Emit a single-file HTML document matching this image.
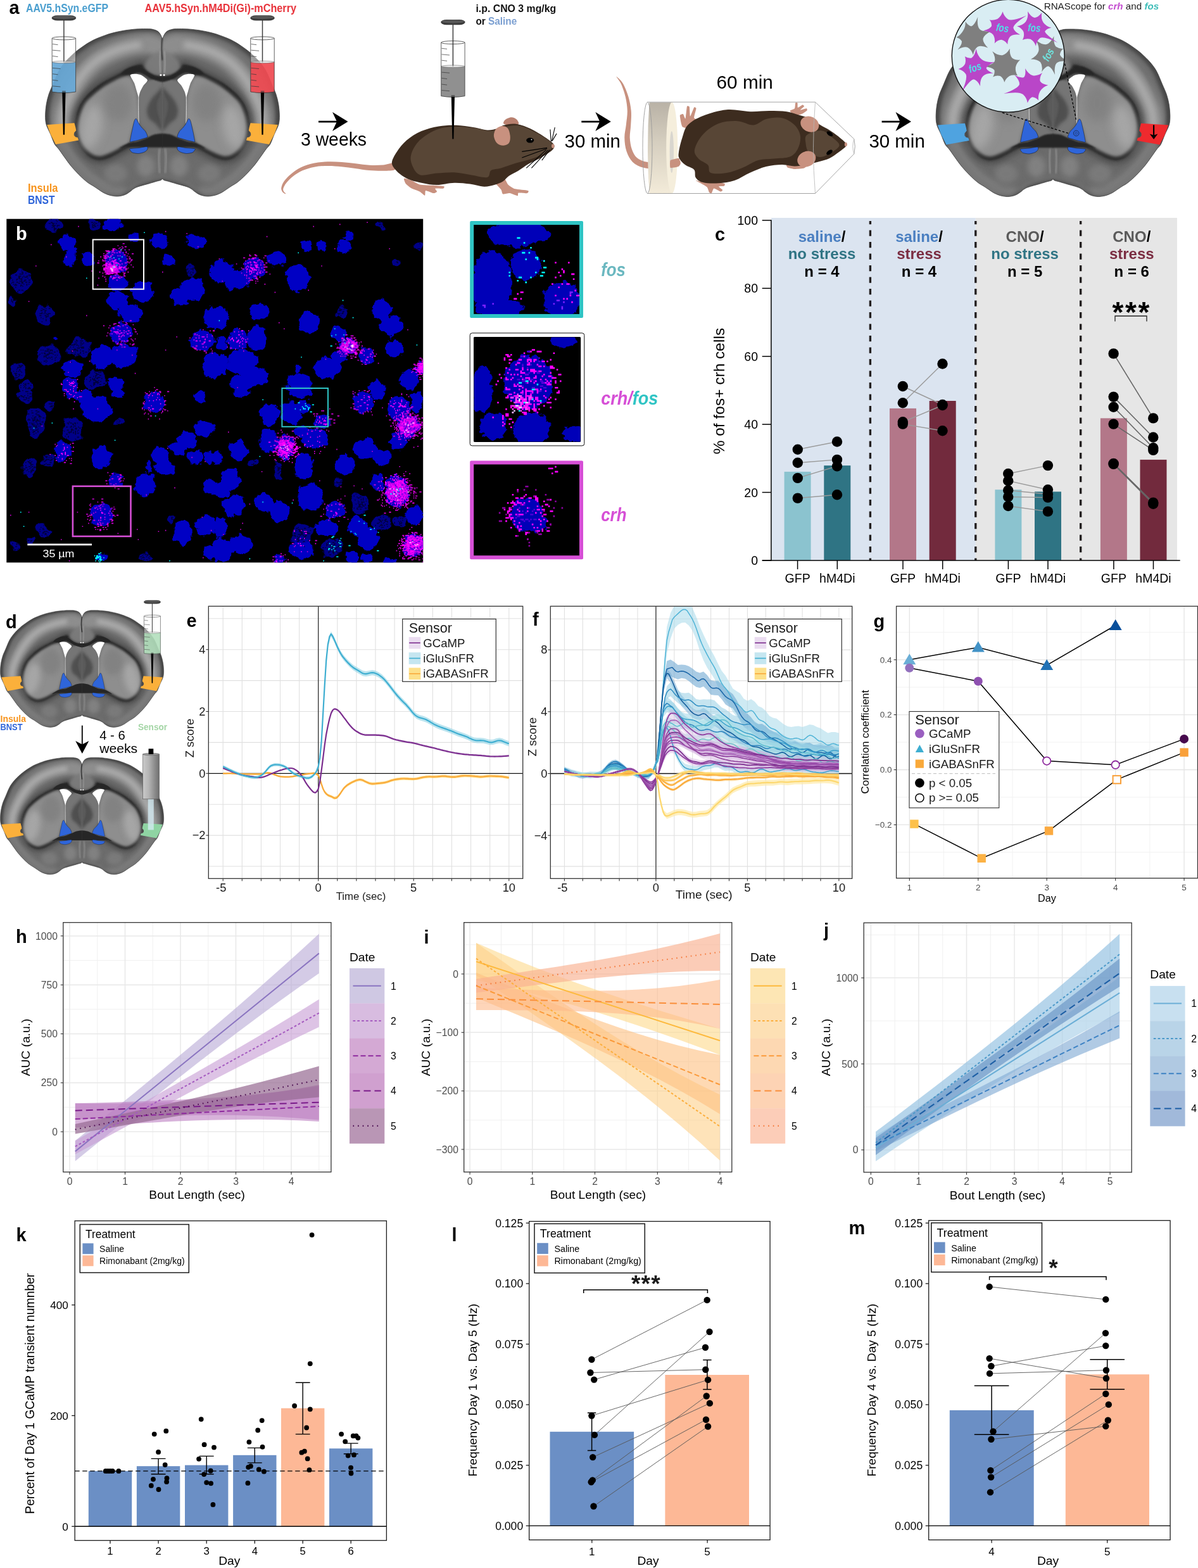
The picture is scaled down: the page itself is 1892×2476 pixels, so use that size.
<!DOCTYPE html>
<html lang="en"><head><meta charset="utf-8"><title>Figure</title>
<style>
html,body{margin:0;padding:0;background:#fff;}
body{width:1892px;height:2476px;overflow:hidden;}
svg{display:block;font-family:'Liberation Sans', Arial, Helvetica, sans-serif;}
</style></head><body>
<svg width="1892" height="2476" viewBox="0 0 1892 2476">
<rect width="1892" height="2476" fill="#fff"/>
<g id="panel_a">
<defs>
<filter id="bl1" x="-50%" y="-50%" width="200%" height="200%"><feGaussianBlur stdDeviation="0.9"/></filter>
<filter id="bl2" x="-50%" y="-50%" width="200%" height="200%"><feGaussianBlur stdDeviation="1.8"/></filter>
<filter id="bl3" x="-50%" y="-50%" width="200%" height="200%"><feGaussianBlur stdDeviation="2.7"/></filter>
<filter id="bl5" x="-50%" y="-50%" width="200%" height="200%"><feGaussianBlur stdDeviation="4.5"/></filter>
<filter id="bl8" x="-50%" y="-50%" width="200%" height="200%"><feGaussianBlur stdDeviation="7.2"/></filter>
<clipPath id="bclip"><path d="M256.4 61.1C256 60.3 255 57.5 254.2 55.9C253.3 54.2 252.5 52.6 251.4 51.4C250.3 50.1 248.9 49.1 247.3 48.3C245.7 47.5 244.2 47 242 46.5C239.9 46 238.2 45.7 234.3 45.6C230.3 45.4 223.1 45.5 218.3 45.7C213.4 45.9 209.5 46.4 205.1 46.9C200.7 47.4 196.3 48 191.9 48.9C187.5 49.7 183.1 50.6 178.7 51.8C174.3 52.9 169.9 54.3 165.5 55.9C161.1 57.4 156.3 59.3 152.3 61C148.4 62.7 145.1 64.4 141.8 66.3C138.5 68.1 135.6 70.1 132.5 72.2C129.5 74.3 126.2 76.6 123.3 78.8C120.5 81 118.7 82.3 115.4 85.4C112.1 88.5 107.3 92.9 103.5 97.3C99.8 101.7 96.3 105.8 93 111.8C89.7 117.7 86.4 126.7 83.7 132.9C81.1 139 78.9 143.4 77.1 148.7C75.4 154 74.1 159.1 73.2 164.5C72.3 170 71.7 176.4 71.6 181.7C71.6 187 71.6 191.1 72.9 196.2C74.3 201.3 77.6 206.8 79.8 212C82 217.2 84.1 223.6 86.2 227.5C88.4 231.3 89.9 231.6 92.4 235C95 238.3 97.9 242.9 101.3 247.5C104.6 252.1 108.5 257.8 112.5 262.6C116.5 267.3 120.9 272.1 125 276.3C129.2 280.4 133.8 284.6 137.6 287.5C141.3 290.4 144.6 291.9 147.5 293.8C150.4 295.7 152.5 297.2 155 298.8C157.5 300.5 159.6 302.3 162.5 303.8C165.4 305.4 168.8 307 172.5 308.1C176.3 309.1 180.9 310.1 185 310C189.2 310 193.9 308.9 197.4 307.5C201 306.2 204.2 303.3 206.3 301.9C208.4 300.4 208.1 300 210 298.8C211.8 297.7 213.3 296.5 217.5 295C221.7 293.5 230.1 291.4 235 290C240 288.5 244.3 287.2 247.4 286.3C250.6 285.4 252.4 285.3 253.9 284.6C255.4 283.9 256 282.6 256.4 282.2C257 282.6 257.6 283.9 259.1 284.6C260.6 285.3 262.4 285.4 265.6 286.3C268.7 287.2 273 288.5 278 290C282.9 291.4 291.3 293.5 295.5 295C299.7 296.5 301.2 297.7 303 298.8C304.9 300 304.6 300.4 306.7 301.9C308.8 303.3 312 306.2 315.6 307.5C319.1 308.9 323.8 310 328 310C332.1 310.1 336.7 309.1 340.5 308.1C344.2 307 347.6 305.4 350.5 303.8C353.4 302.3 355.5 300.5 358 298.8C360.5 297.2 362.6 295.7 365.5 293.8C368.4 291.9 371.7 290.4 375.4 287.5C379.2 284.6 383.8 280.4 388 276.3C392.1 272.1 396.5 267.3 400.5 262.6C404.5 257.8 408.4 252.1 411.7 247.5C415.1 242.9 418 238.3 420.6 235C423.1 231.6 424.6 231.3 426.8 227.5C428.9 223.6 431 217.2 433.2 212C435.4 206.8 438.7 201.3 440.1 196.2C441.4 191.1 441.4 187 441.4 181.7C441.3 176.4 440.7 170 439.8 164.5C438.9 159.1 437.6 154 435.9 148.7C434.1 143.4 431.9 139 429.3 132.9C426.6 126.7 423.3 117.7 420 111.8C416.7 105.8 413.2 101.7 409.5 97.3C405.7 92.9 400.9 88.5 397.6 85.4C394.3 82.3 392.5 81 389.7 78.8C386.8 76.6 383.5 74.3 380.5 72.2C377.4 70.1 374.5 68.1 371.2 66.3C367.9 64.4 364.6 62.7 360.7 61C356.7 59.3 351.9 57.4 347.5 55.9C343.1 54.3 338.7 52.9 334.3 51.8C329.9 50.6 325.5 49.7 321.1 48.9C316.7 48 312.3 47.4 307.9 46.9C303.5 46.4 299.6 45.9 294.7 45.7C289.9 45.5 282.7 45.4 278.7 45.6C274.8 45.7 273.1 46 271 46.5C268.8 47 267.3 47.5 265.7 48.3C264.1 49.1 262.7 50.1 261.6 51.4C260.5 52.6 259.7 54.2 258.8 55.9C258 57.5 257 60.3 256.6 61.1Z"/></clipPath>
<clipPath id="bhalf"><rect x="0" y="0" width="256.8" height="400"/></clipPath>
<g id="bhalfg" clip-path="url(#bhalf)"><path d="M247.3 73.5C245.6 72.9 241.6 70 236.8 69.6C231.9 69.1 224.7 70 218.3 70.9C211.9 71.8 205.1 73.1 198.5 74.8C191.9 76.6 185.1 78.8 178.7 81.4C172.3 84.1 166 87.2 160.3 90.7C154.5 94.2 149.5 97.9 144.4 102.5C139.4 107.2 134.5 112.4 129.9 118.4C125.3 124.3 120.7 131.3 116.7 138.2C112.8 145 109 152.7 106.2 159.3C103.3 165.9 101 171.6 99.6 177.7C98.1 183.9 97.9 193.1 97.6 196.2" fill="none" stroke="#909090" stroke-width="30" stroke-linecap="round" filter="url(#bl5)" opacity="0.95"/>
<path d="M218.3 70.9C215 71.6 205.1 73.1 198.5 74.8C191.9 76.6 185.1 78.8 178.7 81.4C172.3 84.1 166 87.2 160.3 90.7C154.5 94.2 149.5 97.9 144.4 102.5C139.4 107.2 134.5 112.4 129.9 118.4C125.3 124.3 120.7 131.3 116.7 138.2C112.8 145 109 152.7 106.2 159.3C103.3 165.9 101 171.6 99.6 177.7C98.1 183.9 97.9 193.1 97.6 196.2" fill="none" stroke="#b4b4b4" stroke-width="11" stroke-linecap="round" filter="url(#bl5)" opacity="0.8"/>
<path d="M99.6 233.1C101.8 236.7 107.9 247.6 112.8 254.2C117.6 260.8 123.1 267.2 128.6 272.7C134.1 278.2 139.6 283.3 145.7 287.2C151.9 291.2 158.9 294.7 165.5 296.5C172.1 298.2 182 297.6 185.3 297.8" fill="none" stroke="#7c7c7c" stroke-width="26" stroke-linecap="round" filter="url(#bl5)" opacity="0.9"/>
<path d="M160.3 254.2C162.9 250.3 171.2 252.9 178.7 251.6C186.2 250.3 196.3 247.6 205.1 246.3C213.9 245 223.3 244.1 231.5 243.7C239.6 243.3 250.2 238 253.9 243.7C257.6 249.4 257.6 271.8 253.9 278C250.2 284.1 238.5 279.3 231.5 280.6C224.4 281.9 218.3 283.7 211.7 285.9C205.1 288.1 197.8 292.9 191.9 293.8C186 294.7 180.9 294.3 176.1 291.2C171.2 288.1 165.5 281.5 162.9 275.4C160.3 269.2 157.6 258.2 160.3 254.2Z" fill="#6c6c6c" filter="url(#bl5)"/>
<ellipse cx="230.2" cy="262.2" rx="14" ry="17" fill="#868686" filter="url(#bl5)" opacity="0.8"/>
<ellipse cx="182.7" cy="274.0" rx="18" ry="15" fill="#7e7e7e" filter="url(#bl5)" opacity="0.8"/>
<path d="M256.5 125.6C254.6 125.1 248.4 124 244.7 122.3C240.9 120.7 237.2 117.9 234.1 115.7C231 113.5 228.4 110.9 226.2 109.1C224.1 107.4 223.9 105.3 221.2 105.5C218.5 105.6 213.9 108.1 210 109.9C206 111.7 201.6 114.2 197.4 116.3C193.3 118.4 189.2 120.4 185 122.5C180.9 124.6 176.7 126.5 172.5 128.8C168.3 131.1 164.2 133.3 160 136.2C155.8 139.1 151.2 142.9 147.5 146.2C143.7 149.6 140.5 152.7 137.6 156.2C134.7 159.8 132.1 163.5 130 167.4C128 171.4 126.3 175.8 125 180C123.8 184.1 123.2 188.4 122.7 192.2C122.2 196.1 121.9 199.1 122 202.8C122.1 206.5 122.4 210.9 123.3 214.7C124.2 218.4 125.5 221.7 127.3 225.2C129 228.7 131 232.5 133.9 235.8C136.7 239.1 140.7 242.8 144.4 245C148.2 247.2 152.1 248.7 156.3 249C160.5 249.2 165.1 247.9 169.5 246.3C173.9 244.8 178.5 241.9 182.7 239.7C186.9 237.5 190.8 235.1 194.5 233.1C198.3 231.2 203.3 228.7 205.1 227.9" fill="none" stroke="#3c3c3c" stroke-width="20" filter="url(#bl5)" opacity="0.6"/>
<path d="M256.5 125.6C254.6 125.1 248.4 124 244.7 122.3C240.9 120.7 237.2 117.9 234.1 115.7C231 113.5 228.4 110.9 226.2 109.1C224.1 107.4 223.9 105.3 221.2 105.5C218.5 105.6 213.9 108.1 210 109.9C206 111.7 201.6 114.2 197.4 116.3C193.3 118.4 189.2 120.4 185 122.5C180.9 124.6 176.7 126.5 172.5 128.8C168.3 131.1 164.2 133.3 160 136.2C155.8 139.1 151.2 142.9 147.5 146.2C143.7 149.6 140.5 152.7 137.6 156.2C134.7 159.8 132.1 163.5 130 167.4C128 171.4 126.3 175.8 125 180C123.8 184.1 123.2 188.4 122.7 192.2C122.2 196.1 121.9 199.1 122 202.8C122.1 206.5 122.4 210.9 123.3 214.7C124.2 218.4 125.5 221.7 127.3 225.2C129 228.7 131 232.5 133.9 235.8C136.7 239.1 140.7 242.8 144.4 245C148.2 247.2 152.1 248.7 156.3 249C160.5 249.2 165.1 247.9 169.5 246.3C173.9 244.8 178.5 241.9 182.7 239.7C186.9 237.5 190.8 235.1 194.5 233.1C198.3 231.2 203.3 228.7 205.1 227.9" fill="none" stroke="#2c2c2c" stroke-width="8" filter="url(#bl2)" opacity="0.9"/>
<path d="M221.2 105.5C219.3 106.2 213.9 108.1 210 109.9C206 111.7 201.6 114.2 197.4 116.3C193.3 118.4 189.2 120.4 185 122.5C180.9 124.6 176.7 126.5 172.5 128.8C168.3 131.1 164.2 133.3 160 136.2C155.8 139.1 151.2 142.9 147.5 146.2C143.7 149.6 140.5 152.7 137.6 156.2C134.7 159.8 132.1 163.5 130 167.4C128 171.4 125.9 177.9 125 180" fill="none" stroke="#2a2a2a" stroke-width="4.5" stroke-linecap="round" filter="url(#bl1)" opacity="0.95"/>
<path d="M205.1 121C208.4 122.8 209.8 128.3 211.7 132.9C213.6 137.5 215.2 142.8 216.3 148.7C217.4 154.7 217.9 161.9 218.3 168.5C218.7 175.1 220.3 182.8 219 188.3C217.6 193.8 212.5 197.1 210.4 201.5C208.3 205.9 207.6 210.5 206.4 214.7C205.2 218.8 205.5 223.7 203.1 226.5C200.7 229.4 196 229.7 191.9 231.8C187.8 233.9 183.1 237 178.7 239.1C174.3 241.2 169.5 243.1 165.5 244.4C161.6 245.6 158.5 246.7 155 246.3C151.5 246 147.7 244.5 144.4 242.4C141.1 240.3 137.7 236.9 135.2 233.8C132.7 230.7 130.9 227.3 129.3 223.9C127.6 220.5 126.2 217.1 125.3 213.4C124.4 209.6 123.9 205.7 124 201.5C124 197.3 124.7 192.7 125.6 188.3C126.4 183.9 127.6 179.4 129.3 175.1C130.9 170.8 132.9 166.1 135.2 162.6C137.5 159.1 140 157 143.1 154C146.2 151 149.9 147.7 153.7 144.8C157.4 141.8 161.3 138.8 165.5 136.2C169.7 133.5 174.3 131.2 178.7 128.9C183.1 126.6 187.5 123.7 191.9 122.3C196.3 121 201.8 119.3 205.1 121Z" fill="#8e8e8e" filter="url(#bl3)"/>
<ellipse cx="144.4" cy="200.2" rx="17" ry="36" fill="#a9a9a9" filter="url(#bl8)" opacity="0.9" transform="rotate(12 144.4 200.2)"/>
<ellipse cx="186.6" cy="161.9" rx="22" ry="30" fill="#7a7a7a" filter="url(#bl8)" opacity="0.6"/>
<path d="M221.3 145C222.8 138.3 226.2 135.7 229 132.6C231.9 129.5 233.8 126.9 238.3 126.4C242.9 125.9 253.4 115.3 256.4 129.5C259.5 143.7 258.4 197.7 256.4 211.5C254.5 225.3 248.1 211.5 244.5 212.3C241 213.1 237.3 216.1 235.2 216.2C233.2 216.3 233.2 215.2 232.1 213.1C231.1 211 230.7 206.9 229 203.8C227.4 200.7 223.6 199.7 222.1 194.5C220.6 189.4 220.2 181.1 220.1 172.9C219.9 164.6 219.8 151.7 221.3 145Z" fill="#757575" filter="url(#bl2)"/>
<path d="M256.4 135.7C255.2 137.3 252.2 141.4 249.2 145C246.1 148.6 241.2 152.7 238.3 157.4C235.5 162 232.7 168 232.1 172.9C231.6 177.8 233.2 183.2 235.2 186.8C237.3 190.4 241.7 191.7 244.5 194.5C247.4 197.4 250.3 201.5 252.3 203.8C254.2 206.1 255.7 207.7 256.4 208.5Z" fill="#4e4e4e" filter="url(#bl3)" opacity="0.95"/>
<path d="M256.4 145C255.7 146.3 253.7 149.6 252.3 152.7C250.8 155.8 248.1 159.2 247.6 163.6C247.1 168 248.1 174.4 249.2 179C250.2 183.7 252.6 188.1 253.8 191.4C255 194.8 256 197.9 256.4 199.2Z" fill="#5c5c5c" filter="url(#bl2)" opacity="0.9"/>
<path d="M256.4 80C253.9 81 245.7 83.1 241.4 86.2C237.1 89.3 232.7 95 230.6 98.6C228.5 102.2 227.8 104.9 229 107.9C230.3 110.8 233.8 114.3 238.3 116.4C242.9 118.5 253.4 119.9 256.4 120.5Z" fill="#7d7d7d" filter="url(#bl3)" opacity="0.9"/>
<path d="M253.8 80C253.6 83.1 252.3 92.6 252.3 98.6C252.3 104.5 253.6 112.8 253.8 115.6" fill="none" stroke="#a0a0a0" stroke-width="3" filter="url(#bl2)" opacity="0.8"/>
<path d="M268.4 119.5C266.8 118.7 259.6 120.5 256.4 120.5C253.3 120.5 247.4 120.2 244.5 119.5C241.7 118.7 237.7 116.3 235.2 114.8C232.8 113.4 228.4 110 226 108.6C223.5 107.2 219.1 104.9 216.7 104.5C214.2 104 210.1 104.7 207.4 105.5C204.7 106.4 198.6 109.4 196.5 111C194.5 112.5 190.7 116.2 191.9 117.1C193.1 118.1 203.2 118.2 205.8 118.1C208.5 117.9 210.2 116.3 212 115.9C213.9 115.5 217.5 114.7 219.8 115C222 115.3 227 117.2 229 118.1C231.1 119 233.2 120.7 235.2 121.8C237.3 122.9 241.7 125.4 244.5 126.4C247.4 127.4 253.3 129.2 256.4 129.2C259.6 129.2 266.8 127.7 268.4 126.4C269.9 125.1 269.9 120.2 268.4 119.5Z" fill="#262626" filter="url(#bl1)"/>
<path d="M205.8 118.7C206 117 211.6 116.9 213.6 116.8C215.6 116.8 220.6 117.3 222.9 118.4C225.1 119.5 232.5 124.4 232.9 126.4C233.3 128.4 227.6 133.3 226.3 135.4C224.9 137.5 222.5 142.2 221.6 144.2C220.8 146.2 219.5 151.7 219.1 152.7C218.8 153.7 218.9 153.7 218.5 152.7C218.2 151.7 216.8 146.8 216 144.2C215.3 141.7 213.2 134.1 212 131.1C210.8 128.1 205.7 120.4 205.8 118.7Z" fill="#fff"/>
<path d="M218.8 151.2C218.8 153.8 218.7 161.5 218.7 166.7C218.7 171.8 218.8 177.4 218.8 182.1C218.9 186.9 219.1 193.1 219.1 195.3" fill="none" stroke="#fff" stroke-width="0.9" opacity="0.85"/>
<path d="M268.4 212.3C266.8 209.4 259.6 210.8 256.4 210.8C253.3 210.8 247.4 211.6 244.5 212.3C241.7 213 237.7 215.2 235.2 216.2C232.8 217.2 228.4 219.1 226 220.1C223.5 221 219.3 222.5 216.7 223.2C214 223.8 208.5 224.2 205.8 225C203.2 225.8 198.8 228 196.5 229.3C194.3 230.6 188.6 234.4 188.8 234.8C189 235.2 195.6 232.7 198.1 232.4C200.6 232.2 204.1 232.7 207.4 232.8C210.7 232.8 218.7 232.8 222.9 232.8C227 232.8 233.9 232.8 238.3 232.8C242.8 232.8 252.4 232.8 256.4 232.8C260.4 232.8 266.8 235.5 268.4 232.8C269.9 230 269.9 215.3 268.4 212.3Z" fill="#262626" filter="url(#bl1)"/>
<path d="M252.3 234.8C252 237.3 250.7 243.8 250.7 250.2C250.7 256.7 252 269.6 252.3 273.5" fill="none" stroke="#8c8c8c" stroke-width="4" filter="url(#bl2)" opacity="0.8"/></g>
<g id="brain">
<path d="M256.4 61.1C256 60.3 255 57.5 254.2 55.9C253.3 54.2 252.5 52.6 251.4 51.4C250.3 50.1 248.9 49.1 247.3 48.3C245.7 47.5 244.2 47 242 46.5C239.9 46 238.2 45.7 234.3 45.6C230.3 45.4 223.1 45.5 218.3 45.7C213.4 45.9 209.5 46.4 205.1 46.9C200.7 47.4 196.3 48 191.9 48.9C187.5 49.7 183.1 50.6 178.7 51.8C174.3 52.9 169.9 54.3 165.5 55.9C161.1 57.4 156.3 59.3 152.3 61C148.4 62.7 145.1 64.4 141.8 66.3C138.5 68.1 135.6 70.1 132.5 72.2C129.5 74.3 126.2 76.6 123.3 78.8C120.5 81 118.7 82.3 115.4 85.4C112.1 88.5 107.3 92.9 103.5 97.3C99.8 101.7 96.3 105.8 93 111.8C89.7 117.7 86.4 126.7 83.7 132.9C81.1 139 78.9 143.4 77.1 148.7C75.4 154 74.1 159.1 73.2 164.5C72.3 170 71.7 176.4 71.6 181.7C71.6 187 71.6 191.1 72.9 196.2C74.3 201.3 77.6 206.8 79.8 212C82 217.2 84.1 223.6 86.2 227.5C88.4 231.3 89.9 231.6 92.4 235C95 238.3 97.9 242.9 101.3 247.5C104.6 252.1 108.5 257.8 112.5 262.6C116.5 267.3 120.9 272.1 125 276.3C129.2 280.4 133.8 284.6 137.6 287.5C141.3 290.4 144.6 291.9 147.5 293.8C150.4 295.7 152.5 297.2 155 298.8C157.5 300.5 159.6 302.3 162.5 303.8C165.4 305.4 168.8 307 172.5 308.1C176.3 309.1 180.9 310.1 185 310C189.2 310 193.9 308.9 197.4 307.5C201 306.2 204.2 303.3 206.3 301.9C208.4 300.4 208.1 300 210 298.8C211.8 297.7 213.3 296.5 217.5 295C221.7 293.5 230.1 291.4 235 290C240 288.5 244.3 287.2 247.4 286.3C250.6 285.4 252.4 285.3 253.9 284.6C255.4 283.9 256 282.6 256.4 282.2C257 282.6 257.6 283.9 259.1 284.6C260.6 285.3 262.4 285.4 265.6 286.3C268.7 287.2 273 288.5 278 290C282.9 291.4 291.3 293.5 295.5 295C299.7 296.5 301.2 297.7 303 298.8C304.9 300 304.6 300.4 306.7 301.9C308.8 303.3 312 306.2 315.6 307.5C319.1 308.9 323.8 310 328 310C332.1 310.1 336.7 309.1 340.5 308.1C344.2 307 347.6 305.4 350.5 303.8C353.4 302.3 355.5 300.5 358 298.8C360.5 297.2 362.6 295.7 365.5 293.8C368.4 291.9 371.7 290.4 375.4 287.5C379.2 284.6 383.8 280.4 388 276.3C392.1 272.1 396.5 267.3 400.5 262.6C404.5 257.8 408.4 252.1 411.7 247.5C415.1 242.9 418 238.3 420.6 235C423.1 231.6 424.6 231.3 426.8 227.5C428.9 223.6 431 217.2 433.2 212C435.4 206.8 438.7 201.3 440.1 196.2C441.4 191.1 441.4 187 441.4 181.7C441.3 176.4 440.7 170 439.8 164.5C438.9 159.1 437.6 154 435.9 148.7C434.1 143.4 431.9 139 429.3 132.9C426.6 126.7 423.3 117.7 420 111.8C416.7 105.8 413.2 101.7 409.5 97.3C405.7 92.9 400.9 88.5 397.6 85.4C394.3 82.3 392.5 81 389.7 78.8C386.8 76.6 383.5 74.3 380.5 72.2C377.4 70.1 374.5 68.1 371.2 66.3C367.9 64.4 364.6 62.7 360.7 61C356.7 59.3 351.9 57.4 347.5 55.9C343.1 54.3 338.7 52.9 334.3 51.8C329.9 50.6 325.5 49.7 321.1 48.9C316.7 48 312.3 47.4 307.9 46.9C303.5 46.4 299.6 45.9 294.7 45.7C289.9 45.5 282.7 45.4 278.7 45.6C274.8 45.7 273.1 46 271 46.5C268.8 47 267.3 47.5 265.7 48.3C264.1 49.1 262.7 50.1 261.6 51.4C260.5 52.6 259.7 54.2 258.8 55.9C258 57.5 257 60.3 256.6 61.1Z" fill="#474747"/>
<g clip-path="url(#bclip)">
<path d="M256.4 61.1C256 60.3 255 57.5 254.2 55.9C253.3 54.2 252.5 52.6 251.4 51.4C250.3 50.1 248.9 49.1 247.3 48.3C245.7 47.5 244.2 47 242 46.5C239.9 46 238.2 45.7 234.3 45.6C230.3 45.4 223.1 45.5 218.3 45.7C213.4 45.9 209.5 46.4 205.1 46.9C200.7 47.4 196.3 48 191.9 48.9C187.5 49.7 183.1 50.6 178.7 51.8C174.3 52.9 169.9 54.3 165.5 55.9C161.1 57.4 156.3 59.3 152.3 61C148.4 62.7 145.1 64.4 141.8 66.3C138.5 68.1 135.6 70.1 132.5 72.2C129.5 74.3 126.2 76.6 123.3 78.8C120.5 81 118.7 82.3 115.4 85.4C112.1 88.5 107.3 92.9 103.5 97.3C99.8 101.7 96.3 105.8 93 111.8C89.7 117.7 86.4 126.7 83.7 132.9C81.1 139 78.9 143.4 77.1 148.7C75.4 154 74.1 159.1 73.2 164.5C72.3 170 71.7 176.4 71.6 181.7C71.6 187 71.6 191.1 72.9 196.2C74.3 201.3 77.6 206.8 79.8 212C82 217.2 84.1 223.6 86.2 227.5C88.4 231.3 89.9 231.6 92.4 235C95 238.3 97.9 242.9 101.3 247.5C104.6 252.1 108.5 257.8 112.5 262.6C116.5 267.3 120.9 272.1 125 276.3C129.2 280.4 133.8 284.6 137.6 287.5C141.3 290.4 144.6 291.9 147.5 293.8C150.4 295.7 152.5 297.2 155 298.8C157.5 300.5 159.6 302.3 162.5 303.8C165.4 305.4 168.8 307 172.5 308.1C176.3 309.1 180.9 310.1 185 310C189.2 310 193.9 308.9 197.4 307.5C201 306.2 204.2 303.3 206.3 301.9C208.4 300.4 208.1 300 210 298.8C211.8 297.7 213.3 296.5 217.5 295C221.7 293.5 230.1 291.4 235 290C240 288.5 244.3 287.2 247.4 286.3C250.6 285.4 252.4 285.3 253.9 284.6C255.4 283.9 256 282.6 256.4 282.2C257 282.6 257.6 283.9 259.1 284.6C260.6 285.3 262.4 285.4 265.6 286.3C268.7 287.2 273 288.5 278 290C282.9 291.4 291.3 293.5 295.5 295C299.7 296.5 301.2 297.7 303 298.8C304.9 300 304.6 300.4 306.7 301.9C308.8 303.3 312 306.2 315.6 307.5C319.1 308.9 323.8 310 328 310C332.1 310.1 336.7 309.1 340.5 308.1C344.2 307 347.6 305.4 350.5 303.8C353.4 302.3 355.5 300.5 358 298.8C360.5 297.2 362.6 295.7 365.5 293.8C368.4 291.9 371.7 290.4 375.4 287.5C379.2 284.6 383.8 280.4 388 276.3C392.1 272.1 396.5 267.3 400.5 262.6C404.5 257.8 408.4 252.1 411.7 247.5C415.1 242.9 418 238.3 420.6 235C423.1 231.6 424.6 231.3 426.8 227.5C428.9 223.6 431 217.2 433.2 212C435.4 206.8 438.7 201.3 440.1 196.2C441.4 191.1 441.4 187 441.4 181.7C441.3 176.4 440.7 170 439.8 164.5C438.9 159.1 437.6 154 435.9 148.7C434.1 143.4 431.9 139 429.3 132.9C426.6 126.7 423.3 117.7 420 111.8C416.7 105.8 413.2 101.7 409.5 97.3C405.7 92.9 400.9 88.5 397.6 85.4C394.3 82.3 392.5 81 389.7 78.8C386.8 76.6 383.5 74.3 380.5 72.2C377.4 70.1 374.5 68.1 371.2 66.3C367.9 64.4 364.6 62.7 360.7 61C356.7 59.3 351.9 57.4 347.5 55.9C343.1 54.3 338.7 52.9 334.3 51.8C329.9 50.6 325.5 49.7 321.1 48.9C316.7 48 312.3 47.4 307.9 46.9C303.5 46.4 299.6 45.9 294.7 45.7C289.9 45.5 282.7 45.4 278.7 45.6C274.8 45.7 273.1 46 271 46.5C268.8 47 267.3 47.5 265.7 48.3C264.1 49.1 262.7 50.1 261.6 51.4C260.5 52.6 259.7 54.2 258.8 55.9C258 57.5 257 60.3 256.6 61.1Z" fill="none" stroke="#6e6e6e" stroke-width="14" filter="url(#bl3)" transform="translate(256.5 178) scale(0.93 0.92) translate(-256.5 -178)"/>
<path d="M256.4 61.1C256 60.3 255 57.5 254.2 55.9C253.3 54.2 252.5 52.6 251.4 51.4C250.3 50.1 248.9 49.1 247.3 48.3C245.7 47.5 244.2 47 242 46.5C239.9 46 238.2 45.7 234.3 45.6C230.3 45.4 223.1 45.5 218.3 45.7C213.4 45.9 209.5 46.4 205.1 46.9C200.7 47.4 196.3 48 191.9 48.9C187.5 49.7 183.1 50.6 178.7 51.8C174.3 52.9 169.9 54.3 165.5 55.9C161.1 57.4 156.3 59.3 152.3 61C148.4 62.7 145.1 64.4 141.8 66.3C138.5 68.1 135.6 70.1 132.5 72.2C129.5 74.3 126.2 76.6 123.3 78.8C120.5 81 118.7 82.3 115.4 85.4C112.1 88.5 107.3 92.9 103.5 97.3C99.8 101.7 96.3 105.8 93 111.8C89.7 117.7 86.4 126.7 83.7 132.9C81.1 139 78.9 143.4 77.1 148.7C75.4 154 74.1 159.1 73.2 164.5C72.3 170 71.7 176.4 71.6 181.7C71.6 187 71.6 191.1 72.9 196.2C74.3 201.3 77.6 206.8 79.8 212C82 217.2 84.1 223.6 86.2 227.5C88.4 231.3 89.9 231.6 92.4 235C95 238.3 97.9 242.9 101.3 247.5C104.6 252.1 108.5 257.8 112.5 262.6C116.5 267.3 120.9 272.1 125 276.3C129.2 280.4 133.8 284.6 137.6 287.5C141.3 290.4 144.6 291.9 147.5 293.8C150.4 295.7 152.5 297.2 155 298.8C157.5 300.5 159.6 302.3 162.5 303.8C165.4 305.4 168.8 307 172.5 308.1C176.3 309.1 180.9 310.1 185 310C189.2 310 193.9 308.9 197.4 307.5C201 306.2 204.2 303.3 206.3 301.9C208.4 300.4 208.1 300 210 298.8C211.8 297.7 213.3 296.5 217.5 295C221.7 293.5 230.1 291.4 235 290C240 288.5 244.3 287.2 247.4 286.3C250.6 285.4 252.4 285.3 253.9 284.6C255.4 283.9 256 282.6 256.4 282.2C257 282.6 257.6 283.9 259.1 284.6C260.6 285.3 262.4 285.4 265.6 286.3C268.7 287.2 273 288.5 278 290C282.9 291.4 291.3 293.5 295.5 295C299.7 296.5 301.2 297.7 303 298.8C304.9 300 304.6 300.4 306.7 301.9C308.8 303.3 312 306.2 315.6 307.5C319.1 308.9 323.8 310 328 310C332.1 310.1 336.7 309.1 340.5 308.1C344.2 307 347.6 305.4 350.5 303.8C353.4 302.3 355.5 300.5 358 298.8C360.5 297.2 362.6 295.7 365.5 293.8C368.4 291.9 371.7 290.4 375.4 287.5C379.2 284.6 383.8 280.4 388 276.3C392.1 272.1 396.5 267.3 400.5 262.6C404.5 257.8 408.4 252.1 411.7 247.5C415.1 242.9 418 238.3 420.6 235C423.1 231.6 424.6 231.3 426.8 227.5C428.9 223.6 431 217.2 433.2 212C435.4 206.8 438.7 201.3 440.1 196.2C441.4 191.1 441.4 187 441.4 181.7C441.3 176.4 440.7 170 439.8 164.5C438.9 159.1 437.6 154 435.9 148.7C434.1 143.4 431.9 139 429.3 132.9C426.6 126.7 423.3 117.7 420 111.8C416.7 105.8 413.2 101.7 409.5 97.3C405.7 92.9 400.9 88.5 397.6 85.4C394.3 82.3 392.5 81 389.7 78.8C386.8 76.6 383.5 74.3 380.5 72.2C377.4 70.1 374.5 68.1 371.2 66.3C367.9 64.4 364.6 62.7 360.7 61C356.7 59.3 351.9 57.4 347.5 55.9C343.1 54.3 338.7 52.9 334.3 51.8C329.9 50.6 325.5 49.7 321.1 48.9C316.7 48 312.3 47.4 307.9 46.9C303.5 46.4 299.6 45.9 294.7 45.7C289.9 45.5 282.7 45.4 278.7 45.6C274.8 45.7 273.1 46 271 46.5C268.8 47 267.3 47.5 265.7 48.3C264.1 49.1 262.7 50.1 261.6 51.4C260.5 52.6 259.7 54.2 258.8 55.9C258 57.5 257 60.3 256.6 61.1Z" fill="#6a6a6a" filter="url(#bl3)" transform="translate(256.5 178) scale(0.9 0.9) translate(-256.5 -178)"/>
<use href="#bhalfg"/>
<use href="#bhalfg" transform="translate(513.0 0) scale(-1 1)"/>
<path d="M256.5 62 V284" stroke="#2e2e2e" stroke-width="1.6" fill="none" filter="url(#bl1)" opacity="0.8"/>
<path d="M256.5 60 Q253.5 75 256.5 95" stroke="#3a3a3a" stroke-width="2.5" fill="none" filter="url(#bl1)"/>
<circle cx="253.9" cy="118.6" r="1.5" fill="#fff"/><circle cx="259.1" cy="118.6" r="1.5" fill="#fff"/>
</g>
<path d="M256.4 61.1C256 60.3 255 57.5 254.2 55.9C253.3 54.2 252.5 52.6 251.4 51.4C250.3 50.1 248.9 49.1 247.3 48.3C245.7 47.5 244.2 47 242 46.5C239.9 46 238.2 45.7 234.3 45.6C230.3 45.4 223.1 45.5 218.3 45.7C213.4 45.9 209.5 46.4 205.1 46.9C200.7 47.4 196.3 48 191.9 48.9C187.5 49.7 183.1 50.6 178.7 51.8C174.3 52.9 169.9 54.3 165.5 55.9C161.1 57.4 156.3 59.3 152.3 61C148.4 62.7 145.1 64.4 141.8 66.3C138.5 68.1 135.6 70.1 132.5 72.2C129.5 74.3 126.2 76.6 123.3 78.8C120.5 81 118.7 82.3 115.4 85.4C112.1 88.5 107.3 92.9 103.5 97.3C99.8 101.7 96.3 105.8 93 111.8C89.7 117.7 86.4 126.7 83.7 132.9C81.1 139 78.9 143.4 77.1 148.7C75.4 154 74.1 159.1 73.2 164.5C72.3 170 71.7 176.4 71.6 181.7C71.6 187 71.6 191.1 72.9 196.2C74.3 201.3 77.6 206.8 79.8 212C82 217.2 84.1 223.6 86.2 227.5C88.4 231.3 89.9 231.6 92.4 235C95 238.3 97.9 242.9 101.3 247.5C104.6 252.1 108.5 257.8 112.5 262.6C116.5 267.3 120.9 272.1 125 276.3C129.2 280.4 133.8 284.6 137.6 287.5C141.3 290.4 144.6 291.9 147.5 293.8C150.4 295.7 152.5 297.2 155 298.8C157.5 300.5 159.6 302.3 162.5 303.8C165.4 305.4 168.8 307 172.5 308.1C176.3 309.1 180.9 310.1 185 310C189.2 310 193.9 308.9 197.4 307.5C201 306.2 204.2 303.3 206.3 301.9C208.4 300.4 208.1 300 210 298.8C211.8 297.7 213.3 296.5 217.5 295C221.7 293.5 230.1 291.4 235 290C240 288.5 244.3 287.2 247.4 286.3C250.6 285.4 252.4 285.3 253.9 284.6C255.4 283.9 256 282.6 256.4 282.2C257 282.6 257.6 283.9 259.1 284.6C260.6 285.3 262.4 285.4 265.6 286.3C268.7 287.2 273 288.5 278 290C282.9 291.4 291.3 293.5 295.5 295C299.7 296.5 301.2 297.7 303 298.8C304.9 300 304.6 300.4 306.7 301.9C308.8 303.3 312 306.2 315.6 307.5C319.1 308.9 323.8 310 328 310C332.1 310.1 336.7 309.1 340.5 308.1C344.2 307 347.6 305.4 350.5 303.8C353.4 302.3 355.5 300.5 358 298.8C360.5 297.2 362.6 295.7 365.5 293.8C368.4 291.9 371.7 290.4 375.4 287.5C379.2 284.6 383.8 280.4 388 276.3C392.1 272.1 396.5 267.3 400.5 262.6C404.5 257.8 408.4 252.1 411.7 247.5C415.1 242.9 418 238.3 420.6 235C423.1 231.6 424.6 231.3 426.8 227.5C428.9 223.6 431 217.2 433.2 212C435.4 206.8 438.7 201.3 440.1 196.2C441.4 191.1 441.4 187 441.4 181.7C441.3 176.4 440.7 170 439.8 164.5C438.9 159.1 437.6 154 435.9 148.7C434.1 143.4 431.9 139 429.3 132.9C426.6 126.7 423.3 117.7 420 111.8C416.7 105.8 413.2 101.7 409.5 97.3C405.7 92.9 400.9 88.5 397.6 85.4C394.3 82.3 392.5 81 389.7 78.8C386.8 76.6 383.5 74.3 380.5 72.2C377.4 70.1 374.5 68.1 371.2 66.3C367.9 64.4 364.6 62.7 360.7 61C356.7 59.3 351.9 57.4 347.5 55.9C343.1 54.3 338.7 52.9 334.3 51.8C329.9 50.6 325.5 49.7 321.1 48.9C316.7 48 312.3 47.4 307.9 46.9C303.5 46.4 299.6 45.9 294.7 45.7C289.9 45.5 282.7 45.4 278.7 45.6C274.8 45.7 273.1 46 271 46.5C268.8 47 267.3 47.5 265.7 48.3C264.1 49.1 262.7 50.1 261.6 51.4C260.5 52.6 259.7 54.2 258.8 55.9C258 57.5 257 60.3 256.6 61.1Z" fill="none" stroke="#3c3c3c" stroke-width="1" opacity="0.7"/>
</g>
<g id="bnstL"><path d="M213.6 188C214.1 187.4 214.9 187.2 215.4 187.7C216 188.2 216.9 190.5 217.6 191.7C218.3 193 219.6 195.6 220.5 197C221.5 198.4 223.6 201 224.7 202.3C225.8 203.5 228.1 205.4 229 206.6C230 207.8 231.3 210.4 231.8 211.5C232.3 212.7 232.9 214.2 232.9 215C233 215.7 233.1 216.6 232.1 217.1C231.2 217.7 227.4 218.6 225.6 219.1C223.9 219.7 220.8 220.6 219 221.1C217.2 221.6 213.8 222.5 212 222.8C210.3 223.2 206.7 224.1 205.8 224.1C204.9 224 205.3 223.4 205.4 222.4C205.5 221.3 206.1 218 206.5 216.2C206.8 214.3 207.5 210.6 208 208.5C208.5 206.3 209.4 202.1 209.9 199.9C210.4 197.8 211.2 193.8 211.7 192.2C212.2 190.6 213.1 188.6 213.6 188Z"/><path d="M205.5 234.8C207.3 234.2 215.4 233.9 219 233.5C222.5 233.1 230.3 231.3 232.1 231.7C234 232 233.2 235.2 232.6 236.3C232 237.4 229.7 239.4 227.8 240.2C225.9 241 221 242.4 218.5 242.5C216 242.6 211 241.6 209.2 241C207.5 240.3 206.2 238.4 205.7 237.5C205.2 236.7 203.7 235.3 205.5 234.8Z"/></g>
<path id="insL" d="M74.2 196.9 L117.4 194.2 L119.4 201.5 L120.2 206.1 L117.0 209.7 L116.7 213.6 L119.0 216.3 L122.8 217.3 L124.1 221.5 L88.0 228.1 L79.8 212.0Z"/>
</defs>
<g transform="translate(0.00 0.00) scale(1.0000)">
<use href="#brain"/>
<use href="#bnstL" fill="#2f65d9" stroke="#111" stroke-width="0.5"/>
<use href="#bnstL" fill="#2f65d9" stroke="#111" stroke-width="0.5" transform="translate(513.0 0) scale(-1 1)"/>
<use href="#insL" fill="#fbb03b"/>
<use href="#insL" fill="#fbb03b" transform="translate(513.0 0) scale(-1 1)"/>
</g>
<g transform="translate(0.00 0.00) scale(1.0000)">
<rect x="82.2" y="60.4" width="37.4" height="84.6" fill="#fff" fill-opacity="0.45"/>
<line x1="100.9" y1="30.0" x2="100.9" y2="98.5" stroke="#2a2a2a" stroke-width="1.5" stroke-opacity="0.9"/>
<path d="M82.2 98 Q100.9 101 119.6 98 V145 Q100.9 148.4 82.2 145Z" fill="#5fa3d4" fill-opacity="0.88"/>
<ellipse cx="100.9" cy="98" rx="18.7" ry="1.7" fill="#ddd" fill-opacity="0.55" stroke="#555" stroke-width="0.5"/>
<path d="M82.2 60.4 V145 Q100.9 148.4 119.6 145 V60.4" fill="none" stroke="#3a3a3a" stroke-width="0.8"/>
<ellipse cx="100.9" cy="60.4" rx="18.7" ry="2.5" fill="none" stroke="#3a3a3a" stroke-width="0.8"/>
<path d="M83 69.6 L91.5 70.7" stroke="#333" stroke-width="0.7" fill="none"/>
<path d="M83 79.2 L95.5 80.3" stroke="#333" stroke-width="0.7" fill="none"/>
<path d="M83 88.5 L91.5 89.6" stroke="#333" stroke-width="0.7" fill="none"/>
<path d="M83 107.4 L95.5 108.5" stroke="#333" stroke-width="0.7" fill="none"/>
<path d="M83 116.7 L91.5 117.8" stroke="#333" stroke-width="0.7" fill="none"/>
<path d="M83 126.3 L91.5 127.4" stroke="#333" stroke-width="0.7" fill="none"/>
<path d="M83 135.9 L95.5 137.0" stroke="#333" stroke-width="0.7" fill="none"/>
<rect x="81.7" y="24.3" width="38.4" height="8.2" rx="9" ry="4.1" fill="#3a3a3a"/>
<ellipse cx="100.9" cy="27.4" rx="18" ry="2.6" fill="#575757"/>
<rect x="98.1" y="143.5" width="5.6" height="3.2" fill="#333" fill-opacity="0.6"/>
<polygon points="98.3,146.3 103.5,146.3 102.0,212.7 99.8,212.7" fill="#000"/>
</g>
<g transform="translate(313.60 0.00) scale(1.0000)">
<rect x="82.2" y="60.4" width="37.4" height="84.6" fill="#fff" fill-opacity="0.45"/>
<line x1="100.9" y1="30.0" x2="100.9" y2="98.5" stroke="#2a2a2a" stroke-width="1.5" stroke-opacity="0.9"/>
<path d="M82.2 98 Q100.9 101 119.6 98 V145 Q100.9 148.4 82.2 145Z" fill="#ee4048" fill-opacity="0.88"/>
<ellipse cx="100.9" cy="98" rx="18.7" ry="1.7" fill="#ddd" fill-opacity="0.55" stroke="#555" stroke-width="0.5"/>
<path d="M82.2 60.4 V145 Q100.9 148.4 119.6 145 V60.4" fill="none" stroke="#3a3a3a" stroke-width="0.8"/>
<ellipse cx="100.9" cy="60.4" rx="18.7" ry="2.5" fill="none" stroke="#3a3a3a" stroke-width="0.8"/>
<path d="M83 69.6 L91.5 70.7" stroke="#333" stroke-width="0.7" fill="none"/>
<path d="M83 79.2 L95.5 80.3" stroke="#333" stroke-width="0.7" fill="none"/>
<path d="M83 88.5 L91.5 89.6" stroke="#333" stroke-width="0.7" fill="none"/>
<path d="M83 107.4 L95.5 108.5" stroke="#333" stroke-width="0.7" fill="none"/>
<path d="M83 116.7 L91.5 117.8" stroke="#333" stroke-width="0.7" fill="none"/>
<path d="M83 126.3 L91.5 127.4" stroke="#333" stroke-width="0.7" fill="none"/>
<path d="M83 135.9 L95.5 137.0" stroke="#333" stroke-width="0.7" fill="none"/>
<rect x="81.7" y="24.3" width="38.4" height="8.2" rx="9" ry="4.1" fill="#3a3a3a"/>
<ellipse cx="100.9" cy="27.4" rx="18" ry="2.6" fill="#575757"/>
<rect x="98.1" y="143.5" width="5.6" height="3.2" fill="#333" fill-opacity="0.6"/>
<polygon points="98.3,146.3 103.5,146.3 102.0,212.7 99.8,212.7" fill="#000"/>
</g>
<g transform="translate(1406.50 0.50) scale(1.0000)">
<use href="#brain"/>
<use href="#bnstL" fill="#2f65d9" stroke="#111" stroke-width="0.5"/>
<use href="#bnstL" fill="#2f65d9" stroke="#111" stroke-width="0.5" transform="translate(513.0 0) scale(-1 1)"/>
<use href="#insL" fill="#4fa3e0"/>
<use href="#insL" fill="#ee2a2e" transform="translate(513.0 0) scale(-1 1)"/>
</g>
<line x1="1822.1" y1="197.4" x2="1822.1" y2="215.8" stroke="#000" stroke-width="2.2" />
<polygon points="1822.1,220.0 1815.8,211.4 1822.1,213.4 1828.4,211.4" fill="#000"/>
<clipPath id="insc"><circle cx="1592.2" cy="88.2" r="88.9"/></clipPath>
<circle cx="1592.2" cy="88.2" r="88.9" fill="#d9edf3"/>
<g clip-path="url(#insc)">
<path d="M1536.9 86.7Q1534.2 78.0 1528.4 74.9Q1522.2 72.9 1512.4 78.5Q1519.7 70.1 1518.9 65.0Q1516.1 60.6 1510.4 59.1Q1516.2 56.3 1520.6 49.3Q1525.3 42.5 1524.6 34.1Q1529.1 40.7 1534.1 41.5Q1538.9 40.1 1544.3 26.8Q1542.5 41.2 1547.3 46.3Q1552.6 50.9 1565.6 49.1Q1553.9 55.0 1552.4 61.3Q1552.2 67.7 1560.3 75.6Q1549.8 71.2 1543.8 73.9Q1538.4 77.7 1536.9 86.7Z" fill="#7f7f7f"/>
<path d="M1586.2 130.0Q1584.5 123.2 1579.6 120.1Q1573.9 118.5 1568.0 121.5Q1571.5 115.9 1570.5 110.7Q1567.6 106.2 1553.3 104.7Q1567.6 102.5 1570.8 97.0Q1572.9 91.0 1567.2 81.1Q1576.2 88.2 1583.1 87.2Q1589.9 85.4 1594.8 76.8Q1594.1 86.6 1598.4 91.4Q1603.6 95.3 1611.2 94.6Q1605.2 99.5 1603.9 106.6Q1603.3 113.8 1607.0 119.5Q1600.6 117.4 1594.3 119.9Q1588.5 123.3 1586.2 130.0Z" fill="#7f7f7f"/>
<path d="M1635.9 63.2Q1645.8 71.2 1652.6 70.1Q1659.2 68.1 1664.5 57.0Q1663.4 69.2 1667.8 73.8Q1673.1 77.4 1679.3 76.8Q1674.6 80.7 1673.9 86.1Q1675.2 91.3 1687.9 97.1Q1674.0 94.9 1668.8 99.4Q1664.3 104.6 1666.1 118.1Q1660.6 105.8 1655.6 104.4Q1650.5 105.2 1645.2 113.4Q1647.1 103.7 1643.2 98.2Q1638.5 93.3 1627.9 93.4Q1637.5 88.8 1640.0 81.6Q1642.3 74.3 1635.9 63.2Z" fill="#7f7f7f"/>
<path d="M1552.7 48.5Q1563.9 45.7 1566.1 41.0Q1566.4 35.8 1562.7 31.2Q1568.7 32.7 1575.1 29.9Q1581.1 26.3 1583.5 18.3Q1585.8 26.4 1592.0 30.5Q1598.5 34.2 1621.2 24.6Q1600.6 37.9 1600.3 43.9Q1601.7 49.6 1611.0 54.8Q1600.4 53.4 1595.3 57.7Q1591.1 62.7 1591.3 69.9Q1587.4 64.0 1581.6 62.7Q1575.7 63.1 1570.7 68.4Q1572.1 61.1 1568.6 55.1Q1564.3 49.6 1552.7 48.5Z" fill="#b946c8"/>
<path d="M1623.1 18.0Q1628.3 26.9 1634.0 28.0Q1639.8 27.4 1645.3 20.0Q1643.6 29.3 1647.7 35.6Q1652.1 41.8 1660.4 43.8Q1652.4 45.6 1650.2 49.5Q1650.4 53.9 1670.7 67.6Q1648.5 56.9 1642.6 60.1Q1637.3 64.1 1635.9 72.7Q1633.1 64.5 1627.3 61.7Q1621.0 60.1 1614.9 63.1Q1618.1 57.1 1616.7 50.7Q1614.1 44.6 1606.2 41.3Q1614.9 40.1 1619.8 34.4Q1624.3 28.4 1623.1 18.0Z" fill="#b946c8"/>
<path d="M1570.9 97.9Q1558.7 103.3 1557.5 107.5Q1558.8 111.7 1568.8 115.9Q1557.7 115.3 1552.4 120.2Q1547.5 125.5 1548.1 136.0Q1543.6 126.7 1538.0 125.2Q1532.3 125.4 1518.7 145.8Q1528.7 123.3 1525.3 117.0Q1521.2 111.1 1513.5 109.1Q1521.0 106.7 1524.1 101.1Q1526.0 94.9 1523.8 89.1Q1528.9 92.4 1534.4 91.5Q1539.3 88.8 1541.6 77.1Q1543.8 89.1 1550.7 94.1Q1557.2 99.4 1570.9 97.9Z" fill="#b946c8"/>
<path d="M1655.2 134.4Q1646.2 137.4 1642.5 144.3Q1638.9 151.2 1640.2 158.4Q1635.4 153.4 1630.3 153.2Q1625.6 155.2 1622.8 162.4Q1621.5 154.4 1615.6 149.1Q1609.6 143.8 1585.3 148.1Q1608.3 139.4 1610.0 133.2Q1610.4 126.8 1602.3 118.6Q1612.4 123.9 1617.1 121.9Q1620.4 118.2 1619.1 107.9Q1624.1 117.2 1631.1 119.2Q1638.1 120.4 1646.0 115.1Q1641.2 123.1 1642.8 128.5Q1646.1 133.1 1655.2 134.4Z" fill="#b946c8"/>
<text x="1656.6" y="91.6" font-size="17" font-weight="bold" font-style="italic" fill="#6fe6e0" text-anchor="middle" textLength="20" lengthAdjust="spacingAndGlyphs" transform="rotate(-62 1656.6 87.1)">fos</text>
<text x="1583.0" y="49.9" font-size="17" font-weight="bold" font-style="italic" fill="#4de3e8" text-anchor="middle" textLength="20" lengthAdjust="spacingAndGlyphs" transform="rotate(8 1583.0 45.4)">fos</text>
<text x="1633.3" y="49.9" font-size="17" font-weight="bold" font-style="italic" fill="#4de3e8" text-anchor="middle" textLength="20" lengthAdjust="spacingAndGlyphs" transform="rotate(3 1633.3 45.4)">fos</text>
<text x="1540.1" y="112.4" font-size="17" font-weight="bold" font-style="italic" fill="#4de3e8" text-anchor="middle" textLength="20" lengthAdjust="spacingAndGlyphs" transform="rotate(-18 1540.1 107.9)">fos</text>
</g>
<circle cx="1592.2" cy="88.2" r="88.9" fill="none" stroke="#111" stroke-width="1.4"/>
<line x1="1583.0" y1="178.0" x2="1688.5" y2="210.9" stroke="#000" stroke-width="1.3" stroke-dasharray="3.6 2.6"/>
<line x1="1681.6" y1="100.5" x2="1699.5" y2="188.8" stroke="#000" stroke-width="1.3" stroke-dasharray="3.6 2.6"/>
<circle cx="1699.7" cy="210.4" r="4.3" fill="none" stroke="#111" stroke-width="0.6"/>
<circle cx="1699.7" cy="210.4" r="1.8" fill="none" stroke="#111" stroke-width="0.4"/>
<path d="M622.3 257.5C619.2 256.3 611.4 260 605 260.5C598.5 261 590.8 261.1 583.6 260.8C576.4 260.4 569.2 259.1 561.9 258.3C554.6 257.6 547.2 256.6 539.8 256.1C532.4 255.6 525 255 517.5 255.3C510.1 255.6 502.1 256.3 495.1 257.8C488.1 259.3 481.3 261.5 475.4 264.3C469.6 267.1 464.4 270.8 460 274.4C455.5 278.1 451.4 282.3 448.8 286C446.2 289.7 444.7 293.7 444.3 296.5C443.8 299.4 445 301.3 446 302.9C447.1 304.5 449.7 305.6 450.5 306C451.4 306.4 451.5 306.1 451.1 305.4C450.6 304.7 448.5 303.2 447.9 301.9C447.3 300.5 446.8 299.5 447.5 297.3C448.2 295.1 449.7 291.8 452.3 288.7C454.9 285.5 458.8 281.5 463 278.3C467.3 275.1 472.1 271.7 477.7 269.3C483.2 266.9 489.6 265 496.3 263.7C503 262.5 510.5 261.9 517.7 261.9C524.9 261.8 532 262.5 539.2 263.2C546.5 263.9 553.7 265 561 265.9C568.3 266.9 575.6 268.3 583.1 269C590.5 269.6 598.7 270 605.5 269.8C612.3 269.6 621 269.9 623.8 267.8C626.6 265.8 625.5 258.8 622.3 257.5Z" fill="#c8917f"/>
<path d="M638.1 281.9C638.9 281.3 646.6 283.6 649.1 284.6C651.5 285.5 659.2 290.6 662.7 291.4C666.3 292.3 680.8 292.5 684.7 292.8C688.5 293.1 699.6 293.7 701.1 294.2C702.6 294.7 701.1 297.4 699.7 297.7C698.3 298.1 688.4 297.3 687.4 297.7C686.4 298.2 690.4 301.6 690.1 302.4C689.9 303.1 686.4 305.3 684.7 305.1C682.9 305 673.7 300.7 672.3 301C671 301.4 671.9 308.5 671 308.7C670 308.8 664.9 303.6 662.7 302.4C660.6 301.2 651.2 298.1 649.1 296.9C646.9 295.7 641.9 291.6 640.8 290.1C639.7 288.6 637.3 282.4 638.1 281.9Z" fill="#c8917f"/>
<path d="M781.9 287.3C782.3 285.4 793.5 280.1 795.6 280.5C797.6 280.9 800.6 289.7 802.4 291.4C804.2 293.2 810.2 297.3 813.4 298.3C816.5 299.2 832 300.3 833.9 301C835.8 301.7 834 304.8 832.5 305.1C831 305.5 820.3 304.2 818.8 304.6C817.3 305 818.8 309.2 817.5 309.2C816.1 309.3 807.5 305.4 805.1 305.1C802.8 304.9 795.6 307 794.2 306.5C792.8 305.9 792.7 301.6 791.4 299.6C790.2 297.7 781.5 289.2 781.9 287.3Z" fill="#c8917f"/>
<path d="M795.6 195.6C794 194 796.2 190.5 798.3 188.8C800.3 187 804.9 185.2 807.9 185.2C810.8 185.2 814.3 186.9 816.1 188.8C817.9 190.6 820.2 194.5 818.8 196.1C817.5 197.7 811.8 198.4 807.9 198.3C804 198.2 797.2 197.2 795.6 195.6Z" fill="#b8806f"/>
<path d="M618.9 256.4C619.4 251.8 622.7 245.8 626.6 240C630.5 234.2 635.7 227.1 642.2 221.6C648.7 216.1 657 210.8 665.5 207.1C673.9 203.4 683.7 201 692.9 199.4C702 197.9 711.1 197.5 720.3 197.8C729.4 198.1 739.4 199.8 747.6 201.1C755.8 202.4 763.4 205.1 769.5 205.5C775.7 205.8 780.3 204.5 784.6 203.3C788.9 202 790.8 199.1 795.6 197.8C800.3 196.5 807.2 195 813.4 195.6C819.5 196.1 826.1 198.5 832.5 201.1C838.9 203.6 845.8 207.5 851.7 210.9C857.6 214.4 864.2 218.9 868.1 221.9C872 224.9 874.3 226.7 875.2 229C876.1 231.3 875.2 233.4 873.6 235.6C871.9 237.8 869 239.7 865.4 242.1C861.7 244.6 856.7 247.6 851.7 250.4C846.7 253.1 840.7 255.4 835.3 258.6C829.8 261.8 824.1 266.3 818.8 269.5C813.6 272.7 807.9 274.9 803.8 277.7C799.7 280.6 798.1 284.1 794.2 286.5C790.3 288.9 785.5 290.6 780.5 292C775.5 293.4 770.5 294.9 764.1 294.7C757.7 294.5 749.9 291.6 742.2 290.6C734.4 289.6 726.2 288.5 717.5 288.7C708.8 288.9 698.3 291.9 690.1 292C681.9 292.1 675.1 290.5 668.2 289.2C661.4 288 654.6 286.6 649.1 284.6C643.5 282.6 639 280.1 634.8 277.2C630.6 274.3 626.5 270.8 623.9 267.3C621.2 263.9 618.5 260.9 618.9 256.4Z" fill="#3d2c1f"/>
<path d="M649.1 244.9C650.8 237.8 655.9 228.4 662.7 221.6C669.6 214.9 680.5 208 690.1 204.4C699.7 200.8 709.8 200.3 720.3 200C730.7 199.7 744 201.5 753.1 202.7C762.2 203.9 768.2 207.4 775 207.1C781.9 206.8 786.9 202.5 794.2 201.1C801.5 199.6 811.1 197.4 818.8 198.3C826.6 199.2 833.4 203.1 840.7 206.5C848 210 857.3 215.4 862.6 219.1C867.9 222.9 872 225.6 872.5 229C873 232.4 870.7 235.8 865.4 239.4C860.1 243 849.4 247.3 840.7 250.4C832.1 253.5 821.6 255.5 813.4 258C805.1 260.5 797.7 263.6 791.4 265.4C785.1 267.2 779.2 266.6 775.6 269C771.9 271.4 774.7 278.7 769.5 279.9C764.4 281.2 753.6 277.7 744.9 276.4C736.2 275.1 726.6 272.7 717.5 272.3C708.4 271.8 699 273 690.1 273.6C681.2 274.3 670.4 278 664.1 276.4C657.8 274.8 654.9 269.3 652.3 264.1C649.8 258.8 647.3 252 649.1 244.9Z" fill="#584636"/>
<path d="M779.9 214.8C779.7 211.1 781.1 206.5 783.2 203.8C785.4 201.2 789.7 199.1 792.8 198.9C795.9 198.7 799.7 199.8 801.9 202.4C804 205.1 805.4 210.9 805.7 214.8C806 218.6 805.7 223.2 803.8 225.7C801.9 228.2 797.4 229.8 794.2 229.8C791 229.8 787 228.2 784.6 225.7C782.2 223.2 780.2 218.4 779.9 214.8Z" fill="#c8917f"/>
<ellipse cx="837.2" cy="221.6" rx="6" ry="4" fill="#000"/>
<circle cx="839.5" cy="220.4" r="0.9" fill="#fff"/>
<ellipse cx="873.3" cy="230.6" rx="2.2" ry="3.4" fill="#c8917f"/>
<line x1="864.0" y1="233.4" x2="824.3" y2="239.4" stroke="#000" stroke-width="1.1" />
<line x1="864.0" y1="234.5" x2="824.3" y2="249.0" stroke="#000" stroke-width="1.1" />
<line x1="862.6" y1="236.7" x2="831.2" y2="265.4" stroke="#000" stroke-width="1.1" />
<line x1="865.4" y1="237.2" x2="839.4" y2="265.4" stroke="#000" stroke-width="1.1" />
<line x1="868.1" y1="236.7" x2="855.8" y2="253.1" stroke="#000" stroke-width="1.1" />
<line x1="870.3" y1="223.5" x2="868.9" y2="204.4" stroke="#000" stroke-width="1.1" />
<line x1="871.4" y1="223.0" x2="876.3" y2="201.1" stroke="#000" stroke-width="1.1" />
<line x1="872.2" y1="222.4" x2="879.1" y2="210.9" stroke="#000" stroke-width="1.1" />
<g transform="translate(614.50 6.70) scale(1.0000)">
<rect x="82.2" y="60.4" width="37.4" height="84.6" fill="#fff" fill-opacity="0.45"/>
<line x1="100.9" y1="30.0" x2="100.9" y2="98.5" stroke="#2a2a2a" stroke-width="1.5" stroke-opacity="0.9"/>
<path d="M82.2 98 Q100.9 101 119.6 98 V145 Q100.9 148.4 82.2 145Z" fill="#8a8a8a" fill-opacity="0.95"/>
<ellipse cx="100.9" cy="98" rx="18.7" ry="1.7" fill="#ddd" fill-opacity="0.55" stroke="#555" stroke-width="0.5"/>
<path d="M82.2 60.4 V145 Q100.9 148.4 119.6 145 V60.4" fill="none" stroke="#3a3a3a" stroke-width="0.8"/>
<ellipse cx="100.9" cy="60.4" rx="18.7" ry="2.5" fill="none" stroke="#3a3a3a" stroke-width="0.8"/>
<path d="M83 69.6 L91.5 70.7" stroke="#333" stroke-width="0.7" fill="none"/>
<path d="M83 79.2 L95.5 80.3" stroke="#333" stroke-width="0.7" fill="none"/>
<path d="M83 88.5 L91.5 89.6" stroke="#333" stroke-width="0.7" fill="none"/>
<path d="M83 107.4 L95.5 108.5" stroke="#333" stroke-width="0.7" fill="none"/>
<path d="M83 116.7 L91.5 117.8" stroke="#333" stroke-width="0.7" fill="none"/>
<path d="M83 126.3 L91.5 127.4" stroke="#333" stroke-width="0.7" fill="none"/>
<path d="M83 135.9 L95.5 137.0" stroke="#333" stroke-width="0.7" fill="none"/>
<rect x="81.7" y="24.3" width="38.4" height="8.2" rx="9" ry="4.1" fill="#3a3a3a"/>
<ellipse cx="100.9" cy="27.4" rx="18" ry="2.6" fill="#575757"/>
<rect x="98.1" y="143.5" width="5.6" height="3.2" fill="#333" fill-opacity="0.6"/>
<polygon points="98.3,146.3 103.5,146.3 102.0,212.7 99.8,212.7" fill="#000"/>
</g>
<path d="M1071.6 251.6C1068.5 250.5 1060.5 253.8 1054.3 254.5C1048.2 255.3 1040.9 256.1 1034.9 256.3C1029 256.4 1023.7 256.4 1018.8 255.2C1013.9 254 1009.2 252.2 1005.8 249.1C1002.3 245.9 999.8 241.3 998 236C996.2 230.8 995 223.7 994.7 217.4C994.5 211 995.9 204.9 996.2 197.8C996.6 190.7 997.4 182.5 996.7 174.8C996.1 167.2 994.3 159.1 992.2 151.9C990 144.8 986.7 136.8 983.8 131.8C980.9 126.8 976.4 123.4 974.8 121.8C973.2 120.2 973.1 120.3 974.2 122.2C975.3 124.1 978.9 128 981.2 133.2C983.4 138.3 986.2 146.1 987.8 153.1C989.4 160.1 990.6 167.8 990.8 175.2C990.9 182.5 989.5 190.1 988.8 197.2C988 204.3 986.1 210.7 986.3 217.6C986.4 224.6 987.3 232.6 989.5 239C991.7 245.3 994.8 251.6 999.2 255.9C1003.7 260.3 1010.2 263.1 1016.2 264.8C1022.2 266.5 1028.5 266.3 1035.1 266.2C1041.6 266.2 1049.3 265.3 1055.7 264.5C1062 263.6 1070.7 263.1 1073.4 260.9C1076 258.8 1074.8 252.6 1071.6 251.6Z" fill="#c8917f"/>
<defs><linearGradient id="plugg" x1="0" y1="0" x2="0" y2="1"><stop offset="0" stop-color="#b9b2a6"/><stop offset="0.45" stop-color="#d6cfc0"/><stop offset="1" stop-color="#f3ebd9"/></linearGradient></defs>
<path d="M1025.5 161.8 H1061.2 V305.5 H1025.5 Q1020.5 233.6 1025.5 161.8Z" fill="url(#plugg)"/>
<ellipse cx="1061.2" cy="233.5" rx="9" ry="72" fill="#f5eedc"/>
<ellipse cx="1060.8" cy="240.0" rx="3.2" ry="33" fill="#d9d6cf"/>
<path d="M1058.8 253C1059.7 252 1071.6 249.4 1072.5 250C1073.4 250.6 1073.4 261.5 1072.5 262.5C1071.6 263.5 1059.7 265.6 1058.8 265C1057.8 264.4 1057.8 254 1058.8 253Z" fill="#c8917f"/>
<path d="M1073.8 182.5C1073.9 180.8 1078 179.6 1078.8 180C1079.5 180.4 1082 188.5 1082.5 187.5C1083 186.5 1084.5 169.6 1085 168C1085.5 166.4 1088.3 167.4 1088.8 168.8C1089.2 170.1 1089.4 183.7 1090 183.8C1090.6 183.8 1095.5 170.5 1096.2 169.5C1097 168.5 1099.5 169.9 1099.5 171.2C1099.5 172.6 1095.6 184.5 1096.2 186.2C1096.9 188 1108 191.1 1107.5 192.5C1107 193.9 1092.5 201.9 1090 202.5C1087.5 203.1 1078.9 201.7 1077.5 200C1076.1 198.3 1073.6 184.2 1073.8 182.5Z" fill="#c8917f"/>
<path d="M1247.5 175C1247.5 174.1 1254.3 172.3 1255 171.2C1255.7 170.2 1255.9 163.2 1256.2 162.5C1256.6 161.8 1259.2 161.9 1259.5 162.5C1259.8 163.1 1259.3 169.8 1260 170C1260.7 170.2 1266.7 165.7 1267.5 165.5C1268.3 165.3 1270.3 167.3 1270 168C1269.7 168.7 1263.4 173.5 1263.8 173.8C1264.1 174 1272.9 171.2 1273.8 171.2C1274.6 171.3 1275.1 173.8 1274.5 174.5C1273.9 175.2 1267.9 179.3 1266.2 180C1264.6 180.7 1256.6 182.9 1255 182.5C1253.4 182.1 1247.5 175.9 1247.5 175Z" fill="#c8917f"/>
<path d="M1098.8 285C1098.2 284.4 1108 287.2 1110 287.5C1112 287.8 1120.4 288.7 1122.5 288.8C1124.6 288.8 1133.2 287.9 1135 288C1136.8 288.1 1143.8 289.5 1144.5 290C1145.2 290.5 1144.5 293.4 1143.8 293.8C1143 294.1 1135.2 294 1135 294.5C1134.8 295 1141 299.3 1141.2 300C1141.5 300.7 1139.1 302.7 1138 302.5C1136.9 302.3 1128.7 297.3 1127.5 297.5C1126.3 297.7 1124.4 304.5 1123.8 305C1123.1 305.5 1120.6 304.6 1120 303.8C1119.4 302.9 1118 296.6 1116.2 295C1114.5 293.4 1099.3 285.6 1098.8 285Z" fill="#c8917f"/>
<path d="M1242.5 260C1243.9 259.4 1257.3 257.5 1260 257.5C1262.7 257.5 1274.2 259.3 1275 260C1275.8 260.7 1271.7 264.9 1270 265.5C1268.3 266.1 1257.2 267.1 1255 267C1252.8 266.9 1244.8 265.1 1243.8 264.5C1242.7 263.9 1241.1 260.6 1242.5 260Z" fill="#c8917f"/>
<path d="M1072 240C1072.8 234.5 1075.1 224.6 1077.5 217.5C1079.9 210.4 1080.8 203.2 1086.2 197.5C1091.7 191.8 1099.8 187 1110 183C1120.2 179 1135 174.4 1147.5 173.2C1160 172.1 1173.8 176 1185 176.2C1196.2 176.5 1205.4 175 1215 175C1224.6 175 1234.2 175 1242.5 176.2C1250.8 177.5 1258.3 180.5 1265 182.5C1271.7 184.5 1277.5 185.6 1282.5 188C1287.5 190.4 1290.4 194.1 1295 197C1299.6 199.9 1305.4 202.6 1310 205.5C1314.6 208.4 1318.3 211 1322.5 214.2C1326.7 217.5 1332.6 222.4 1335 225C1337.4 227.6 1338.4 227.5 1336.8 230C1335.1 232.5 1329.5 236.7 1325 240C1320.5 243.3 1315.4 247.4 1310 250C1304.6 252.6 1298.8 253.8 1292.5 255.5C1286.2 257.2 1278.8 258.8 1272.5 260C1266.2 261.2 1261.2 262.5 1255 262.5C1248.8 262.5 1242.5 259.9 1235 260C1227.5 260.1 1218.3 260.9 1210 263C1201.7 265.1 1193.3 268.8 1185 272.5C1176.7 276.2 1168.3 282.2 1160 285C1151.7 287.8 1143.3 288.8 1135 289.2C1126.7 289.8 1116 289.5 1110 288C1104 286.5 1101 283.8 1098.8 280.5C1096.5 277.2 1099 271.3 1096.2 268C1093.5 264.7 1086.4 263.4 1082.5 260.5C1078.6 257.6 1074.8 253.9 1073 250.5C1071.2 247.1 1071.2 245.5 1072 240Z" fill="#3d2c1f"/>
<path d="M1097 236.2C1098.2 229.9 1103.7 219.4 1110 212.5C1116.3 205.6 1125.8 198.5 1135 195C1144.2 191.5 1155.8 190.8 1165 191.2C1174.2 191.7 1182.5 198 1190 197.5C1197.5 197 1202.5 189.9 1210 188C1217.5 186.1 1227.5 184.7 1235 186.2C1242.5 187.8 1250.2 192.7 1255 197.5C1259.8 202.3 1263.2 208.8 1264 215C1264.8 221.2 1262.8 229.6 1260 235C1257.2 240.4 1253.8 244.9 1247.5 247.5C1241.2 250.1 1230.8 249.6 1222.5 250.5C1214.2 251.4 1205.8 250.6 1197.5 253C1189.2 255.4 1180.8 261.7 1172.5 265C1164.2 268.3 1155.8 271.7 1147.5 273C1139.2 274.3 1127.4 275.1 1122.5 273C1117.6 270.9 1121.2 264.2 1118 260.5C1114.8 256.8 1106.5 254.5 1103 250.5C1099.5 246.5 1095.8 242.6 1097 236.2Z" fill="#584636"/>
<path d="M1274.5 213C1278.7 209.7 1290.8 205.5 1297.5 206.2C1304.2 207 1310.3 213.5 1315 217.5C1319.7 221.5 1326.3 225.8 1325.5 230C1324.7 234.2 1315.1 239.5 1310 242.5C1304.9 245.5 1300.4 248.3 1295 248C1289.6 247.7 1281.2 244.1 1277.5 240.5C1273.8 236.9 1273 230.8 1272.5 226.2C1272 221.7 1270.3 216.3 1274.5 213Z" fill="#584636"/>
<ellipse cx="1278.8" cy="196.2" rx="15" ry="12" fill="#c8917f" transform="rotate(25 1278.8 196.2)"/>
<ellipse cx="1273.8" cy="251.2" rx="15" ry="12" fill="#c8917f" transform="rotate(-25 1273.8 251.2)"/>
<ellipse cx="1310.5" cy="211.2" rx="5.5" ry="3" fill="#000" transform="rotate(35 1310.5 211.2)"/>
<ellipse cx="1310.0" cy="240.5" rx="5.5" ry="3" fill="#000" transform="rotate(-35 1310.0 240.5)"/>
<ellipse cx="1335.8" cy="228.0" rx="2" ry="3.2" fill="#c8917f"/>
<path d="M1022.5 161.2 H1287.5 L1348.8 219.5 Q1351.8 231.2 1348.8 243.0 L1287.5 305.5 H1022.5" fill="none" stroke="#9a9a9a" stroke-width="0.9"/>
<ellipse cx="1022.5" cy="233.4" rx="7.5" ry="72.1" fill="none" stroke="#9a9a9a" stroke-width="0.9"/>
<path d="M1287.5 161.2 Q1281.5 233.4 1287.5 305.5" fill="none" stroke="#b5b5b5" stroke-width="0.8"/>
<path d="M1348.8 219.5 Q1344.8 231.2 1348.8 243.0" fill="none" stroke="#b5b5b5" stroke-width="0.8"/>
<line x1="503.0" y1="192.1" x2="537.5" y2="192.1" stroke="#000" stroke-width="2.8" />
<polygon points="549.5,192.1 525.0,177.1 532.0,192.1 525.0,207.1" fill="#000"/>
<line x1="918.3" y1="192.1" x2="952.8" y2="192.1" stroke="#000" stroke-width="2.8" />
<polygon points="964.8,192.1 940.3,177.1 947.3,192.1 940.3,207.1" fill="#000"/>
<line x1="1392.6" y1="192.1" x2="1427.0" y2="192.1" stroke="#000" stroke-width="2.8" />
<polygon points="1439.0,192.1 1414.5,177.1 1421.5,192.1 1414.5,207.1" fill="#000"/>
<text x="475.0" y="230.3" font-size="29.5" textLength="104.0" lengthAdjust="spacingAndGlyphs">3 weeks</text>
<text x="891.6" y="233.3" font-size="29.5" textLength="88.4" lengthAdjust="spacingAndGlyphs">30 min</text>
<text x="1131.6" y="140.3" font-size="29.5" textLength="89.2" lengthAdjust="spacingAndGlyphs">60 min</text>
<text x="1372.4" y="233.3" font-size="29.5" textLength="88.4" lengthAdjust="spacingAndGlyphs">30 min</text>
<text x="14.5" y="22.3" font-size="29" font-weight="bold">a</text>
<text x="41.0" y="19.2" font-size="17.6" font-weight="bold" fill="#4b9fcf" textLength="130.0" lengthAdjust="spacingAndGlyphs">AAV5.hSyn.eGFP</text>
<text x="228.6" y="19.2" font-size="17.6" font-weight="bold" fill="#e8343c" textLength="239.4" lengthAdjust="spacingAndGlyphs">AAV5.hSyn.hM4Di(Gi)-mCherry</text>
<text x="751.4" y="19.2" font-size="16.5" font-weight="bold" fill="#111" textLength="126.9" lengthAdjust="spacingAndGlyphs">i.p. CNO 3 mg/kg</text>
<text x="751.4" y="39.2" font-size="16.5" font-weight="bold" textLength="64.8" lengthAdjust="spacingAndGlyphs"><tspan fill="#111">or </tspan><tspan fill="#7b9fd1">Saline</tspan></text>
<text x="1648.7" y="15.3" font-size="14.3" fill="#222" textLength="181.5" lengthAdjust="spacingAndGlyphs">RNAScope for <tspan font-weight="bold" font-style="italic" fill="#c44fd0">crh</tspan> and <tspan font-weight="bold" font-style="italic" fill="#3fbdb8">fos</tspan></text>
<text x="44.0" y="303.3" font-size="18" font-weight="bold" fill="#f7941d" textLength="47.5" lengthAdjust="spacingAndGlyphs">Insula</text>
<text x="44.0" y="322.3" font-size="18" font-weight="bold" fill="#2f65d9" textLength="42.5" lengthAdjust="spacingAndGlyphs">BNST</text>
</g>
<g id="panel_b">
<defs>
<filter id="rough" x="-5%" y="-5%" width="110%" height="110%" color-interpolation-filters="sRGB"><feTurbulence type="fractalNoise" baseFrequency="0.09" numOctaves="3" seed="4" result="t"/><feDisplacementMap in="SourceGraphic" in2="t" scale="13" xChannelSelector="R" yChannelSelector="G"/></filter>
<filter id="rough2" x="-5%" y="-5%" width="110%" height="110%" color-interpolation-filters="sRGB"><feTurbulence type="fractalNoise" baseFrequency="0.06" numOctaves="2" seed="9" result="t"/><feDisplacementMap in="SourceGraphic" in2="t" scale="16" xChannelSelector="R" yChannelSelector="G"/></filter>
<clipPath id="mclip"><rect x="10.3" y="345.7" width="657.9000000000001" height="542.5999999999999"/></clipPath>
</defs>
<rect x="10.3" y="345.7" width="657.9" height="542.6" fill="#000"/>
<g clip-path="url(#mclip)">
<g fill="#0000c4" filter="url(#rough)">
<ellipse cx="106.8" cy="383.5" rx="13.8" ry="12.9"/>
<ellipse cx="110.8" cy="407.2" rx="10.1" ry="14.7"/>
<ellipse cx="178.0" cy="354.9" rx="14.7" ry="10.1"/>
<ellipse cx="138.4" cy="409.2" rx="11.0" ry="11.0"/>
<ellipse cx="211.6" cy="375.6" rx="7.0" ry="6.4"/>
<ellipse cx="251.1" cy="381.5" rx="13.8" ry="11.0"/>
<ellipse cx="310.4" cy="381.5" rx="15.6" ry="11.0"/>
<ellipse cx="266.9" cy="411.2" rx="9.6" ry="9.2"/>
<ellipse cx="183.9" cy="411.2" rx="18.4" ry="19.3"/>
<ellipse cx="185.9" cy="446.8" rx="14.7" ry="12.9"/>
<ellipse cx="225.4" cy="460.6" rx="17.5" ry="16.5"/>
<ellipse cx="185.9" cy="474.4" rx="16.5" ry="14.7"/>
<ellipse cx="205.6" cy="494.2" rx="18.4" ry="14.7"/>
<ellipse cx="304.4" cy="456.6" rx="18.4" ry="18.4"/>
<ellipse cx="284.7" cy="468.5" rx="14.7" ry="12.9"/>
<ellipse cx="191.8" cy="525.8" rx="17.5" ry="16.5"/>
<ellipse cx="320.3" cy="537.7" rx="19.3" ry="14.7"/>
<ellipse cx="162.2" cy="563.4" rx="18.4" ry="18.4"/>
<ellipse cx="195.7" cy="561.4" rx="22.1" ry="18.4"/>
<ellipse cx="114.7" cy="581.2" rx="16.5" ry="13.8"/>
<ellipse cx="334.1" cy="502.1" rx="12.9" ry="16.5"/>
<ellipse cx="334.1" cy="577.2" rx="14.7" ry="20.2"/>
<ellipse cx="181.9" cy="606.8" rx="12.9" ry="11.0"/>
<ellipse cx="110.8" cy="606.8" rx="12.9" ry="11.0"/>
<ellipse cx="87.1" cy="534.7" rx="2.8" ry="2.8"/>
<ellipse cx="551.4" cy="373.6" rx="7.7" ry="8.3"/>
<ellipse cx="543.5" cy="390.4" rx="10.7" ry="9.6"/>
<ellipse cx="484.2" cy="388.5" rx="9.2" ry="8.8"/>
<ellipse cx="508.9" cy="388.5" rx="8.5" ry="8.8"/>
<ellipse cx="401.2" cy="423.1" rx="16.5" ry="16.5"/>
<ellipse cx="349.9" cy="429.0" rx="18.4" ry="18.4"/>
<ellipse cx="373.6" cy="440.8" rx="21.1" ry="16.5"/>
<ellipse cx="436.8" cy="409.2" rx="15.6" ry="11.9"/>
<ellipse cx="470.4" cy="438.9" rx="17.5" ry="22.1"/>
<ellipse cx="409.1" cy="492.2" rx="16.5" ry="14.3"/>
<ellipse cx="347.9" cy="502.1" rx="11.9" ry="18.4"/>
<ellipse cx="488.2" cy="510.0" rx="16.5" ry="17.5"/>
<ellipse cx="535.6" cy="527.8" rx="11.9" ry="11.9"/>
<ellipse cx="602.8" cy="490.2" rx="14.7" ry="15.6"/>
<ellipse cx="618.6" cy="514.0" rx="18.4" ry="16.5"/>
<ellipse cx="375.5" cy="535.7" rx="16.5" ry="15.6"/>
<ellipse cx="405.2" cy="533.7" rx="14.7" ry="18.4"/>
<ellipse cx="551.4" cy="547.6" rx="13.8" ry="12.9"/>
<ellipse cx="579.1" cy="561.4" rx="11.9" ry="13.8"/>
<ellipse cx="622.6" cy="549.5" rx="14.7" ry="14.7"/>
<ellipse cx="349.9" cy="541.6" rx="9.2" ry="11.0"/>
<ellipse cx="345.9" cy="577.2" rx="14.7" ry="18.4"/>
<ellipse cx="383.5" cy="571.3" rx="23.9" ry="20.2"/>
<ellipse cx="403.2" cy="595.0" rx="20.2" ry="14.7"/>
<ellipse cx="381.5" cy="604.9" rx="18.4" ry="12.9"/>
<ellipse cx="470.4" cy="583.1" rx="5.5" ry="6.4"/>
<ellipse cx="472.4" cy="604.9" rx="20.2" ry="14.7"/>
<ellipse cx="515.9" cy="581.2" rx="22.1" ry="16.5"/>
<ellipse cx="535.6" cy="563.4" rx="11.0" ry="11.0"/>
<ellipse cx="664.1" cy="581.2" rx="7.4" ry="11.0"/>
<ellipse cx="646.3" cy="598.9" rx="14.7" ry="16.5"/>
<ellipse cx="594.9" cy="610.8" rx="13.8" ry="9.2"/>
<ellipse cx="116.7" cy="621.9" rx="12.9" ry="9.2"/>
<ellipse cx="152.3" cy="645.6" rx="23.9" ry="20.2"/>
<ellipse cx="134.5" cy="627.9" rx="12.9" ry="11.0"/>
<ellipse cx="185.9" cy="621.9" rx="11.0" ry="6.4"/>
<ellipse cx="243.2" cy="635.8" rx="16.5" ry="17.5"/>
<ellipse cx="316.3" cy="625.9" rx="9.2" ry="10.1"/>
<ellipse cx="98.9" cy="712.8" rx="12.9" ry="16.5"/>
<ellipse cx="160.2" cy="722.7" rx="14.7" ry="17.5"/>
<ellipse cx="322.2" cy="677.3" rx="15.6" ry="13.8"/>
<ellipse cx="294.6" cy="695.1" rx="15.6" ry="12.9"/>
<ellipse cx="280.7" cy="708.9" rx="12.9" ry="11.0"/>
<ellipse cx="253.1" cy="718.8" rx="12.9" ry="14.7"/>
<ellipse cx="261.0" cy="738.5" rx="15.6" ry="13.8"/>
<ellipse cx="308.4" cy="722.7" rx="12.9" ry="11.0"/>
<ellipse cx="332.1" cy="722.7" rx="9.2" ry="11.0"/>
<ellipse cx="235.3" cy="736.6" rx="5.1" ry="7.4"/>
<ellipse cx="181.9" cy="758.3" rx="11.0" ry="11.9"/>
<ellipse cx="229.3" cy="766.2" rx="16.2" ry="19.3"/>
<ellipse cx="332.1" cy="768.2" rx="11.0" ry="11.0"/>
<ellipse cx="160.2" cy="811.7" rx="17.5" ry="18.4"/>
<ellipse cx="288.6" cy="841.3" rx="14.3" ry="19.3"/>
<ellipse cx="324.2" cy="829.4" rx="14.7" ry="16.5"/>
<ellipse cx="160.2" cy="878.8" rx="7.4" ry="7.4"/>
<ellipse cx="332.1" cy="872.9" rx="11.0" ry="12.9"/>
<ellipse cx="381.5" cy="620.0" rx="13.8" ry="8.3"/>
<ellipse cx="425.0" cy="655.5" rx="15.1" ry="18.4"/>
<ellipse cx="460.5" cy="651.6" rx="16.5" ry="18.4"/>
<ellipse cx="480.3" cy="641.7" rx="11.0" ry="11.0"/>
<ellipse cx="476.3" cy="620.0" rx="17.5" ry="8.3"/>
<ellipse cx="508.0" cy="665.4" rx="14.7" ry="11.0"/>
<ellipse cx="573.2" cy="635.8" rx="16.5" ry="17.5"/>
<ellipse cx="596.9" cy="621.9" rx="11.0" ry="7.4"/>
<ellipse cx="630.5" cy="645.6" rx="18.4" ry="18.4"/>
<ellipse cx="658.2" cy="635.8" rx="9.2" ry="16.5"/>
<ellipse cx="644.3" cy="673.3" rx="16.5" ry="17.5"/>
<ellipse cx="628.5" cy="697.0" rx="14.7" ry="12.9"/>
<ellipse cx="425.0" cy="695.1" rx="14.7" ry="18.4"/>
<ellipse cx="450.6" cy="706.9" rx="14.7" ry="19.3"/>
<ellipse cx="496.1" cy="693.1" rx="20.2" ry="16.5"/>
<ellipse cx="476.3" cy="681.2" rx="12.9" ry="9.2"/>
<ellipse cx="376.5" cy="710.9" rx="13.8" ry="15.6"/>
<ellipse cx="342.0" cy="722.7" rx="9.2" ry="11.0"/>
<ellipse cx="480.3" cy="736.6" rx="14.7" ry="20.2"/>
<ellipse cx="577.1" cy="708.9" rx="18.4" ry="16.5"/>
<ellipse cx="602.8" cy="722.7" rx="14.7" ry="12.9"/>
<ellipse cx="543.5" cy="734.6" rx="14.7" ry="17.5"/>
<ellipse cx="363.7" cy="758.3" rx="14.7" ry="18.4"/>
<ellipse cx="347.9" cy="772.1" rx="12.9" ry="12.9"/>
<ellipse cx="626.5" cy="776.1" rx="19.3" ry="24.8"/>
<ellipse cx="596.9" cy="762.2" rx="11.0" ry="12.9"/>
<ellipse cx="490.2" cy="786.0" rx="20.2" ry="22.1"/>
<ellipse cx="369.6" cy="797.8" rx="17.5" ry="17.5"/>
<ellipse cx="417.1" cy="793.9" rx="15.6" ry="13.8"/>
<ellipse cx="440.8" cy="807.7" rx="17.5" ry="15.6"/>
<ellipse cx="529.7" cy="805.7" rx="16.9" ry="12.9"/>
<ellipse cx="654.2" cy="813.6" rx="12.9" ry="14.7"/>
<ellipse cx="565.3" cy="831.4" rx="14.7" ry="14.7"/>
<ellipse cx="581.1" cy="851.2" rx="16.5" ry="17.5"/>
<ellipse cx="515.9" cy="833.4" rx="18.4" ry="12.9"/>
<ellipse cx="347.9" cy="833.4" rx="11.0" ry="16.5"/>
<ellipse cx="349.9" cy="869.0" rx="16.5" ry="18.4"/>
<ellipse cx="379.5" cy="859.1" rx="18.4" ry="14.7"/>
<ellipse cx="476.3" cy="867.0" rx="20.2" ry="15.6"/>
<ellipse cx="652.2" cy="861.1" rx="17.5" ry="18.4"/>
<ellipse cx="555.4" cy="880.8" rx="11.0" ry="8.3"/>
<ellipse cx="579.1" cy="880.8" rx="9.2" ry="7.4"/>
<ellipse cx="614.7" cy="886.8" rx="7.4" ry="5.5"/>
<ellipse cx="440.8" cy="882.8" rx="9.2" ry="7.4"/>
</g>
<g fill="#0000a0" filter="url(#rough2)" opacity="0.85">
<ellipse cx="85.1" cy="355.9" rx="12.9" ry="11.9"/>
<ellipse cx="148.3" cy="354.9" rx="9.2" ry="8.3"/>
<ellipse cx="300.5" cy="427.0" rx="10.1" ry="11.0"/>
<ellipse cx="33.7" cy="442.8" rx="17.5" ry="20.2"/>
<ellipse cx="71.2" cy="496.2" rx="11.9" ry="14.7"/>
<ellipse cx="77.2" cy="559.4" rx="17.5" ry="16.5"/>
<ellipse cx="124.6" cy="549.5" rx="18.4" ry="16.5"/>
<ellipse cx="150.3" cy="598.9" rx="16.5" ry="14.7"/>
<ellipse cx="27.8" cy="587.1" rx="11.0" ry="12.9"/>
<ellipse cx="39.6" cy="610.8" rx="11.0" ry="9.2"/>
<ellipse cx="17.9" cy="474.4" rx="5.5" ry="7.4"/>
<ellipse cx="601.8" cy="355.9" rx="6.4" ry="5.9"/>
<ellipse cx="662.1" cy="388.5" rx="5.9" ry="7.4"/>
<ellipse cx="627.5" cy="413.2" rx="5.5" ry="6.4"/>
<ellipse cx="539.6" cy="492.2" rx="10.1" ry="10.1"/>
<ellipse cx="41.6" cy="625.9" rx="11.0" ry="11.0"/>
<ellipse cx="81.1" cy="641.7" rx="7.4" ry="7.4"/>
<ellipse cx="55.4" cy="665.4" rx="16.5" ry="23.9"/>
<ellipse cx="114.7" cy="677.3" rx="16.5" ry="17.5"/>
<ellipse cx="187.8" cy="665.4" rx="7.4" ry="6.4"/>
<ellipse cx="75.2" cy="726.7" rx="11.9" ry="11.9"/>
<ellipse cx="45.5" cy="738.5" rx="11.0" ry="16.5"/>
<ellipse cx="270.8" cy="817.6" rx="5.5" ry="5.5"/>
<ellipse cx="67.3" cy="839.3" rx="11.0" ry="9.2"/>
<ellipse cx="23.8" cy="863.0" rx="7.4" ry="8.3"/>
<ellipse cx="229.3" cy="878.8" rx="11.9" ry="9.2"/>
<ellipse cx="47.5" cy="853.2" rx="5.5" ry="3.7"/>
<ellipse cx="399.3" cy="730.6" rx="6.4" ry="5.5"/>
<ellipse cx="438.8" cy="742.5" rx="6.4" ry="12.9"/>
<ellipse cx="533.7" cy="762.2" rx="9.2" ry="9.2"/>
<ellipse cx="567.2" cy="793.9" rx="14.7" ry="15.6"/>
<ellipse cx="604.8" cy="825.5" rx="14.7" ry="12.9"/>
<ellipse cx="630.5" cy="823.5" rx="9.2" ry="9.2"/>
<ellipse cx="476.3" cy="843.3" rx="18.4" ry="14.7"/>
<ellipse cx="525.7" cy="865.0" rx="16.5" ry="16.5"/>
</g>
<path d="M84.8 355.2h1.6v1.6h-1.6zM86.4 364.8h1.6v1.6h-1.6zM86.4 355.2h1.6v1.6h-1.6zM89.6 356.8h1.6v1.6h-1.6zM89.6 356.8h1.6v1.6h-1.6zM81.6 355.2h1.6v1.6h-1.6zM84.8 355.2h1.6v1.6h-1.6zM83.2 352h3.2v1.6h-3.2zM89.6 355.2h3.2v1.6h-3.2zM94.4 361.6h1.6v1.6h-1.6zM88 347.2h1.6v1.6h-1.6zM91.2 355.2h1.6v1.6h-1.6zM89.6 348.8h1.6v1.6h-1.6zM76.8 352h3.2v1.6h-3.2zM86.4 360h3.2v1.6h-3.2zM84.8 358.4h1.6v1.6h-1.6zM81.6 352h1.6v1.6h-1.6zM86.4 360h1.6v1.6h-1.6zM80 350.4h3.2v1.6h-3.2zM84.8 352h1.6v1.6h-1.6zM92.8 355.2h1.6v1.6h-1.6zM80 345.6h1.6v1.6h-1.6zM84.8 356.8h1.6v1.6h-1.6zM84.8 360h1.6v1.6h-1.6zM88 352h1.6v1.6h-1.6zM75.2 363.2h1.6v1.6h-1.6zM84.8 360h1.6v1.6h-1.6zM84.8 363.2h1.6v1.6h-1.6zM81.6 358.4h1.6v1.6h-1.6zM83.2 355.2h3.2v1.6h-3.2zM91.2 360h1.6v1.6h-1.6zM83.2 356.8h1.6v1.6h-1.6zM92.8 355.2h1.6v1.6h-1.6zM86.4 355.2h1.6v1.6h-1.6zM81.6 350.4h1.6v1.6h-1.6zM83.2 353.6h1.6v1.6h-1.6zM72 360h1.6v1.6h-1.6zM84.8 361.6h3.2v1.6h-3.2zM155.2 350.4h1.6v1.6h-1.6zM144 350.4h3.2v1.6h-3.2zM148.8 350.4h1.6v1.6h-1.6zM148.8 355.2h1.6v1.6h-1.6zM158.4 355.2h1.6v1.6h-1.6zM150.4 352h3.2v1.6h-3.2zM155.2 348.8h3.2v1.6h-3.2zM147.2 355.2h1.6v1.6h-1.6zM148.8 353.6h1.6v1.6h-1.6zM145.6 353.6h1.6v1.6h-1.6zM145.6 356.8h1.6v1.6h-1.6zM147.2 352h1.6v1.6h-1.6zM153.6 355.2h1.6v1.6h-1.6zM145.6 355.2h3.2v1.6h-3.2zM145.6 358.4h3.2v1.6h-3.2zM148.8 356.8h1.6v1.6h-1.6zM148.8 363.2h1.6v1.6h-1.6zM150.4 356.8h1.6v1.6h-1.6zM148.8 356.8h1.6v1.6h-1.6zM296 424h1.6v1.6h-1.6zM300.8 424h3.2v1.6h-3.2zM296 428.8h1.6v1.6h-1.6zM299.2 419.2h1.6v1.6h-1.6zM304 430.4h1.6v1.6h-1.6zM302.4 424h3.2v1.6h-3.2zM296 428.8h1.6v1.6h-1.6zM300.8 438.4h1.6v1.6h-1.6zM304 422.4h3.2v1.6h-3.2zM308.8 427.2h1.6v1.6h-1.6zM308.8 422.4h3.2v1.6h-3.2zM297.6 427.2h1.6v1.6h-1.6zM304 428.8h1.6v1.6h-1.6zM299.2 435.2h1.6v1.6h-1.6zM289.6 433.6h1.6v1.6h-1.6zM294.4 424h3.2v1.6h-3.2zM297.6 440h1.6v1.6h-1.6zM292.8 425.6h3.2v1.6h-3.2zM296 424h1.6v1.6h-1.6zM307.2 436.8h3.2v1.6h-3.2zM302.4 433.6h1.6v1.6h-1.6zM300.8 428.8h1.6v1.6h-1.6zM300.8 433.6h1.6v1.6h-1.6zM296 430.4h1.6v1.6h-1.6zM304 425.6h1.6v1.6h-1.6zM300.8 432h1.6v1.6h-1.6zM299.2 430.4h1.6v1.6h-1.6zM41.6 448h1.6v1.6h-1.6zM36.8 443.2h3.2v1.6h-3.2zM32 464h1.6v1.6h-1.6zM38.4 436.8h3.2v1.6h-3.2zM40 430.4h1.6v1.6h-1.6zM44.8 441.6h3.2v1.6h-3.2zM36.8 435.2h1.6v1.6h-1.6zM38.4 441.6h3.2v1.6h-3.2zM41.6 449.6h1.6v1.6h-1.6zM24 433.6h3.2v1.6h-3.2zM30.4 436.8h1.6v1.6h-1.6zM46.4 433.6h3.2v1.6h-3.2zM28.8 446.4h3.2v1.6h-3.2zM35.2 430.4h1.6v1.6h-1.6zM33.6 432h1.6v1.6h-1.6zM36.8 443.2h1.6v1.6h-1.6zM41.6 436.8h1.6v1.6h-1.6zM30.4 440h3.2v1.6h-3.2zM27.2 460.8h1.6v1.6h-1.6zM44.8 427.2h3.2v1.6h-3.2zM33.6 446.4h1.6v1.6h-1.6zM40 436.8h1.6v1.6h-1.6zM43.2 460.8h1.6v1.6h-1.6zM48 440h1.6v1.6h-1.6zM46.4 444.8h1.6v1.6h-1.6zM46.4 435.2h1.6v1.6h-1.6zM35.2 436.8h1.6v1.6h-1.6zM46.4 454.4h1.6v1.6h-1.6zM36.8 459.2h1.6v1.6h-1.6zM28.8 457.6h3.2v1.6h-3.2zM38.4 443.2h1.6v1.6h-1.6zM46.4 425.6h1.6v1.6h-1.6zM28.8 435.2h1.6v1.6h-1.6zM16 438.4h3.2v1.6h-3.2zM38.4 441.6h1.6v1.6h-1.6zM33.6 446.4h1.6v1.6h-1.6zM32 435.2h1.6v1.6h-1.6zM25.6 441.6h1.6v1.6h-1.6zM33.6 457.6h3.2v1.6h-3.2zM43.2 438.4h1.6v1.6h-1.6zM33.6 428.8h1.6v1.6h-1.6zM44.8 448h1.6v1.6h-1.6zM27.2 459.2h1.6v1.6h-1.6zM32 449.6h1.6v1.6h-1.6zM28.8 446.4h3.2v1.6h-3.2zM17.6 452.8h1.6v1.6h-1.6zM43.2 435.2h1.6v1.6h-1.6zM33.6 443.2h1.6v1.6h-1.6zM24 448h1.6v1.6h-1.6zM25.6 444.8h3.2v1.6h-3.2zM17.6 446.4h1.6v1.6h-1.6zM35.2 446.4h1.6v1.6h-1.6zM28.8 436.8h1.6v1.6h-1.6zM33.6 428.8h3.2v1.6h-3.2zM33.6 444.8h3.2v1.6h-3.2zM19.2 444.8h3.2v1.6h-3.2zM24 449.6h3.2v1.6h-3.2zM30.4 432h3.2v1.6h-3.2zM33.6 441.6h1.6v1.6h-1.6zM33.6 438.4h1.6v1.6h-1.6zM43.2 464h1.6v1.6h-1.6zM40 444.8h1.6v1.6h-1.6zM20.8 448h1.6v1.6h-1.6zM44.8 441.6h1.6v1.6h-1.6zM41.6 435.2h1.6v1.6h-1.6zM19.2 441.6h1.6v1.6h-1.6zM44.8 433.6h1.6v1.6h-1.6zM33.6 449.6h1.6v1.6h-1.6zM35.2 432h1.6v1.6h-1.6zM33.6 446.4h1.6v1.6h-1.6zM32 451.2h1.6v1.6h-1.6zM36.8 448h1.6v1.6h-1.6zM33.6 440h1.6v1.6h-1.6zM25.6 440h3.2v1.6h-3.2zM19.2 452.8h1.6v1.6h-1.6zM28.8 425.6h1.6v1.6h-1.6zM33.6 443.2h1.6v1.6h-1.6zM33.6 425.6h1.6v1.6h-1.6zM22.4 449.6h1.6v1.6h-1.6zM28.8 438.4h3.2v1.6h-3.2zM32 443.2h1.6v1.6h-1.6zM30.4 435.2h3.2v1.6h-3.2zM30.4 443.2h1.6v1.6h-1.6zM41.6 444.8h1.6v1.6h-1.6zM44.8 444.8h3.2v1.6h-3.2zM32 443.2h1.6v1.6h-1.6zM35.2 451.2h1.6v1.6h-1.6zM24 452.8h1.6v1.6h-1.6zM72 499.2h3.2v1.6h-3.2zM48 489.6h1.6v1.6h-1.6zM65.6 486.4h1.6v1.6h-1.6zM72 480h3.2v1.6h-3.2zM73.6 496h3.2v1.6h-3.2zM67.2 488h3.2v1.6h-3.2zM68.8 484.8h3.2v1.6h-3.2zM64 489.6h3.2v1.6h-3.2zM76.8 480h3.2v1.6h-3.2zM75.2 497.6h1.6v1.6h-1.6zM76.8 494.4h1.6v1.6h-1.6zM78.4 500.8h1.6v1.6h-1.6zM78.4 502.4h1.6v1.6h-1.6zM68.8 494.4h1.6v1.6h-1.6zM72 489.6h1.6v1.6h-1.6zM67.2 502.4h1.6v1.6h-1.6zM76.8 486.4h3.2v1.6h-3.2zM78.4 494.4h1.6v1.6h-1.6zM70.4 489.6h1.6v1.6h-1.6zM75.2 494.4h1.6v1.6h-1.6zM65.6 494.4h1.6v1.6h-1.6zM70.4 491.2h1.6v1.6h-1.6zM72 494.4h1.6v1.6h-1.6zM72 504h1.6v1.6h-1.6zM70.4 497.6h1.6v1.6h-1.6zM72 500.8h1.6v1.6h-1.6zM65.6 507.2h1.6v1.6h-1.6zM70.4 497.6h1.6v1.6h-1.6zM78.4 500.8h1.6v1.6h-1.6zM72 486.4h1.6v1.6h-1.6zM62.4 497.6h3.2v1.6h-3.2zM72 505.6h1.6v1.6h-1.6zM65.6 492.8h1.6v1.6h-1.6zM64 500.8h1.6v1.6h-1.6zM70.4 491.2h1.6v1.6h-1.6zM73.6 499.2h3.2v1.6h-3.2zM62.4 494.4h3.2v1.6h-3.2zM72 504h1.6v1.6h-1.6zM78.4 494.4h1.6v1.6h-1.6zM73.6 499.2h3.2v1.6h-3.2zM72 497.6h1.6v1.6h-1.6zM68.8 513.6h1.6v1.6h-1.6zM70.4 492.8h1.6v1.6h-1.6zM60.8 560h1.6v1.6h-1.6zM68.8 561.6h3.2v1.6h-3.2zM94.4 564.8h1.6v1.6h-1.6zM80 552h3.2v1.6h-3.2zM75.2 558.4h3.2v1.6h-3.2zM70.4 556.8h1.6v1.6h-1.6zM86.4 568h1.6v1.6h-1.6zM78.4 553.6h1.6v1.6h-1.6zM68.8 561.6h1.6v1.6h-1.6zM83.2 558.4h1.6v1.6h-1.6zM67.2 552h1.6v1.6h-1.6zM78.4 564.8h1.6v1.6h-1.6zM80 563.2h3.2v1.6h-3.2zM86.4 560h1.6v1.6h-1.6zM75.2 564.8h1.6v1.6h-1.6zM75.2 552h1.6v1.6h-1.6zM89.6 553.6h1.6v1.6h-1.6zM67.2 544h1.6v1.6h-1.6zM65.6 556.8h1.6v1.6h-1.6zM78.4 556.8h3.2v1.6h-3.2zM72 571.2h1.6v1.6h-1.6zM76.8 563.2h1.6v1.6h-1.6zM72 542.4h1.6v1.6h-1.6zM73.6 560h3.2v1.6h-3.2zM70.4 561.6h1.6v1.6h-1.6zM94.4 569.6h1.6v1.6h-1.6zM59.2 550.4h1.6v1.6h-1.6zM73.6 553.6h3.2v1.6h-3.2zM76.8 550.4h1.6v1.6h-1.6zM81.6 556.8h1.6v1.6h-1.6zM70.4 553.6h3.2v1.6h-3.2zM73.6 564.8h1.6v1.6h-1.6zM81.6 553.6h1.6v1.6h-1.6zM72 577.6h1.6v1.6h-1.6zM68.8 556.8h1.6v1.6h-1.6zM67.2 577.6h1.6v1.6h-1.6zM54.4 556.8h1.6v1.6h-1.6zM68.8 556.8h3.2v1.6h-3.2zM68.8 569.6h1.6v1.6h-1.6zM76.8 555.2h1.6v1.6h-1.6zM84.8 555.2h1.6v1.6h-1.6zM92.8 572.8h1.6v1.6h-1.6zM76.8 563.2h1.6v1.6h-1.6zM73.6 558.4h1.6v1.6h-1.6zM84.8 555.2h3.2v1.6h-3.2zM81.6 552h1.6v1.6h-1.6zM70.4 558.4h1.6v1.6h-1.6zM83.2 558.4h1.6v1.6h-1.6zM64 571.2h1.6v1.6h-1.6zM88 548.8h1.6v1.6h-1.6zM78.4 552h1.6v1.6h-1.6zM62.4 558.4h1.6v1.6h-1.6zM73.6 569.6h1.6v1.6h-1.6zM72 560h1.6v1.6h-1.6zM72 568h1.6v1.6h-1.6zM70.4 561.6h3.2v1.6h-3.2zM73.6 550.4h3.2v1.6h-3.2zM76.8 556.8h1.6v1.6h-1.6zM73.6 545.6h1.6v1.6h-1.6zM70.4 547.2h1.6v1.6h-1.6zM75.2 560h1.6v1.6h-1.6zM64 552h1.6v1.6h-1.6zM68.8 563.2h1.6v1.6h-1.6zM75.2 552h1.6v1.6h-1.6zM81.6 566.4h1.6v1.6h-1.6zM70.4 569.6h1.6v1.6h-1.6zM86.4 547.2h1.6v1.6h-1.6zM72 563.2h1.6v1.6h-1.6zM78.4 544h3.2v1.6h-3.2zM88 563.2h1.6v1.6h-1.6zM89.6 560h1.6v1.6h-1.6zM86.4 564.8h1.6v1.6h-1.6zM112 553.6h1.6v1.6h-1.6zM139.2 553.6h1.6v1.6h-1.6zM121.6 552h1.6v1.6h-1.6zM110.4 544h3.2v1.6h-3.2zM139.2 556.8h1.6v1.6h-1.6zM126.4 566.4h3.2v1.6h-3.2zM118.4 550.4h1.6v1.6h-1.6zM139.2 550.4h1.6v1.6h-1.6zM123.2 545.6h1.6v1.6h-1.6zM118.4 558.4h1.6v1.6h-1.6zM118.4 552h1.6v1.6h-1.6zM126.4 556.8h1.6v1.6h-1.6zM124.8 558.4h1.6v1.6h-1.6zM131.2 548.8h1.6v1.6h-1.6zM121.6 544h1.6v1.6h-1.6zM120 537.6h3.2v1.6h-3.2zM116.8 544h1.6v1.6h-1.6zM121.6 563.2h1.6v1.6h-1.6zM116.8 558.4h1.6v1.6h-1.6zM118.4 539.2h1.6v1.6h-1.6zM131.2 540.8h1.6v1.6h-1.6zM120 544h1.6v1.6h-1.6zM113.6 544h3.2v1.6h-3.2zM120 561.6h3.2v1.6h-3.2zM131.2 556.8h1.6v1.6h-1.6zM107.2 545.6h1.6v1.6h-1.6zM123.2 563.2h1.6v1.6h-1.6zM129.6 537.6h1.6v1.6h-1.6zM140.8 561.6h3.2v1.6h-3.2zM140.8 547.2h1.6v1.6h-1.6zM145.6 547.2h1.6v1.6h-1.6zM115.2 560h3.2v1.6h-3.2zM115.2 547.2h1.6v1.6h-1.6zM120 540.8h1.6v1.6h-1.6zM128 548.8h3.2v1.6h-3.2zM140.8 552h1.6v1.6h-1.6zM129.6 547.2h3.2v1.6h-3.2zM132.8 534.4h1.6v1.6h-1.6zM120 552h1.6v1.6h-1.6zM121.6 558.4h3.2v1.6h-3.2zM128 547.2h1.6v1.6h-1.6zM118.4 539.2h1.6v1.6h-1.6zM112 555.2h3.2v1.6h-3.2zM121.6 552h1.6v1.6h-1.6zM107.2 560h3.2v1.6h-3.2zM118.4 555.2h1.6v1.6h-1.6zM126.4 547.2h1.6v1.6h-1.6zM102.4 544h1.6v1.6h-1.6zM120 552h3.2v1.6h-3.2zM129.6 542.4h1.6v1.6h-1.6zM116.8 542.4h3.2v1.6h-3.2zM126.4 544h3.2v1.6h-3.2zM121.6 548.8h1.6v1.6h-1.6zM126.4 555.2h1.6v1.6h-1.6zM121.6 553.6h1.6v1.6h-1.6zM140.8 550.4h3.2v1.6h-3.2zM129.6 553.6h3.2v1.6h-3.2zM123.2 548.8h3.2v1.6h-3.2zM126.4 544h1.6v1.6h-1.6zM126.4 552h1.6v1.6h-1.6zM110.4 547.2h1.6v1.6h-1.6zM126.4 540.8h3.2v1.6h-3.2zM104 548.8h3.2v1.6h-3.2zM128 534.4h1.6v1.6h-1.6zM104 555.2h3.2v1.6h-3.2zM116.8 550.4h1.6v1.6h-1.6zM107.2 550.4h3.2v1.6h-3.2zM134.4 555.2h3.2v1.6h-3.2zM123.2 560h1.6v1.6h-1.6zM112 571.2h1.6v1.6h-1.6zM113.6 552h3.2v1.6h-3.2zM120 536h1.6v1.6h-1.6zM126.4 537.6h3.2v1.6h-3.2zM118.4 550.4h1.6v1.6h-1.6zM116.8 552h3.2v1.6h-3.2zM113.6 555.2h1.6v1.6h-1.6zM160 611.2h3.2v1.6h-3.2zM152 596.8h3.2v1.6h-3.2zM148.8 587.2h1.6v1.6h-1.6zM142.4 595.2h1.6v1.6h-1.6zM155.2 603.2h1.6v1.6h-1.6zM150.4 585.6h1.6v1.6h-1.6zM160 596.8h1.6v1.6h-1.6zM145.6 596.8h1.6v1.6h-1.6zM150.4 601.6h1.6v1.6h-1.6zM142.4 608h1.6v1.6h-1.6zM155.2 587.2h1.6v1.6h-1.6zM155.2 590.4h1.6v1.6h-1.6zM166.4 601.6h1.6v1.6h-1.6zM150.4 603.2h1.6v1.6h-1.6zM147.2 604.8h3.2v1.6h-3.2zM156.8 592h1.6v1.6h-1.6zM156.8 606.4h3.2v1.6h-3.2zM150.4 593.6h1.6v1.6h-1.6zM147.2 604.8h1.6v1.6h-1.6zM152 590.4h3.2v1.6h-3.2zM155.2 600h1.6v1.6h-1.6zM147.2 593.6h1.6v1.6h-1.6zM142.4 600h1.6v1.6h-1.6zM150.4 595.2h1.6v1.6h-1.6zM147.2 608h1.6v1.6h-1.6zM148.8 596.8h1.6v1.6h-1.6zM148.8 598.4h1.6v1.6h-1.6zM152 603.2h1.6v1.6h-1.6zM150.4 600h1.6v1.6h-1.6zM153.6 604.8h1.6v1.6h-1.6zM136 598.4h1.6v1.6h-1.6zM163.2 604.8h3.2v1.6h-3.2zM166.4 600h1.6v1.6h-1.6zM142.4 595.2h1.6v1.6h-1.6zM147.2 600h3.2v1.6h-3.2zM144 609.6h1.6v1.6h-1.6zM158.4 585.6h3.2v1.6h-3.2zM153.6 595.2h1.6v1.6h-1.6zM142.4 598.4h1.6v1.6h-1.6zM147.2 603.2h3.2v1.6h-3.2zM147.2 598.4h1.6v1.6h-1.6zM156.8 595.2h1.6v1.6h-1.6zM156.8 587.2h3.2v1.6h-3.2zM153.6 603.2h1.6v1.6h-1.6zM150.4 588.8h3.2v1.6h-3.2zM152 592h1.6v1.6h-1.6zM150.4 592h1.6v1.6h-1.6zM140.8 595.2h1.6v1.6h-1.6zM156.8 592h3.2v1.6h-3.2zM158.4 601.6h1.6v1.6h-1.6zM150.4 601.6h1.6v1.6h-1.6zM147.2 606.4h3.2v1.6h-3.2zM152 596.8h1.6v1.6h-1.6zM156.8 592h1.6v1.6h-1.6zM140.8 601.6h1.6v1.6h-1.6zM156.8 595.2h1.6v1.6h-1.6zM147.2 593.6h1.6v1.6h-1.6zM152 601.6h3.2v1.6h-3.2zM155.2 595.2h1.6v1.6h-1.6zM145.6 598.4h3.2v1.6h-3.2zM22.4 588.8h1.6v1.6h-1.6zM30.4 592h1.6v1.6h-1.6zM24 590.4h1.6v1.6h-1.6zM28.8 579.2h3.2v1.6h-3.2zM33.6 592h1.6v1.6h-1.6zM27.2 579.2h1.6v1.6h-1.6zM30.4 584h1.6v1.6h-1.6zM30.4 592h1.6v1.6h-1.6zM25.6 582.4h1.6v1.6h-1.6zM32 585.6h1.6v1.6h-1.6zM30.4 577.6h1.6v1.6h-1.6zM32 579.2h1.6v1.6h-1.6zM20.8 585.6h1.6v1.6h-1.6zM24 592h3.2v1.6h-3.2zM30.4 600h1.6v1.6h-1.6zM28.8 590.4h3.2v1.6h-3.2zM28.8 585.6h1.6v1.6h-1.6zM33.6 576h3.2v1.6h-3.2zM24 595.2h3.2v1.6h-3.2zM25.6 588.8h1.6v1.6h-1.6zM28.8 576h3.2v1.6h-3.2zM22.4 588.8h1.6v1.6h-1.6zM28.8 593.6h1.6v1.6h-1.6zM27.2 580.8h1.6v1.6h-1.6zM24 596.8h1.6v1.6h-1.6zM30.4 582.4h1.6v1.6h-1.6zM33.6 587.2h1.6v1.6h-1.6zM24 592h1.6v1.6h-1.6zM32 577.6h3.2v1.6h-3.2zM27.2 595.2h1.6v1.6h-1.6zM25.6 585.6h1.6v1.6h-1.6zM30.4 584h1.6v1.6h-1.6zM25.6 600h3.2v1.6h-3.2zM16 592h3.2v1.6h-3.2zM24 588.8h3.2v1.6h-3.2zM44.8 612.8h3.2v1.6h-3.2zM44.8 611.2h3.2v1.6h-3.2zM48 608h1.6v1.6h-1.6zM40 608h1.6v1.6h-1.6zM43.2 604.8h3.2v1.6h-3.2zM38.4 606.4h3.2v1.6h-3.2zM43.2 612.8h1.6v1.6h-1.6zM32 608h1.6v1.6h-1.6zM43.2 612.8h1.6v1.6h-1.6zM44.8 612.8h1.6v1.6h-1.6zM36.8 611.2h1.6v1.6h-1.6zM38.4 609.6h1.6v1.6h-1.6zM40 612.8h1.6v1.6h-1.6zM36.8 608h1.6v1.6h-1.6zM38.4 609.6h1.6v1.6h-1.6zM44.8 612.8h1.6v1.6h-1.6zM46.4 611.2h1.6v1.6h-1.6zM32 611.2h1.6v1.6h-1.6zM40 611.2h1.6v1.6h-1.6zM35.2 616h1.6v1.6h-1.6zM40 604.8h1.6v1.6h-1.6zM46.4 612.8h1.6v1.6h-1.6zM43.2 617.6h1.6v1.6h-1.6zM36.8 604.8h1.6v1.6h-1.6zM48 612.8h1.6v1.6h-1.6zM17.6 475.2h3.2v1.6h-3.2zM24 476.8h1.6v1.6h-1.6zM20.8 473.6h1.6v1.6h-1.6zM17.6 472h1.6v1.6h-1.6zM19.2 467.2h1.6v1.6h-1.6zM19.2 476.8h1.6v1.6h-1.6zM17.6 467.2h1.6v1.6h-1.6zM20.8 473.6h1.6v1.6h-1.6zM20.8 472h1.6v1.6h-1.6zM17.6 473.6h1.6v1.6h-1.6zM603.2 353.6h1.6v1.6h-1.6zM604.8 358.4h1.6v1.6h-1.6zM600 353.6h1.6v1.6h-1.6zM601.6 356.8h1.6v1.6h-1.6zM595.2 363.2h1.6v1.6h-1.6zM609.6 355.2h3.2v1.6h-3.2zM600 353.6h1.6v1.6h-1.6zM598.4 350.4h3.2v1.6h-3.2zM598.4 353.6h3.2v1.6h-3.2zM665.6 390.4h1.6v1.6h-1.6zM659.2 392h1.6v1.6h-1.6zM659.2 380.8h1.6v1.6h-1.6zM662.4 384h1.6v1.6h-1.6zM659.2 392h3.2v1.6h-3.2zM665.6 392h1.6v1.6h-1.6zM659.2 392h1.6v1.6h-1.6zM662.4 392h1.6v1.6h-1.6zM660.8 395.2h1.6v1.6h-1.6zM665.6 393.6h1.6v1.6h-1.6zM630.4 411.2h3.2v1.6h-3.2zM625.6 408h1.6v1.6h-1.6zM627.2 414.4h1.6v1.6h-1.6zM632 409.6h1.6v1.6h-1.6zM630.4 411.2h1.6v1.6h-1.6zM625.6 412.8h3.2v1.6h-3.2zM630.4 417.6h3.2v1.6h-3.2zM625.6 412.8h1.6v1.6h-1.6zM534.4 489.6h3.2v1.6h-3.2zM532.8 508.8h1.6v1.6h-1.6zM531.2 491.2h1.6v1.6h-1.6zM550.4 497.6h1.6v1.6h-1.6zM532.8 494.4h1.6v1.6h-1.6zM545.6 486.4h1.6v1.6h-1.6zM544 502.4h1.6v1.6h-1.6zM540.8 491.2h3.2v1.6h-3.2zM540.8 494.4h1.6v1.6h-1.6zM539.2 488h1.6v1.6h-1.6zM547.2 486.4h1.6v1.6h-1.6zM536 488h3.2v1.6h-3.2zM537.6 497.6h1.6v1.6h-1.6zM545.6 502.4h3.2v1.6h-3.2zM536 486.4h1.6v1.6h-1.6zM542.4 488h1.6v1.6h-1.6zM540.8 492.8h1.6v1.6h-1.6zM534.4 489.6h1.6v1.6h-1.6zM534.4 496h1.6v1.6h-1.6zM537.6 489.6h1.6v1.6h-1.6zM531.2 492.8h1.6v1.6h-1.6zM539.2 494.4h3.2v1.6h-3.2zM534.4 494.4h3.2v1.6h-3.2zM536 489.6h1.6v1.6h-1.6zM539.2 483.2h1.6v1.6h-1.6zM44.8 628.8h1.6v1.6h-1.6zM40 630.4h1.6v1.6h-1.6zM41.6 628.8h1.6v1.6h-1.6zM36.8 630.4h3.2v1.6h-3.2zM43.2 624h1.6v1.6h-1.6zM38.4 624h1.6v1.6h-1.6zM35.2 625.6h1.6v1.6h-1.6zM41.6 627.2h1.6v1.6h-1.6zM28.8 625.6h3.2v1.6h-3.2zM40 627.2h1.6v1.6h-1.6zM46.4 620.8h1.6v1.6h-1.6zM32 624h1.6v1.6h-1.6zM48 620.8h1.6v1.6h-1.6zM38.4 630.4h1.6v1.6h-1.6zM43.2 632h3.2v1.6h-3.2zM33.6 625.6h1.6v1.6h-1.6zM49.6 625.6h3.2v1.6h-3.2zM46.4 625.6h1.6v1.6h-1.6zM35.2 635.2h1.6v1.6h-1.6zM43.2 632h1.6v1.6h-1.6zM44.8 627.2h1.6v1.6h-1.6zM36.8 627.2h1.6v1.6h-1.6zM36.8 625.6h1.6v1.6h-1.6zM49.6 638.4h1.6v1.6h-1.6zM40 630.4h1.6v1.6h-1.6zM33.6 624h1.6v1.6h-1.6zM43.2 620.8h1.6v1.6h-1.6zM48 625.6h1.6v1.6h-1.6zM40 617.6h3.2v1.6h-3.2zM28.8 627.2h1.6v1.6h-1.6zM81.6 636.8h1.6v1.6h-1.6zM80 640h1.6v1.6h-1.6zM76.8 636.8h3.2v1.6h-3.2zM80 641.6h1.6v1.6h-1.6zM81.6 641.6h1.6v1.6h-1.6zM84.8 646.4h1.6v1.6h-1.6zM81.6 633.6h1.6v1.6h-1.6zM81.6 640h3.2v1.6h-3.2zM81.6 644.8h1.6v1.6h-1.6zM78.4 641.6h3.2v1.6h-3.2zM83.2 640h1.6v1.6h-1.6zM81.6 636.8h1.6v1.6h-1.6zM80 636.8h3.2v1.6h-3.2zM56 678.4h3.2v1.6h-3.2zM60.8 664h1.6v1.6h-1.6zM59.2 681.6h1.6v1.6h-1.6zM44.8 686.4h1.6v1.6h-1.6zM54.4 670.4h1.6v1.6h-1.6zM40 686.4h1.6v1.6h-1.6zM68.8 659.2h1.6v1.6h-1.6zM52.8 681.6h1.6v1.6h-1.6zM49.6 668.8h1.6v1.6h-1.6zM57.6 678.4h1.6v1.6h-1.6zM54.4 659.2h1.6v1.6h-1.6zM51.2 660.8h1.6v1.6h-1.6zM44.8 662.4h3.2v1.6h-3.2zM44.8 673.6h3.2v1.6h-3.2zM56 664h1.6v1.6h-1.6zM62.4 660.8h1.6v1.6h-1.6zM60.8 657.6h3.2v1.6h-3.2zM62.4 664h1.6v1.6h-1.6zM57.6 662.4h1.6v1.6h-1.6zM43.2 662.4h1.6v1.6h-1.6zM59.2 662.4h1.6v1.6h-1.6zM62.4 686.4h1.6v1.6h-1.6zM48 673.6h1.6v1.6h-1.6zM72 659.2h1.6v1.6h-1.6zM65.6 665.6h3.2v1.6h-3.2zM60.8 664h1.6v1.6h-1.6zM46.4 662.4h1.6v1.6h-1.6zM60.8 656h3.2v1.6h-3.2zM59.2 668.8h1.6v1.6h-1.6zM56 672h1.6v1.6h-1.6zM57.6 651.2h1.6v1.6h-1.6zM62.4 684.8h1.6v1.6h-1.6zM59.2 654.4h3.2v1.6h-3.2zM52.8 659.2h3.2v1.6h-3.2zM52.8 672h1.6v1.6h-1.6zM56 683.2h1.6v1.6h-1.6zM51.2 681.6h3.2v1.6h-3.2zM49.6 651.2h3.2v1.6h-3.2zM60.8 672h1.6v1.6h-1.6zM40 665.6h1.6v1.6h-1.6zM54.4 670.4h1.6v1.6h-1.6zM52.8 680h3.2v1.6h-3.2zM57.6 670.4h1.6v1.6h-1.6zM49.6 659.2h1.6v1.6h-1.6zM46.4 667.2h1.6v1.6h-1.6zM56 673.6h1.6v1.6h-1.6zM57.6 662.4h1.6v1.6h-1.6zM54.4 660.8h1.6v1.6h-1.6zM64 670.4h1.6v1.6h-1.6zM51.2 662.4h1.6v1.6h-1.6zM51.2 664h3.2v1.6h-3.2zM52.8 662.4h1.6v1.6h-1.6zM57.6 654.4h1.6v1.6h-1.6zM52.8 667.2h1.6v1.6h-1.6zM59.2 649.6h1.6v1.6h-1.6zM60.8 649.6h1.6v1.6h-1.6zM62.4 668.8h3.2v1.6h-3.2zM73.6 664h3.2v1.6h-3.2zM57.6 664h1.6v1.6h-1.6zM57.6 648h1.6v1.6h-1.6zM51.2 656h1.6v1.6h-1.6zM44.8 680h1.6v1.6h-1.6zM48 676.8h1.6v1.6h-1.6zM44.8 660.8h1.6v1.6h-1.6zM59.2 676.8h1.6v1.6h-1.6zM54.4 657.6h3.2v1.6h-3.2zM62.4 667.2h1.6v1.6h-1.6zM46.4 662.4h1.6v1.6h-1.6zM56 675.2h1.6v1.6h-1.6zM67.2 659.2h3.2v1.6h-3.2zM57.6 654.4h1.6v1.6h-1.6zM56 664h3.2v1.6h-3.2zM57.6 667.2h1.6v1.6h-1.6zM54.4 662.4h1.6v1.6h-1.6zM51.2 670.4h3.2v1.6h-3.2zM57.6 662.4h1.6v1.6h-1.6zM52.8 684.8h1.6v1.6h-1.6zM51.2 678.4h1.6v1.6h-1.6zM52.8 673.6h3.2v1.6h-3.2zM52.8 659.2h1.6v1.6h-1.6zM72 675.2h1.6v1.6h-1.6zM64 657.6h1.6v1.6h-1.6zM35.2 665.6h1.6v1.6h-1.6zM49.6 648h1.6v1.6h-1.6zM51.2 668.8h1.6v1.6h-1.6zM56 652.8h1.6v1.6h-1.6zM51.2 681.6h1.6v1.6h-1.6zM64 657.6h1.6v1.6h-1.6zM51.2 664h3.2v1.6h-3.2zM59.2 680h1.6v1.6h-1.6zM57.6 660.8h1.6v1.6h-1.6zM57.6 673.6h1.6v1.6h-1.6zM43.2 652.8h3.2v1.6h-3.2zM56 648h1.6v1.6h-1.6zM40 668.8h1.6v1.6h-1.6zM56 665.6h1.6v1.6h-1.6zM59.2 664h1.6v1.6h-1.6zM49.6 667.2h1.6v1.6h-1.6zM120 694.4h1.6v1.6h-1.6zM115.2 670.4h1.6v1.6h-1.6zM110.4 681.6h1.6v1.6h-1.6zM112 676.8h1.6v1.6h-1.6zM100.8 680h1.6v1.6h-1.6zM108.8 683.2h1.6v1.6h-1.6zM115.2 681.6h1.6v1.6h-1.6zM123.2 673.6h1.6v1.6h-1.6zM118.4 683.2h1.6v1.6h-1.6zM118.4 668.8h1.6v1.6h-1.6zM112 672h1.6v1.6h-1.6zM124.8 675.2h1.6v1.6h-1.6zM121.6 689.6h3.2v1.6h-3.2zM113.6 668.8h1.6v1.6h-1.6zM104 673.6h3.2v1.6h-3.2zM129.6 680h1.6v1.6h-1.6zM108.8 665.6h1.6v1.6h-1.6zM118.4 672h1.6v1.6h-1.6zM123.2 678.4h1.6v1.6h-1.6zM107.2 668.8h1.6v1.6h-1.6zM105.6 678.4h3.2v1.6h-3.2zM113.6 676.8h1.6v1.6h-1.6zM112 699.2h3.2v1.6h-3.2zM118.4 667.2h1.6v1.6h-1.6zM118.4 675.2h3.2v1.6h-3.2zM118.4 681.6h1.6v1.6h-1.6zM116.8 672h1.6v1.6h-1.6zM108.8 683.2h1.6v1.6h-1.6zM120 676.8h1.6v1.6h-1.6zM121.6 667.2h1.6v1.6h-1.6zM115.2 673.6h1.6v1.6h-1.6zM112 676.8h3.2v1.6h-3.2zM118.4 684.8h1.6v1.6h-1.6zM116.8 667.2h1.6v1.6h-1.6zM121.6 683.2h3.2v1.6h-3.2zM118.4 692.8h1.6v1.6h-1.6zM112 678.4h3.2v1.6h-3.2zM129.6 670.4h1.6v1.6h-1.6zM131.2 681.6h1.6v1.6h-1.6zM124.8 675.2h1.6v1.6h-1.6zM113.6 668.8h3.2v1.6h-3.2zM118.4 681.6h1.6v1.6h-1.6zM102.4 688h1.6v1.6h-1.6zM115.2 673.6h1.6v1.6h-1.6zM113.6 668.8h1.6v1.6h-1.6zM121.6 680h1.6v1.6h-1.6zM107.2 688h1.6v1.6h-1.6zM104 684.8h3.2v1.6h-3.2zM112 702.4h1.6v1.6h-1.6zM104 691.2h1.6v1.6h-1.6zM110.4 667.2h3.2v1.6h-3.2zM105.6 667.2h1.6v1.6h-1.6zM118.4 680h1.6v1.6h-1.6zM107.2 667.2h1.6v1.6h-1.6zM115.2 678.4h1.6v1.6h-1.6zM110.4 681.6h3.2v1.6h-3.2zM118.4 684.8h1.6v1.6h-1.6zM113.6 678.4h1.6v1.6h-1.6zM123.2 683.2h1.6v1.6h-1.6zM110.4 681.6h1.6v1.6h-1.6zM128 686.4h1.6v1.6h-1.6zM124.8 675.2h3.2v1.6h-3.2zM112 680h1.6v1.6h-1.6zM112 676.8h1.6v1.6h-1.6zM107.2 681.6h3.2v1.6h-3.2zM115.2 683.2h1.6v1.6h-1.6zM110.4 673.6h3.2v1.6h-3.2zM108.8 696h1.6v1.6h-1.6zM105.6 667.2h1.6v1.6h-1.6zM107.2 689.6h1.6v1.6h-1.6zM118.4 676.8h1.6v1.6h-1.6zM120 675.2h1.6v1.6h-1.6zM196.8 664h1.6v1.6h-1.6zM187.2 662.4h1.6v1.6h-1.6zM187.2 668.8h1.6v1.6h-1.6zM187.2 665.6h1.6v1.6h-1.6zM184 664h1.6v1.6h-1.6zM180.8 662.4h1.6v1.6h-1.6zM187.2 662.4h1.6v1.6h-1.6zM185.6 660.8h1.6v1.6h-1.6zM184 667.2h1.6v1.6h-1.6zM188.8 670.4h1.6v1.6h-1.6zM188.8 664h1.6v1.6h-1.6zM70.4 728h1.6v1.6h-1.6zM83.2 723.2h1.6v1.6h-1.6zM76.8 721.6h1.6v1.6h-1.6zM67.2 724.8h3.2v1.6h-3.2zM76.8 718.4h1.6v1.6h-1.6zM73.6 724.8h1.6v1.6h-1.6zM73.6 721.6h1.6v1.6h-1.6zM80 724.8h3.2v1.6h-3.2zM75.2 732.8h1.6v1.6h-1.6zM68.8 723.2h1.6v1.6h-1.6zM68.8 732.8h1.6v1.6h-1.6zM70.4 726.4h3.2v1.6h-3.2zM80 729.6h1.6v1.6h-1.6zM84.8 734.4h3.2v1.6h-3.2zM73.6 732.8h3.2v1.6h-3.2zM68.8 728h1.6v1.6h-1.6zM73.6 721.6h1.6v1.6h-1.6zM76.8 724.8h1.6v1.6h-1.6zM70.4 720h3.2v1.6h-3.2zM78.4 726.4h3.2v1.6h-3.2zM78.4 732.8h1.6v1.6h-1.6zM75.2 732.8h3.2v1.6h-3.2zM72 721.6h3.2v1.6h-3.2zM72 724.8h1.6v1.6h-1.6zM68.8 732.8h3.2v1.6h-3.2zM75.2 716.8h3.2v1.6h-3.2zM83.2 732.8h3.2v1.6h-3.2zM72 731.2h1.6v1.6h-1.6zM80 721.6h1.6v1.6h-1.6zM68.8 723.2h1.6v1.6h-1.6zM68.8 734.4h1.6v1.6h-1.6zM78.4 718.4h1.6v1.6h-1.6zM73.6 724.8h3.2v1.6h-3.2zM78.4 729.6h3.2v1.6h-3.2zM73.6 720h1.6v1.6h-1.6zM48 744h3.2v1.6h-3.2zM40 729.6h1.6v1.6h-1.6zM51.2 739.2h1.6v1.6h-1.6zM48 744h1.6v1.6h-1.6zM49.6 740.8h3.2v1.6h-3.2zM51.2 748.8h1.6v1.6h-1.6zM40 737.6h1.6v1.6h-1.6zM36.8 745.6h1.6v1.6h-1.6zM46.4 739.2h1.6v1.6h-1.6zM44.8 744h1.6v1.6h-1.6zM48 745.6h1.6v1.6h-1.6zM46.4 729.6h3.2v1.6h-3.2zM52.8 747.2h1.6v1.6h-1.6zM40 748.8h3.2v1.6h-3.2zM44.8 729.6h1.6v1.6h-1.6zM52.8 747.2h1.6v1.6h-1.6zM40 766.4h1.6v1.6h-1.6zM40 750.4h1.6v1.6h-1.6zM54.4 737.6h3.2v1.6h-3.2zM48 729.6h1.6v1.6h-1.6zM43.2 728h3.2v1.6h-3.2zM48 742.4h3.2v1.6h-3.2zM49.6 740.8h1.6v1.6h-1.6zM41.6 737.6h1.6v1.6h-1.6zM44.8 744h1.6v1.6h-1.6zM52.8 737.6h3.2v1.6h-3.2zM54.4 736h1.6v1.6h-1.6zM56 737.6h3.2v1.6h-3.2zM48 734.4h1.6v1.6h-1.6zM49.6 728h1.6v1.6h-1.6zM38.4 739.2h1.6v1.6h-1.6zM41.6 742.4h1.6v1.6h-1.6zM46.4 736h1.6v1.6h-1.6zM43.2 755.2h1.6v1.6h-1.6zM49.6 736h3.2v1.6h-3.2zM46.4 726.4h1.6v1.6h-1.6zM38.4 740.8h1.6v1.6h-1.6zM51.2 742.4h3.2v1.6h-3.2zM43.2 740.8h1.6v1.6h-1.6zM48 732.8h1.6v1.6h-1.6zM40 734.4h1.6v1.6h-1.6zM44.8 736h3.2v1.6h-3.2zM46.4 731.2h3.2v1.6h-3.2zM49.6 732.8h3.2v1.6h-3.2zM48 737.6h1.6v1.6h-1.6zM273.6 820.8h3.2v1.6h-3.2zM272 816h1.6v1.6h-1.6zM270.4 819.2h1.6v1.6h-1.6zM272 819.2h1.6v1.6h-1.6zM270.4 816h1.6v1.6h-1.6zM270.4 817.6h1.6v1.6h-1.6zM272 819.2h1.6v1.6h-1.6zM75.2 840h1.6v1.6h-1.6zM72 838.4h3.2v1.6h-3.2zM72 841.6h1.6v1.6h-1.6zM70.4 841.6h1.6v1.6h-1.6zM73.6 844.8h1.6v1.6h-1.6zM78.4 849.6h3.2v1.6h-3.2zM67.2 840h1.6v1.6h-1.6zM59.2 841.6h1.6v1.6h-1.6zM70.4 843.2h1.6v1.6h-1.6zM68.8 838.4h3.2v1.6h-3.2zM67.2 833.6h1.6v1.6h-1.6zM72 838.4h3.2v1.6h-3.2zM67.2 841.6h1.6v1.6h-1.6zM62.4 835.2h1.6v1.6h-1.6zM64 832h1.6v1.6h-1.6zM65.6 844.8h1.6v1.6h-1.6zM67.2 835.2h3.2v1.6h-3.2zM76.8 833.6h1.6v1.6h-1.6zM72 843.2h1.6v1.6h-1.6zM54.4 836.8h1.6v1.6h-1.6zM70.4 838.4h1.6v1.6h-1.6zM62.4 838.4h1.6v1.6h-1.6zM68.8 828.8h1.6v1.6h-1.6zM68.8 840h1.6v1.6h-1.6zM68.8 840h1.6v1.6h-1.6zM19.2 862.4h1.6v1.6h-1.6zM19.2 865.6h3.2v1.6h-3.2zM19.2 862.4h1.6v1.6h-1.6zM22.4 867.2h3.2v1.6h-3.2zM25.6 859.2h1.6v1.6h-1.6zM19.2 857.6h1.6v1.6h-1.6zM28.8 865.6h1.6v1.6h-1.6zM24 862.4h3.2v1.6h-3.2zM20.8 864h1.6v1.6h-1.6zM22.4 868.8h1.6v1.6h-1.6zM27.2 867.2h1.6v1.6h-1.6zM28.8 870.4h1.6v1.6h-1.6zM25.6 857.6h3.2v1.6h-3.2zM27.2 867.2h1.6v1.6h-1.6zM28.8 859.2h3.2v1.6h-3.2zM230.4 875.2h3.2v1.6h-3.2zM227.2 873.6h3.2v1.6h-3.2zM224 880h1.6v1.6h-1.6zM224 876.8h1.6v1.6h-1.6zM235.2 881.6h1.6v1.6h-1.6zM230.4 883.2h3.2v1.6h-3.2zM232 876.8h1.6v1.6h-1.6zM227.2 880h1.6v1.6h-1.6zM233.6 875.2h1.6v1.6h-1.6zM228.8 875.2h1.6v1.6h-1.6zM222.4 881.6h1.6v1.6h-1.6zM233.6 880h1.6v1.6h-1.6zM232 876.8h1.6v1.6h-1.6zM243.2 878.4h3.2v1.6h-3.2zM225.6 880h1.6v1.6h-1.6zM225.6 883.2h3.2v1.6h-3.2zM232 883.2h1.6v1.6h-1.6zM225.6 875.2h1.6v1.6h-1.6zM220.8 878.4h3.2v1.6h-3.2zM236.8 875.2h3.2v1.6h-3.2zM235.2 878.4h3.2v1.6h-3.2zM224 884.8h1.6v1.6h-1.6zM230.4 878.4h1.6v1.6h-1.6zM233.6 873.6h3.2v1.6h-3.2zM225.6 878.4h1.6v1.6h-1.6zM246.4 884.8h1.6v1.6h-1.6zM240 883.2h1.6v1.6h-1.6zM43.2 852.8h1.6v1.6h-1.6zM48 852.8h3.2v1.6h-3.2zM51.2 856h3.2v1.6h-3.2zM44.8 852.8h1.6v1.6h-1.6zM48 854.4h1.6v1.6h-1.6zM400 726.4h1.6v1.6h-1.6zM398.4 732.8h3.2v1.6h-3.2zM400 734.4h1.6v1.6h-1.6zM400 731.2h1.6v1.6h-1.6zM396.8 732.8h1.6v1.6h-1.6zM400 732.8h1.6v1.6h-1.6zM400 731.2h1.6v1.6h-1.6zM401.6 728h3.2v1.6h-3.2zM440 737.6h3.2v1.6h-3.2zM438.4 747.2h1.6v1.6h-1.6zM438.4 739.2h1.6v1.6h-1.6zM441.6 744h1.6v1.6h-1.6zM438.4 737.6h1.6v1.6h-1.6zM440 739.2h3.2v1.6h-3.2zM443.2 728h3.2v1.6h-3.2zM440 737.6h1.6v1.6h-1.6zM436.8 736h1.6v1.6h-1.6zM438.4 740.8h3.2v1.6h-3.2zM441.6 739.2h3.2v1.6h-3.2zM443.2 736h1.6v1.6h-1.6zM441.6 744h3.2v1.6h-3.2zM433.6 737.6h1.6v1.6h-1.6zM443.2 744h3.2v1.6h-3.2zM440 745.6h1.6v1.6h-1.6zM440 740.8h1.6v1.6h-1.6zM438.4 747.2h1.6v1.6h-1.6zM438.4 742.4h1.6v1.6h-1.6zM440 745.6h1.6v1.6h-1.6zM528 761.6h1.6v1.6h-1.6zM537.6 750.4h1.6v1.6h-1.6zM529.6 766.4h1.6v1.6h-1.6zM537.6 760h1.6v1.6h-1.6zM534.4 764.8h3.2v1.6h-3.2zM539.2 758.4h3.2v1.6h-3.2zM539.2 761.6h1.6v1.6h-1.6zM545.6 761.6h3.2v1.6h-3.2zM531.2 760h1.6v1.6h-1.6zM534.4 761.6h1.6v1.6h-1.6zM534.4 769.6h1.6v1.6h-1.6zM529.6 768h1.6v1.6h-1.6zM536 766.4h1.6v1.6h-1.6zM531.2 753.6h3.2v1.6h-3.2zM531.2 752h1.6v1.6h-1.6zM531.2 761.6h1.6v1.6h-1.6zM537.6 758.4h1.6v1.6h-1.6zM531.2 761.6h3.2v1.6h-3.2zM534.4 768h3.2v1.6h-3.2zM536 761.6h3.2v1.6h-3.2zM531.2 753.6h1.6v1.6h-1.6zM566.4 795.2h1.6v1.6h-1.6zM577.6 787.2h1.6v1.6h-1.6zM577.6 780.8h1.6v1.6h-1.6zM572.8 792h3.2v1.6h-3.2zM566.4 796.8h3.2v1.6h-3.2zM577.6 790.4h1.6v1.6h-1.6zM564.8 790.4h1.6v1.6h-1.6zM561.6 779.2h1.6v1.6h-1.6zM568 803.2h3.2v1.6h-3.2zM563.2 803.2h3.2v1.6h-3.2zM564.8 777.6h1.6v1.6h-1.6zM550.4 808h1.6v1.6h-1.6zM576 795.2h1.6v1.6h-1.6zM571.2 793.6h1.6v1.6h-1.6zM571.2 792h1.6v1.6h-1.6zM568 814.4h3.2v1.6h-3.2zM569.6 792h1.6v1.6h-1.6zM558.4 782.4h1.6v1.6h-1.6zM566.4 798.4h3.2v1.6h-3.2zM566.4 796.8h3.2v1.6h-3.2zM558.4 801.6h1.6v1.6h-1.6zM572.8 788.8h1.6v1.6h-1.6zM564.8 793.6h1.6v1.6h-1.6zM572.8 785.6h1.6v1.6h-1.6zM568 796.8h1.6v1.6h-1.6zM566.4 800h1.6v1.6h-1.6zM571.2 795.2h1.6v1.6h-1.6zM566.4 785.6h1.6v1.6h-1.6zM574.4 798.4h1.6v1.6h-1.6zM564.8 793.6h1.6v1.6h-1.6zM574.4 806.4h3.2v1.6h-3.2zM571.2 796.8h3.2v1.6h-3.2zM563.2 784h1.6v1.6h-1.6zM566.4 800h3.2v1.6h-3.2zM576 796.8h1.6v1.6h-1.6zM571.2 800h1.6v1.6h-1.6zM564.8 803.2h1.6v1.6h-1.6zM568 795.2h3.2v1.6h-3.2zM566.4 796.8h1.6v1.6h-1.6zM564.8 800h1.6v1.6h-1.6zM566.4 792h1.6v1.6h-1.6zM572.8 808h1.6v1.6h-1.6zM561.6 795.2h1.6v1.6h-1.6zM568 800h3.2v1.6h-3.2zM568 784h3.2v1.6h-3.2zM563.2 801.6h1.6v1.6h-1.6zM560 788.8h1.6v1.6h-1.6zM569.6 787.2h1.6v1.6h-1.6zM572.8 787.2h1.6v1.6h-1.6zM564.8 793.6h1.6v1.6h-1.6zM564.8 785.6h1.6v1.6h-1.6zM569.6 784h1.6v1.6h-1.6zM576 801.6h3.2v1.6h-3.2zM585.6 792h1.6v1.6h-1.6zM572.8 798.4h1.6v1.6h-1.6zM545.6 803.2h1.6v1.6h-1.6zM569.6 788.8h1.6v1.6h-1.6zM606.4 824h1.6v1.6h-1.6zM600 828.8h1.6v1.6h-1.6zM592 828.8h1.6v1.6h-1.6zM598.4 820.8h1.6v1.6h-1.6zM601.6 827.2h1.6v1.6h-1.6zM606.4 811.2h1.6v1.6h-1.6zM601.6 824h1.6v1.6h-1.6zM598.4 824h1.6v1.6h-1.6zM598.4 830.4h1.6v1.6h-1.6zM609.6 827.2h3.2v1.6h-3.2zM596.8 819.2h3.2v1.6h-3.2zM609.6 822.4h3.2v1.6h-3.2zM604.8 812.8h1.6v1.6h-1.6zM617.6 827.2h1.6v1.6h-1.6zM603.2 832h1.6v1.6h-1.6zM616 832h3.2v1.6h-3.2zM611.2 824h1.6v1.6h-1.6zM603.2 832h1.6v1.6h-1.6zM606.4 828.8h1.6v1.6h-1.6zM604.8 816h1.6v1.6h-1.6zM608 819.2h3.2v1.6h-3.2zM601.6 832h3.2v1.6h-3.2zM612.8 816h3.2v1.6h-3.2zM609.6 835.2h1.6v1.6h-1.6zM604.8 832h1.6v1.6h-1.6zM603.2 820.8h1.6v1.6h-1.6zM595.2 825.6h3.2v1.6h-3.2zM611.2 827.2h1.6v1.6h-1.6zM611.2 836.8h1.6v1.6h-1.6zM603.2 828.8h1.6v1.6h-1.6zM604.8 816h1.6v1.6h-1.6zM601.6 827.2h1.6v1.6h-1.6zM617.6 822.4h1.6v1.6h-1.6zM603.2 820.8h1.6v1.6h-1.6zM616 827.2h1.6v1.6h-1.6zM619.2 825.6h1.6v1.6h-1.6zM604.8 825.6h1.6v1.6h-1.6zM606.4 820.8h1.6v1.6h-1.6zM600 820.8h1.6v1.6h-1.6zM601.6 828.8h1.6v1.6h-1.6zM600 816h1.6v1.6h-1.6zM611.2 830.4h1.6v1.6h-1.6zM608 820.8h1.6v1.6h-1.6zM600 822.4h3.2v1.6h-3.2zM622.4 832h1.6v1.6h-1.6zM608 822.4h1.6v1.6h-1.6zM609.6 822.4h3.2v1.6h-3.2zM632 814.4h1.6v1.6h-1.6zM632 817.6h1.6v1.6h-1.6zM627.2 817.6h1.6v1.6h-1.6zM633.6 824h1.6v1.6h-1.6zM630.4 824h1.6v1.6h-1.6zM628.8 822.4h1.6v1.6h-1.6zM632 828.8h1.6v1.6h-1.6zM635.2 820.8h1.6v1.6h-1.6zM635.2 817.6h1.6v1.6h-1.6zM632 825.6h3.2v1.6h-3.2zM630.4 830.4h1.6v1.6h-1.6zM633.6 828.8h1.6v1.6h-1.6zM633.6 825.6h1.6v1.6h-1.6zM627.2 830.4h1.6v1.6h-1.6zM630.4 827.2h1.6v1.6h-1.6zM622.4 825.6h1.6v1.6h-1.6zM632 822.4h1.6v1.6h-1.6zM622.4 824h1.6v1.6h-1.6zM630.4 825.6h1.6v1.6h-1.6zM632 825.6h1.6v1.6h-1.6zM622.4 819.2h1.6v1.6h-1.6zM470.4 852.8h1.6v1.6h-1.6zM464 844.8h3.2v1.6h-3.2zM475.2 843.2h1.6v1.6h-1.6zM476.8 840h1.6v1.6h-1.6zM462.4 844.8h3.2v1.6h-3.2zM467.2 836.8h1.6v1.6h-1.6zM484.8 841.6h3.2v1.6h-3.2zM478.4 849.6h3.2v1.6h-3.2zM468.8 854.4h3.2v1.6h-3.2zM470.4 835.2h3.2v1.6h-3.2zM473.6 836.8h3.2v1.6h-3.2zM468.8 849.6h3.2v1.6h-3.2zM480 838.4h1.6v1.6h-1.6zM475.2 835.2h1.6v1.6h-1.6zM497.6 828.8h1.6v1.6h-1.6zM483.2 840h3.2v1.6h-3.2zM494.4 838.4h1.6v1.6h-1.6zM478.4 854.4h3.2v1.6h-3.2zM475.2 835.2h3.2v1.6h-3.2zM468.8 851.2h3.2v1.6h-3.2zM481.6 840h1.6v1.6h-1.6zM502.4 849.6h1.6v1.6h-1.6zM475.2 841.6h1.6v1.6h-1.6zM468.8 846.4h1.6v1.6h-1.6zM472 843.2h1.6v1.6h-1.6zM472 838.4h1.6v1.6h-1.6zM473.6 838.4h1.6v1.6h-1.6zM486.4 852.8h3.2v1.6h-3.2zM475.2 840h3.2v1.6h-3.2zM480 846.4h3.2v1.6h-3.2zM475.2 851.2h3.2v1.6h-3.2zM473.6 838.4h3.2v1.6h-3.2zM470.4 843.2h1.6v1.6h-1.6zM476.8 843.2h1.6v1.6h-1.6zM489.6 836.8h1.6v1.6h-1.6zM478.4 844.8h1.6v1.6h-1.6zM475.2 840h1.6v1.6h-1.6zM480 862.4h1.6v1.6h-1.6zM472 843.2h3.2v1.6h-3.2zM483.2 844.8h1.6v1.6h-1.6zM470.4 852.8h3.2v1.6h-3.2zM476.8 841.6h1.6v1.6h-1.6zM473.6 840h1.6v1.6h-1.6zM465.6 846.4h1.6v1.6h-1.6zM489.6 849.6h3.2v1.6h-3.2zM459.2 852.8h1.6v1.6h-1.6zM464 851.2h1.6v1.6h-1.6zM467.2 833.6h3.2v1.6h-3.2zM475.2 841.6h1.6v1.6h-1.6zM481.6 849.6h1.6v1.6h-1.6zM480 833.6h3.2v1.6h-3.2zM470.4 848h3.2v1.6h-3.2zM470.4 832h1.6v1.6h-1.6zM489.6 854.4h3.2v1.6h-3.2zM473.6 844.8h1.6v1.6h-1.6zM472 852.8h1.6v1.6h-1.6zM476.8 835.2h1.6v1.6h-1.6zM488 841.6h1.6v1.6h-1.6zM464 841.6h3.2v1.6h-3.2zM473.6 838.4h1.6v1.6h-1.6zM472 836.8h1.6v1.6h-1.6zM452.8 836.8h3.2v1.6h-3.2zM473.6 840h1.6v1.6h-1.6zM486.4 832h3.2v1.6h-3.2zM470.4 843.2h1.6v1.6h-1.6zM481.6 844.8h1.6v1.6h-1.6zM472 846.4h1.6v1.6h-1.6zM528 857.6h1.6v1.6h-1.6zM521.6 865.6h1.6v1.6h-1.6zM523.2 862.4h1.6v1.6h-1.6zM526.4 865.6h3.2v1.6h-3.2zM516.8 859.2h1.6v1.6h-1.6zM520 864h1.6v1.6h-1.6zM532.8 862.4h3.2v1.6h-3.2zM526.4 873.6h1.6v1.6h-1.6zM520 859.2h1.6v1.6h-1.6zM524.8 860.8h1.6v1.6h-1.6zM526.4 872h1.6v1.6h-1.6zM531.2 864h1.6v1.6h-1.6zM524.8 862.4h3.2v1.6h-3.2zM532.8 873.6h1.6v1.6h-1.6zM534.4 872h3.2v1.6h-3.2zM532.8 862.4h1.6v1.6h-1.6zM528 852.8h3.2v1.6h-3.2zM510.4 873.6h1.6v1.6h-1.6zM515.2 857.6h1.6v1.6h-1.6zM515.2 849.6h3.2v1.6h-3.2zM516.8 865.6h3.2v1.6h-3.2zM539.2 859.2h1.6v1.6h-1.6zM508.8 864h3.2v1.6h-3.2zM515.2 859.2h3.2v1.6h-3.2zM518.4 872h1.6v1.6h-1.6zM518.4 865.6h1.6v1.6h-1.6zM536 859.2h1.6v1.6h-1.6zM545.6 860.8h1.6v1.6h-1.6zM531.2 870.4h1.6v1.6h-1.6zM526.4 859.2h1.6v1.6h-1.6zM532.8 856h1.6v1.6h-1.6zM521.6 860.8h1.6v1.6h-1.6zM524.8 872h1.6v1.6h-1.6zM536 864h1.6v1.6h-1.6zM513.6 864h1.6v1.6h-1.6zM531.2 870.4h1.6v1.6h-1.6zM515.2 860.8h1.6v1.6h-1.6zM524.8 851.2h1.6v1.6h-1.6zM532.8 854.4h1.6v1.6h-1.6zM529.6 865.6h1.6v1.6h-1.6zM529.6 876.8h3.2v1.6h-3.2zM524.8 870.4h1.6v1.6h-1.6zM523.2 859.2h1.6v1.6h-1.6zM539.2 867.2h3.2v1.6h-3.2zM534.4 856h1.6v1.6h-1.6zM524.8 856h3.2v1.6h-3.2zM528 851.2h1.6v1.6h-1.6zM516.8 851.2h1.6v1.6h-1.6zM545.6 859.2h1.6v1.6h-1.6zM524.8 864h1.6v1.6h-1.6zM516.8 856h1.6v1.6h-1.6zM534.4 851.2h1.6v1.6h-1.6zM518.4 854.4h1.6v1.6h-1.6zM515.2 857.6h1.6v1.6h-1.6zM524.8 868.8h1.6v1.6h-1.6zM528 868.8h1.6v1.6h-1.6zM520 870.4h1.6v1.6h-1.6zM532.8 872h1.6v1.6h-1.6zM520 875.2h3.2v1.6h-3.2zM529.6 870.4h3.2v1.6h-3.2zM534.4 860.8h1.6v1.6h-1.6zM516.8 865.6h1.6v1.6h-1.6zM526.4 859.2h3.2v1.6h-3.2zM526.4 867.2h1.6v1.6h-1.6zM518.4 870.4h3.2v1.6h-3.2zM526.4 870.4h1.6v1.6h-1.6zM521.6 868.8h1.6v1.6h-1.6zM500.8 860.8h1.6v1.6h-1.6z" fill="#000" fill-opacity="0.55"/>
<g fill="#ff00ff" filter="url(#rough)" opacity="0.75">
<ellipse cx="551.4" cy="547.6" rx="10.8" ry="10.8"/>
<ellipse cx="644.3" cy="673.3" rx="14.2" ry="14.2"/>
<ellipse cx="450.6" cy="706.9" rx="13.3" ry="13.3"/>
<ellipse cx="626.5" cy="776.1" rx="16.7" ry="16.7"/>
<ellipse cx="654.2" cy="861.1" rx="15.0" ry="15.0"/>
<ellipse cx="667.1" cy="581.2" rx="8.3" ry="8.3"/>
<ellipse cx="176.0" cy="424.0" rx="9.2" ry="9.2"/>
</g>
<path d="M177.6 420.8h1.6v1.6h-1.6zM156.8 428.8h1.6v1.6h-1.6zM158.4 404.8h1.6v1.6h-1.6zM166.4 440h1.6v1.6h-1.6zM166.4 428.8h1.6v1.6h-1.6zM190.4 411.2h1.6v1.6h-1.6zM179.2 411.2h3.2v1.6h-3.2zM180.8 417.6h1.6v1.6h-1.6zM180.8 419.2h1.6v1.6h-1.6zM174.4 420.8h3.2v1.6h-3.2zM168 406.4h1.6v1.6h-1.6zM171.2 424h1.6v1.6h-1.6zM168 396.8h1.6v1.6h-1.6zM163.2 403.2h1.6v1.6h-1.6zM182.4 430.4h1.6v1.6h-1.6zM179.2 422.4h1.6v1.6h-1.6zM164.8 417.6h3.2v1.6h-3.2zM176 430.4h1.6v1.6h-1.6zM174.4 422.4h1.6v1.6h-1.6zM163.2 417.6h1.6v1.6h-1.6zM176 408h1.6v1.6h-1.6zM195.2 430.4h3.2v1.6h-3.2zM177.6 412.8h3.2v1.6h-3.2zM177.6 411.2h1.6v1.6h-1.6zM169.6 412.8h1.6v1.6h-1.6zM182.4 428.8h1.6v1.6h-1.6zM153.6 414.4h3.2v1.6h-3.2zM166.4 403.2h1.6v1.6h-1.6zM174.4 412.8h1.6v1.6h-1.6zM164.8 417.6h3.2v1.6h-3.2zM188.8 420.8h1.6v1.6h-1.6zM184 419.2h1.6v1.6h-1.6zM182.4 416h1.6v1.6h-1.6zM169.6 412.8h3.2v1.6h-3.2zM179.2 438.4h3.2v1.6h-3.2zM182.4 436.8h1.6v1.6h-1.6zM188.8 403.2h1.6v1.6h-1.6zM164.8 424h1.6v1.6h-1.6zM179.2 422.4h1.6v1.6h-1.6zM168 422.4h3.2v1.6h-3.2zM172.8 417.6h1.6v1.6h-1.6zM182.4 416h1.6v1.6h-1.6zM169.6 416h1.6v1.6h-1.6zM168 417.6h1.6v1.6h-1.6zM174.4 420.8h3.2v1.6h-3.2zM179.2 436.8h1.6v1.6h-1.6zM179.2 417.6h1.6v1.6h-1.6zM184 414.4h1.6v1.6h-1.6zM171.2 432h3.2v1.6h-3.2zM161.6 409.6h1.6v1.6h-1.6zM184 430.4h1.6v1.6h-1.6zM179.2 419.2h3.2v1.6h-3.2zM187.2 422.4h3.2v1.6h-3.2zM168 416h1.6v1.6h-1.6zM185.6 414.4h1.6v1.6h-1.6zM187.2 420.8h1.6v1.6h-1.6zM171.2 425.6h1.6v1.6h-1.6zM174.4 412.8h1.6v1.6h-1.6zM166.4 420.8h1.6v1.6h-1.6zM166.4 406.4h1.6v1.6h-1.6zM171.2 417.6h1.6v1.6h-1.6zM169.6 422.4h1.6v1.6h-1.6zM163.2 400h1.6v1.6h-1.6zM166.4 422.4h3.2v1.6h-3.2zM172.8 420.8h1.6v1.6h-1.6zM182.4 422.4h1.6v1.6h-1.6zM169.6 428.8h1.6v1.6h-1.6zM201.6 428.8h1.6v1.6h-1.6zM172.8 409.6h1.6v1.6h-1.6zM179.2 414.4h1.6v1.6h-1.6zM182.4 433.6h1.6v1.6h-1.6zM166.4 406.4h1.6v1.6h-1.6zM161.6 435.2h1.6v1.6h-1.6zM164.8 436.8h1.6v1.6h-1.6zM163.2 422.4h1.6v1.6h-1.6zM179.2 425.6h3.2v1.6h-3.2zM171.2 416h3.2v1.6h-3.2zM166.4 432h3.2v1.6h-3.2zM177.6 438.4h1.6v1.6h-1.6zM164.8 422.4h3.2v1.6h-3.2zM185.6 436.8h3.2v1.6h-3.2zM187.2 424h3.2v1.6h-3.2zM174.4 419.2h1.6v1.6h-1.6zM182.4 424h3.2v1.6h-3.2zM188.8 417.6h1.6v1.6h-1.6zM190.4 422.4h1.6v1.6h-1.6zM174.4 425.6h1.6v1.6h-1.6zM195.2 420.8h3.2v1.6h-3.2zM182.4 409.6h1.6v1.6h-1.6zM179.2 416h1.6v1.6h-1.6zM174.4 436.8h1.6v1.6h-1.6zM163.2 425.6h3.2v1.6h-3.2zM172.8 424h3.2v1.6h-3.2zM182.4 412.8h1.6v1.6h-1.6zM177.6 424h1.6v1.6h-1.6zM174.4 419.2h1.6v1.6h-1.6zM171.2 420.8h1.6v1.6h-1.6zM184 430.4h1.6v1.6h-1.6zM188.8 411.2h1.6v1.6h-1.6zM166.4 419.2h3.2v1.6h-3.2zM169.6 419.2h1.6v1.6h-1.6zM177.6 412.8h1.6v1.6h-1.6zM174.4 404.8h1.6v1.6h-1.6zM180.8 424h1.6v1.6h-1.6zM177.6 440h1.6v1.6h-1.6zM182.4 414.4h3.2v1.6h-3.2zM171.2 404.8h1.6v1.6h-1.6zM176 422.4h1.6v1.6h-1.6zM172.8 414.4h1.6v1.6h-1.6zM184 432h1.6v1.6h-1.6zM182.4 412.8h1.6v1.6h-1.6zM174.4 435.2h1.6v1.6h-1.6zM161.6 430.4h1.6v1.6h-1.6zM168 430.4h1.6v1.6h-1.6zM172.8 428.8h1.6v1.6h-1.6zM174.4 403.2h1.6v1.6h-1.6zM176 411.2h1.6v1.6h-1.6zM179.2 427.2h1.6v1.6h-1.6zM169.6 432h1.6v1.6h-1.6zM174.4 416h1.6v1.6h-1.6zM179.2 420.8h3.2v1.6h-3.2zM185.6 416h3.2v1.6h-3.2zM176 425.6h3.2v1.6h-3.2zM155.2 438.4h1.6v1.6h-1.6zM161.6 419.2h1.6v1.6h-1.6zM192 416h1.6v1.6h-1.6zM169.6 424h1.6v1.6h-1.6zM179.2 414.4h3.2v1.6h-3.2zM166.4 414.4h3.2v1.6h-3.2zM177.6 424h3.2v1.6h-3.2zM180.8 420.8h1.6v1.6h-1.6zM177.6 412.8h1.6v1.6h-1.6zM166.4 416h1.6v1.6h-1.6zM179.2 422.4h1.6v1.6h-1.6zM185.6 403.2h1.6v1.6h-1.6zM184 419.2h1.6v1.6h-1.6zM184 441.6h1.6v1.6h-1.6zM176 430.4h3.2v1.6h-3.2zM182.4 424h1.6v1.6h-1.6zM184 398.4h1.6v1.6h-1.6zM180.8 409.6h1.6v1.6h-1.6zM187.2 419.2h1.6v1.6h-1.6zM177.6 396.8h1.6v1.6h-1.6zM163.2 424h3.2v1.6h-3.2zM179.2 424h1.6v1.6h-1.6zM190.4 420.8h3.2v1.6h-3.2zM166.4 443.2h1.6v1.6h-1.6zM193.6 422.4h3.2v1.6h-3.2zM187.2 428.8h1.6v1.6h-1.6zM195.2 430.4h1.6v1.6h-1.6zM398.4 422.4h3.2v1.6h-3.2zM400 428.8h1.6v1.6h-1.6zM412.8 422.4h1.6v1.6h-1.6zM401.6 424h1.6v1.6h-1.6zM401.6 417.6h1.6v1.6h-1.6zM395.2 414.4h1.6v1.6h-1.6zM392 420.8h1.6v1.6h-1.6zM395.2 417.6h1.6v1.6h-1.6zM409.6 430.4h3.2v1.6h-3.2zM403.2 419.2h1.6v1.6h-1.6zM404.8 432h3.2v1.6h-3.2zM387.2 416h1.6v1.6h-1.6zM388.8 420.8h1.6v1.6h-1.6zM393.6 432h3.2v1.6h-3.2zM406.4 420.8h1.6v1.6h-1.6zM403.2 420.8h1.6v1.6h-1.6zM411.2 427.2h1.6v1.6h-1.6zM393.6 427.2h1.6v1.6h-1.6zM404.8 417.6h3.2v1.6h-3.2zM408 425.6h1.6v1.6h-1.6zM404.8 422.4h1.6v1.6h-1.6zM395.2 422.4h1.6v1.6h-1.6zM401.6 435.2h3.2v1.6h-3.2zM401.6 414.4h3.2v1.6h-3.2zM396.8 417.6h1.6v1.6h-1.6zM392 408h3.2v1.6h-3.2zM404.8 430.4h1.6v1.6h-1.6zM417.6 448h1.6v1.6h-1.6zM396.8 428.8h1.6v1.6h-1.6zM396.8 430.4h1.6v1.6h-1.6zM388.8 428.8h1.6v1.6h-1.6zM395.2 420.8h1.6v1.6h-1.6zM406.4 420.8h1.6v1.6h-1.6zM393.6 425.6h1.6v1.6h-1.6zM412.8 422.4h1.6v1.6h-1.6zM408 422.4h1.6v1.6h-1.6zM404.8 440h3.2v1.6h-3.2zM406.4 411.2h1.6v1.6h-1.6zM390.4 419.2h1.6v1.6h-1.6zM403.2 425.6h1.6v1.6h-1.6zM406.4 428.8h1.6v1.6h-1.6zM403.2 438.4h3.2v1.6h-3.2zM385.6 433.6h1.6v1.6h-1.6zM398.4 408h3.2v1.6h-3.2zM406.4 411.2h1.6v1.6h-1.6zM411.2 417.6h1.6v1.6h-1.6zM400 412.8h3.2v1.6h-3.2zM414.4 428.8h1.6v1.6h-1.6zM404.8 414.4h1.6v1.6h-1.6zM404.8 419.2h1.6v1.6h-1.6zM400 422.4h1.6v1.6h-1.6zM395.2 427.2h3.2v1.6h-3.2zM396.8 422.4h1.6v1.6h-1.6zM401.6 425.6h1.6v1.6h-1.6zM393.6 428.8h1.6v1.6h-1.6zM395.2 422.4h1.6v1.6h-1.6zM398.4 425.6h3.2v1.6h-3.2zM398.4 422.4h1.6v1.6h-1.6zM409.6 428.8h1.6v1.6h-1.6zM404.8 425.6h1.6v1.6h-1.6zM388.8 424h3.2v1.6h-3.2zM390.4 414.4h3.2v1.6h-3.2zM414.4 428.8h1.6v1.6h-1.6zM404.8 420.8h1.6v1.6h-1.6zM393.6 427.2h1.6v1.6h-1.6zM400 422.4h1.6v1.6h-1.6zM412.8 422.4h1.6v1.6h-1.6zM396.8 424h3.2v1.6h-3.2zM403.2 417.6h1.6v1.6h-1.6zM401.6 406.4h3.2v1.6h-3.2zM552 555.2h3.2v1.6h-3.2zM550.4 540.8h1.6v1.6h-1.6zM542.4 540.8h1.6v1.6h-1.6zM537.6 545.6h1.6v1.6h-1.6zM544 547.2h1.6v1.6h-1.6zM574.4 553.6h1.6v1.6h-1.6zM542.4 555.2h1.6v1.6h-1.6zM540.8 547.2h3.2v1.6h-3.2zM550.4 555.2h1.6v1.6h-1.6zM555.2 540.8h1.6v1.6h-1.6zM550.4 545.6h1.6v1.6h-1.6zM560 558.4h1.6v1.6h-1.6zM550.4 544h1.6v1.6h-1.6zM561.6 544h3.2v1.6h-3.2zM545.6 552h3.2v1.6h-3.2zM542.4 540.8h3.2v1.6h-3.2zM545.6 548.8h1.6v1.6h-1.6zM561.6 540.8h1.6v1.6h-1.6zM553.6 550.4h1.6v1.6h-1.6zM545.6 553.6h1.6v1.6h-1.6zM553.6 539.2h1.6v1.6h-1.6zM547.2 552h1.6v1.6h-1.6zM558.4 542.4h1.6v1.6h-1.6zM560 558.4h3.2v1.6h-3.2zM550.4 540.8h1.6v1.6h-1.6zM552 539.2h1.6v1.6h-1.6zM553.6 550.4h3.2v1.6h-3.2zM547.2 544h1.6v1.6h-1.6zM556.8 540.8h3.2v1.6h-3.2zM555.2 544h1.6v1.6h-1.6zM544 548.8h3.2v1.6h-3.2zM547.2 544h1.6v1.6h-1.6zM545.6 540.8h1.6v1.6h-1.6zM555.2 548.8h1.6v1.6h-1.6zM564.8 550.4h1.6v1.6h-1.6zM555.2 542.4h1.6v1.6h-1.6zM558.4 550.4h3.2v1.6h-3.2zM547.2 539.2h1.6v1.6h-1.6zM540.8 540.8h3.2v1.6h-3.2zM542.4 550.4h1.6v1.6h-1.6zM556.8 550.4h1.6v1.6h-1.6zM548.8 548.8h1.6v1.6h-1.6zM545.6 545.6h3.2v1.6h-3.2zM548.8 542.4h1.6v1.6h-1.6zM540.8 545.6h1.6v1.6h-1.6zM560 555.2h1.6v1.6h-1.6zM560 547.2h1.6v1.6h-1.6zM569.6 539.2h1.6v1.6h-1.6zM547.2 544h1.6v1.6h-1.6zM558.4 547.2h3.2v1.6h-3.2zM544 544h1.6v1.6h-1.6zM547.2 547.2h1.6v1.6h-1.6zM545.6 528h3.2v1.6h-3.2zM561.6 548.8h3.2v1.6h-3.2zM558.4 537.6h1.6v1.6h-1.6zM545.6 550.4h1.6v1.6h-1.6zM550.4 547.2h3.2v1.6h-3.2zM548.8 560h1.6v1.6h-1.6zM545.6 547.2h3.2v1.6h-3.2zM548.8 542.4h1.6v1.6h-1.6zM550.4 547.2h3.2v1.6h-3.2zM548.8 553.6h1.6v1.6h-1.6zM561.6 540.8h1.6v1.6h-1.6zM542.4 548.8h1.6v1.6h-1.6zM545.6 545.6h1.6v1.6h-1.6zM540.8 553.6h1.6v1.6h-1.6zM547.2 558.4h1.6v1.6h-1.6zM547.2 547.2h1.6v1.6h-1.6zM555.2 532.8h1.6v1.6h-1.6zM556.8 547.2h3.2v1.6h-3.2zM561.6 547.2h1.6v1.6h-1.6zM545.6 544h1.6v1.6h-1.6zM558.4 539.2h1.6v1.6h-1.6zM550.4 548.8h1.6v1.6h-1.6zM545.6 547.2h1.6v1.6h-1.6zM556.8 545.6h1.6v1.6h-1.6zM561.6 555.2h1.6v1.6h-1.6zM558.4 544h3.2v1.6h-3.2zM542.4 548.8h3.2v1.6h-3.2zM561.6 542.4h1.6v1.6h-1.6zM552 544h1.6v1.6h-1.6zM558.4 532.8h1.6v1.6h-1.6zM558.4 555.2h1.6v1.6h-1.6zM548.8 539.2h3.2v1.6h-3.2zM561.6 542.4h1.6v1.6h-1.6zM558.4 552h3.2v1.6h-3.2zM540.8 545.6h1.6v1.6h-1.6zM545.6 544h1.6v1.6h-1.6zM548.8 552h1.6v1.6h-1.6zM548.8 555.2h3.2v1.6h-3.2zM555.2 552h3.2v1.6h-3.2zM545.6 542.4h3.2v1.6h-3.2zM547.2 552h3.2v1.6h-3.2zM550.4 542.4h3.2v1.6h-3.2zM560 552h1.6v1.6h-1.6zM547.2 548.8h1.6v1.6h-1.6zM550.4 544h3.2v1.6h-3.2zM547.2 548.8h1.6v1.6h-1.6zM540.8 540.8h1.6v1.6h-1.6zM547.2 544h1.6v1.6h-1.6zM548.8 537.6h1.6v1.6h-1.6zM563.2 545.6h1.6v1.6h-1.6zM560 556.8h1.6v1.6h-1.6zM544 548.8h1.6v1.6h-1.6zM548.8 539.2h3.2v1.6h-3.2zM553.6 561.6h1.6v1.6h-1.6zM556.8 544h1.6v1.6h-1.6zM545.6 537.6h1.6v1.6h-1.6zM550.4 548.8h1.6v1.6h-1.6zM547.2 553.6h3.2v1.6h-3.2zM552 537.6h3.2v1.6h-3.2zM561.6 555.2h1.6v1.6h-1.6zM547.2 556.8h1.6v1.6h-1.6zM544 545.6h1.6v1.6h-1.6zM545.6 540.8h1.6v1.6h-1.6zM547.2 552h1.6v1.6h-1.6zM540.8 540.8h1.6v1.6h-1.6zM553.6 539.2h3.2v1.6h-3.2zM550.4 545.6h1.6v1.6h-1.6zM544 544h1.6v1.6h-1.6zM542.4 550.4h1.6v1.6h-1.6zM560 563.2h3.2v1.6h-3.2zM561.6 555.2h1.6v1.6h-1.6zM545.6 553.6h1.6v1.6h-1.6zM561.6 555.2h1.6v1.6h-1.6zM560 542.4h3.2v1.6h-3.2zM553.6 550.4h1.6v1.6h-1.6zM544 553.6h3.2v1.6h-3.2zM548.8 542.4h1.6v1.6h-1.6zM556.8 544h1.6v1.6h-1.6zM532.8 555.2h1.6v1.6h-1.6zM552 548.8h1.6v1.6h-1.6zM548.8 550.4h1.6v1.6h-1.6zM545.6 553.6h3.2v1.6h-3.2zM547.2 534.4h1.6v1.6h-1.6zM560 536h3.2v1.6h-3.2zM548.8 540.8h1.6v1.6h-1.6zM545.6 552h1.6v1.6h-1.6zM547.2 540.8h3.2v1.6h-3.2zM539.2 558.4h1.6v1.6h-1.6zM564.8 568h1.6v1.6h-1.6zM553.6 548.8h3.2v1.6h-3.2zM550.4 539.2h1.6v1.6h-1.6zM553.6 547.2h1.6v1.6h-1.6zM544 552h1.6v1.6h-1.6zM545.6 542.4h3.2v1.6h-3.2zM542.4 547.2h1.6v1.6h-1.6zM548.8 550.4h1.6v1.6h-1.6zM539.2 540.8h3.2v1.6h-3.2zM544 547.2h1.6v1.6h-1.6zM537.6 561.6h1.6v1.6h-1.6zM550.4 544h1.6v1.6h-1.6zM550.4 544h1.6v1.6h-1.6zM571.2 545.6h1.6v1.6h-1.6zM548.8 548.8h1.6v1.6h-1.6zM558.4 552h1.6v1.6h-1.6zM553.6 547.2h1.6v1.6h-1.6zM553.6 542.4h3.2v1.6h-3.2zM544 558.4h1.6v1.6h-1.6zM544 547.2h1.6v1.6h-1.6zM536 556.8h1.6v1.6h-1.6zM550.4 548.8h1.6v1.6h-1.6zM552 536h1.6v1.6h-1.6zM558.4 550.4h3.2v1.6h-3.2zM571.2 553.6h1.6v1.6h-1.6zM547.2 544h3.2v1.6h-3.2zM537.6 547.2h1.6v1.6h-1.6zM555.2 552h1.6v1.6h-1.6zM555.2 547.2h3.2v1.6h-3.2zM548.8 545.6h1.6v1.6h-1.6zM553.6 542.4h1.6v1.6h-1.6zM539.2 548.8h1.6v1.6h-1.6zM550.4 550.4h3.2v1.6h-3.2zM555.2 545.6h1.6v1.6h-1.6zM563.2 547.2h3.2v1.6h-3.2zM542.4 552h3.2v1.6h-3.2zM550.4 540.8h1.6v1.6h-1.6zM552 544h3.2v1.6h-3.2zM547.2 550.4h1.6v1.6h-1.6zM552 539.2h1.6v1.6h-1.6zM548.8 539.2h3.2v1.6h-3.2zM552 547.2h1.6v1.6h-1.6zM540.8 550.4h1.6v1.6h-1.6zM550.4 545.6h1.6v1.6h-1.6zM539.2 534.4h1.6v1.6h-1.6zM563.2 540.8h1.6v1.6h-1.6zM550.4 550.4h1.6v1.6h-1.6zM542.4 555.2h1.6v1.6h-1.6zM550.4 537.6h3.2v1.6h-3.2zM545.6 556.8h3.2v1.6h-3.2zM540.8 544h1.6v1.6h-1.6zM555.2 547.2h3.2v1.6h-3.2zM547.2 548.8h1.6v1.6h-1.6zM552 548.8h3.2v1.6h-3.2zM561.6 544h1.6v1.6h-1.6zM561.6 544h1.6v1.6h-1.6zM561.6 556.8h3.2v1.6h-3.2zM542.4 534.4h1.6v1.6h-1.6zM566.4 544h1.6v1.6h-1.6zM552 555.2h1.6v1.6h-1.6zM662.4 580.8h1.6v1.6h-1.6zM664 577.6h3.2v1.6h-3.2zM668.8 572.8h1.6v1.6h-1.6zM662.4 582.4h1.6v1.6h-1.6zM673.6 584h1.6v1.6h-1.6zM660.8 582.4h1.6v1.6h-1.6zM665.6 579.2h1.6v1.6h-1.6zM668.8 579.2h1.6v1.6h-1.6zM664 580.8h1.6v1.6h-1.6zM664 574.4h1.6v1.6h-1.6zM668.8 588.8h1.6v1.6h-1.6zM667.2 576h3.2v1.6h-3.2zM665.6 569.6h1.6v1.6h-1.6zM667.2 587.2h1.6v1.6h-1.6zM668.8 579.2h1.6v1.6h-1.6zM660.8 582.4h3.2v1.6h-3.2zM664 572.8h1.6v1.6h-1.6zM667.2 584h1.6v1.6h-1.6zM668.8 582.4h1.6v1.6h-1.6zM662.4 582.4h1.6v1.6h-1.6zM672 576h1.6v1.6h-1.6zM660.8 576h3.2v1.6h-3.2zM676.8 579.2h3.2v1.6h-3.2zM670.4 576h1.6v1.6h-1.6zM657.6 576h1.6v1.6h-1.6zM665.6 572.8h3.2v1.6h-3.2zM662.4 587.2h1.6v1.6h-1.6zM664 579.2h1.6v1.6h-1.6zM681.6 582.4h3.2v1.6h-3.2zM656 582.4h3.2v1.6h-3.2zM659.2 579.2h1.6v1.6h-1.6zM668.8 576h3.2v1.6h-3.2zM665.6 580.8h1.6v1.6h-1.6zM668.8 580.8h1.6v1.6h-1.6zM664 579.2h1.6v1.6h-1.6zM662.4 588.8h1.6v1.6h-1.6zM665.6 579.2h1.6v1.6h-1.6zM667.2 569.6h1.6v1.6h-1.6zM667.2 576h1.6v1.6h-1.6zM659.2 572.8h3.2v1.6h-3.2zM670.4 577.6h3.2v1.6h-3.2zM662.4 582.4h1.6v1.6h-1.6zM656 579.2h1.6v1.6h-1.6zM676.8 587.2h1.6v1.6h-1.6zM678.4 585.6h1.6v1.6h-1.6zM668.8 579.2h1.6v1.6h-1.6zM662.4 577.6h3.2v1.6h-3.2zM664 580.8h1.6v1.6h-1.6zM670.4 596.8h3.2v1.6h-3.2zM670.4 585.6h1.6v1.6h-1.6zM652.8 574.4h3.2v1.6h-3.2zM665.6 577.6h1.6v1.6h-1.6zM665.6 590.4h1.6v1.6h-1.6zM670.4 582.4h1.6v1.6h-1.6zM664 580.8h1.6v1.6h-1.6zM662.4 574.4h1.6v1.6h-1.6zM659.2 574.4h1.6v1.6h-1.6zM670.4 568h3.2v1.6h-3.2zM670.4 577.6h3.2v1.6h-3.2zM670.4 577.6h1.6v1.6h-1.6zM668.8 584h1.6v1.6h-1.6zM654.4 580.8h1.6v1.6h-1.6zM662.4 577.6h1.6v1.6h-1.6zM662.4 580.8h1.6v1.6h-1.6zM659.2 584h1.6v1.6h-1.6zM676.8 585.6h3.2v1.6h-3.2zM673.6 579.2h1.6v1.6h-1.6zM660.8 587.2h1.6v1.6h-1.6zM659.2 576h1.6v1.6h-1.6zM660.8 582.4h3.2v1.6h-3.2zM667.2 577.6h1.6v1.6h-1.6zM651.2 582.4h1.6v1.6h-1.6zM670.4 582.4h1.6v1.6h-1.6zM672 592h1.6v1.6h-1.6zM662.4 595.2h1.6v1.6h-1.6zM662.4 572.8h3.2v1.6h-3.2zM665.6 582.4h1.6v1.6h-1.6zM668.8 584h3.2v1.6h-3.2zM664 580.8h1.6v1.6h-1.6zM662.4 585.6h1.6v1.6h-1.6zM668.8 585.6h1.6v1.6h-1.6zM660.8 585.6h3.2v1.6h-3.2zM660.8 582.4h3.2v1.6h-3.2zM665.6 566.4h1.6v1.6h-1.6zM664 574.4h1.6v1.6h-1.6zM681.6 576h1.6v1.6h-1.6zM670.4 587.2h1.6v1.6h-1.6zM657.6 584h1.6v1.6h-1.6zM668.8 579.2h1.6v1.6h-1.6zM664 587.2h1.6v1.6h-1.6zM664 582.4h3.2v1.6h-3.2zM660.8 576h3.2v1.6h-3.2zM670.4 579.2h3.2v1.6h-3.2zM660.8 579.2h1.6v1.6h-1.6zM672 584h3.2v1.6h-3.2zM662.4 588.8h1.6v1.6h-1.6zM670.4 577.6h3.2v1.6h-3.2zM668.8 577.6h1.6v1.6h-1.6zM665.6 585.6h1.6v1.6h-1.6zM667.2 579.2h1.6v1.6h-1.6zM649.6 587.2h1.6v1.6h-1.6zM664 590.4h1.6v1.6h-1.6zM656 587.2h3.2v1.6h-3.2zM664 579.2h3.2v1.6h-3.2zM654.4 582.4h1.6v1.6h-1.6zM678.4 587.2h1.6v1.6h-1.6zM670.4 584h1.6v1.6h-1.6zM659.2 585.6h1.6v1.6h-1.6zM665.6 577.6h3.2v1.6h-3.2zM660.8 585.6h3.2v1.6h-3.2zM670.4 571.2h1.6v1.6h-1.6zM660.8 579.2h3.2v1.6h-3.2zM670.4 580.8h1.6v1.6h-1.6zM668.8 576h1.6v1.6h-1.6zM670.4 577.6h1.6v1.6h-1.6zM664 577.6h3.2v1.6h-3.2zM662.4 598.4h3.2v1.6h-3.2zM665.6 574.4h1.6v1.6h-1.6zM672 576h1.6v1.6h-1.6zM665.6 579.2h1.6v1.6h-1.6zM641.6 676.8h1.6v1.6h-1.6zM665.6 665.6h1.6v1.6h-1.6zM649.6 683.2h1.6v1.6h-1.6zM644.8 684.8h3.2v1.6h-3.2zM643.2 672h3.2v1.6h-3.2zM646.4 680h1.6v1.6h-1.6zM619.2 667.2h3.2v1.6h-3.2zM646.4 684.8h1.6v1.6h-1.6zM635.2 683.2h1.6v1.6h-1.6zM649.6 672h1.6v1.6h-1.6zM640 678.4h3.2v1.6h-3.2zM665.6 691.2h3.2v1.6h-3.2zM648 676.8h1.6v1.6h-1.6zM641.6 662.4h3.2v1.6h-3.2zM641.6 676.8h1.6v1.6h-1.6zM638.4 668.8h1.6v1.6h-1.6zM633.6 676.8h1.6v1.6h-1.6zM648 668.8h3.2v1.6h-3.2zM649.6 664h1.6v1.6h-1.6zM659.2 704h1.6v1.6h-1.6zM652.8 680h1.6v1.6h-1.6zM649.6 675.2h1.6v1.6h-1.6zM640 670.4h1.6v1.6h-1.6zM648 673.6h1.6v1.6h-1.6zM638.4 684.8h1.6v1.6h-1.6zM657.6 686.4h1.6v1.6h-1.6zM641.6 688h1.6v1.6h-1.6zM641.6 689.6h1.6v1.6h-1.6zM635.2 680h1.6v1.6h-1.6zM635.2 680h1.6v1.6h-1.6zM644.8 668.8h1.6v1.6h-1.6zM630.4 673.6h3.2v1.6h-3.2zM646.4 675.2h3.2v1.6h-3.2zM633.6 651.2h1.6v1.6h-1.6zM641.6 668.8h1.6v1.6h-1.6zM648 675.2h1.6v1.6h-1.6zM646.4 656h3.2v1.6h-3.2zM638.4 664h1.6v1.6h-1.6zM633.6 688h1.6v1.6h-1.6zM646.4 672h1.6v1.6h-1.6zM652.8 668.8h1.6v1.6h-1.6zM636.8 680h3.2v1.6h-3.2zM627.2 667.2h1.6v1.6h-1.6zM641.6 662.4h3.2v1.6h-3.2zM641.6 662.4h3.2v1.6h-3.2zM638.4 660.8h1.6v1.6h-1.6zM635.2 668.8h1.6v1.6h-1.6zM635.2 673.6h1.6v1.6h-1.6zM657.6 670.4h1.6v1.6h-1.6zM652.8 672h3.2v1.6h-3.2zM660.8 678.4h1.6v1.6h-1.6zM644.8 670.4h1.6v1.6h-1.6zM641.6 676.8h1.6v1.6h-1.6zM638.4 680h1.6v1.6h-1.6zM644.8 686.4h1.6v1.6h-1.6zM648 672h1.6v1.6h-1.6zM643.2 675.2h1.6v1.6h-1.6zM625.6 678.4h1.6v1.6h-1.6zM649.6 668.8h1.6v1.6h-1.6zM620.8 659.2h1.6v1.6h-1.6zM635.2 681.6h1.6v1.6h-1.6zM656 681.6h1.6v1.6h-1.6zM628.8 673.6h1.6v1.6h-1.6zM638.4 667.2h1.6v1.6h-1.6zM625.6 673.6h1.6v1.6h-1.6zM651.2 664h1.6v1.6h-1.6zM673.6 683.2h1.6v1.6h-1.6zM646.4 688h3.2v1.6h-3.2zM646.4 670.4h1.6v1.6h-1.6zM659.2 680h1.6v1.6h-1.6zM648 689.6h1.6v1.6h-1.6zM638.4 689.6h1.6v1.6h-1.6zM638.4 672h1.6v1.6h-1.6zM636.8 665.6h1.6v1.6h-1.6zM644.8 675.2h1.6v1.6h-1.6zM652.8 664h3.2v1.6h-3.2zM659.2 670.4h1.6v1.6h-1.6zM654.4 668.8h1.6v1.6h-1.6zM644.8 664h1.6v1.6h-1.6zM636.8 665.6h1.6v1.6h-1.6zM648 678.4h1.6v1.6h-1.6zM641.6 683.2h1.6v1.6h-1.6zM646.4 670.4h3.2v1.6h-3.2zM628.8 683.2h1.6v1.6h-1.6zM643.2 686.4h1.6v1.6h-1.6zM649.6 676.8h3.2v1.6h-3.2zM649.6 664h1.6v1.6h-1.6zM632 678.4h3.2v1.6h-3.2zM646.4 676.8h1.6v1.6h-1.6zM649.6 660.8h3.2v1.6h-3.2zM659.2 654.4h1.6v1.6h-1.6zM662.4 675.2h3.2v1.6h-3.2zM628.8 662.4h1.6v1.6h-1.6zM636.8 678.4h1.6v1.6h-1.6zM664 684.8h1.6v1.6h-1.6zM648 676.8h1.6v1.6h-1.6zM654.4 668.8h1.6v1.6h-1.6zM665.6 667.2h1.6v1.6h-1.6zM649.6 668.8h3.2v1.6h-3.2zM648 665.6h1.6v1.6h-1.6zM632 683.2h3.2v1.6h-3.2zM640 675.2h3.2v1.6h-3.2zM654.4 672h1.6v1.6h-1.6zM635.2 667.2h1.6v1.6h-1.6zM652.8 670.4h1.6v1.6h-1.6zM635.2 651.2h1.6v1.6h-1.6zM652.8 670.4h1.6v1.6h-1.6zM644.8 672h1.6v1.6h-1.6zM630.4 662.4h1.6v1.6h-1.6zM657.6 668.8h1.6v1.6h-1.6zM644.8 684.8h1.6v1.6h-1.6zM652.8 670.4h1.6v1.6h-1.6zM657.6 686.4h1.6v1.6h-1.6zM628.8 686.4h1.6v1.6h-1.6zM651.2 672h3.2v1.6h-3.2zM648 667.2h3.2v1.6h-3.2zM660.8 660.8h1.6v1.6h-1.6zM656 662.4h1.6v1.6h-1.6zM662.4 676.8h1.6v1.6h-1.6zM654.4 668.8h1.6v1.6h-1.6zM652.8 660.8h1.6v1.6h-1.6zM651.2 657.6h1.6v1.6h-1.6zM635.2 673.6h1.6v1.6h-1.6zM649.6 659.2h1.6v1.6h-1.6zM648 673.6h1.6v1.6h-1.6zM633.6 660.8h3.2v1.6h-3.2zM633.6 681.6h1.6v1.6h-1.6zM649.6 676.8h1.6v1.6h-1.6zM662.4 670.4h1.6v1.6h-1.6zM652.8 660.8h1.6v1.6h-1.6zM640 683.2h1.6v1.6h-1.6zM643.2 688h1.6v1.6h-1.6zM646.4 667.2h1.6v1.6h-1.6zM652.8 691.2h1.6v1.6h-1.6zM649.6 668.8h1.6v1.6h-1.6zM656 667.2h1.6v1.6h-1.6zM665.6 659.2h3.2v1.6h-3.2zM643.2 667.2h1.6v1.6h-1.6zM638.4 676.8h3.2v1.6h-3.2zM628.8 689.6h3.2v1.6h-3.2zM641.6 664h1.6v1.6h-1.6zM630.4 676.8h3.2v1.6h-3.2zM643.2 667.2h1.6v1.6h-1.6zM646.4 665.6h1.6v1.6h-1.6zM657.6 686.4h1.6v1.6h-1.6zM651.2 673.6h1.6v1.6h-1.6zM635.2 678.4h3.2v1.6h-3.2zM643.2 680h1.6v1.6h-1.6zM651.2 668.8h1.6v1.6h-1.6zM643.2 673.6h3.2v1.6h-3.2zM638.4 686.4h1.6v1.6h-1.6zM641.6 659.2h1.6v1.6h-1.6zM644.8 676.8h3.2v1.6h-3.2zM641.6 680h1.6v1.6h-1.6zM667.2 673.6h1.6v1.6h-1.6zM632 664h3.2v1.6h-3.2zM644.8 686.4h1.6v1.6h-1.6zM636.8 678.4h1.6v1.6h-1.6zM633.6 668.8h1.6v1.6h-1.6zM622.4 673.6h1.6v1.6h-1.6zM649.6 680h1.6v1.6h-1.6zM648 676.8h3.2v1.6h-3.2zM657.6 686.4h1.6v1.6h-1.6zM644.8 651.2h1.6v1.6h-1.6zM652.8 664h1.6v1.6h-1.6zM643.2 681.6h1.6v1.6h-1.6zM632 700.8h1.6v1.6h-1.6zM654.4 688h1.6v1.6h-1.6zM644.8 670.4h3.2v1.6h-3.2zM644.8 675.2h1.6v1.6h-1.6zM641.6 664h1.6v1.6h-1.6zM646.4 672h1.6v1.6h-1.6zM641.6 662.4h1.6v1.6h-1.6zM654.4 657.6h3.2v1.6h-3.2zM660.8 683.2h3.2v1.6h-3.2zM649.6 683.2h1.6v1.6h-1.6zM654.4 665.6h1.6v1.6h-1.6zM656 672h1.6v1.6h-1.6zM641.6 675.2h1.6v1.6h-1.6zM635.2 656h3.2v1.6h-3.2zM638.4 660.8h1.6v1.6h-1.6zM625.6 660.8h1.6v1.6h-1.6zM646.4 676.8h1.6v1.6h-1.6zM638.4 664h1.6v1.6h-1.6zM643.2 672h1.6v1.6h-1.6zM632 654.4h1.6v1.6h-1.6zM643.2 657.6h1.6v1.6h-1.6zM638.4 670.4h3.2v1.6h-3.2zM638.4 667.2h3.2v1.6h-3.2zM665.6 683.2h1.6v1.6h-1.6zM640 676.8h1.6v1.6h-1.6zM646.4 670.4h1.6v1.6h-1.6zM652.8 688h1.6v1.6h-1.6zM644.8 659.2h3.2v1.6h-3.2zM633.6 673.6h1.6v1.6h-1.6zM638.4 686.4h3.2v1.6h-3.2zM635.2 657.6h1.6v1.6h-1.6zM625.6 675.2h1.6v1.6h-1.6zM635.2 668.8h1.6v1.6h-1.6zM649.6 660.8h1.6v1.6h-1.6zM641.6 675.2h1.6v1.6h-1.6zM638.4 675.2h1.6v1.6h-1.6zM651.2 681.6h1.6v1.6h-1.6zM636.8 672h1.6v1.6h-1.6zM652.8 667.2h3.2v1.6h-3.2zM659.2 688h1.6v1.6h-1.6zM636.8 672h3.2v1.6h-3.2zM646.4 675.2h3.2v1.6h-3.2zM640 675.2h1.6v1.6h-1.6zM638.4 670.4h1.6v1.6h-1.6zM654.4 678.4h3.2v1.6h-3.2zM641.6 668.8h3.2v1.6h-3.2zM641.6 675.2h1.6v1.6h-1.6zM640 684.8h1.6v1.6h-1.6zM638.4 662.4h1.6v1.6h-1.6zM662.4 668.8h3.2v1.6h-3.2zM651.2 688h1.6v1.6h-1.6zM648 670.4h1.6v1.6h-1.6zM649.6 673.6h3.2v1.6h-3.2zM630.4 675.2h1.6v1.6h-1.6zM656 670.4h1.6v1.6h-1.6zM625.6 656h1.6v1.6h-1.6zM638.4 660.8h1.6v1.6h-1.6zM643.2 678.4h3.2v1.6h-3.2zM646.4 673.6h1.6v1.6h-1.6zM648 668.8h1.6v1.6h-1.6zM638.4 665.6h1.6v1.6h-1.6zM646.4 667.2h1.6v1.6h-1.6zM633.6 675.2h3.2v1.6h-3.2zM646.4 678.4h1.6v1.6h-1.6zM654.4 670.4h1.6v1.6h-1.6zM638.4 670.4h1.6v1.6h-1.6zM646.4 670.4h3.2v1.6h-3.2zM633.6 662.4h1.6v1.6h-1.6zM652.8 660.8h1.6v1.6h-1.6zM636.8 670.4h1.6v1.6h-1.6zM632 675.2h1.6v1.6h-1.6zM636.8 657.6h1.6v1.6h-1.6zM641.6 662.4h1.6v1.6h-1.6zM643.2 676.8h1.6v1.6h-1.6zM635.2 678.4h1.6v1.6h-1.6zM652.8 670.4h1.6v1.6h-1.6zM651.2 673.6h3.2v1.6h-3.2zM640 678.4h3.2v1.6h-3.2zM651.2 668.8h1.6v1.6h-1.6zM651.2 662.4h3.2v1.6h-3.2zM640 688h1.6v1.6h-1.6zM651.2 660.8h1.6v1.6h-1.6zM649.6 657.6h1.6v1.6h-1.6zM638.4 668.8h1.6v1.6h-1.6zM641.6 668.8h3.2v1.6h-3.2zM641.6 670.4h1.6v1.6h-1.6zM652.8 673.6h3.2v1.6h-3.2zM646.4 673.6h1.6v1.6h-1.6zM641.6 678.4h1.6v1.6h-1.6zM646.4 672h3.2v1.6h-3.2zM632 678.4h3.2v1.6h-3.2zM644.8 680h1.6v1.6h-1.6zM643.2 675.2h1.6v1.6h-1.6zM643.2 678.4h1.6v1.6h-1.6zM465.6 720h3.2v1.6h-3.2zM465.6 708.8h3.2v1.6h-3.2zM446.4 689.6h1.6v1.6h-1.6zM454.4 696h1.6v1.6h-1.6zM467.2 712h3.2v1.6h-3.2zM443.2 710.4h1.6v1.6h-1.6zM448 713.6h3.2v1.6h-3.2zM454.4 710.4h3.2v1.6h-3.2zM451.2 710.4h1.6v1.6h-1.6zM446.4 710.4h1.6v1.6h-1.6zM449.6 708.8h3.2v1.6h-3.2zM444.8 712h1.6v1.6h-1.6zM446.4 713.6h1.6v1.6h-1.6zM454.4 710.4h1.6v1.6h-1.6zM441.6 702.4h1.6v1.6h-1.6zM448 710.4h3.2v1.6h-3.2zM441.6 708.8h1.6v1.6h-1.6zM444.8 710.4h1.6v1.6h-1.6zM448 728h1.6v1.6h-1.6zM451.2 718.4h1.6v1.6h-1.6zM448 715.2h3.2v1.6h-3.2zM446.4 702.4h1.6v1.6h-1.6zM433.6 724.8h1.6v1.6h-1.6zM441.6 705.6h1.6v1.6h-1.6zM449.6 707.2h1.6v1.6h-1.6zM454.4 700.8h1.6v1.6h-1.6zM470.4 707.2h1.6v1.6h-1.6zM436.8 697.6h1.6v1.6h-1.6zM443.2 716.8h1.6v1.6h-1.6zM448 707.2h1.6v1.6h-1.6zM444.8 704h1.6v1.6h-1.6zM454.4 710.4h1.6v1.6h-1.6zM449.6 715.2h1.6v1.6h-1.6zM457.6 705.6h1.6v1.6h-1.6zM446.4 712h1.6v1.6h-1.6zM444.8 708.8h1.6v1.6h-1.6zM444.8 715.2h1.6v1.6h-1.6zM464 708.8h1.6v1.6h-1.6zM460.8 707.2h1.6v1.6h-1.6zM446.4 699.2h1.6v1.6h-1.6zM446.4 692.8h1.6v1.6h-1.6zM452.8 694.4h3.2v1.6h-3.2zM465.6 710.4h1.6v1.6h-1.6zM446.4 699.2h1.6v1.6h-1.6zM454.4 699.2h3.2v1.6h-3.2zM452.8 694.4h3.2v1.6h-3.2zM432 712h1.6v1.6h-1.6zM451.2 708.8h1.6v1.6h-1.6zM457.6 702.4h3.2v1.6h-3.2zM444.8 702.4h1.6v1.6h-1.6zM451.2 716.8h1.6v1.6h-1.6zM446.4 724.8h1.6v1.6h-1.6zM452.8 712h1.6v1.6h-1.6zM436.8 716.8h1.6v1.6h-1.6zM440 707.2h1.6v1.6h-1.6zM438.4 702.4h1.6v1.6h-1.6zM454.4 708.8h3.2v1.6h-3.2zM449.6 718.4h3.2v1.6h-3.2zM436.8 704h3.2v1.6h-3.2zM438.4 683.2h1.6v1.6h-1.6zM444.8 705.6h1.6v1.6h-1.6zM432 712h1.6v1.6h-1.6zM452.8 705.6h1.6v1.6h-1.6zM425.6 718.4h1.6v1.6h-1.6zM446.4 697.6h1.6v1.6h-1.6zM451.2 689.6h3.2v1.6h-3.2zM449.6 715.2h1.6v1.6h-1.6zM456 707.2h3.2v1.6h-3.2zM449.6 705.6h1.6v1.6h-1.6zM459.2 705.6h3.2v1.6h-3.2zM451.2 712h1.6v1.6h-1.6zM448 704h1.6v1.6h-1.6zM454.4 696h1.6v1.6h-1.6zM448 712h3.2v1.6h-3.2zM451.2 715.2h3.2v1.6h-3.2zM443.2 720h1.6v1.6h-1.6zM452.8 696h1.6v1.6h-1.6zM443.2 699.2h3.2v1.6h-3.2zM452.8 707.2h1.6v1.6h-1.6zM452.8 704h3.2v1.6h-3.2zM459.2 702.4h1.6v1.6h-1.6zM448 704h1.6v1.6h-1.6zM444.8 704h1.6v1.6h-1.6zM462.4 715.2h3.2v1.6h-3.2zM440 699.2h3.2v1.6h-3.2zM440 716.8h1.6v1.6h-1.6zM444.8 702.4h1.6v1.6h-1.6zM452.8 697.6h1.6v1.6h-1.6zM452.8 710.4h1.6v1.6h-1.6zM464 713.6h3.2v1.6h-3.2zM440 700.8h1.6v1.6h-1.6zM438.4 713.6h1.6v1.6h-1.6zM451.2 721.6h3.2v1.6h-3.2zM448 715.2h1.6v1.6h-1.6zM451.2 699.2h1.6v1.6h-1.6zM451.2 702.4h1.6v1.6h-1.6zM446.4 713.6h3.2v1.6h-3.2zM440 700.8h3.2v1.6h-3.2zM435.2 705.6h1.6v1.6h-1.6zM446.4 708.8h3.2v1.6h-3.2zM462.4 699.2h1.6v1.6h-1.6zM444.8 696h1.6v1.6h-1.6zM444.8 702.4h1.6v1.6h-1.6zM462.4 704h1.6v1.6h-1.6zM456 715.2h1.6v1.6h-1.6zM456 708.8h3.2v1.6h-3.2zM451.2 713.6h1.6v1.6h-1.6zM451.2 720h1.6v1.6h-1.6zM443.2 718.4h3.2v1.6h-3.2zM460.8 729.6h1.6v1.6h-1.6zM452.8 707.2h3.2v1.6h-3.2zM449.6 712h1.6v1.6h-1.6zM451.2 704h3.2v1.6h-3.2zM452.8 712h1.6v1.6h-1.6zM449.6 699.2h1.6v1.6h-1.6zM451.2 708.8h1.6v1.6h-1.6zM452.8 705.6h1.6v1.6h-1.6zM440 716.8h3.2v1.6h-3.2zM457.6 704h3.2v1.6h-3.2zM454.4 696h1.6v1.6h-1.6zM480 702.4h1.6v1.6h-1.6zM452.8 704h3.2v1.6h-3.2zM464 700.8h3.2v1.6h-3.2zM444.8 712h1.6v1.6h-1.6zM457.6 705.6h3.2v1.6h-3.2zM446.4 704h1.6v1.6h-1.6zM452.8 699.2h3.2v1.6h-3.2zM456 691.2h1.6v1.6h-1.6zM467.2 704h3.2v1.6h-3.2zM459.2 712h1.6v1.6h-1.6zM459.2 710.4h1.6v1.6h-1.6zM444.8 699.2h1.6v1.6h-1.6zM443.2 708.8h1.6v1.6h-1.6zM446.4 694.4h1.6v1.6h-1.6zM449.6 715.2h1.6v1.6h-1.6zM448 705.6h3.2v1.6h-3.2zM456 723.2h1.6v1.6h-1.6zM444.8 723.2h1.6v1.6h-1.6zM457.6 704h1.6v1.6h-1.6zM452.8 708.8h1.6v1.6h-1.6zM443.2 715.2h1.6v1.6h-1.6zM444.8 700.8h1.6v1.6h-1.6zM438.4 715.2h1.6v1.6h-1.6zM446.4 710.4h3.2v1.6h-3.2zM446.4 700.8h3.2v1.6h-3.2zM456 699.2h1.6v1.6h-1.6zM454.4 688h3.2v1.6h-3.2zM452.8 707.2h3.2v1.6h-3.2zM452.8 713.6h1.6v1.6h-1.6zM456 694.4h1.6v1.6h-1.6zM443.2 678.4h1.6v1.6h-1.6zM451.2 692.8h1.6v1.6h-1.6zM457.6 707.2h1.6v1.6h-1.6zM452.8 699.2h1.6v1.6h-1.6zM440 700.8h1.6v1.6h-1.6zM436.8 705.6h3.2v1.6h-3.2zM446.4 710.4h1.6v1.6h-1.6zM440 708.8h1.6v1.6h-1.6zM451.2 692.8h1.6v1.6h-1.6zM452.8 699.2h3.2v1.6h-3.2zM452.8 694.4h3.2v1.6h-3.2zM440 710.4h1.6v1.6h-1.6zM446.4 705.6h1.6v1.6h-1.6zM465.6 707.2h1.6v1.6h-1.6zM446.4 713.6h1.6v1.6h-1.6zM438.4 715.2h1.6v1.6h-1.6zM449.6 708.8h1.6v1.6h-1.6zM454.4 704h1.6v1.6h-1.6zM444.8 716.8h1.6v1.6h-1.6zM436.8 696h1.6v1.6h-1.6zM452.8 715.2h1.6v1.6h-1.6zM452.8 710.4h1.6v1.6h-1.6zM433.6 712h3.2v1.6h-3.2zM459.2 713.6h3.2v1.6h-3.2zM446.4 697.6h3.2v1.6h-3.2zM470.4 716.8h1.6v1.6h-1.6zM451.2 720h3.2v1.6h-3.2zM460.8 710.4h3.2v1.6h-3.2zM456 700.8h3.2v1.6h-3.2zM459.2 713.6h1.6v1.6h-1.6zM470.4 715.2h1.6v1.6h-1.6zM454.4 710.4h1.6v1.6h-1.6zM448 697.6h1.6v1.6h-1.6zM460.8 702.4h1.6v1.6h-1.6zM448 700.8h3.2v1.6h-3.2zM452.8 708.8h1.6v1.6h-1.6zM454.4 697.6h1.6v1.6h-1.6zM457.6 700.8h1.6v1.6h-1.6zM449.6 699.2h1.6v1.6h-1.6zM438.4 710.4h1.6v1.6h-1.6zM448 718.4h1.6v1.6h-1.6zM452.8 712h1.6v1.6h-1.6zM449.6 697.6h1.6v1.6h-1.6zM454.4 716.8h1.6v1.6h-1.6zM456 705.6h1.6v1.6h-1.6zM449.6 718.4h1.6v1.6h-1.6zM462.4 700.8h1.6v1.6h-1.6zM452.8 716.8h1.6v1.6h-1.6zM424 697.6h3.2v1.6h-3.2zM462.4 715.2h1.6v1.6h-1.6zM444.8 708.8h1.6v1.6h-1.6zM448 707.2h1.6v1.6h-1.6zM451.2 699.2h1.6v1.6h-1.6zM456 700.8h3.2v1.6h-3.2zM465.6 720h1.6v1.6h-1.6zM451.2 697.6h3.2v1.6h-3.2zM444.8 705.6h1.6v1.6h-1.6zM460.8 718.4h1.6v1.6h-1.6zM451.2 708.8h3.2v1.6h-3.2zM448 716.8h1.6v1.6h-1.6zM464 713.6h1.6v1.6h-1.6zM454.4 713.6h3.2v1.6h-3.2zM462.4 710.4h3.2v1.6h-3.2zM444.8 691.2h1.6v1.6h-1.6zM441.6 696h1.6v1.6h-1.6zM444.8 712h3.2v1.6h-3.2zM465.6 707.2h1.6v1.6h-1.6zM457.6 704h3.2v1.6h-3.2zM457.6 712h1.6v1.6h-1.6zM448 712h1.6v1.6h-1.6zM454.4 724.8h1.6v1.6h-1.6zM452.8 702.4h3.2v1.6h-3.2zM446.4 708.8h1.6v1.6h-1.6zM444.8 705.6h3.2v1.6h-3.2zM432 702.4h3.2v1.6h-3.2zM452.8 715.2h3.2v1.6h-3.2zM444.8 710.4h1.6v1.6h-1.6zM448 707.2h1.6v1.6h-1.6zM446.4 700.8h3.2v1.6h-3.2zM452.8 713.6h1.6v1.6h-1.6zM454.4 707.2h1.6v1.6h-1.6zM467.2 705.6h3.2v1.6h-3.2zM462.4 704h1.6v1.6h-1.6zM446.4 694.4h1.6v1.6h-1.6zM448 699.2h1.6v1.6h-1.6zM456 702.4h1.6v1.6h-1.6zM443.2 707.2h1.6v1.6h-1.6zM443.2 702.4h1.6v1.6h-1.6zM451.2 718.4h1.6v1.6h-1.6zM451.2 718.4h1.6v1.6h-1.6zM446.4 720h1.6v1.6h-1.6zM448 705.6h1.6v1.6h-1.6zM449.6 712h3.2v1.6h-3.2zM468.8 712h1.6v1.6h-1.6zM464 702.4h1.6v1.6h-1.6zM448 718.4h1.6v1.6h-1.6zM427.2 704h1.6v1.6h-1.6zM449.6 708.8h1.6v1.6h-1.6zM448 712h1.6v1.6h-1.6zM460.8 699.2h3.2v1.6h-3.2zM444.8 694.4h1.6v1.6h-1.6zM444.8 712h1.6v1.6h-1.6zM467.2 707.2h3.2v1.6h-3.2zM454.4 718.4h3.2v1.6h-3.2zM451.2 710.4h1.6v1.6h-1.6zM460.8 689.6h3.2v1.6h-3.2zM462.4 713.6h1.6v1.6h-1.6zM449.6 700.8h3.2v1.6h-3.2zM451.2 713.6h1.6v1.6h-1.6zM446.4 702.4h1.6v1.6h-1.6zM622.4 758.4h1.6v1.6h-1.6zM617.6 764.8h1.6v1.6h-1.6zM628.8 768h3.2v1.6h-3.2zM630.4 779.2h1.6v1.6h-1.6zM643.2 769.6h3.2v1.6h-3.2zM611.2 792h1.6v1.6h-1.6zM625.6 776h3.2v1.6h-3.2zM604.8 771.2h1.6v1.6h-1.6zM622.4 785.6h1.6v1.6h-1.6zM630.4 763.2h1.6v1.6h-1.6zM628.8 787.2h1.6v1.6h-1.6zM620.8 777.6h1.6v1.6h-1.6zM633.6 764.8h1.6v1.6h-1.6zM620.8 772.8h1.6v1.6h-1.6zM632 760h1.6v1.6h-1.6zM614.4 808h3.2v1.6h-3.2zM644.8 776h1.6v1.6h-1.6zM632 764.8h1.6v1.6h-1.6zM603.2 798.4h1.6v1.6h-1.6zM630.4 769.6h1.6v1.6h-1.6zM633.6 760h3.2v1.6h-3.2zM632 771.2h1.6v1.6h-1.6zM601.6 796.8h1.6v1.6h-1.6zM646.4 747.2h1.6v1.6h-1.6zM617.6 790.4h1.6v1.6h-1.6zM627.2 764.8h1.6v1.6h-1.6zM622.4 793.6h3.2v1.6h-3.2zM633.6 768h3.2v1.6h-3.2zM627.2 761.6h1.6v1.6h-1.6zM636.8 761.6h1.6v1.6h-1.6zM630.4 780.8h1.6v1.6h-1.6zM625.6 782.4h3.2v1.6h-3.2zM625.6 758.4h3.2v1.6h-3.2zM624 761.6h1.6v1.6h-1.6zM633.6 776h1.6v1.6h-1.6zM606.4 785.6h1.6v1.6h-1.6zM651.2 793.6h3.2v1.6h-3.2zM656 785.6h1.6v1.6h-1.6zM601.6 760h1.6v1.6h-1.6zM624 777.6h3.2v1.6h-3.2zM609.6 777.6h1.6v1.6h-1.6zM620.8 766.4h1.6v1.6h-1.6zM630.4 760h1.6v1.6h-1.6zM636.8 763.2h1.6v1.6h-1.6zM620.8 768h3.2v1.6h-3.2zM638.4 782.4h1.6v1.6h-1.6zM624 776h1.6v1.6h-1.6zM619.2 772.8h1.6v1.6h-1.6zM628.8 769.6h1.6v1.6h-1.6zM619.2 766.4h1.6v1.6h-1.6zM630.4 779.2h1.6v1.6h-1.6zM628.8 769.6h1.6v1.6h-1.6zM640 777.6h1.6v1.6h-1.6zM632 764.8h1.6v1.6h-1.6zM611.2 766.4h1.6v1.6h-1.6zM640 788.8h1.6v1.6h-1.6zM632 771.2h1.6v1.6h-1.6zM632 788.8h1.6v1.6h-1.6zM630.4 780.8h3.2v1.6h-3.2zM633.6 788.8h1.6v1.6h-1.6zM657.6 782.4h1.6v1.6h-1.6zM617.6 787.2h1.6v1.6h-1.6zM627.2 776h1.6v1.6h-1.6zM640 771.2h1.6v1.6h-1.6zM619.2 766.4h1.6v1.6h-1.6zM622.4 763.2h1.6v1.6h-1.6zM617.6 787.2h3.2v1.6h-3.2zM643.2 788.8h3.2v1.6h-3.2zM630.4 785.6h1.6v1.6h-1.6zM641.6 772.8h3.2v1.6h-3.2zM622.4 780.8h1.6v1.6h-1.6zM633.6 779.2h1.6v1.6h-1.6zM635.2 769.6h3.2v1.6h-3.2zM625.6 787.2h1.6v1.6h-1.6zM622.4 774.4h1.6v1.6h-1.6zM643.2 776h3.2v1.6h-3.2zM614.4 787.2h1.6v1.6h-1.6zM617.6 769.6h3.2v1.6h-3.2zM638.4 776h3.2v1.6h-3.2zM622.4 772.8h3.2v1.6h-3.2zM636.8 785.6h3.2v1.6h-3.2zM619.2 768h1.6v1.6h-1.6zM624 798.4h3.2v1.6h-3.2zM636.8 776h1.6v1.6h-1.6zM622.4 779.2h1.6v1.6h-1.6zM635.2 792h1.6v1.6h-1.6zM632 764.8h1.6v1.6h-1.6zM619.2 755.2h1.6v1.6h-1.6zM608 761.6h3.2v1.6h-3.2zM636.8 772.8h1.6v1.6h-1.6zM625.6 747.2h1.6v1.6h-1.6zM608 763.2h1.6v1.6h-1.6zM627.2 777.6h1.6v1.6h-1.6zM630.4 780.8h1.6v1.6h-1.6zM625.6 772.8h1.6v1.6h-1.6zM643.2 772.8h3.2v1.6h-3.2zM612.8 764.8h3.2v1.6h-3.2zM646.4 774.4h1.6v1.6h-1.6zM624 787.2h1.6v1.6h-1.6zM641.6 761.6h1.6v1.6h-1.6zM643.2 755.2h1.6v1.6h-1.6zM624 780.8h3.2v1.6h-3.2zM622.4 748.8h3.2v1.6h-3.2zM643.2 782.4h1.6v1.6h-1.6zM603.2 777.6h1.6v1.6h-1.6zM614.4 782.4h1.6v1.6h-1.6zM612.8 777.6h1.6v1.6h-1.6zM640 764.8h1.6v1.6h-1.6zM608 760h1.6v1.6h-1.6zM622.4 758.4h1.6v1.6h-1.6zM627.2 795.2h1.6v1.6h-1.6zM636.8 755.2h1.6v1.6h-1.6zM614.4 766.4h1.6v1.6h-1.6zM616 755.2h1.6v1.6h-1.6zM627.2 780.8h1.6v1.6h-1.6zM598.4 774.4h1.6v1.6h-1.6zM619.2 784h3.2v1.6h-3.2zM633.6 771.2h1.6v1.6h-1.6zM627.2 771.2h1.6v1.6h-1.6zM624 784h1.6v1.6h-1.6zM619.2 772.8h1.6v1.6h-1.6zM641.6 769.6h1.6v1.6h-1.6zM638.4 779.2h1.6v1.6h-1.6zM616 777.6h1.6v1.6h-1.6zM620.8 785.6h3.2v1.6h-3.2zM632 771.2h1.6v1.6h-1.6zM636.8 784h3.2v1.6h-3.2zM620.8 776h3.2v1.6h-3.2zM620.8 776h1.6v1.6h-1.6zM628.8 787.2h1.6v1.6h-1.6zM620.8 779.2h1.6v1.6h-1.6zM635.2 784h1.6v1.6h-1.6zM632 785.6h1.6v1.6h-1.6zM612.8 793.6h3.2v1.6h-3.2zM627.2 779.2h1.6v1.6h-1.6zM625.6 752h3.2v1.6h-3.2zM630.4 788.8h1.6v1.6h-1.6zM625.6 787.2h1.6v1.6h-1.6zM632 758.4h1.6v1.6h-1.6zM628.8 753.6h1.6v1.6h-1.6zM646.4 766.4h1.6v1.6h-1.6zM630.4 779.2h3.2v1.6h-3.2zM633.6 787.2h1.6v1.6h-1.6zM627.2 793.6h1.6v1.6h-1.6zM644.8 772.8h1.6v1.6h-1.6zM624 788.8h1.6v1.6h-1.6zM627.2 782.4h1.6v1.6h-1.6zM627.2 795.2h1.6v1.6h-1.6zM635.2 776h1.6v1.6h-1.6zM632 792h1.6v1.6h-1.6zM622.4 763.2h3.2v1.6h-3.2zM641.6 776h1.6v1.6h-1.6zM627.2 782.4h3.2v1.6h-3.2zM652.8 774.4h1.6v1.6h-1.6zM622.4 772.8h3.2v1.6h-3.2zM619.2 780.8h1.6v1.6h-1.6zM627.2 785.6h1.6v1.6h-1.6zM609.6 774.4h1.6v1.6h-1.6zM625.6 785.6h1.6v1.6h-1.6zM617.6 780.8h3.2v1.6h-3.2zM630.4 777.6h1.6v1.6h-1.6zM628.8 788.8h1.6v1.6h-1.6zM632 780.8h1.6v1.6h-1.6zM620.8 784h3.2v1.6h-3.2zM640 777.6h1.6v1.6h-1.6zM617.6 792h1.6v1.6h-1.6zM628.8 763.2h1.6v1.6h-1.6zM622.4 769.6h1.6v1.6h-1.6zM630.4 772.8h1.6v1.6h-1.6zM636.8 785.6h1.6v1.6h-1.6zM622.4 769.6h1.6v1.6h-1.6zM630.4 774.4h1.6v1.6h-1.6zM616 790.4h1.6v1.6h-1.6zM632 793.6h3.2v1.6h-3.2zM632 788.8h1.6v1.6h-1.6zM641.6 760h1.6v1.6h-1.6zM649.6 772.8h1.6v1.6h-1.6zM620.8 752h3.2v1.6h-3.2zM603.2 788.8h1.6v1.6h-1.6zM641.6 777.6h1.6v1.6h-1.6zM628.8 779.2h1.6v1.6h-1.6zM632 760h1.6v1.6h-1.6zM612.8 785.6h1.6v1.6h-1.6zM633.6 774.4h1.6v1.6h-1.6zM611.2 788.8h1.6v1.6h-1.6zM625.6 782.4h3.2v1.6h-3.2zM630.4 793.6h1.6v1.6h-1.6zM630.4 764.8h1.6v1.6h-1.6zM617.6 774.4h3.2v1.6h-3.2zM622.4 761.6h3.2v1.6h-3.2zM635.2 779.2h3.2v1.6h-3.2zM640 795.2h1.6v1.6h-1.6zM624 795.2h1.6v1.6h-1.6zM627.2 796.8h1.6v1.6h-1.6zM636.8 776h1.6v1.6h-1.6zM624 779.2h1.6v1.6h-1.6zM609.6 771.2h1.6v1.6h-1.6zM619.2 769.6h3.2v1.6h-3.2zM635.2 756.8h3.2v1.6h-3.2zM633.6 774.4h1.6v1.6h-1.6zM596.8 769.6h1.6v1.6h-1.6zM627.2 771.2h1.6v1.6h-1.6zM614.4 787.2h1.6v1.6h-1.6zM617.6 764.8h1.6v1.6h-1.6zM628.8 785.6h1.6v1.6h-1.6zM633.6 758.4h3.2v1.6h-3.2zM628.8 793.6h1.6v1.6h-1.6zM630.4 772.8h3.2v1.6h-3.2zM635.2 796.8h3.2v1.6h-3.2zM608 777.6h1.6v1.6h-1.6zM633.6 777.6h3.2v1.6h-3.2zM614.4 785.6h3.2v1.6h-3.2zM633.6 779.2h1.6v1.6h-1.6zM632 774.4h1.6v1.6h-1.6zM624 755.2h1.6v1.6h-1.6zM625.6 777.6h1.6v1.6h-1.6zM627.2 760h3.2v1.6h-3.2zM627.2 780.8h3.2v1.6h-3.2zM625.6 774.4h1.6v1.6h-1.6zM632 774.4h1.6v1.6h-1.6zM617.6 790.4h3.2v1.6h-3.2zM612.8 777.6h1.6v1.6h-1.6zM632 784h3.2v1.6h-3.2zM643.2 782.4h1.6v1.6h-1.6zM641.6 790.4h3.2v1.6h-3.2zM622.4 788.8h1.6v1.6h-1.6zM641.6 795.2h3.2v1.6h-3.2zM620.8 779.2h1.6v1.6h-1.6zM630.4 798.4h1.6v1.6h-1.6zM641.6 761.6h3.2v1.6h-3.2zM628.8 780.8h3.2v1.6h-3.2zM636.8 772.8h1.6v1.6h-1.6zM644.8 793.6h1.6v1.6h-1.6zM638.4 766.4h3.2v1.6h-3.2zM611.2 772.8h1.6v1.6h-1.6zM636.8 790.4h1.6v1.6h-1.6zM630.4 766.4h3.2v1.6h-3.2zM641.6 768h1.6v1.6h-1.6zM633.6 760h3.2v1.6h-3.2zM652.8 776h3.2v1.6h-3.2zM620.8 768h1.6v1.6h-1.6zM622.4 756.8h1.6v1.6h-1.6zM640 782.4h1.6v1.6h-1.6zM625.6 780.8h1.6v1.6h-1.6zM630.4 785.6h1.6v1.6h-1.6zM611.2 784h1.6v1.6h-1.6zM628.8 766.4h1.6v1.6h-1.6zM622.4 769.6h1.6v1.6h-1.6zM612.8 776h1.6v1.6h-1.6zM632 766.4h1.6v1.6h-1.6zM612.8 782.4h1.6v1.6h-1.6zM625.6 758.4h3.2v1.6h-3.2zM662.4 776h3.2v1.6h-3.2zM600 766.4h1.6v1.6h-1.6zM636.8 779.2h1.6v1.6h-1.6zM640 760h1.6v1.6h-1.6zM640 793.6h1.6v1.6h-1.6zM633.6 771.2h1.6v1.6h-1.6zM632 777.6h1.6v1.6h-1.6zM624 764.8h3.2v1.6h-3.2zM636.8 774.4h1.6v1.6h-1.6zM624 772.8h1.6v1.6h-1.6zM628.8 774.4h1.6v1.6h-1.6zM630.4 777.6h1.6v1.6h-1.6zM628.8 769.6h3.2v1.6h-3.2zM625.6 756.8h1.6v1.6h-1.6zM622.4 787.2h1.6v1.6h-1.6zM630.4 758.4h1.6v1.6h-1.6zM640 795.2h3.2v1.6h-3.2zM627.2 763.2h3.2v1.6h-3.2zM635.2 761.6h1.6v1.6h-1.6zM606.4 769.6h1.6v1.6h-1.6zM609.6 776h1.6v1.6h-1.6zM643.2 801.6h1.6v1.6h-1.6zM632 776h3.2v1.6h-3.2zM620.8 771.2h3.2v1.6h-3.2zM625.6 761.6h1.6v1.6h-1.6zM632 764.8h1.6v1.6h-1.6zM612.8 760h3.2v1.6h-3.2zM632 760h3.2v1.6h-3.2zM630.4 779.2h1.6v1.6h-1.6zM628.8 774.4h1.6v1.6h-1.6zM622.4 774.4h1.6v1.6h-1.6zM627.2 766.4h1.6v1.6h-1.6zM624 774.4h1.6v1.6h-1.6zM641.6 774.4h1.6v1.6h-1.6zM627.2 772.8h1.6v1.6h-1.6zM627.2 776h1.6v1.6h-1.6zM624 787.2h3.2v1.6h-3.2zM627.2 758.4h1.6v1.6h-1.6zM625.6 771.2h1.6v1.6h-1.6zM625.6 771.2h1.6v1.6h-1.6zM635.2 788.8h1.6v1.6h-1.6zM608 764.8h1.6v1.6h-1.6zM633.6 785.6h1.6v1.6h-1.6zM641.6 785.6h1.6v1.6h-1.6zM632 760h1.6v1.6h-1.6zM641.6 800h1.6v1.6h-1.6zM624 760h1.6v1.6h-1.6zM616 792h1.6v1.6h-1.6zM656 857.6h3.2v1.6h-3.2zM649.6 867.2h1.6v1.6h-1.6zM659.2 857.6h1.6v1.6h-1.6zM660.8 859.2h1.6v1.6h-1.6zM648 875.2h1.6v1.6h-1.6zM643.2 860.8h3.2v1.6h-3.2zM659.2 873.6h1.6v1.6h-1.6zM651.2 870.4h1.6v1.6h-1.6zM652.8 852.8h1.6v1.6h-1.6zM662.4 857.6h1.6v1.6h-1.6zM638.4 868.8h1.6v1.6h-1.6zM643.2 852.8h1.6v1.6h-1.6zM643.2 857.6h1.6v1.6h-1.6zM657.6 864h3.2v1.6h-3.2zM640 860.8h1.6v1.6h-1.6zM659.2 849.6h1.6v1.6h-1.6zM651.2 862.4h3.2v1.6h-3.2zM644.8 875.2h1.6v1.6h-1.6zM664 867.2h1.6v1.6h-1.6zM652.8 856h1.6v1.6h-1.6zM660.8 862.4h1.6v1.6h-1.6zM657.6 841.6h1.6v1.6h-1.6zM643.2 868.8h1.6v1.6h-1.6zM657.6 865.6h1.6v1.6h-1.6zM665.6 848h3.2v1.6h-3.2zM659.2 854.4h1.6v1.6h-1.6zM649.6 868.8h3.2v1.6h-3.2zM656 851.2h1.6v1.6h-1.6zM648 864h3.2v1.6h-3.2zM648 868.8h1.6v1.6h-1.6zM649.6 873.6h1.6v1.6h-1.6zM673.6 859.2h1.6v1.6h-1.6zM657.6 852.8h1.6v1.6h-1.6zM654.4 859.2h1.6v1.6h-1.6zM656 862.4h1.6v1.6h-1.6zM651.2 854.4h1.6v1.6h-1.6zM643.2 868.8h1.6v1.6h-1.6zM644.8 854.4h1.6v1.6h-1.6zM635.2 865.6h1.6v1.6h-1.6zM659.2 867.2h1.6v1.6h-1.6zM654.4 860.8h3.2v1.6h-3.2zM659.2 865.6h1.6v1.6h-1.6zM646.4 864h3.2v1.6h-3.2zM659.2 856h1.6v1.6h-1.6zM673.6 859.2h1.6v1.6h-1.6zM651.2 876.8h3.2v1.6h-3.2zM656 859.2h1.6v1.6h-1.6zM638.4 849.6h1.6v1.6h-1.6zM654.4 865.6h1.6v1.6h-1.6zM665.6 873.6h1.6v1.6h-1.6zM670.4 844.8h1.6v1.6h-1.6zM648 862.4h1.6v1.6h-1.6zM640 854.4h1.6v1.6h-1.6zM644.8 875.2h3.2v1.6h-3.2zM651.2 868.8h3.2v1.6h-3.2zM635.2 854.4h1.6v1.6h-1.6zM651.2 854.4h3.2v1.6h-3.2zM656 860.8h3.2v1.6h-3.2zM656 878.4h3.2v1.6h-3.2zM657.6 865.6h1.6v1.6h-1.6zM633.6 857.6h1.6v1.6h-1.6zM648 870.4h3.2v1.6h-3.2zM632 860.8h3.2v1.6h-3.2zM635.2 880h1.6v1.6h-1.6zM635.2 859.2h3.2v1.6h-3.2zM651.2 867.2h1.6v1.6h-1.6zM660.8 851.2h3.2v1.6h-3.2zM664 849.6h3.2v1.6h-3.2zM657.6 857.6h3.2v1.6h-3.2zM646.4 852.8h1.6v1.6h-1.6zM656 859.2h1.6v1.6h-1.6zM659.2 870.4h1.6v1.6h-1.6zM659.2 864h3.2v1.6h-3.2zM643.2 849.6h1.6v1.6h-1.6zM649.6 870.4h1.6v1.6h-1.6zM641.6 859.2h1.6v1.6h-1.6zM646.4 848h1.6v1.6h-1.6zM652.8 864h3.2v1.6h-3.2zM651.2 864h3.2v1.6h-3.2zM654.4 873.6h1.6v1.6h-1.6zM649.6 864h1.6v1.6h-1.6zM657.6 856h3.2v1.6h-3.2zM654.4 852.8h1.6v1.6h-1.6zM640 852.8h3.2v1.6h-3.2zM638.4 860.8h1.6v1.6h-1.6zM644.8 880h3.2v1.6h-3.2zM651.2 864h3.2v1.6h-3.2zM656 857.6h3.2v1.6h-3.2zM643.2 862.4h3.2v1.6h-3.2zM651.2 865.6h1.6v1.6h-1.6zM659.2 851.2h1.6v1.6h-1.6zM643.2 856h3.2v1.6h-3.2zM665.6 872h1.6v1.6h-1.6zM670.4 859.2h1.6v1.6h-1.6zM654.4 865.6h3.2v1.6h-3.2zM646.4 875.2h1.6v1.6h-1.6zM649.6 832h1.6v1.6h-1.6zM643.2 862.4h3.2v1.6h-3.2zM643.2 873.6h1.6v1.6h-1.6zM654.4 843.2h1.6v1.6h-1.6zM648 859.2h1.6v1.6h-1.6zM651.2 859.2h1.6v1.6h-1.6zM660.8 849.6h3.2v1.6h-3.2zM644.8 860.8h1.6v1.6h-1.6zM660.8 859.2h1.6v1.6h-1.6zM660.8 883.2h1.6v1.6h-1.6zM670.4 857.6h1.6v1.6h-1.6zM660.8 854.4h1.6v1.6h-1.6zM644.8 859.2h1.6v1.6h-1.6zM659.2 854.4h1.6v1.6h-1.6zM660.8 860.8h3.2v1.6h-3.2zM643.2 859.2h1.6v1.6h-1.6zM643.2 865.6h1.6v1.6h-1.6zM654.4 852.8h1.6v1.6h-1.6zM638.4 860.8h1.6v1.6h-1.6zM667.2 881.6h1.6v1.6h-1.6zM648 854.4h1.6v1.6h-1.6zM652.8 859.2h3.2v1.6h-3.2zM649.6 873.6h3.2v1.6h-3.2zM649.6 870.4h1.6v1.6h-1.6zM659.2 860.8h1.6v1.6h-1.6zM648 880h1.6v1.6h-1.6zM652.8 856h3.2v1.6h-3.2zM648 891.2h3.2v1.6h-3.2zM649.6 859.2h3.2v1.6h-3.2zM643.2 862.4h1.6v1.6h-1.6zM646.4 852.8h1.6v1.6h-1.6zM657.6 865.6h1.6v1.6h-1.6zM648 872h1.6v1.6h-1.6zM646.4 872h1.6v1.6h-1.6zM654.4 865.6h1.6v1.6h-1.6zM651.2 865.6h1.6v1.6h-1.6zM644.8 852.8h1.6v1.6h-1.6zM659.2 854.4h3.2v1.6h-3.2zM644.8 864h1.6v1.6h-1.6zM649.6 851.2h1.6v1.6h-1.6zM643.2 865.6h3.2v1.6h-3.2zM630.4 852.8h1.6v1.6h-1.6zM652.8 848h1.6v1.6h-1.6zM652.8 872h3.2v1.6h-3.2zM640 857.6h1.6v1.6h-1.6zM652.8 851.2h1.6v1.6h-1.6zM668.8 862.4h1.6v1.6h-1.6zM649.6 862.4h3.2v1.6h-3.2zM659.2 849.6h1.6v1.6h-1.6zM659.2 865.6h1.6v1.6h-1.6zM651.2 864h1.6v1.6h-1.6zM644.8 848h3.2v1.6h-3.2zM654.4 865.6h1.6v1.6h-1.6zM644.8 860.8h1.6v1.6h-1.6zM657.6 854.4h1.6v1.6h-1.6zM652.8 860.8h1.6v1.6h-1.6zM651.2 856h3.2v1.6h-3.2zM648 857.6h3.2v1.6h-3.2zM656 872h1.6v1.6h-1.6zM649.6 862.4h3.2v1.6h-3.2zM630.4 876.8h1.6v1.6h-1.6zM659.2 851.2h1.6v1.6h-1.6zM644.8 844.8h1.6v1.6h-1.6zM640 867.2h3.2v1.6h-3.2zM657.6 848h3.2v1.6h-3.2zM651.2 849.6h1.6v1.6h-1.6zM648 875.2h1.6v1.6h-1.6zM638.4 862.4h1.6v1.6h-1.6zM651.2 857.6h1.6v1.6h-1.6zM649.6 862.4h1.6v1.6h-1.6zM651.2 860.8h1.6v1.6h-1.6zM640 844.8h1.6v1.6h-1.6zM672 867.2h1.6v1.6h-1.6zM636.8 864h1.6v1.6h-1.6zM660.8 860.8h1.6v1.6h-1.6zM643.2 860.8h1.6v1.6h-1.6zM649.6 864h1.6v1.6h-1.6zM643.2 873.6h1.6v1.6h-1.6zM648 844.8h1.6v1.6h-1.6zM652.8 852.8h1.6v1.6h-1.6zM664 854.4h1.6v1.6h-1.6zM638.4 864h1.6v1.6h-1.6zM667.2 854.4h1.6v1.6h-1.6zM657.6 867.2h1.6v1.6h-1.6zM644.8 872h1.6v1.6h-1.6zM670.4 865.6h3.2v1.6h-3.2zM656 864h1.6v1.6h-1.6zM636.8 864h1.6v1.6h-1.6zM657.6 846.4h3.2v1.6h-3.2zM657.6 857.6h1.6v1.6h-1.6zM652.8 851.2h3.2v1.6h-3.2zM648 857.6h1.6v1.6h-1.6zM667.2 868.8h1.6v1.6h-1.6zM664 843.2h1.6v1.6h-1.6zM649.6 852.8h1.6v1.6h-1.6zM646.4 857.6h1.6v1.6h-1.6zM644.8 864h3.2v1.6h-3.2zM660.8 875.2h1.6v1.6h-1.6zM656 872h1.6v1.6h-1.6zM649.6 856h1.6v1.6h-1.6zM659.2 856h1.6v1.6h-1.6zM648 860.8h3.2v1.6h-3.2zM649.6 840h1.6v1.6h-1.6zM635.2 860.8h1.6v1.6h-1.6zM643.2 862.4h1.6v1.6h-1.6zM648 859.2h3.2v1.6h-3.2zM644.8 865.6h3.2v1.6h-3.2zM667.2 868.8h1.6v1.6h-1.6zM657.6 865.6h1.6v1.6h-1.6zM649.6 867.2h1.6v1.6h-1.6zM659.2 857.6h1.6v1.6h-1.6zM668.8 868.8h1.6v1.6h-1.6zM662.4 867.2h1.6v1.6h-1.6zM662.4 856h1.6v1.6h-1.6zM665.6 865.6h3.2v1.6h-3.2zM632 865.6h1.6v1.6h-1.6zM660.8 862.4h1.6v1.6h-1.6zM644.8 875.2h3.2v1.6h-3.2zM638.4 856h1.6v1.6h-1.6zM641.6 844.8h3.2v1.6h-3.2zM672 870.4h1.6v1.6h-1.6zM648 846.4h3.2v1.6h-3.2zM675.2 857.6h1.6v1.6h-1.6zM649.6 859.2h1.6v1.6h-1.6zM659.2 859.2h3.2v1.6h-3.2zM662.4 864h1.6v1.6h-1.6zM644.8 864h1.6v1.6h-1.6zM654.4 860.8h3.2v1.6h-3.2zM654.4 844.8h1.6v1.6h-1.6zM660.8 849.6h1.6v1.6h-1.6zM649.6 860.8h1.6v1.6h-1.6zM649.6 851.2h1.6v1.6h-1.6zM659.2 868.8h1.6v1.6h-1.6zM660.8 860.8h3.2v1.6h-3.2zM649.6 862.4h3.2v1.6h-3.2zM646.4 857.6h1.6v1.6h-1.6zM665.6 849.6h1.6v1.6h-1.6zM654.4 860.8h1.6v1.6h-1.6zM654.4 857.6h3.2v1.6h-3.2zM652.8 864h1.6v1.6h-1.6zM648 856h1.6v1.6h-1.6zM643.2 854.4h3.2v1.6h-3.2zM659.2 864h1.6v1.6h-1.6zM636.8 860.8h1.6v1.6h-1.6zM657.6 857.6h1.6v1.6h-1.6zM667.2 854.4h1.6v1.6h-1.6zM646.4 851.2h1.6v1.6h-1.6zM648 851.2h3.2v1.6h-3.2zM664 852.8h1.6v1.6h-1.6zM651.2 867.2h3.2v1.6h-3.2zM659.2 860.8h1.6v1.6h-1.6zM654.4 870.4h1.6v1.6h-1.6zM668.8 881.6h1.6v1.6h-1.6zM646.4 852.8h3.2v1.6h-3.2zM649.6 860.8h1.6v1.6h-1.6zM638.4 872h3.2v1.6h-3.2zM649.6 873.6h1.6v1.6h-1.6zM657.6 854.4h3.2v1.6h-3.2zM654.4 867.2h1.6v1.6h-1.6zM659.2 864h1.6v1.6h-1.6zM651.2 862.4h1.6v1.6h-1.6zM668.8 848h1.6v1.6h-1.6zM657.6 849.6h1.6v1.6h-1.6zM643.2 875.2h1.6v1.6h-1.6zM158.4 820.8h1.6v1.6h-1.6zM155.2 830.4h1.6v1.6h-1.6zM160 792h1.6v1.6h-1.6zM164.8 816h1.6v1.6h-1.6zM160 809.6h1.6v1.6h-1.6zM171.2 809.6h1.6v1.6h-1.6zM177.6 812.8h3.2v1.6h-3.2zM166.4 832h1.6v1.6h-1.6zM158.4 801.6h1.6v1.6h-1.6zM158.4 816h1.6v1.6h-1.6zM164.8 803.2h1.6v1.6h-1.6zM158.4 828.8h1.6v1.6h-1.6zM160 808h1.6v1.6h-1.6zM174.4 819.2h1.6v1.6h-1.6zM155.2 820.8h1.6v1.6h-1.6zM153.6 803.2h1.6v1.6h-1.6zM158.4 804.8h1.6v1.6h-1.6zM140.8 820.8h1.6v1.6h-1.6zM153.6 827.2h1.6v1.6h-1.6zM161.6 809.6h1.6v1.6h-1.6zM164.8 811.2h1.6v1.6h-1.6zM172.8 806.4h1.6v1.6h-1.6zM169.6 825.6h1.6v1.6h-1.6zM158.4 817.6h1.6v1.6h-1.6zM177.6 806.4h1.6v1.6h-1.6zM188.8 521.6h1.6v1.6h-1.6zM195.2 537.6h1.6v1.6h-1.6zM185.6 524.8h1.6v1.6h-1.6zM211.2 518.4h1.6v1.6h-1.6zM195.2 521.6h1.6v1.6h-1.6zM192 524.8h1.6v1.6h-1.6zM193.6 528h1.6v1.6h-1.6zM190.4 531.2h1.6v1.6h-1.6zM184 523.2h3.2v1.6h-3.2zM187.2 526.4h1.6v1.6h-1.6zM185.6 523.2h1.6v1.6h-1.6zM198.4 523.2h1.6v1.6h-1.6zM200 516.8h1.6v1.6h-1.6zM185.6 520h1.6v1.6h-1.6zM179.2 523.2h3.2v1.6h-3.2zM200 537.6h1.6v1.6h-1.6zM192 529.6h1.6v1.6h-1.6zM179.2 518.4h1.6v1.6h-1.6zM193.6 513.6h1.6v1.6h-1.6zM198.4 508.8h1.6v1.6h-1.6zM187.2 526.4h1.6v1.6h-1.6zM195.2 524.8h1.6v1.6h-1.6zM195.2 529.6h1.6v1.6h-1.6zM184 542.4h3.2v1.6h-3.2zM182.4 524.8h1.6v1.6h-1.6zM187.2 534.4h3.2v1.6h-3.2zM184 523.2h1.6v1.6h-1.6zM184 526.4h1.6v1.6h-1.6zM174.4 521.6h1.6v1.6h-1.6zM212.8 520h1.6v1.6h-1.6zM187.2 508.8h1.6v1.6h-1.6zM176 526.4h1.6v1.6h-1.6zM182.4 523.2h1.6v1.6h-1.6zM200 526.4h1.6v1.6h-1.6zM185.6 513.6h3.2v1.6h-3.2zM163.2 513.6h1.6v1.6h-1.6zM187.2 529.6h1.6v1.6h-1.6zM201.6 526.4h1.6v1.6h-1.6zM200 526.4h3.2v1.6h-3.2zM187.2 531.2h1.6v1.6h-1.6zM190.4 524.8h1.6v1.6h-1.6zM188.8 526.4h1.6v1.6h-1.6zM192 537.6h1.6v1.6h-1.6zM200 510.4h1.6v1.6h-1.6zM204.8 524.8h1.6v1.6h-1.6zM240 624h1.6v1.6h-1.6zM252.8 636.8h1.6v1.6h-1.6zM241.6 632h1.6v1.6h-1.6zM240 644.8h3.2v1.6h-3.2zM259.2 638.4h1.6v1.6h-1.6zM235.2 632h1.6v1.6h-1.6zM246.4 630.4h1.6v1.6h-1.6zM236.8 646.4h1.6v1.6h-1.6zM260.8 632h1.6v1.6h-1.6zM251.2 630.4h1.6v1.6h-1.6zM371.2 550.4h1.6v1.6h-1.6zM384 534.4h1.6v1.6h-1.6zM376 536h1.6v1.6h-1.6zM387.2 539.2h3.2v1.6h-3.2zM368 537.6h1.6v1.6h-1.6zM380.8 521.6h3.2v1.6h-3.2zM374.4 537.6h1.6v1.6h-1.6zM368 536h1.6v1.6h-1.6zM368 536h1.6v1.6h-1.6zM369.6 523.2h1.6v1.6h-1.6zM364.8 534.4h3.2v1.6h-3.2zM382.4 532.8h1.6v1.6h-1.6zM377.6 518.4h1.6v1.6h-1.6zM363.2 536h1.6v1.6h-1.6zM377.6 540.8h1.6v1.6h-1.6zM377.6 540.8h1.6v1.6h-1.6zM366.4 532.8h1.6v1.6h-1.6zM382.4 542.4h1.6v1.6h-1.6zM376 528h1.6v1.6h-1.6zM379.2 539.2h1.6v1.6h-1.6zM387.2 536h1.6v1.6h-1.6zM377.6 545.6h1.6v1.6h-1.6zM372.8 532.8h1.6v1.6h-1.6zM379.2 531.2h1.6v1.6h-1.6zM380.8 534.4h1.6v1.6h-1.6zM374.4 539.2h1.6v1.6h-1.6zM382.4 537.6h1.6v1.6h-1.6zM376 528h3.2v1.6h-3.2zM372.8 539.2h1.6v1.6h-1.6zM374.4 537.6h3.2v1.6h-3.2zM582.4 630.4h1.6v1.6h-1.6zM574.4 627.2h1.6v1.6h-1.6zM580.8 625.6h1.6v1.6h-1.6zM579.2 643.2h1.6v1.6h-1.6zM582.4 625.6h1.6v1.6h-1.6zM564.8 633.6h1.6v1.6h-1.6zM579.2 632h1.6v1.6h-1.6zM574.4 635.2h1.6v1.6h-1.6zM556.8 620.8h1.6v1.6h-1.6zM568 640h1.6v1.6h-1.6zM579.2 644.8h1.6v1.6h-1.6zM590.4 633.6h1.6v1.6h-1.6zM579.2 638.4h3.2v1.6h-3.2zM582.4 616h1.6v1.6h-1.6zM558.4 644.8h3.2v1.6h-3.2zM571.2 630.4h1.6v1.6h-1.6zM569.6 640h1.6v1.6h-1.6zM580.8 638.4h1.6v1.6h-1.6zM572.8 652.8h1.6v1.6h-1.6zM553.6 643.2h1.6v1.6h-1.6zM576 635.2h1.6v1.6h-1.6zM569.6 630.4h3.2v1.6h-3.2zM564.8 622.4h1.6v1.6h-1.6zM574.4 624h1.6v1.6h-1.6zM582.4 627.2h1.6v1.6h-1.6zM635.2 641.6h1.6v1.6h-1.6zM638.4 640h1.6v1.6h-1.6zM630.4 654.4h3.2v1.6h-3.2zM648 652.8h1.6v1.6h-1.6zM627.2 646.4h1.6v1.6h-1.6zM636.8 649.6h1.6v1.6h-1.6zM617.6 627.2h1.6v1.6h-1.6zM635.2 654.4h1.6v1.6h-1.6zM616 640h3.2v1.6h-3.2zM628.8 641.6h3.2v1.6h-3.2zM622.4 644.8h1.6v1.6h-1.6zM633.6 632h1.6v1.6h-1.6zM627.2 648h1.6v1.6h-1.6zM630.4 646.4h1.6v1.6h-1.6zM636.8 641.6h3.2v1.6h-3.2zM619.2 641.6h3.2v1.6h-3.2zM620.8 636.8h3.2v1.6h-3.2zM624 651.2h3.2v1.6h-3.2zM646.4 654.4h3.2v1.6h-3.2zM624 648h1.6v1.6h-1.6zM641.6 635.2h1.6v1.6h-1.6zM633.6 640h3.2v1.6h-3.2zM641.6 648h3.2v1.6h-3.2zM633.6 640h1.6v1.6h-1.6zM628.8 635.2h1.6v1.6h-1.6zM625.6 659.2h1.6v1.6h-1.6zM643.2 651.2h1.6v1.6h-1.6zM646.4 644.8h1.6v1.6h-1.6zM630.4 636.8h3.2v1.6h-3.2zM624 635.2h1.6v1.6h-1.6zM630.4 640h3.2v1.6h-3.2zM648 643.2h1.6v1.6h-1.6zM641.6 622.4h1.6v1.6h-1.6zM640 638.4h1.6v1.6h-1.6zM630.4 640h3.2v1.6h-3.2zM632 638.4h1.6v1.6h-1.6zM633.6 633.6h1.6v1.6h-1.6zM635.2 652.8h1.6v1.6h-1.6zM644.8 648h1.6v1.6h-1.6zM640 641.6h1.6v1.6h-1.6zM326.4 531.2h1.6v1.6h-1.6zM336 521.6h3.2v1.6h-3.2zM326.4 528h1.6v1.6h-1.6zM321.6 531.2h1.6v1.6h-1.6zM308.8 537.6h3.2v1.6h-3.2zM318.4 531.2h1.6v1.6h-1.6zM324.8 547.2h1.6v1.6h-1.6zM323.2 536h1.6v1.6h-1.6zM320 547.2h1.6v1.6h-1.6zM321.6 540.8h1.6v1.6h-1.6zM310.4 528h1.6v1.6h-1.6zM310.4 552h1.6v1.6h-1.6zM318.4 542.4h3.2v1.6h-3.2zM304 547.2h1.6v1.6h-1.6zM315.2 537.6h1.6v1.6h-1.6zM305.6 536h1.6v1.6h-1.6zM329.6 537.6h3.2v1.6h-3.2zM308.8 532.8h1.6v1.6h-1.6zM313.6 532.8h1.6v1.6h-1.6zM305.6 548.8h3.2v1.6h-3.2zM321.6 539.2h3.2v1.6h-3.2zM318.4 531.2h3.2v1.6h-3.2zM323.2 534.4h1.6v1.6h-1.6zM313.6 529.6h1.6v1.6h-1.6zM307.2 526.4h1.6v1.6h-1.6zM97.6 716.8h1.6v1.6h-1.6zM100.8 707.2h1.6v1.6h-1.6zM105.6 718.4h3.2v1.6h-3.2zM100.8 705.6h1.6v1.6h-1.6zM88 726.4h1.6v1.6h-1.6zM86.4 718.4h1.6v1.6h-1.6zM102.4 713.6h1.6v1.6h-1.6zM92.8 718.4h1.6v1.6h-1.6zM97.6 723.2h1.6v1.6h-1.6zM102.4 716.8h1.6v1.6h-1.6zM102.4 715.2h1.6v1.6h-1.6zM99.2 710.4h1.6v1.6h-1.6zM105.6 705.6h1.6v1.6h-1.6zM96 715.2h3.2v1.6h-3.2zM115.2 705.6h1.6v1.6h-1.6zM100.8 708.8h1.6v1.6h-1.6zM513.6 670.4h1.6v1.6h-1.6zM512 668.8h3.2v1.6h-3.2zM504 659.2h1.6v1.6h-1.6zM504 657.6h1.6v1.6h-1.6zM516.8 657.6h3.2v1.6h-3.2zM497.6 670.4h1.6v1.6h-1.6zM510.4 664h1.6v1.6h-1.6zM505.6 667.2h3.2v1.6h-3.2zM510.4 668.8h3.2v1.6h-3.2zM508.8 660.8h1.6v1.6h-1.6zM500.8 662.4h1.6v1.6h-1.6zM499.2 656h1.6v1.6h-1.6zM502.4 667.2h1.6v1.6h-1.6zM504 664h1.6v1.6h-1.6zM510.4 648h1.6v1.6h-1.6zM512 662.4h1.6v1.6h-1.6zM499.2 665.6h1.6v1.6h-1.6zM504 659.2h1.6v1.6h-1.6zM515.2 668.8h1.6v1.6h-1.6zM512 664h3.2v1.6h-3.2zM504 665.6h1.6v1.6h-1.6zM504 680h1.6v1.6h-1.6zM488 673.6h3.2v1.6h-3.2zM513.6 659.2h1.6v1.6h-1.6zM532.8 656h3.2v1.6h-3.2zM534.4 803.2h1.6v1.6h-1.6zM531.2 811.2h1.6v1.6h-1.6zM526.4 812.8h1.6v1.6h-1.6zM529.6 812.8h1.6v1.6h-1.6zM536 814.4h1.6v1.6h-1.6zM521.6 806.4h3.2v1.6h-3.2zM524.8 816h1.6v1.6h-1.6zM529.6 795.2h1.6v1.6h-1.6zM542.4 816h1.6v1.6h-1.6zM512 795.2h1.6v1.6h-1.6zM516.8 804.8h1.6v1.6h-1.6zM523.2 796.8h1.6v1.6h-1.6zM529.6 809.6h3.2v1.6h-3.2zM529.6 808h1.6v1.6h-1.6zM188.8 760h1.6v1.6h-1.6zM179.2 764.8h1.6v1.6h-1.6zM187.2 755.2h3.2v1.6h-3.2zM188.8 755.2h1.6v1.6h-1.6zM185.6 752h1.6v1.6h-1.6zM190.4 758.4h1.6v1.6h-1.6zM168 763.2h1.6v1.6h-1.6zM187.2 756.8h1.6v1.6h-1.6zM107.2 617.6h1.6v1.6h-1.6zM100.8 620.8h1.6v1.6h-1.6zM121.6 627.2h1.6v1.6h-1.6zM115.2 625.6h1.6v1.6h-1.6zM115.2 625.6h1.6v1.6h-1.6zM116.8 633.6h1.6v1.6h-1.6zM128 616h1.6v1.6h-1.6zM116.8 624h1.6v1.6h-1.6zM108.8 620.8h1.6v1.6h-1.6zM108.8 628.8h1.6v1.6h-1.6zM105.6 600h1.6v1.6h-1.6zM113.6 603.2h1.6v1.6h-1.6zM116.8 609.6h1.6v1.6h-1.6zM110.4 604.8h3.2v1.6h-3.2zM105.6 600h1.6v1.6h-1.6zM105.6 617.6h1.6v1.6h-1.6zM121.6 598.4h1.6v1.6h-1.6zM108.8 606.4h1.6v1.6h-1.6zM118.4 608h1.6v1.6h-1.6zM113.6 604.8h3.2v1.6h-3.2zM110.4 614.4h1.6v1.6h-1.6zM108.8 603.2h1.6v1.6h-1.6zM115.2 609.6h3.2v1.6h-3.2zM115.2 601.6h1.6v1.6h-1.6zM504 704h1.6v1.6h-1.6zM489.6 704h1.6v1.6h-1.6zM486.4 696h1.6v1.6h-1.6zM500.8 696h1.6v1.6h-1.6zM496 715.2h1.6v1.6h-1.6zM489.6 689.6h1.6v1.6h-1.6zM504 697.6h1.6v1.6h-1.6zM505.6 680h1.6v1.6h-1.6zM496 712h1.6v1.6h-1.6zM484.8 684.8h1.6v1.6h-1.6zM492.8 702.4h1.6v1.6h-1.6zM504 688h1.6v1.6h-1.6zM500.8 696h1.6v1.6h-1.6zM505.6 712h1.6v1.6h-1.6zM484.8 705.6h1.6v1.6h-1.6zM454.4 883.2h1.6v1.6h-1.6zM433.6 894.4h1.6v1.6h-1.6zM443.2 873.6h1.6v1.6h-1.6zM435.2 878.4h1.6v1.6h-1.6zM435.2 886.4h3.2v1.6h-3.2zM441.6 884.8h1.6v1.6h-1.6zM440 888h1.6v1.6h-1.6zM435.2 884.8h1.6v1.6h-1.6zM444.8 884.8h1.6v1.6h-1.6zM440 888h3.2v1.6h-3.2zM436.8 883.2h1.6v1.6h-1.6zM443.2 892.8h3.2v1.6h-3.2zM441.6 878.4h3.2v1.6h-3.2zM430.4 883.2h1.6v1.6h-1.6zM449.6 896h1.6v1.6h-1.6zM576 571.2h1.6v1.6h-1.6zM587.2 563.2h1.6v1.6h-1.6zM584 561.6h1.6v1.6h-1.6zM587.2 555.2h1.6v1.6h-1.6zM584 558.4h3.2v1.6h-3.2zM577.6 566.4h1.6v1.6h-1.6zM568 555.2h3.2v1.6h-3.2zM577.6 568h3.2v1.6h-3.2zM579.2 563.2h3.2v1.6h-3.2zM590.4 561.6h3.2v1.6h-3.2zM569.6 556.8h3.2v1.6h-3.2zM574.4 560h1.6v1.6h-1.6zM481.6 841.6h3.2v1.6h-3.2zM473.6 860.8h3.2v1.6h-3.2zM473.6 857.6h1.6v1.6h-1.6zM480 838.4h1.6v1.6h-1.6zM470.4 857.6h1.6v1.6h-1.6zM480 849.6h1.6v1.6h-1.6zM475.2 870.4h1.6v1.6h-1.6zM465.6 851.2h1.6v1.6h-1.6zM488 852.8h1.6v1.6h-1.6zM464 838.4h1.6v1.6h-1.6zM497.6 857.6h1.6v1.6h-1.6zM473.6 849.6h1.6v1.6h-1.6z" fill="#ff00ff"/>
<path d="M169.6 428.8h1.6v1.6h-1.6zM176 395.2h1.6v1.6h-1.6zM161.6 411.2h1.6v1.6h-1.6zM190.4 436.8h3.2v1.6h-3.2zM184 428.8h3.2v1.6h-3.2zM200 403.2h1.6v1.6h-1.6zM176 398.4h1.6v1.6h-1.6zM198.4 414.4h1.6v1.6h-1.6zM179.2 406.4h1.6v1.6h-1.6zM198.4 396.8h1.6v1.6h-1.6zM206.4 409.6h3.2v1.6h-3.2zM168 403.2h3.2v1.6h-3.2zM188.8 396.8h1.6v1.6h-1.6zM168 424h1.6v1.6h-1.6zM195.2 435.2h1.6v1.6h-1.6zM177.6 393.6h3.2v1.6h-3.2zM187.2 427.2h1.6v1.6h-1.6zM182.4 428.8h1.6v1.6h-1.6zM185.6 425.6h1.6v1.6h-1.6zM163.2 411.2h3.2v1.6h-3.2zM179.2 398.4h1.6v1.6h-1.6zM195.2 435.2h3.2v1.6h-3.2zM166.4 401.6h1.6v1.6h-1.6zM185.6 433.6h1.6v1.6h-1.6zM164.8 428.8h3.2v1.6h-3.2zM193.6 384h3.2v1.6h-3.2zM155.2 411.2h1.6v1.6h-1.6zM180.8 392h1.6v1.6h-1.6zM179.2 425.6h1.6v1.6h-1.6zM177.6 395.2h3.2v1.6h-3.2zM188.8 398.4h1.6v1.6h-1.6zM172.8 428.8h1.6v1.6h-1.6zM163.2 403.2h3.2v1.6h-3.2zM196.8 424h1.6v1.6h-1.6zM204.8 406.4h1.6v1.6h-1.6zM195.2 433.6h1.6v1.6h-1.6zM172.8 425.6h1.6v1.6h-1.6zM195.2 401.6h1.6v1.6h-1.6zM179.2 428.8h3.2v1.6h-3.2zM190.4 393.6h1.6v1.6h-1.6zM176 401.6h3.2v1.6h-3.2zM192 425.6h3.2v1.6h-3.2zM176 428.8h1.6v1.6h-1.6zM180.8 433.6h1.6v1.6h-1.6zM193.6 398.4h1.6v1.6h-1.6zM163.2 424h3.2v1.6h-3.2zM203.2 414.4h1.6v1.6h-1.6zM179.2 398.4h3.2v1.6h-3.2zM193.6 428.8h1.6v1.6h-1.6zM164.8 404.8h3.2v1.6h-3.2zM168 424h1.6v1.6h-1.6zM193.6 425.6h1.6v1.6h-1.6zM198.4 398.4h1.6v1.6h-1.6zM168 395.2h3.2v1.6h-3.2zM198.4 388.8h1.6v1.6h-1.6zM174.4 430.4h1.6v1.6h-1.6zM200 408h1.6v1.6h-1.6zM203.2 408h1.6v1.6h-1.6zM190.4 424h1.6v1.6h-1.6zM169.6 404.8h1.6v1.6h-1.6zM172.8 396.8h1.6v1.6h-1.6zM192 388.8h1.6v1.6h-1.6zM171.2 425.6h3.2v1.6h-3.2zM193.6 390.4h1.6v1.6h-1.6zM172.8 427.2h1.6v1.6h-1.6zM203.2 404.8h1.6v1.6h-1.6zM200 412.8h3.2v1.6h-3.2zM204.8 412.8h1.6v1.6h-1.6zM171.2 419.2h3.2v1.6h-3.2zM182.4 393.6h1.6v1.6h-1.6zM169.6 424h3.2v1.6h-3.2zM185.6 387.2h1.6v1.6h-1.6zM190.4 393.6h1.6v1.6h-1.6zM190.4 395.2h1.6v1.6h-1.6zM196.8 393.6h1.6v1.6h-1.6zM166.4 395.2h1.6v1.6h-1.6zM169.6 396.8h3.2v1.6h-3.2zM163.2 406.4h3.2v1.6h-3.2zM198.4 422.4h1.6v1.6h-1.6zM187.2 438.4h3.2v1.6h-3.2zM166.4 411.2h1.6v1.6h-1.6zM206.4 411.2h1.6v1.6h-1.6zM187.2 396.8h1.6v1.6h-1.6zM209.6 420.8h1.6v1.6h-1.6zM198.4 419.2h1.6v1.6h-1.6zM192 392h1.6v1.6h-1.6zM198.4 425.6h1.6v1.6h-1.6zM168 417.6h1.6v1.6h-1.6zM196.8 414.4h1.6v1.6h-1.6zM204.8 408h1.6v1.6h-1.6zM176 395.2h1.6v1.6h-1.6zM206.4 417.6h1.6v1.6h-1.6zM164.8 408h3.2v1.6h-3.2zM203.2 393.6h1.6v1.6h-1.6zM188.8 435.2h1.6v1.6h-1.6zM195.2 432h1.6v1.6h-1.6zM198.4 424h3.2v1.6h-3.2zM187.2 392h1.6v1.6h-1.6zM168 400h3.2v1.6h-3.2zM201.6 422.4h1.6v1.6h-1.6zM208 400h3.2v1.6h-3.2zM171.2 395.2h1.6v1.6h-1.6zM188.8 390.4h1.6v1.6h-1.6zM188.8 390.4h1.6v1.6h-1.6zM190.4 395.2h1.6v1.6h-1.6zM171.2 427.2h3.2v1.6h-3.2zM196.8 401.6h1.6v1.6h-1.6zM177.6 392h3.2v1.6h-3.2zM190.4 425.6h1.6v1.6h-1.6zM196.8 388.8h1.6v1.6h-1.6zM425.6 432h1.6v1.6h-1.6zM408 409.6h3.2v1.6h-3.2zM393.6 403.2h3.2v1.6h-3.2zM406.4 443.2h1.6v1.6h-1.6zM404.8 436.8h1.6v1.6h-1.6zM398.4 406.4h3.2v1.6h-3.2zM393.6 401.6h1.6v1.6h-1.6zM419.2 428.8h3.2v1.6h-3.2zM396.8 441.6h3.2v1.6h-3.2zM393.6 412.8h3.2v1.6h-3.2zM388.8 433.6h1.6v1.6h-1.6zM417.6 403.2h3.2v1.6h-3.2zM412.8 411.2h1.6v1.6h-1.6zM416 420.8h3.2v1.6h-3.2zM393.6 441.6h3.2v1.6h-3.2zM387.2 422.4h1.6v1.6h-1.6zM419.2 414.4h1.6v1.6h-1.6zM392 438.4h1.6v1.6h-1.6zM409.6 436.8h1.6v1.6h-1.6zM403.2 443.2h1.6v1.6h-1.6zM380.8 422.4h1.6v1.6h-1.6zM411.2 414.4h1.6v1.6h-1.6zM416 425.6h3.2v1.6h-3.2zM414.4 412.8h1.6v1.6h-1.6zM409.6 428.8h1.6v1.6h-1.6zM384 406.4h3.2v1.6h-3.2zM403.2 446.4h1.6v1.6h-1.6zM388.8 446.4h1.6v1.6h-1.6zM406.4 443.2h1.6v1.6h-1.6zM416 406.4h1.6v1.6h-1.6zM396.8 408h1.6v1.6h-1.6zM419.2 420.8h3.2v1.6h-3.2zM420.8 414.4h1.6v1.6h-1.6zM416 417.6h3.2v1.6h-3.2zM392 443.2h1.6v1.6h-1.6zM411.2 414.4h1.6v1.6h-1.6zM393.6 427.2h1.6v1.6h-1.6zM420.8 414.4h1.6v1.6h-1.6zM404.8 403.2h1.6v1.6h-1.6zM387.2 411.2h1.6v1.6h-1.6zM384 416h1.6v1.6h-1.6zM388.8 438.4h1.6v1.6h-1.6zM388.8 425.6h1.6v1.6h-1.6zM388.8 435.2h1.6v1.6h-1.6zM382.4 424h3.2v1.6h-3.2zM403.2 403.2h3.2v1.6h-3.2zM400 435.2h1.6v1.6h-1.6zM401.6 401.6h3.2v1.6h-3.2zM424 411.2h1.6v1.6h-1.6zM393.6 438.4h1.6v1.6h-1.6zM540.8 534.4h1.6v1.6h-1.6zM563.2 539.2h1.6v1.6h-1.6zM544 561.6h1.6v1.6h-1.6zM539.2 558.4h1.6v1.6h-1.6zM568 553.6h1.6v1.6h-1.6zM537.6 548.8h1.6v1.6h-1.6zM539.2 537.6h3.2v1.6h-3.2zM553.6 529.6h3.2v1.6h-3.2zM539.2 532.8h3.2v1.6h-3.2zM561.6 553.6h1.6v1.6h-1.6zM552 555.2h3.2v1.6h-3.2zM540.8 534.4h1.6v1.6h-1.6zM544 536h1.6v1.6h-1.6zM534.4 539.2h1.6v1.6h-1.6zM561.6 544h1.6v1.6h-1.6zM553.6 532.8h1.6v1.6h-1.6zM529.6 542.4h1.6v1.6h-1.6zM536 548.8h1.6v1.6h-1.6zM561.6 542.4h1.6v1.6h-1.6zM539.2 534.4h1.6v1.6h-1.6zM556.8 550.4h3.2v1.6h-3.2zM539.2 550.4h1.6v1.6h-1.6zM542.4 536h1.6v1.6h-1.6zM556.8 561.6h1.6v1.6h-1.6zM561.6 539.2h3.2v1.6h-3.2zM542.4 537.6h1.6v1.6h-1.6zM561.6 560h1.6v1.6h-1.6zM531.2 548.8h3.2v1.6h-3.2zM539.2 544h1.6v1.6h-1.6zM534.4 553.6h1.6v1.6h-1.6zM571.2 552h3.2v1.6h-3.2zM563.2 558.4h1.6v1.6h-1.6zM547.2 539.2h1.6v1.6h-1.6zM561.6 560h1.6v1.6h-1.6zM566.4 540.8h1.6v1.6h-1.6zM536 550.4h1.6v1.6h-1.6zM564.8 552h3.2v1.6h-3.2zM563.2 552h1.6v1.6h-1.6zM555.2 534.4h1.6v1.6h-1.6zM558.4 532.8h3.2v1.6h-3.2zM536 547.2h1.6v1.6h-1.6zM540.8 553.6h1.6v1.6h-1.6zM564.8 545.6h1.6v1.6h-1.6zM540.8 542.4h3.2v1.6h-3.2zM560 532.8h1.6v1.6h-1.6zM547.2 555.2h3.2v1.6h-3.2zM558.4 555.2h1.6v1.6h-1.6zM536 553.6h1.6v1.6h-1.6zM571.2 552h1.6v1.6h-1.6zM555.2 529.6h3.2v1.6h-3.2zM534.4 548.8h3.2v1.6h-3.2zM542.4 536h1.6v1.6h-1.6zM537.6 555.2h1.6v1.6h-1.6zM553.6 556.8h1.6v1.6h-1.6zM544 545.6h1.6v1.6h-1.6zM569.6 552h3.2v1.6h-3.2zM532.8 547.2h1.6v1.6h-1.6zM544 558.4h3.2v1.6h-3.2zM553.6 564.8h3.2v1.6h-3.2zM540.8 561.6h1.6v1.6h-1.6zM654.4 576h3.2v1.6h-3.2zM660.8 590.4h1.6v1.6h-1.6zM675.2 590.4h1.6v1.6h-1.6zM678.4 574.4h1.6v1.6h-1.6zM664 587.2h1.6v1.6h-1.6zM667.2 571.2h3.2v1.6h-3.2zM675.2 587.2h1.6v1.6h-1.6zM670.4 572.8h1.6v1.6h-1.6zM662.4 590.4h3.2v1.6h-3.2zM659.2 577.6h1.6v1.6h-1.6zM675.2 582.4h1.6v1.6h-1.6zM659.2 590.4h1.6v1.6h-1.6zM676.8 588.8h3.2v1.6h-3.2zM676.8 572.8h1.6v1.6h-1.6zM670.4 572.8h1.6v1.6h-1.6zM667.2 569.6h3.2v1.6h-3.2zM651.2 585.6h1.6v1.6h-1.6zM652.8 582.4h1.6v1.6h-1.6zM657.6 592h1.6v1.6h-1.6zM667.2 574.4h1.6v1.6h-1.6zM662.4 564.8h3.2v1.6h-3.2zM673.6 571.2h3.2v1.6h-3.2zM667.2 593.6h3.2v1.6h-3.2zM660.8 569.6h1.6v1.6h-1.6zM676.8 587.2h3.2v1.6h-3.2zM672 585.6h1.6v1.6h-1.6zM652.8 580.8h1.6v1.6h-1.6zM676.8 585.6h1.6v1.6h-1.6zM667.2 568h3.2v1.6h-3.2zM670.4 577.6h3.2v1.6h-3.2zM627.2 672h1.6v1.6h-1.6zM632 678.4h1.6v1.6h-1.6zM656 656h1.6v1.6h-1.6zM648 652.8h1.6v1.6h-1.6zM654.4 654.4h1.6v1.6h-1.6zM657.6 659.2h1.6v1.6h-1.6zM654.4 688h1.6v1.6h-1.6zM641.6 649.6h3.2v1.6h-3.2zM633.6 659.2h1.6v1.6h-1.6zM624 681.6h1.6v1.6h-1.6zM646.4 652.8h1.6v1.6h-1.6zM616 672h3.2v1.6h-3.2zM630.4 688h1.6v1.6h-1.6zM652.8 686.4h1.6v1.6h-1.6zM625.6 683.2h1.6v1.6h-1.6zM620.8 688h1.6v1.6h-1.6zM657.6 656h3.2v1.6h-3.2zM654.4 686.4h3.2v1.6h-3.2zM651.2 652.8h1.6v1.6h-1.6zM664 670.4h3.2v1.6h-3.2zM662.4 681.6h1.6v1.6h-1.6zM656 665.6h3.2v1.6h-3.2zM632 659.2h1.6v1.6h-1.6zM640 686.4h1.6v1.6h-1.6zM636.8 659.2h1.6v1.6h-1.6zM659.2 664h3.2v1.6h-3.2zM643.2 683.2h1.6v1.6h-1.6zM627.2 680h3.2v1.6h-3.2zM624 667.2h1.6v1.6h-1.6zM654.4 664h1.6v1.6h-1.6zM627.2 684.8h3.2v1.6h-3.2zM632 692.8h1.6v1.6h-1.6zM643.2 644.8h1.6v1.6h-1.6zM668.8 689.6h1.6v1.6h-1.6zM624 670.4h3.2v1.6h-3.2zM649.6 657.6h1.6v1.6h-1.6zM644.8 694.4h1.6v1.6h-1.6zM654.4 681.6h3.2v1.6h-3.2zM632 684.8h3.2v1.6h-3.2zM635.2 659.2h3.2v1.6h-3.2zM638.4 691.2h1.6v1.6h-1.6zM649.6 659.2h1.6v1.6h-1.6zM622.4 664h1.6v1.6h-1.6zM630.4 664h1.6v1.6h-1.6zM640 694.4h1.6v1.6h-1.6zM641.6 660.8h1.6v1.6h-1.6zM644.8 689.6h1.6v1.6h-1.6zM628.8 692.8h3.2v1.6h-3.2zM640 652.8h3.2v1.6h-3.2zM657.6 660.8h1.6v1.6h-1.6zM628.8 678.4h1.6v1.6h-1.6zM620.8 670.4h1.6v1.6h-1.6zM643.2 688h1.6v1.6h-1.6zM662.4 665.6h1.6v1.6h-1.6zM665.6 670.4h3.2v1.6h-3.2zM640 656h3.2v1.6h-3.2zM638.4 652.8h3.2v1.6h-3.2zM627.2 676.8h1.6v1.6h-1.6zM656 668.8h1.6v1.6h-1.6zM620.8 688h3.2v1.6h-3.2zM624 664h1.6v1.6h-1.6zM664 672h1.6v1.6h-1.6zM624 675.2h1.6v1.6h-1.6zM660.8 678.4h1.6v1.6h-1.6zM660.8 659.2h1.6v1.6h-1.6zM664 692.8h1.6v1.6h-1.6zM654.4 662.4h1.6v1.6h-1.6zM662.4 660.8h1.6v1.6h-1.6zM625.6 676.8h1.6v1.6h-1.6zM630.4 673.6h1.6v1.6h-1.6zM633.6 676.8h1.6v1.6h-1.6zM651.2 651.2h1.6v1.6h-1.6zM627.2 684.8h1.6v1.6h-1.6zM667.2 667.2h1.6v1.6h-1.6zM643.2 659.2h1.6v1.6h-1.6zM632 667.2h1.6v1.6h-1.6zM640 656h1.6v1.6h-1.6zM651.2 691.2h1.6v1.6h-1.6zM622.4 662.4h3.2v1.6h-3.2zM622.4 676.8h1.6v1.6h-1.6zM470.4 716.8h3.2v1.6h-3.2zM435.2 713.6h1.6v1.6h-1.6zM449.6 688h1.6v1.6h-1.6zM460.8 708.8h1.6v1.6h-1.6zM462.4 692.8h1.6v1.6h-1.6zM456 713.6h1.6v1.6h-1.6zM449.6 720h1.6v1.6h-1.6zM435.2 696h3.2v1.6h-3.2zM460.8 718.4h3.2v1.6h-3.2zM468.8 708.8h1.6v1.6h-1.6zM449.6 697.6h1.6v1.6h-1.6zM468.8 704h1.6v1.6h-1.6zM436.8 707.2h1.6v1.6h-1.6zM464 710.4h1.6v1.6h-1.6zM438.4 716.8h1.6v1.6h-1.6zM449.6 723.2h1.6v1.6h-1.6zM448 694.4h1.6v1.6h-1.6zM444.8 689.6h1.6v1.6h-1.6zM465.6 699.2h3.2v1.6h-3.2zM456 692.8h1.6v1.6h-1.6zM443.2 692.8h1.6v1.6h-1.6zM438.4 710.4h1.6v1.6h-1.6zM449.6 716.8h1.6v1.6h-1.6zM462.4 707.2h1.6v1.6h-1.6zM436.8 689.6h1.6v1.6h-1.6zM464 697.6h1.6v1.6h-1.6zM454.4 716.8h1.6v1.6h-1.6zM443.2 726.4h1.6v1.6h-1.6zM441.6 694.4h1.6v1.6h-1.6zM465.6 692.8h1.6v1.6h-1.6zM462.4 713.6h1.6v1.6h-1.6zM459.2 716.8h1.6v1.6h-1.6zM464 700.8h1.6v1.6h-1.6zM459.2 689.6h3.2v1.6h-3.2zM465.6 713.6h1.6v1.6h-1.6zM449.6 694.4h3.2v1.6h-3.2zM438.4 718.4h3.2v1.6h-3.2zM465.6 702.4h1.6v1.6h-1.6zM457.6 689.6h3.2v1.6h-3.2zM451.2 688h1.6v1.6h-1.6zM460.8 699.2h1.6v1.6h-1.6zM464 691.2h3.2v1.6h-3.2zM446.4 721.6h1.6v1.6h-1.6zM433.6 696h1.6v1.6h-1.6zM441.6 689.6h1.6v1.6h-1.6zM468.8 707.2h1.6v1.6h-1.6zM472 705.6h3.2v1.6h-3.2zM433.6 694.4h1.6v1.6h-1.6zM452.8 684.8h1.6v1.6h-1.6zM436.8 713.6h1.6v1.6h-1.6zM470.4 691.2h1.6v1.6h-1.6zM441.6 691.2h1.6v1.6h-1.6zM465.6 712h3.2v1.6h-3.2zM430.4 712h1.6v1.6h-1.6zM448 688h1.6v1.6h-1.6zM462.4 694.4h1.6v1.6h-1.6zM444.8 688h1.6v1.6h-1.6zM443.2 694.4h1.6v1.6h-1.6zM432 718.4h1.6v1.6h-1.6zM460.8 680h3.2v1.6h-3.2zM435.2 726.4h1.6v1.6h-1.6zM432 713.6h1.6v1.6h-1.6zM436.8 716.8h1.6v1.6h-1.6zM465.6 699.2h1.6v1.6h-1.6zM473.6 705.6h1.6v1.6h-1.6zM448 718.4h3.2v1.6h-3.2zM459.2 716.8h1.6v1.6h-1.6zM433.6 707.2h3.2v1.6h-3.2zM456 691.2h1.6v1.6h-1.6zM467.2 689.6h3.2v1.6h-3.2zM430.4 713.6h3.2v1.6h-3.2zM456 728h1.6v1.6h-1.6zM438.4 689.6h1.6v1.6h-1.6zM460.8 723.2h1.6v1.6h-1.6zM465.6 696h1.6v1.6h-1.6zM435.2 708.8h1.6v1.6h-1.6zM465.6 721.6h1.6v1.6h-1.6zM468.8 718.4h1.6v1.6h-1.6zM467.2 689.6h1.6v1.6h-1.6zM441.6 694.4h1.6v1.6h-1.6zM609.6 796.8h1.6v1.6h-1.6zM628.8 756.8h1.6v1.6h-1.6zM632 796.8h3.2v1.6h-3.2zM611.2 760h1.6v1.6h-1.6zM636.8 747.2h1.6v1.6h-1.6zM657.6 769.6h1.6v1.6h-1.6zM649.6 790.4h1.6v1.6h-1.6zM640 798.4h1.6v1.6h-1.6zM609.6 796.8h1.6v1.6h-1.6zM625.6 801.6h1.6v1.6h-1.6zM625.6 804.8h3.2v1.6h-3.2zM640 788.8h1.6v1.6h-1.6zM652.8 782.4h1.6v1.6h-1.6zM643.2 766.4h3.2v1.6h-3.2zM606.4 798.4h1.6v1.6h-1.6zM620.8 764.8h1.6v1.6h-1.6zM624 804.8h1.6v1.6h-1.6zM616 761.6h1.6v1.6h-1.6zM627.2 800h1.6v1.6h-1.6zM620.8 798.4h3.2v1.6h-3.2zM603.2 793.6h1.6v1.6h-1.6zM648 790.4h1.6v1.6h-1.6zM608 753.6h3.2v1.6h-3.2zM624 755.2h1.6v1.6h-1.6zM648 764.8h1.6v1.6h-1.6zM617.6 795.2h1.6v1.6h-1.6zM604.8 777.6h1.6v1.6h-1.6zM644.8 780.8h3.2v1.6h-3.2zM606.4 779.2h3.2v1.6h-3.2zM609.6 764.8h1.6v1.6h-1.6zM644.8 768h1.6v1.6h-1.6zM652.8 785.6h1.6v1.6h-1.6zM648 769.6h1.6v1.6h-1.6zM643.2 785.6h3.2v1.6h-3.2zM609.6 788.8h1.6v1.6h-1.6zM595.2 771.2h1.6v1.6h-1.6zM625.6 801.6h1.6v1.6h-1.6zM614.4 793.6h1.6v1.6h-1.6zM636.8 793.6h1.6v1.6h-1.6zM616 750.4h3.2v1.6h-3.2zM620.8 758.4h1.6v1.6h-1.6zM656 777.6h1.6v1.6h-1.6zM601.6 758.4h1.6v1.6h-1.6zM614.4 800h1.6v1.6h-1.6zM648 768h1.6v1.6h-1.6zM635.2 788.8h1.6v1.6h-1.6zM641.6 796.8h1.6v1.6h-1.6zM608 788.8h1.6v1.6h-1.6zM641.6 776h3.2v1.6h-3.2zM601.6 784h1.6v1.6h-1.6zM648 792h1.6v1.6h-1.6zM590.4 764.8h3.2v1.6h-3.2zM614.4 787.2h1.6v1.6h-1.6zM596.8 760h3.2v1.6h-3.2zM640 744h1.6v1.6h-1.6zM643.2 758.4h1.6v1.6h-1.6zM616 761.6h1.6v1.6h-1.6zM601.6 769.6h1.6v1.6h-1.6zM628.8 750.4h1.6v1.6h-1.6zM638.4 800h1.6v1.6h-1.6zM611.2 771.2h1.6v1.6h-1.6zM598.4 787.2h1.6v1.6h-1.6zM603.2 753.6h1.6v1.6h-1.6zM633.6 758.4h3.2v1.6h-3.2zM614.4 760h1.6v1.6h-1.6zM627.2 755.2h1.6v1.6h-1.6zM640 785.6h3.2v1.6h-3.2zM620.8 801.6h1.6v1.6h-1.6zM630.4 795.2h3.2v1.6h-3.2zM601.6 780.8h3.2v1.6h-3.2zM654.4 769.6h1.6v1.6h-1.6zM620.8 756.8h1.6v1.6h-1.6zM648 777.6h1.6v1.6h-1.6zM646.4 758.4h1.6v1.6h-1.6zM640 755.2h3.2v1.6h-3.2zM641.6 764.8h1.6v1.6h-1.6zM652.8 779.2h1.6v1.6h-1.6zM638.4 750.4h1.6v1.6h-1.6zM606.4 809.6h3.2v1.6h-3.2zM646.4 772.8h3.2v1.6h-3.2zM609.6 753.6h1.6v1.6h-1.6zM636.8 787.2h1.6v1.6h-1.6zM654.4 771.2h1.6v1.6h-1.6zM595.2 788.8h3.2v1.6h-3.2zM632 760h1.6v1.6h-1.6zM640 756.8h1.6v1.6h-1.6zM625.6 787.2h3.2v1.6h-3.2zM643.2 787.2h1.6v1.6h-1.6zM611.2 760h1.6v1.6h-1.6zM646.4 764.8h3.2v1.6h-3.2zM609.6 792h1.6v1.6h-1.6zM612.8 760h1.6v1.6h-1.6zM628.8 803.2h1.6v1.6h-1.6zM627.2 796.8h1.6v1.6h-1.6zM632 752h1.6v1.6h-1.6zM641.6 769.6h1.6v1.6h-1.6zM612.8 760h1.6v1.6h-1.6zM608 763.2h3.2v1.6h-3.2zM620.8 801.6h1.6v1.6h-1.6zM612.8 793.6h1.6v1.6h-1.6zM609.6 790.4h3.2v1.6h-3.2zM649.6 769.6h3.2v1.6h-3.2zM619.2 756.8h1.6v1.6h-1.6zM636.8 750.4h3.2v1.6h-3.2zM652.8 777.6h1.6v1.6h-1.6zM656 782.4h1.6v1.6h-1.6zM643.2 776h1.6v1.6h-1.6zM640 796.8h1.6v1.6h-1.6zM648 764.8h3.2v1.6h-3.2zM601.6 774.4h3.2v1.6h-3.2zM635.2 868.8h3.2v1.6h-3.2zM662.4 868.8h1.6v1.6h-1.6zM649.6 844.8h1.6v1.6h-1.6zM640 864h1.6v1.6h-1.6zM636.8 854.4h1.6v1.6h-1.6zM651.2 841.6h1.6v1.6h-1.6zM670.4 881.6h1.6v1.6h-1.6zM670.4 872h3.2v1.6h-3.2zM635.2 856h1.6v1.6h-1.6zM636.8 878.4h1.6v1.6h-1.6zM656 840h3.2v1.6h-3.2zM640 854.4h1.6v1.6h-1.6zM649.6 883.2h1.6v1.6h-1.6zM628.8 865.6h1.6v1.6h-1.6zM630.4 864h3.2v1.6h-3.2zM668.8 854.4h1.6v1.6h-1.6zM636.8 849.6h3.2v1.6h-3.2zM654.4 840h1.6v1.6h-1.6zM668.8 843.2h3.2v1.6h-3.2zM635.2 844.8h3.2v1.6h-3.2zM672 878.4h1.6v1.6h-1.6zM633.6 851.2h3.2v1.6h-3.2zM646.4 835.2h1.6v1.6h-1.6zM651.2 883.2h1.6v1.6h-1.6zM662.4 849.6h1.6v1.6h-1.6zM636.8 881.6h3.2v1.6h-3.2zM636.8 867.2h1.6v1.6h-1.6zM638.4 875.2h1.6v1.6h-1.6zM640 868.8h3.2v1.6h-3.2zM646.4 872h1.6v1.6h-1.6zM644.8 873.6h1.6v1.6h-1.6zM675.2 857.6h1.6v1.6h-1.6zM667.2 886.4h1.6v1.6h-1.6zM675.2 864h1.6v1.6h-1.6zM656 849.6h1.6v1.6h-1.6zM635.2 851.2h1.6v1.6h-1.6zM656 881.6h1.6v1.6h-1.6zM638.4 873.6h1.6v1.6h-1.6zM676.8 875.2h3.2v1.6h-3.2zM627.2 860.8h1.6v1.6h-1.6zM640 857.6h1.6v1.6h-1.6zM628.8 857.6h3.2v1.6h-3.2zM636.8 864h1.6v1.6h-1.6zM662.4 844.8h1.6v1.6h-1.6zM652.8 881.6h1.6v1.6h-1.6zM625.6 868.8h1.6v1.6h-1.6zM667.2 875.2h1.6v1.6h-1.6zM635.2 881.6h1.6v1.6h-1.6zM627.2 860.8h1.6v1.6h-1.6zM636.8 865.6h1.6v1.6h-1.6zM633.6 852.8h1.6v1.6h-1.6zM654.4 843.2h1.6v1.6h-1.6zM633.6 849.6h1.6v1.6h-1.6zM643.2 881.6h3.2v1.6h-3.2zM630.4 873.6h1.6v1.6h-1.6zM654.4 841.6h1.6v1.6h-1.6zM667.2 846.4h1.6v1.6h-1.6zM633.6 854.4h1.6v1.6h-1.6zM651.2 840h1.6v1.6h-1.6zM644.8 841.6h1.6v1.6h-1.6zM670.4 880h1.6v1.6h-1.6zM644.8 870.4h1.6v1.6h-1.6zM633.6 854.4h1.6v1.6h-1.6zM665.6 851.2h1.6v1.6h-1.6zM636.8 846.4h1.6v1.6h-1.6zM640 876.8h1.6v1.6h-1.6zM641.6 867.2h1.6v1.6h-1.6zM630.4 864h3.2v1.6h-3.2zM660.8 880h1.6v1.6h-1.6zM660.8 865.6h1.6v1.6h-1.6zM640 852.8h1.6v1.6h-1.6zM630.4 870.4h1.6v1.6h-1.6zM633.6 849.6h1.6v1.6h-1.6zM641.6 876.8h1.6v1.6h-1.6zM662.4 852.8h1.6v1.6h-1.6zM644.8 875.2h1.6v1.6h-1.6zM662.4 883.2h1.6v1.6h-1.6zM678.4 859.2h3.2v1.6h-3.2zM638.4 859.2h3.2v1.6h-3.2zM648 878.4h3.2v1.6h-3.2zM184 812.8h3.2v1.6h-3.2zM169.6 830.4h1.6v1.6h-1.6zM158.4 825.6h1.6v1.6h-1.6zM137.6 814.4h1.6v1.6h-1.6zM168 827.2h1.6v1.6h-1.6zM139.2 814.4h1.6v1.6h-1.6zM147.2 820.8h3.2v1.6h-3.2zM177.6 825.6h1.6v1.6h-1.6zM160 795.2h1.6v1.6h-1.6zM145.6 787.2h3.2v1.6h-3.2zM142.4 816h1.6v1.6h-1.6zM153.6 792h1.6v1.6h-1.6zM139.2 814.4h1.6v1.6h-1.6zM161.6 825.6h1.6v1.6h-1.6zM136 811.2h3.2v1.6h-3.2zM161.6 798.4h1.6v1.6h-1.6zM153.6 825.6h1.6v1.6h-1.6zM179.2 800h1.6v1.6h-1.6zM158.4 796.8h1.6v1.6h-1.6zM139.2 825.6h1.6v1.6h-1.6zM169.6 828.8h1.6v1.6h-1.6zM142.4 795.2h1.6v1.6h-1.6zM140.8 796.8h1.6v1.6h-1.6zM176 822.4h1.6v1.6h-1.6zM176 801.6h1.6v1.6h-1.6zM147.2 809.6h1.6v1.6h-1.6zM166.4 832h1.6v1.6h-1.6zM163.2 835.2h1.6v1.6h-1.6zM174.4 803.2h1.6v1.6h-1.6zM179.2 803.2h3.2v1.6h-3.2zM180.8 814.4h1.6v1.6h-1.6zM142.4 812.8h3.2v1.6h-3.2zM153.6 830.4h3.2v1.6h-3.2zM156.8 836.8h3.2v1.6h-3.2zM163.2 795.2h1.6v1.6h-1.6zM158.4 828.8h3.2v1.6h-3.2zM176 819.2h1.6v1.6h-1.6zM172.8 812.8h1.6v1.6h-1.6zM142.4 798.4h1.6v1.6h-1.6zM168 835.2h1.6v1.6h-1.6zM153.6 827.2h3.2v1.6h-3.2zM156.8 835.2h3.2v1.6h-3.2zM158.4 827.2h1.6v1.6h-1.6zM172.8 819.2h1.6v1.6h-1.6zM150.4 808h1.6v1.6h-1.6zM161.6 832h3.2v1.6h-3.2zM144 811.2h1.6v1.6h-1.6zM176 825.6h3.2v1.6h-3.2zM176 809.6h1.6v1.6h-1.6zM140.8 803.2h1.6v1.6h-1.6zM148.8 832h3.2v1.6h-3.2zM164.8 819.2h1.6v1.6h-1.6zM140.8 812.8h1.6v1.6h-1.6zM139.2 814.4h1.6v1.6h-1.6zM142.4 803.2h1.6v1.6h-1.6zM150.4 835.2h1.6v1.6h-1.6zM169.6 825.6h1.6v1.6h-1.6zM184 812.8h1.6v1.6h-1.6zM161.6 792h1.6v1.6h-1.6zM152 800h1.6v1.6h-1.6zM156.8 801.6h1.6v1.6h-1.6zM176 820.8h3.2v1.6h-3.2zM155.2 798.4h3.2v1.6h-3.2zM160 787.2h3.2v1.6h-3.2zM142.4 819.2h1.6v1.6h-1.6zM169.6 827.2h1.6v1.6h-1.6zM140.8 812.8h1.6v1.6h-1.6zM156.8 824h1.6v1.6h-1.6zM153.6 835.2h1.6v1.6h-1.6zM148.8 801.6h1.6v1.6h-1.6zM168 529.6h1.6v1.6h-1.6zM204.8 529.6h3.2v1.6h-3.2zM209.6 512h1.6v1.6h-1.6zM208 544h1.6v1.6h-1.6zM204.8 505.6h3.2v1.6h-3.2zM209.6 537.6h1.6v1.6h-1.6zM212.8 523.2h3.2v1.6h-3.2zM204.8 505.6h1.6v1.6h-1.6zM185.6 540.8h1.6v1.6h-1.6zM201.6 521.6h1.6v1.6h-1.6zM203.2 521.6h1.6v1.6h-1.6zM212.8 534.4h1.6v1.6h-1.6zM172.8 526.4h1.6v1.6h-1.6zM188.8 542.4h3.2v1.6h-3.2zM169.6 524.8h1.6v1.6h-1.6zM216 526.4h1.6v1.6h-1.6zM182.4 539.2h1.6v1.6h-1.6zM171.2 516.8h1.6v1.6h-1.6zM209.6 542.4h3.2v1.6h-3.2zM172.8 513.6h1.6v1.6h-1.6zM193.6 507.2h1.6v1.6h-1.6zM206.4 534.4h1.6v1.6h-1.6zM192 547.2h1.6v1.6h-1.6zM196.8 539.2h1.6v1.6h-1.6zM208 544h3.2v1.6h-3.2zM204.8 542.4h1.6v1.6h-1.6zM195.2 547.2h3.2v1.6h-3.2zM184 552h1.6v1.6h-1.6zM190.4 539.2h1.6v1.6h-1.6zM179.2 510.4h1.6v1.6h-1.6zM179.2 512h1.6v1.6h-1.6zM177.6 537.6h1.6v1.6h-1.6zM196.8 542.4h1.6v1.6h-1.6zM196.8 512h3.2v1.6h-3.2zM188.8 515.2h1.6v1.6h-1.6zM208 536h1.6v1.6h-1.6zM190.4 544h3.2v1.6h-3.2zM180.8 510.4h3.2v1.6h-3.2zM201.6 537.6h1.6v1.6h-1.6zM177.6 516.8h3.2v1.6h-3.2zM246.4 614.4h3.2v1.6h-3.2zM225.6 635.2h1.6v1.6h-1.6zM264 617.6h3.2v1.6h-3.2zM259.2 633.6h1.6v1.6h-1.6zM252.8 644.8h1.6v1.6h-1.6zM233.6 660.8h1.6v1.6h-1.6zM248 620.8h3.2v1.6h-3.2zM254.4 651.2h1.6v1.6h-1.6zM236.8 656h3.2v1.6h-3.2zM259.2 646.4h3.2v1.6h-3.2zM235.2 617.6h1.6v1.6h-1.6zM235.2 648h1.6v1.6h-1.6zM236.8 620.8h1.6v1.6h-1.6zM248 627.2h1.6v1.6h-1.6zM244.8 616h1.6v1.6h-1.6zM256 649.6h1.6v1.6h-1.6zM259.2 624h1.6v1.6h-1.6zM233.6 643.2h3.2v1.6h-3.2zM225.6 636.8h3.2v1.6h-3.2zM233.6 627.2h1.6v1.6h-1.6zM233.6 646.4h1.6v1.6h-1.6zM243.2 611.2h1.6v1.6h-1.6zM230.4 620.8h3.2v1.6h-3.2zM224 643.2h1.6v1.6h-1.6zM235.2 622.4h1.6v1.6h-1.6zM251.2 617.6h3.2v1.6h-3.2zM259.2 632h1.6v1.6h-1.6zM252.8 619.2h1.6v1.6h-1.6zM257.6 644.8h1.6v1.6h-1.6zM248 620.8h3.2v1.6h-3.2zM236.8 649.6h1.6v1.6h-1.6zM227.2 636.8h1.6v1.6h-1.6zM227.2 646.4h1.6v1.6h-1.6zM233.6 624h1.6v1.6h-1.6zM248 622.4h1.6v1.6h-1.6zM233.6 652.8h1.6v1.6h-1.6zM228.8 651.2h1.6v1.6h-1.6zM238.4 640h1.6v1.6h-1.6zM251.2 646.4h1.6v1.6h-1.6zM251.2 660.8h1.6v1.6h-1.6zM241.6 619.2h1.6v1.6h-1.6zM256 648h1.6v1.6h-1.6zM227.2 652.8h1.6v1.6h-1.6zM235.2 648h1.6v1.6h-1.6zM249.6 620.8h1.6v1.6h-1.6zM260.8 638.4h1.6v1.6h-1.6zM233.6 624h3.2v1.6h-3.2zM241.6 619.2h3.2v1.6h-3.2zM264 648h1.6v1.6h-1.6zM224 644.8h1.6v1.6h-1.6zM259.2 632h1.6v1.6h-1.6zM251.2 622.4h1.6v1.6h-1.6zM227.2 633.6h1.6v1.6h-1.6zM254.4 651.2h1.6v1.6h-1.6zM228.8 619.2h1.6v1.6h-1.6zM390.4 534.4h1.6v1.6h-1.6zM384 553.6h1.6v1.6h-1.6zM358.4 547.2h1.6v1.6h-1.6zM376 523.2h1.6v1.6h-1.6zM363.2 548.8h3.2v1.6h-3.2zM392 521.6h1.6v1.6h-1.6zM361.6 532.8h1.6v1.6h-1.6zM382.4 526.4h1.6v1.6h-1.6zM360 540.8h1.6v1.6h-1.6zM382.4 548.8h1.6v1.6h-1.6zM560 619.2h1.6v1.6h-1.6zM585.6 649.6h1.6v1.6h-1.6zM574.4 616h3.2v1.6h-3.2zM579.2 648h1.6v1.6h-1.6zM579.2 617.6h3.2v1.6h-3.2zM585.6 644.8h1.6v1.6h-1.6zM556.8 636.8h3.2v1.6h-3.2zM572.8 651.2h1.6v1.6h-1.6zM566.4 616h1.6v1.6h-1.6zM558.4 625.6h1.6v1.6h-1.6zM576 649.6h1.6v1.6h-1.6zM563.2 646.4h3.2v1.6h-3.2zM556.8 617.6h1.6v1.6h-1.6zM558.4 641.6h1.6v1.6h-1.6zM587.2 654.4h1.6v1.6h-1.6zM561.6 646.4h3.2v1.6h-3.2zM568 651.2h1.6v1.6h-1.6zM572.8 651.2h1.6v1.6h-1.6zM564.8 641.6h1.6v1.6h-1.6zM580.8 649.6h1.6v1.6h-1.6zM616 633.6h1.6v1.6h-1.6zM643.2 664h1.6v1.6h-1.6zM644.8 625.6h1.6v1.6h-1.6zM646.4 670.4h1.6v1.6h-1.6zM633.6 630.4h1.6v1.6h-1.6zM627.2 668.8h1.6v1.6h-1.6zM625.6 660.8h3.2v1.6h-3.2zM622.4 657.6h1.6v1.6h-1.6zM609.6 656h1.6v1.6h-1.6zM614.4 654.4h1.6v1.6h-1.6zM622.4 657.6h1.6v1.6h-1.6zM649.6 643.2h1.6v1.6h-1.6zM635.2 662.4h1.6v1.6h-1.6zM625.6 660.8h1.6v1.6h-1.6zM620.8 664h1.6v1.6h-1.6zM636.8 664h1.6v1.6h-1.6zM649.6 660.8h3.2v1.6h-3.2zM625.6 656h1.6v1.6h-1.6zM649.6 641.6h3.2v1.6h-3.2zM622.4 632h1.6v1.6h-1.6zM628.8 656h1.6v1.6h-1.6zM614.4 662.4h1.6v1.6h-1.6zM616 662.4h1.6v1.6h-1.6zM648 660.8h1.6v1.6h-1.6zM633.6 622.4h1.6v1.6h-1.6zM643.2 662.4h3.2v1.6h-3.2zM649.6 657.6h3.2v1.6h-3.2zM612.8 636.8h1.6v1.6h-1.6zM627.2 660.8h3.2v1.6h-3.2zM633.6 620.8h1.6v1.6h-1.6zM334.4 556.8h1.6v1.6h-1.6zM324.8 555.2h1.6v1.6h-1.6zM331.2 521.6h1.6v1.6h-1.6zM299.2 532.8h1.6v1.6h-1.6zM321.6 553.6h3.2v1.6h-3.2zM315.2 552h1.6v1.6h-1.6zM324.8 556.8h1.6v1.6h-1.6zM334.4 553.6h1.6v1.6h-1.6zM308.8 548.8h1.6v1.6h-1.6zM320 520h1.6v1.6h-1.6zM308.8 545.6h3.2v1.6h-3.2zM307.2 550.4h3.2v1.6h-3.2zM334.4 529.6h1.6v1.6h-1.6zM332.8 550.4h1.6v1.6h-1.6zM307.2 528h1.6v1.6h-1.6zM112 723.2h1.6v1.6h-1.6zM86.4 700.8h1.6v1.6h-1.6zM97.6 724.8h1.6v1.6h-1.6zM113.6 699.2h3.2v1.6h-3.2zM110.4 700.8h1.6v1.6h-1.6zM88 704h1.6v1.6h-1.6zM110.4 731.2h3.2v1.6h-3.2zM113.6 712h3.2v1.6h-3.2zM78.4 716.8h1.6v1.6h-1.6zM108.8 723.2h1.6v1.6h-1.6zM89.6 702.4h1.6v1.6h-1.6zM112 726.4h1.6v1.6h-1.6zM91.2 721.6h1.6v1.6h-1.6zM99.2 700.8h1.6v1.6h-1.6zM104 726.4h1.6v1.6h-1.6zM100.8 729.6h3.2v1.6h-3.2zM516.8 651.2h1.6v1.6h-1.6zM497.6 678.4h1.6v1.6h-1.6zM518.4 680h1.6v1.6h-1.6zM499.2 675.2h3.2v1.6h-3.2zM520 660.8h3.2v1.6h-3.2zM515.2 678.4h1.6v1.6h-1.6zM494.4 652.8h3.2v1.6h-3.2zM518.4 660.8h1.6v1.6h-1.6zM516.8 654.4h1.6v1.6h-1.6zM500.8 689.6h1.6v1.6h-1.6zM526.4 662.4h3.2v1.6h-3.2zM520 660.8h3.2v1.6h-3.2zM507.2 678.4h1.6v1.6h-1.6zM496 656h1.6v1.6h-1.6zM521.6 670.4h1.6v1.6h-1.6zM508.8 648h1.6v1.6h-1.6zM523.2 660.8h1.6v1.6h-1.6zM491.2 680h3.2v1.6h-3.2zM520 644.8h1.6v1.6h-1.6zM523.2 652.8h3.2v1.6h-3.2zM507.2 648h1.6v1.6h-1.6zM500.8 652.8h1.6v1.6h-1.6zM526.4 667.2h3.2v1.6h-3.2zM496 652.8h1.6v1.6h-1.6zM499.2 652.8h1.6v1.6h-1.6zM518.4 798.4h1.6v1.6h-1.6zM544 816h1.6v1.6h-1.6zM536 796.8h1.6v1.6h-1.6zM510.4 803.2h1.6v1.6h-1.6zM516.8 796.8h1.6v1.6h-1.6zM544 801.6h1.6v1.6h-1.6zM520 817.6h1.6v1.6h-1.6zM540.8 798.4h1.6v1.6h-1.6zM518.4 820.8h1.6v1.6h-1.6zM537.6 795.2h1.6v1.6h-1.6zM536 792h1.6v1.6h-1.6zM532.8 788.8h1.6v1.6h-1.6zM545.6 808h1.6v1.6h-1.6zM548.8 819.2h1.6v1.6h-1.6zM537.6 795.2h1.6v1.6h-1.6zM534.4 795.2h3.2v1.6h-3.2zM505.6 814.4h3.2v1.6h-3.2zM510.4 811.2h1.6v1.6h-1.6zM534.4 822.4h1.6v1.6h-1.6zM515.2 801.6h1.6v1.6h-1.6zM537.6 787.2h1.6v1.6h-1.6zM539.2 795.2h1.6v1.6h-1.6zM172.8 756.8h1.6v1.6h-1.6zM177.6 747.2h1.6v1.6h-1.6zM190.4 748.8h1.6v1.6h-1.6zM180.8 769.6h1.6v1.6h-1.6zM188.8 753.6h3.2v1.6h-3.2zM195.2 755.2h1.6v1.6h-1.6zM176 755.2h3.2v1.6h-3.2zM193.6 758.4h1.6v1.6h-1.6zM176 747.2h1.6v1.6h-1.6zM166.4 758.4h3.2v1.6h-3.2zM182.4 763.2h1.6v1.6h-1.6zM185.6 771.2h3.2v1.6h-3.2zM172.8 750.4h1.6v1.6h-1.6zM174.4 763.2h1.6v1.6h-1.6zM188.8 748.8h1.6v1.6h-1.6zM169.6 745.6h1.6v1.6h-1.6zM128 625.6h1.6v1.6h-1.6zM110.4 622.4h3.2v1.6h-3.2zM104 616h1.6v1.6h-1.6zM124.8 625.6h3.2v1.6h-3.2zM110.4 608h3.2v1.6h-3.2zM115.2 616h1.6v1.6h-1.6zM115.2 612.8h1.6v1.6h-1.6zM112 603.2h3.2v1.6h-3.2zM96 606.4h3.2v1.6h-3.2zM100.8 614.4h1.6v1.6h-1.6zM100.8 624h1.6v1.6h-1.6zM96 604.8h1.6v1.6h-1.6zM121.6 611.2h1.6v1.6h-1.6zM118.4 619.2h3.2v1.6h-3.2zM102.4 614.4h3.2v1.6h-3.2zM116.8 603.2h1.6v1.6h-1.6zM115.2 616h1.6v1.6h-1.6zM115.2 617.6h1.6v1.6h-1.6zM508.8 702.4h1.6v1.6h-1.6zM486.4 678.4h1.6v1.6h-1.6zM472 688h1.6v1.6h-1.6zM476.8 686.4h1.6v1.6h-1.6zM504 715.2h1.6v1.6h-1.6zM480 700.8h3.2v1.6h-3.2zM512 705.6h1.6v1.6h-1.6zM484.8 683.2h1.6v1.6h-1.6zM433.6 889.6h1.6v1.6h-1.6zM451.2 886.4h1.6v1.6h-1.6zM449.6 875.2h1.6v1.6h-1.6zM430.4 878.4h3.2v1.6h-3.2zM446.4 876.8h1.6v1.6h-1.6zM440 891.2h1.6v1.6h-1.6zM440 891.2h1.6v1.6h-1.6zM443.2 876.8h1.6v1.6h-1.6zM432 889.6h1.6v1.6h-1.6zM432 886.4h1.6v1.6h-1.6zM580.8 550.4h3.2v1.6h-3.2zM582.4 571.2h1.6v1.6h-1.6zM571.2 574.4h1.6v1.6h-1.6zM588.8 556.8h1.6v1.6h-1.6zM569.6 569.6h3.2v1.6h-3.2zM576 574.4h3.2v1.6h-3.2zM572.8 550.4h1.6v1.6h-1.6zM588.8 552h1.6v1.6h-1.6zM568 556.8h3.2v1.6h-3.2zM593.6 558.4h1.6v1.6h-1.6zM484.8 870.4h1.6v1.6h-1.6zM497.6 852.8h3.2v1.6h-3.2zM481.6 838.4h3.2v1.6h-3.2zM460.8 857.6h3.2v1.6h-3.2zM465.6 860.8h1.6v1.6h-1.6zM464 870.4h1.6v1.6h-1.6zM475.2 836.8h1.6v1.6h-1.6zM464 862.4h1.6v1.6h-1.6zM486.4 457.6h1.6v1.6h-1.6zM153.6 449.6h1.6v1.6h-1.6zM137.6 819.2h1.6v1.6h-1.6zM444.8 681.6h1.6v1.6h-1.6zM603.2 643.2h1.6v1.6h-1.6zM513.6 566.4h1.6v1.6h-1.6zM433.6 460.8h1.6v1.6h-1.6zM104 404.8h1.6v1.6h-1.6zM440 508.8h1.6v1.6h-1.6zM558.4 766.4h1.6v1.6h-1.6zM420.8 372.8h1.6v1.6h-1.6zM153.6 644.8h1.6v1.6h-1.6zM113.6 553.6h1.6v1.6h-1.6zM350.4 443.2h1.6v1.6h-1.6zM302.4 721.6h1.6v1.6h-1.6zM264 707.2h1.6v1.6h-1.6zM190.4 750.4h1.6v1.6h-1.6zM380.8 430.4h1.6v1.6h-1.6zM275.2 769.6h1.6v1.6h-1.6zM140.8 569.6h1.6v1.6h-1.6zM318.4 816h1.6v1.6h-1.6zM96 851.2h1.6v1.6h-1.6zM217.6 851.2h1.6v1.6h-1.6zM412.8 744h1.6v1.6h-1.6zM587.2 712h1.6v1.6h-1.6zM528 392h1.6v1.6h-1.6zM16 812.8h1.6v1.6h-1.6zM44.8 808h1.6v1.6h-1.6zM216 835.2h1.6v1.6h-1.6zM144 427.2h1.6v1.6h-1.6zM150.4 801.6h1.6v1.6h-1.6zM249.6 838.4h1.6v1.6h-1.6zM393.6 795.2h1.6v1.6h-1.6zM323.2 728h1.6v1.6h-1.6zM201.6 400h1.6v1.6h-1.6zM379.2 835.2h1.6v1.6h-1.6zM110.4 571.2h1.6v1.6h-1.6zM360 681.6h1.6v1.6h-1.6zM115.2 644.8h1.6v1.6h-1.6zM320 880h1.6v1.6h-1.6zM464 836.8h1.6v1.6h-1.6zM652.8 705.6h1.6v1.6h-1.6zM107.2 587.2h1.6v1.6h-1.6zM507.2 419.2h1.6v1.6h-1.6zM260.8 552h1.6v1.6h-1.6zM123.2 356.8h1.6v1.6h-1.6zM462.4 788.8h1.6v1.6h-1.6zM622.4 662.4h1.6v1.6h-1.6zM129.6 830.4h1.6v1.6h-1.6zM648 859.2h1.6v1.6h-1.6zM382.4 825.6h1.6v1.6h-1.6zM660.8 827.2h1.6v1.6h-1.6zM56 419.2h1.6v1.6h-1.6zM208 560h1.6v1.6h-1.6zM108.8 884.8h1.6v1.6h-1.6zM531.2 708.8h1.6v1.6h-1.6zM643.2 520h1.6v1.6h-1.6zM478.4 860.8h1.6v1.6h-1.6zM65.6 672h1.6v1.6h-1.6zM536 353.6h1.6v1.6h-1.6zM596.8 572.8h1.6v1.6h-1.6zM121.6 808h1.6v1.6h-1.6zM136 497.6h1.6v1.6h-1.6zM352 843.2h1.6v1.6h-1.6zM332.8 836.8h1.6v1.6h-1.6zM44.8 475.2h1.6v1.6h-1.6zM212.8 588.8h1.6v1.6h-1.6zM294.4 368h1.6v1.6h-1.6zM504 758.4h1.6v1.6h-1.6zM312 388.8h1.6v1.6h-1.6zM372.8 416h1.6v1.6h-1.6zM654.4 684.8h1.6v1.6h-1.6zM494.4 356.8h1.6v1.6h-1.6zM260.8 836.8h1.6v1.6h-1.6zM260.8 364.8h1.6v1.6h-1.6zM452.8 723.2h1.6v1.6h-1.6zM230.4 780.8h1.6v1.6h-1.6zM571.2 771.2h1.6v1.6h-1.6zM278.4 531.2h1.6v1.6h-1.6zM630.4 736h1.6v1.6h-1.6zM374.4 611.2h1.6v1.6h-1.6zM185.6 841.6h1.6v1.6h-1.6zM614.4 392h1.6v1.6h-1.6zM448 518.4h1.6v1.6h-1.6zM345.6 408h1.6v1.6h-1.6zM544 782.4h1.6v1.6h-1.6zM80 385.6h1.6v1.6h-1.6zM256 428.8h1.6v1.6h-1.6zM537.6 768h1.6v1.6h-1.6zM579.2 350.4h1.6v1.6h-1.6z" fill="#d000d8"/>
<path d="M555.2 556.8h1.6v1.6h-1.6zM552 545.6h1.6v1.6h-1.6zM548.8 552h1.6v1.6h-1.6zM547.2 548.8h3.2v1.6h-3.2zM548.8 547.2h1.6v1.6h-1.6zM548.8 548.8h1.6v1.6h-1.6zM552 556.8h3.2v1.6h-3.2zM552 548.8h1.6v1.6h-1.6zM552 542.4h3.2v1.6h-3.2zM550.4 553.6h3.2v1.6h-3.2zM550.4 545.6h1.6v1.6h-1.6zM558.4 550.4h3.2v1.6h-3.2zM552 548.8h3.2v1.6h-3.2zM553.6 534.4h1.6v1.6h-1.6zM548.8 547.2h3.2v1.6h-3.2zM548.8 540.8h3.2v1.6h-3.2zM564.8 544h1.6v1.6h-1.6zM547.2 544h1.6v1.6h-1.6zM552 550.4h1.6v1.6h-1.6zM544 540.8h1.6v1.6h-1.6zM540.8 547.2h3.2v1.6h-3.2zM550.4 542.4h1.6v1.6h-1.6zM558.4 548.8h1.6v1.6h-1.6zM550.4 547.2h1.6v1.6h-1.6zM550.4 553.6h1.6v1.6h-1.6zM555.2 542.4h1.6v1.6h-1.6zM556.8 550.4h1.6v1.6h-1.6zM553.6 539.2h1.6v1.6h-1.6zM553.6 539.2h1.6v1.6h-1.6zM552 550.4h1.6v1.6h-1.6zM552 552h1.6v1.6h-1.6zM552 537.6h1.6v1.6h-1.6zM553.6 553.6h1.6v1.6h-1.6zM550.4 545.6h1.6v1.6h-1.6zM552 547.2h3.2v1.6h-3.2zM552 540.8h1.6v1.6h-1.6zM564.8 547.2h1.6v1.6h-1.6zM552 545.6h1.6v1.6h-1.6zM548.8 548.8h1.6v1.6h-1.6zM553.6 550.4h3.2v1.6h-3.2zM555.2 544h1.6v1.6h-1.6zM553.6 544h1.6v1.6h-1.6zM550.4 547.2h1.6v1.6h-1.6zM545.6 555.2h3.2v1.6h-3.2zM561.6 548.8h1.6v1.6h-1.6zM550.4 544h3.2v1.6h-3.2zM552 555.2h1.6v1.6h-1.6zM548.8 552h3.2v1.6h-3.2zM552 542.4h1.6v1.6h-1.6zM545.6 548.8h1.6v1.6h-1.6zM646.4 672h1.6v1.6h-1.6zM633.6 662.4h3.2v1.6h-3.2zM656 667.2h3.2v1.6h-3.2zM646.4 670.4h1.6v1.6h-1.6zM648 667.2h1.6v1.6h-1.6zM657.6 675.2h1.6v1.6h-1.6zM636.8 672h3.2v1.6h-3.2zM648 668.8h1.6v1.6h-1.6zM652.8 675.2h3.2v1.6h-3.2zM652.8 676.8h1.6v1.6h-1.6zM638.4 681.6h3.2v1.6h-3.2zM644.8 673.6h3.2v1.6h-3.2zM635.2 664h1.6v1.6h-1.6zM644.8 678.4h1.6v1.6h-1.6zM643.2 675.2h1.6v1.6h-1.6zM633.6 681.6h3.2v1.6h-3.2zM654.4 673.6h1.6v1.6h-1.6zM652.8 676.8h3.2v1.6h-3.2zM638.4 672h1.6v1.6h-1.6zM649.6 667.2h1.6v1.6h-1.6zM640 664h1.6v1.6h-1.6zM632 681.6h1.6v1.6h-1.6zM651.2 676.8h1.6v1.6h-1.6zM654.4 675.2h1.6v1.6h-1.6zM638.4 678.4h3.2v1.6h-3.2zM644.8 683.2h1.6v1.6h-1.6zM646.4 680h1.6v1.6h-1.6zM648 678.4h1.6v1.6h-1.6zM651.2 664h3.2v1.6h-3.2zM638.4 672h1.6v1.6h-1.6zM649.6 670.4h3.2v1.6h-3.2zM644.8 676.8h1.6v1.6h-1.6zM643.2 667.2h1.6v1.6h-1.6zM641.6 672h1.6v1.6h-1.6zM636.8 668.8h1.6v1.6h-1.6zM640 673.6h1.6v1.6h-1.6zM643.2 665.6h1.6v1.6h-1.6zM641.6 683.2h3.2v1.6h-3.2zM648 675.2h3.2v1.6h-3.2zM644.8 657.6h3.2v1.6h-3.2zM641.6 673.6h1.6v1.6h-1.6zM627.2 664h1.6v1.6h-1.6zM649.6 665.6h1.6v1.6h-1.6zM641.6 670.4h1.6v1.6h-1.6zM646.4 676.8h3.2v1.6h-3.2zM638.4 676.8h3.2v1.6h-3.2zM641.6 668.8h3.2v1.6h-3.2zM638.4 675.2h3.2v1.6h-3.2zM640 673.6h3.2v1.6h-3.2zM649.6 678.4h1.6v1.6h-1.6zM444.8 707.2h3.2v1.6h-3.2zM441.6 707.2h1.6v1.6h-1.6zM443.2 704h3.2v1.6h-3.2zM443.2 704h1.6v1.6h-1.6zM448 716.8h1.6v1.6h-1.6zM451.2 697.6h3.2v1.6h-3.2zM460.8 708.8h1.6v1.6h-1.6zM457.6 707.2h1.6v1.6h-1.6zM446.4 704h3.2v1.6h-3.2zM451.2 702.4h1.6v1.6h-1.6zM448 707.2h1.6v1.6h-1.6zM454.4 715.2h1.6v1.6h-1.6zM452.8 700.8h3.2v1.6h-3.2zM449.6 716.8h1.6v1.6h-1.6zM452.8 710.4h1.6v1.6h-1.6zM448 707.2h1.6v1.6h-1.6zM440 715.2h1.6v1.6h-1.6zM443.2 715.2h1.6v1.6h-1.6zM452.8 710.4h1.6v1.6h-1.6zM448 705.6h3.2v1.6h-3.2zM454.4 704h1.6v1.6h-1.6zM456 705.6h1.6v1.6h-1.6zM444.8 707.2h1.6v1.6h-1.6zM436.8 697.6h1.6v1.6h-1.6zM444.8 708.8h3.2v1.6h-3.2zM449.6 708.8h3.2v1.6h-3.2zM451.2 712h3.2v1.6h-3.2zM451.2 697.6h1.6v1.6h-1.6zM454.4 712h1.6v1.6h-1.6zM454.4 716.8h1.6v1.6h-1.6zM449.6 705.6h1.6v1.6h-1.6zM459.2 710.4h3.2v1.6h-3.2zM451.2 692.8h1.6v1.6h-1.6zM454.4 708.8h1.6v1.6h-1.6zM449.6 716.8h1.6v1.6h-1.6zM448 710.4h3.2v1.6h-3.2zM449.6 705.6h1.6v1.6h-1.6zM444.8 705.6h3.2v1.6h-3.2zM446.4 705.6h1.6v1.6h-1.6zM449.6 708.8h1.6v1.6h-1.6zM456 713.6h1.6v1.6h-1.6zM452.8 707.2h1.6v1.6h-1.6zM451.2 699.2h1.6v1.6h-1.6zM438.4 704h3.2v1.6h-3.2zM441.6 705.6h1.6v1.6h-1.6zM459.2 710.4h1.6v1.6h-1.6zM459.2 708.8h1.6v1.6h-1.6zM451.2 712h1.6v1.6h-1.6zM444.8 708.8h1.6v1.6h-1.6zM441.6 705.6h1.6v1.6h-1.6zM630.4 780.8h1.6v1.6h-1.6zM617.6 785.6h1.6v1.6h-1.6zM619.2 771.2h1.6v1.6h-1.6zM636.8 769.6h1.6v1.6h-1.6zM622.4 776h1.6v1.6h-1.6zM622.4 784h1.6v1.6h-1.6zM619.2 779.2h1.6v1.6h-1.6zM625.6 787.2h1.6v1.6h-1.6zM640 766.4h1.6v1.6h-1.6zM628.8 780.8h1.6v1.6h-1.6zM622.4 780.8h1.6v1.6h-1.6zM625.6 768h1.6v1.6h-1.6zM617.6 758.4h1.6v1.6h-1.6zM617.6 779.2h1.6v1.6h-1.6zM619.2 793.6h1.6v1.6h-1.6zM611.2 766.4h1.6v1.6h-1.6zM625.6 758.4h1.6v1.6h-1.6zM620.8 771.2h1.6v1.6h-1.6zM614.4 769.6h1.6v1.6h-1.6zM640 784h1.6v1.6h-1.6zM622.4 777.6h1.6v1.6h-1.6zM633.6 776h1.6v1.6h-1.6zM622.4 763.2h1.6v1.6h-1.6zM630.4 776h1.6v1.6h-1.6zM627.2 772.8h3.2v1.6h-3.2zM627.2 792h3.2v1.6h-3.2zM635.2 764.8h1.6v1.6h-1.6zM633.6 787.2h3.2v1.6h-3.2zM633.6 779.2h3.2v1.6h-3.2zM627.2 776h1.6v1.6h-1.6zM624 784h1.6v1.6h-1.6zM624 766.4h1.6v1.6h-1.6zM633.6 772.8h1.6v1.6h-1.6zM630.4 769.6h1.6v1.6h-1.6zM622.4 784h3.2v1.6h-3.2zM628.8 776h1.6v1.6h-1.6zM628.8 780.8h1.6v1.6h-1.6zM620.8 785.6h1.6v1.6h-1.6zM633.6 764.8h1.6v1.6h-1.6zM643.2 777.6h1.6v1.6h-1.6zM627.2 782.4h1.6v1.6h-1.6zM622.4 787.2h1.6v1.6h-1.6zM632 784h1.6v1.6h-1.6zM622.4 777.6h3.2v1.6h-3.2zM648 771.2h1.6v1.6h-1.6zM638.4 777.6h3.2v1.6h-3.2zM633.6 787.2h1.6v1.6h-1.6zM636.8 784h1.6v1.6h-1.6zM624 764.8h1.6v1.6h-1.6zM628.8 785.6h3.2v1.6h-3.2zM649.6 852.8h1.6v1.6h-1.6zM649.6 865.6h3.2v1.6h-3.2zM651.2 859.2h3.2v1.6h-3.2zM660.8 868.8h3.2v1.6h-3.2zM665.6 860.8h1.6v1.6h-1.6zM654.4 865.6h1.6v1.6h-1.6zM640 865.6h1.6v1.6h-1.6zM656 856h3.2v1.6h-3.2zM641.6 851.2h1.6v1.6h-1.6zM657.6 864h1.6v1.6h-1.6zM656 868.8h1.6v1.6h-1.6zM651.2 854.4h3.2v1.6h-3.2zM662.4 851.2h1.6v1.6h-1.6zM652.8 867.2h1.6v1.6h-1.6zM659.2 854.4h3.2v1.6h-3.2zM651.2 859.2h1.6v1.6h-1.6zM670.4 848h1.6v1.6h-1.6zM662.4 864h3.2v1.6h-3.2zM651.2 852.8h1.6v1.6h-1.6zM649.6 867.2h1.6v1.6h-1.6zM654.4 872h3.2v1.6h-3.2zM659.2 854.4h3.2v1.6h-3.2zM659.2 864h1.6v1.6h-1.6zM657.6 864h1.6v1.6h-1.6zM654.4 868.8h1.6v1.6h-1.6zM660.8 875.2h3.2v1.6h-3.2zM654.4 873.6h1.6v1.6h-1.6zM648 864h1.6v1.6h-1.6zM660.8 867.2h1.6v1.6h-1.6zM657.6 849.6h3.2v1.6h-3.2zM651.2 867.2h1.6v1.6h-1.6zM659.2 868.8h1.6v1.6h-1.6zM657.6 856h1.6v1.6h-1.6zM652.8 864h3.2v1.6h-3.2zM648 860.8h1.6v1.6h-1.6zM656 868.8h3.2v1.6h-3.2zM646.4 854.4h1.6v1.6h-1.6zM640 851.2h1.6v1.6h-1.6zM646.4 867.2h1.6v1.6h-1.6zM660.8 868.8h1.6v1.6h-1.6zM648 865.6h1.6v1.6h-1.6zM662.4 862.4h3.2v1.6h-3.2zM646.4 864h1.6v1.6h-1.6zM656 867.2h1.6v1.6h-1.6zM662.4 854.4h1.6v1.6h-1.6zM659.2 865.6h1.6v1.6h-1.6zM651.2 857.6h1.6v1.6h-1.6zM659.2 854.4h1.6v1.6h-1.6zM654.4 857.6h1.6v1.6h-1.6zM644.8 852.8h1.6v1.6h-1.6z" fill="#5a00e0"/>
<path d="M443.2 707.2h1.6v1.6h-1.6zM449.6 705.6h1.6v1.6h-1.6zM454.4 708.8h1.6v1.6h-1.6zM452.8 707.2h1.6v1.6h-1.6zM454.4 718.4h1.6v1.6h-1.6zM441.6 705.6h1.6v1.6h-1.6zM452.8 704h1.6v1.6h-1.6zM448 702.4h1.6v1.6h-1.6zM452.8 710.4h1.6v1.6h-1.6zM446.4 707.2h1.6v1.6h-1.6zM635.2 771.2h1.6v1.6h-1.6zM625.6 772.8h1.6v1.6h-1.6zM624 782.4h3.2v1.6h-3.2zM620.8 779.2h3.2v1.6h-3.2zM614.4 771.2h3.2v1.6h-3.2zM620.8 771.2h1.6v1.6h-1.6zM627.2 772.8h1.6v1.6h-1.6zM625.6 776h1.6v1.6h-1.6zM643.2 776h3.2v1.6h-3.2zM627.2 788.8h1.6v1.6h-1.6zM638.4 681.6h1.6v1.6h-1.6zM643.2 670.4h3.2v1.6h-3.2zM643.2 659.2h1.6v1.6h-1.6zM651.2 667.2h3.2v1.6h-3.2zM644.8 675.2h1.6v1.6h-1.6zM649.6 683.2h1.6v1.6h-1.6zM648 668.8h1.6v1.6h-1.6zM643.2 681.6h3.2v1.6h-3.2zM640 678.4h3.2v1.6h-3.2zM640 668.8h1.6v1.6h-1.6zM179.2 420.8h1.6v1.6h-1.6zM177.6 420.8h1.6v1.6h-1.6zM174.4 424h1.6v1.6h-1.6zM174.4 422.4h1.6v1.6h-1.6zM177.6 424h1.6v1.6h-1.6zM174.4 424h1.6v1.6h-1.6zM176 425.6h1.6v1.6h-1.6zM176 427.2h3.2v1.6h-3.2zM179.2 420.8h3.2v1.6h-3.2zM176 424h3.2v1.6h-3.2zM654.4 859.2h1.6v1.6h-1.6zM657.6 859.2h3.2v1.6h-3.2zM654.4 867.2h1.6v1.6h-1.6zM656 860.8h1.6v1.6h-1.6zM648 856h1.6v1.6h-1.6zM656 865.6h1.6v1.6h-1.6zM648 856h1.6v1.6h-1.6zM651.2 854.4h1.6v1.6h-1.6zM646.4 856h1.6v1.6h-1.6zM657.6 859.2h1.6v1.6h-1.6zM547.2 548.8h1.6v1.6h-1.6zM555.2 547.2h3.2v1.6h-3.2zM555.2 544h3.2v1.6h-3.2zM548.8 550.4h1.6v1.6h-1.6zM550.4 540.8h1.6v1.6h-1.6zM553.6 545.6h1.6v1.6h-1.6zM555.2 545.6h3.2v1.6h-3.2zM544 547.2h1.6v1.6h-1.6zM553.6 552h3.2v1.6h-3.2zM552 550.4h1.6v1.6h-1.6z" fill="#ffc8ff"/>
<path d="M473.6 646.4h1.6v1.6h-1.6zM470.4 635.2h3.2v1.6h-3.2zM488 643.2h1.6v1.6h-1.6zM478.4 643.2h1.6v1.6h-1.6zM481.6 636.8h1.6v1.6h-1.6zM481.6 640h3.2v1.6h-3.2zM492.8 638.4h3.2v1.6h-3.2zM486.4 643.2h1.6v1.6h-1.6zM481.6 644.8h1.6v1.6h-1.6zM465.6 644.8h1.6v1.6h-1.6zM486.4 644.8h1.6v1.6h-1.6zM478.4 644.8h3.2v1.6h-3.2zM489.6 649.6h3.2v1.6h-3.2zM486.4 646.4h1.6v1.6h-1.6zM484.8 641.6h1.6v1.6h-1.6zM476.8 641.6h1.6v1.6h-1.6zM156.8 881.6h3.2v1.6h-3.2zM152 880h3.2v1.6h-3.2zM156.8 883.2h3.2v1.6h-3.2zM156.8 886.4h1.6v1.6h-1.6zM150.4 880h3.2v1.6h-3.2zM160 883.2h1.6v1.6h-1.6zM158.4 881.6h1.6v1.6h-1.6zM155.2 884.8h1.6v1.6h-1.6zM156.8 878.4h1.6v1.6h-1.6zM152 876.8h1.6v1.6h-1.6zM158.4 884.8h1.6v1.6h-1.6zM155.2 880h1.6v1.6h-1.6zM148.8 876.8h1.6v1.6h-1.6zM155.2 873.6h3.2v1.6h-3.2zM156.8 876.8h1.6v1.6h-1.6zM153.6 876.8h1.6v1.6h-1.6zM153.6 878.4h3.2v1.6h-3.2zM158.4 884.8h1.6v1.6h-1.6zM156.8 886.4h1.6v1.6h-1.6zM163.2 880h1.6v1.6h-1.6zM150.4 881.6h3.2v1.6h-3.2zM156.8 876.8h1.6v1.6h-1.6zM158.4 872h1.6v1.6h-1.6zM158.4 880h1.6v1.6h-1.6zM156.8 888h1.6v1.6h-1.6zM150.4 884.8h1.6v1.6h-1.6zM158.4 878.4h1.6v1.6h-1.6zM152 878.4h1.6v1.6h-1.6zM160 888h1.6v1.6h-1.6zM153.6 878.4h1.6v1.6h-1.6zM531.2 878.4h3.2v1.6h-3.2zM550.4 860.8h3.2v1.6h-3.2zM518.4 865.6h3.2v1.6h-3.2zM537.6 849.6h1.6v1.6h-1.6zM536 857.6h3.2v1.6h-3.2zM520 857.6h1.6v1.6h-1.6zM524.8 846.4h3.2v1.6h-3.2zM526.4 865.6h1.6v1.6h-1.6zM510.4 884.8h1.6v1.6h-1.6zM536 852.8h1.6v1.6h-1.6zM536 862.4h3.2v1.6h-3.2zM518.4 867.2h1.6v1.6h-1.6zM523.2 860.8h1.6v1.6h-1.6zM528 868.8h1.6v1.6h-1.6zM523.2 848h3.2v1.6h-3.2zM534.4 856h1.6v1.6h-1.6zM523.2 867.2h1.6v1.6h-1.6zM526.4 862.4h3.2v1.6h-3.2zM190.4 393.6h1.6v1.6h-1.6zM187.2 408h1.6v1.6h-1.6zM184 417.6h1.6v1.6h-1.6zM179.2 420.8h1.6v1.6h-1.6zM171.2 398.4h1.6v1.6h-1.6zM179.2 406.4h1.6v1.6h-1.6zM192 404.8h1.6v1.6h-1.6zM172.8 406.4h1.6v1.6h-1.6zM553.6 838.4h1.6v1.6h-1.6zM590.4 833.6h1.6v1.6h-1.6zM595.2 868.8h3.2v1.6h-3.2zM566.4 822.4h1.6v1.6h-1.6zM561.6 843.2h1.6v1.6h-1.6zM560 841.6h1.6v1.6h-1.6zM596.8 840h1.6v1.6h-1.6zM574.4 825.6h1.6v1.6h-1.6zM584 835.2h3.2v1.6h-3.2zM574.4 812.8h3.2v1.6h-3.2zM528 518.4h1.6v1.6h-1.6zM542.4 528h1.6v1.6h-1.6zM521.6 545.6h3.2v1.6h-3.2zM529.6 528h1.6v1.6h-1.6zM542.4 536h1.6v1.6h-1.6zM523.2 529.6h1.6v1.6h-1.6zM620.8 776h1.6v1.6h-1.6zM630.4 771.2h3.2v1.6h-3.2zM628.8 774.4h1.6v1.6h-1.6zM625.6 771.2h1.6v1.6h-1.6zM627.2 779.2h1.6v1.6h-1.6zM616 779.2h3.2v1.6h-3.2zM657.6 544h1.6v1.6h-1.6zM460.8 793.6h1.6v1.6h-1.6zM244.8 656h1.6v1.6h-1.6zM36.8 830.4h1.6v1.6h-1.6zM227.2 366.4h1.6v1.6h-1.6zM393.6 881.6h1.6v1.6h-1.6zM414.4 792h1.6v1.6h-1.6zM136 438.4h1.6v1.6h-1.6zM267.2 884.8h1.6v1.6h-1.6zM81.6 667.2h1.6v1.6h-1.6zM414.4 630.4h1.6v1.6h-1.6zM556.8 500.8h1.6v1.6h-1.6zM52.8 675.2h1.6v1.6h-1.6zM180.8 694.4h1.6v1.6h-1.6zM470.4 398.4h1.6v1.6h-1.6zM409.6 720h1.6v1.6h-1.6zM32 808h1.6v1.6h-1.6zM448 723.2h1.6v1.6h-1.6zM544 540.8h1.6v1.6h-1.6zM345.6 505.6h1.6v1.6h-1.6zM475.2 563.2h1.6v1.6h-1.6zM540.8 473.6h1.6v1.6h-1.6z" fill="#00ffff"/>
</g>
<rect x="146.7" y="378.4" width="80.3" height="78.2" fill="none" stroke="#fff" stroke-width="2"/>
<rect x="445.4" y="613.0" width="72.6" height="60.8" fill="none" stroke="#2fc4c4" stroke-width="2"/>
<rect x="114.9" y="767.8" width="91.6" height="79.1" fill="none" stroke="#d64fd6" stroke-width="2.6"/>
<rect x="43.3" y="858.5" width="101.7" height="2.8" fill="#fff"/>
<text x="92.5" y="880.3" font-size="16.5" text-anchor="middle" fill="#fff" textLength="50.0" lengthAdjust="spacingAndGlyphs">35 µm</text>
<text x="25.0" y="379.3" font-size="29" font-weight="bold" fill="#fff">b</text>
<rect x="742.2" y="349.0" width="178.8" height="152.9" fill="#2fc4c4" rx="2"/>
<rect x="748.2" y="355.0" width="166.8" height="140.9" fill="#000"/>
<clipPath id="i1"><rect x="748.2" y="355.0" width="166.8" height="140.9"/></clipPath>
<g clip-path="url(#i1)">
<g fill="#0000b8" filter="url(#rough)">
<ellipse cx="776.5" cy="446.0" rx="31.6" ry="50.1"/>
<ellipse cx="818.7" cy="369.6" rx="50.1" ry="19.8"/>
<ellipse cx="830.5" cy="417.0" rx="25.0" ry="25.0"/>
<ellipse cx="887.2" cy="472.4" rx="29.0" ry="27.7"/>
<ellipse cx="787.0" cy="485.6" rx="39.6" ry="15.8"/>
</g>
<path d="M858 410.8h2.6v2.6h-2.6zM819 436.8h5.2v2.6h-5.2zM855.4 429h2.6v2.6h-2.6zM852.8 434.2h5.2v2.6h-5.2zM858 429h2.6v2.6h-2.6zM824.2 397.8h2.6v2.6h-2.6zM845 429h2.6v2.6h-2.6zM847.6 408.2h2.6v2.6h-2.6zM837.2 436.8h2.6v2.6h-2.6zM858 421.2h5.2v2.6h-5.2zM860.6 421.2h2.6v2.6h-2.6zM829.4 444.6h2.6v2.6h-2.6zM803.4 434.2h2.6v2.6h-2.6zM816.4 442h2.6v2.6h-2.6zM803.4 429h2.6v2.6h-2.6zM845 405.6h5.2v2.6h-5.2zM826.8 397.8h2.6v2.6h-2.6zM816.4 374.4h5.2v2.6h-5.2zM834.6 397.8h2.6v2.6h-2.6zM829.4 408.2h2.6v2.6h-2.6zM826.8 382.2h2.6v2.6h-2.6zM837.2 390h2.6v2.6h-2.6z" fill="#00ffff"/>
<path d="M871 447.2h2.6v2.6h-2.6zM889.2 429h2.6v2.6h-2.6zM889.2 426.4h2.6v2.6h-2.6zM876.2 413.4h2.6v2.6h-2.6zM886.6 423.8h2.6v2.6h-2.6zM881.4 452.4h2.6v2.6h-2.6zM884 434.2h2.6v2.6h-2.6zM876.2 436.8h2.6v2.6h-2.6zM886.6 423.8h2.6v2.6h-2.6zM897 413.4h2.6v2.6h-2.6zM894.4 447.2h5.2v2.6h-5.2zM881.4 429h2.6v2.6h-2.6zM902.2 431.6h5.2v2.6h-5.2zM904.8 439.4h2.6v2.6h-2.6zM910 465.4h5.2v2.6h-5.2zM902.2 475.8h2.6v2.6h-2.6zM886.6 447.2h2.6v2.6h-2.6zM899.6 465.4h2.6v2.6h-2.6zM907.4 457.6h2.6v2.6h-2.6zM894.4 470.6h2.6v2.6h-2.6zM876.2 465.4h2.6v2.6h-2.6zM889.2 470.6h2.6v2.6h-2.6zM821.6 470.6h2.6v2.6h-2.6zM816.4 462.8h2.6v2.6h-2.6zM811.2 470.6h5.2v2.6h-5.2zM821.6 460.2h5.2v2.6h-5.2z" fill="#ff00ff"/>
<path d="M873.6 478.4h2.6v2.6h-2.6zM899.6 462.8h2.6v2.6h-2.6zM878.8 473.2h5.2v2.6h-5.2zM886.6 483.6h2.6v2.6h-2.6zM899.6 460.2h5.2v2.6h-5.2zM886.6 486.2h2.6v2.6h-2.6zM889.2 475.8h2.6v2.6h-2.6zM889.2 475.8h2.6v2.6h-2.6zM761.8 481h5.2v2.6h-5.2zM777.4 478.4h2.6v2.6h-2.6zM764.4 483.6h2.6v2.6h-2.6z" fill="#7a20ff"/>
</g>
<rect x="742.2" y="525.9" width="180.6" height="178.0" fill="#fff" stroke="#111" stroke-width="1" rx="3.5"/>
<rect x="748.0" y="532.0" width="169.2" height="166.0" fill="#000" rx="2"/>
<rect x="748.5" y="532.5" width="168.2" height="165.0" fill="#000"/>
<clipPath id="i2"><rect x="748.5" y="532.5" width="168.2" height="165.0"/></clipPath>
<g clip-path="url(#i2)">
<g fill="#0000b8" filter="url(#rough)">
<ellipse cx="834.5" cy="604.2" rx="39.6" ry="42.2"/>
<ellipse cx="762.0" cy="614.8" rx="15.8" ry="36.9"/>
<ellipse cx="839.7" cy="678.1" rx="29.0" ry="26.4"/>
<ellipse cx="889.8" cy="538.3" rx="21.1" ry="10.5"/>
<ellipse cx="905.7" cy="686.0" rx="15.8" ry="13.2"/>
<ellipse cx="779.1" cy="672.8" rx="21.1" ry="21.1"/>
</g>
<path d="M876.2 629.2h2.6v2.6h-2.6zM813.8 631.8h2.6v2.6h-2.6zM826.8 561.6h2.6v2.6h-2.6zM795.6 566.8h2.6v2.6h-2.6zM852.8 634.4h2.6v2.6h-2.6zM798.2 598h2.6v2.6h-2.6zM837.2 569.4h2.6v2.6h-2.6zM819 629.2h5.2v2.6h-5.2zM785.2 600.6h2.6v2.6h-2.6zM845 647.4h2.6v2.6h-2.6zM834.6 553.8h5.2v2.6h-5.2zM876.2 603.2h2.6v2.6h-2.6zM782.6 605.8h2.6v2.6h-2.6zM806 626.6h5.2v2.6h-5.2zM800.8 613.6h5.2v2.6h-5.2zM798.2 652.6h2.6v2.6h-2.6zM800.8 624h2.6v2.6h-2.6zM876.2 595.4h2.6v2.6h-2.6zM803.4 582.4h2.6v2.6h-2.6zM868.4 634.4h2.6v2.6h-2.6zM826.8 556.4h2.6v2.6h-2.6zM795.6 564.2h2.6v2.6h-2.6zM819 644.8h2.6v2.6h-2.6zM824.2 644.8h2.6v2.6h-2.6zM871 595.4h5.2v2.6h-5.2zM832 639.6h2.6v2.6h-2.6zM798.2 626.6h5.2v2.6h-5.2zM790.4 595.4h2.6v2.6h-2.6zM876.2 611h2.6v2.6h-2.6zM819 634.4h2.6v2.6h-2.6zM816.4 590.2h2.6v2.6h-2.6zM806 639.6h2.6v2.6h-2.6zM868.4 577.2h5.2v2.6h-5.2zM845 644.8h2.6v2.6h-2.6zM852.8 577.2h2.6v2.6h-2.6zM787.8 590.2h2.6v2.6h-2.6zM811.2 590.2h2.6v2.6h-2.6zM824.2 634.4h2.6v2.6h-2.6zM834.6 566.8h5.2v2.6h-5.2zM858 590.2h2.6v2.6h-2.6zM878.8 618.8h5.2v2.6h-5.2zM868.4 592.8h2.6v2.6h-2.6zM798.2 611h2.6v2.6h-2.6zM798.2 595.4h2.6v2.6h-2.6zM847.6 553.8h5.2v2.6h-5.2zM850.2 631.8h2.6v2.6h-2.6zM813.8 582.4h5.2v2.6h-5.2zM842.4 642.2h2.6v2.6h-2.6zM858 577.2h2.6v2.6h-2.6zM884 600.6h2.6v2.6h-2.6zM845 566.8h2.6v2.6h-2.6zM847.6 637h5.2v2.6h-5.2zM816.4 572h5.2v2.6h-5.2zM800.8 598h2.6v2.6h-2.6zM873.6 579.8h2.6v2.6h-2.6zM834.6 647.4h2.6v2.6h-2.6zM813.8 574.6h2.6v2.6h-2.6zM868.4 600.6h2.6v2.6h-2.6zM863.2 634.4h5.2v2.6h-5.2zM803.4 566.8h5.2v2.6h-5.2zM881.4 616.2h2.6v2.6h-2.6zM832 566.8h5.2v2.6h-5.2zM839.8 629.2h2.6v2.6h-2.6zM806 590.2h2.6v2.6h-2.6zM863.2 605.8h5.2v2.6h-5.2zM847.6 650h2.6v2.6h-2.6zM868.4 566.8h2.6v2.6h-2.6zM806 621.4h2.6v2.6h-2.6zM842.4 631.8h2.6v2.6h-2.6zM842.4 631.8h2.6v2.6h-2.6zM806 559h2.6v2.6h-2.6zM865.8 592.8h2.6v2.6h-2.6zM858 639.6h2.6v2.6h-2.6zM855.4 569.4h5.2v2.6h-5.2zM858 624h2.6v2.6h-2.6zM824.2 650h2.6v2.6h-2.6zM839.8 551.2h5.2v2.6h-5.2zM798.2 613.6h5.2v2.6h-5.2zM863.2 569.4h2.6v2.6h-2.6zM871 595.4h2.6v2.6h-2.6zM868.4 642.2h2.6v2.6h-2.6zM821.6 587.6h2.6v2.6h-2.6zM798.2 559h5.2v2.6h-5.2zM829.4 639.6h5.2v2.6h-5.2zM863.2 569.4h2.6v2.6h-2.6zM821.6 639.6h2.6v2.6h-2.6zM865.8 629.2h2.6v2.6h-2.6zM834.6 644.8h2.6v2.6h-2.6zM873.6 556.4h2.6v2.6h-2.6zM878.8 582.4h2.6v2.6h-2.6zM868.4 605.8h2.6v2.6h-2.6zM819 634.4h2.6v2.6h-2.6zM863.2 603.2h5.2v2.6h-5.2zM860.6 626.6h2.6v2.6h-2.6zM852.8 553.8h2.6v2.6h-2.6zM813.8 582.4h2.6v2.6h-2.6zM821.6 618.8h2.6v2.6h-2.6zM803.4 572h2.6v2.6h-2.6zM813.8 631.8h2.6v2.6h-2.6zM806 598h2.6v2.6h-2.6zM819 566.8h5.2v2.6h-5.2zM868.4 579.8h5.2v2.6h-5.2zM785.2 634.4h2.6v2.6h-2.6zM860.6 616.2h2.6v2.6h-2.6zM847.6 618.8h2.6v2.6h-2.6zM842.4 647.4h2.6v2.6h-2.6zM798.2 626.6h2.6v2.6h-2.6zM800.8 561.6h5.2v2.6h-5.2zM858 590.2h2.6v2.6h-2.6zM868.4 626.6h2.6v2.6h-2.6zM842.4 639.6h2.6v2.6h-2.6zM824.2 629.2h2.6v2.6h-2.6zM834.6 626.6h2.6v2.6h-2.6zM800.8 652.6h2.6v2.6h-2.6zM826.8 642.2h5.2v2.6h-5.2zM834.6 629.2h2.6v2.6h-2.6zM826.8 650h2.6v2.6h-2.6zM819 639.6h2.6v2.6h-2.6zM842.4 613.6h5.2v2.6h-5.2zM819 634.4h5.2v2.6h-5.2zM819 639.6h5.2v2.6h-5.2zM847.6 629.2h2.6v2.6h-2.6zM829.4 629.2h2.6v2.6h-2.6zM824.2 629.2h2.6v2.6h-2.6zM816.4 631.8h2.6v2.6h-2.6zM803.4 621.4h5.2v2.6h-5.2zM806 626.6h5.2v2.6h-5.2zM832 642.2h2.6v2.6h-2.6zM847.6 637h5.2v2.6h-5.2zM829.4 618.8h2.6v2.6h-2.6zM832 639.6h2.6v2.6h-2.6zM842.4 642.2h2.6v2.6h-2.6zM816.4 605.8h2.6v2.6h-2.6zM811.2 624h2.6v2.6h-2.6zM837.2 616.2h5.2v2.6h-5.2zM816.4 624h2.6v2.6h-2.6zM829.4 621.4h2.6v2.6h-2.6zM829.4 650h2.6v2.6h-2.6zM816.4 634.4h2.6v2.6h-2.6zM837.2 626.6h2.6v2.6h-2.6zM826.8 631.8h5.2v2.6h-5.2zM821.6 629.2h2.6v2.6h-2.6zM811.2 618.8h2.6v2.6h-2.6zM821.6 626.6h5.2v2.6h-5.2zM806 642.2h2.6v2.6h-2.6zM847.6 631.8h2.6v2.6h-2.6zM829.4 626.6h2.6v2.6h-2.6zM824.2 642.2h5.2v2.6h-5.2zM834.6 629.2h2.6v2.6h-2.6zM842.4 644.8h2.6v2.6h-2.6zM829.4 644.8h2.6v2.6h-2.6zM842.4 637h2.6v2.6h-2.6zM829.4 616.2h5.2v2.6h-5.2zM834.6 631.8h2.6v2.6h-2.6zM813.8 642.2h5.2v2.6h-5.2zM826.8 634.4h2.6v2.6h-2.6zM826.8 652.6h5.2v2.6h-5.2zM829.4 621.4h2.6v2.6h-2.6zM845 626.6h5.2v2.6h-5.2zM824.2 637h2.6v2.6h-2.6zM824.2 618.8h2.6v2.6h-2.6zM824.2 629.2h2.6v2.6h-2.6zM811.2 639.6h2.6v2.6h-2.6zM826.8 634.4h2.6v2.6h-2.6zM813.8 629.2h2.6v2.6h-2.6zM834.6 642.2h2.6v2.6h-2.6zM839.8 626.6h2.6v2.6h-2.6zM839.8 644.8h2.6v2.6h-2.6zM845 629.2h2.6v2.6h-2.6zM824.2 642.2h5.2v2.6h-5.2zM829.4 629.2h2.6v2.6h-2.6zM826.8 631.8h2.6v2.6h-2.6zM837.2 621.4h2.6v2.6h-2.6zM837.2 618.8h5.2v2.6h-5.2zM834.6 637h5.2v2.6h-5.2zM834.6 624h2.6v2.6h-2.6zM842.4 639.6h2.6v2.6h-2.6zM808.6 650h2.6v2.6h-2.6zM832 637h2.6v2.6h-2.6zM829.4 639.6h2.6v2.6h-2.6zM813.8 631.8h2.6v2.6h-2.6zM824.2 611h2.6v2.6h-2.6zM806 631.8h2.6v2.6h-2.6zM829.4 637h2.6v2.6h-2.6zM829.4 634.4h2.6v2.6h-2.6zM821.6 629.2h2.6v2.6h-2.6zM826.8 629.2h5.2v2.6h-5.2zM850.2 644.8h2.6v2.6h-2.6zM821.6 618.8h2.6v2.6h-2.6zM824.2 626.6h2.6v2.6h-2.6zM826.8 631.8h2.6v2.6h-2.6zM829.4 624h5.2v2.6h-5.2zM819 613.6h2.6v2.6h-2.6zM819 624h5.2v2.6h-5.2zM829.4 613.6h2.6v2.6h-2.6zM834.6 629.2h5.2v2.6h-5.2zM811.2 624h5.2v2.6h-5.2zM845 644.8h2.6v2.6h-2.6zM811.2 642.2h2.6v2.6h-2.6zM824.2 631.8h2.6v2.6h-2.6zM811.2 608.4h5.2v2.6h-5.2zM842.4 587.6h2.6v2.6h-2.6zM824.2 582.4h2.6v2.6h-2.6zM876.2 600.6h2.6v2.6h-2.6zM837.2 582.4h2.6v2.6h-2.6zM845 566.8h2.6v2.6h-2.6zM824.2 616.2h2.6v2.6h-2.6zM824.2 579.8h2.6v2.6h-2.6zM852.8 613.6h2.6v2.6h-2.6zM878.8 611h2.6v2.6h-2.6zM834.6 616.2h5.2v2.6h-5.2zM845 592.8h2.6v2.6h-2.6zM832 595.4h5.2v2.6h-5.2zM871 595.4h2.6v2.6h-2.6zM821.6 592.8h2.6v2.6h-2.6zM850.2 585h5.2v2.6h-5.2zM845 600.6h2.6v2.6h-2.6zM842.4 569.4h2.6v2.6h-2.6zM832 572h5.2v2.6h-5.2zM832 574.6h5.2v2.6h-5.2zM824.2 598h2.6v2.6h-2.6zM852.8 598h2.6v2.6h-2.6zM868.4 587.6h2.6v2.6h-2.6zM798.2 579.8h2.6v2.6h-2.6zM824.2 587.6h2.6v2.6h-2.6zM850.2 577.2h2.6v2.6h-2.6zM837.2 616.2h5.2v2.6h-5.2zM811.2 605.8h2.6v2.6h-2.6zM863.2 600.6h2.6v2.6h-2.6zM837.2 600.6h2.6v2.6h-2.6zM842.4 603.2h2.6v2.6h-2.6zM832 569.4h2.6v2.6h-2.6zM842.4 585h5.2v2.6h-5.2zM881.4 590.2h5.2v2.6h-5.2zM821.6 585h2.6v2.6h-2.6zM829.4 595.4h5.2v2.6h-5.2zM829.4 590.2h5.2v2.6h-5.2zM842.4 566.8h2.6v2.6h-2.6zM832 582.4h2.6v2.6h-2.6zM834.6 564.2h2.6v2.6h-2.6zM842.4 595.4h5.2v2.6h-5.2zM821.6 587.6h2.6v2.6h-2.6zM800.8 587.6h2.6v2.6h-2.6zM837.2 585h5.2v2.6h-5.2zM850.2 616.2h2.6v2.6h-2.6zM826.8 587.6h2.6v2.6h-2.6zM855.4 592.8h2.6v2.6h-2.6zM808.6 595.4h2.6v2.6h-2.6zM824.2 579.8h2.6v2.6h-2.6zM847.6 616.2h5.2v2.6h-5.2zM845 613.6h5.2v2.6h-5.2zM858 603.2h2.6v2.6h-2.6zM839.8 582.4h2.6v2.6h-2.6zM834.6 598h2.6v2.6h-2.6zM832 603.2h2.6v2.6h-2.6zM839.8 582.4h5.2v2.6h-5.2zM860.6 598h2.6v2.6h-2.6zM847.6 574.6h2.6v2.6h-2.6zM860.6 603.2h2.6v2.6h-2.6zM855.4 603.2h2.6v2.6h-2.6zM793 670.8h2.6v2.6h-2.6zM793 665.6h2.6v2.6h-2.6zM795.6 668.2h2.6v2.6h-2.6zM803.4 668.2h2.6v2.6h-2.6zM777.4 657.8h2.6v2.6h-2.6zM806 673.4h2.6v2.6h-2.6zM793 657.8h2.6v2.6h-2.6zM803.4 660.4h5.2v2.6h-5.2zM798.2 655.2h5.2v2.6h-5.2zM808.6 665.6h2.6v2.6h-2.6zM793 660.4h2.6v2.6h-2.6zM798.2 644.8h2.6v2.6h-2.6zM793 655.2h2.6v2.6h-2.6zM800.8 652.6h2.6v2.6h-2.6z" fill="#ff00ff"/>
<path d="M829.4 642.2h2.6v2.6h-2.6zM821.6 639.6h2.6v2.6h-2.6zM808.6 639.6h2.6v2.6h-2.6zM813.8 631.8h2.6v2.6h-2.6zM811.2 634.4h2.6v2.6h-2.6zM821.6 642.2h2.6v2.6h-2.6zM834.6 626.6h5.2v2.6h-5.2zM816.4 626.6h2.6v2.6h-2.6zM821.6 642.2h2.6v2.6h-2.6zM816.4 644.8h2.6v2.6h-2.6zM808.6 644.8h2.6v2.6h-2.6zM834.6 634.4h2.6v2.6h-2.6zM837.2 624h2.6v2.6h-2.6zM829.4 644.8h5.2v2.6h-5.2zM826.8 629.2h2.6v2.6h-2.6zM821.6 624h2.6v2.6h-2.6zM826.8 629.2h5.2v2.6h-5.2zM819 608.4h5.2v2.6h-5.2zM813.8 626.6h2.6v2.6h-2.6zM819 642.2h2.6v2.6h-2.6zM816.4 621.4h2.6v2.6h-2.6zM821.6 647.4h2.6v2.6h-2.6zM826.8 639.6h2.6v2.6h-2.6zM824.2 621.4h2.6v2.6h-2.6zM806 626.6h5.2v2.6h-5.2zM821.6 637h2.6v2.6h-2.6zM811.2 634.4h5.2v2.6h-5.2zM813.8 631.8h2.6v2.6h-2.6zM821.6 626.6h2.6v2.6h-2.6zM821.6 637h2.6v2.6h-2.6zM821.6 634.4h2.6v2.6h-2.6zM821.6 642.2h2.6v2.6h-2.6zM813.8 629.2h2.6v2.6h-2.6zM829.4 644.8h2.6v2.6h-2.6zM834.6 629.2h2.6v2.6h-2.6zM826.8 634.4h2.6v2.6h-2.6zM808.6 644.8h2.6v2.6h-2.6zM813.8 639.6h5.2v2.6h-5.2zM834.6 629.2h2.6v2.6h-2.6zM816.4 639.6h2.6v2.6h-2.6z" fill="#ff40ff"/>
<path d="M811.2 647.4h2.6v2.6h-2.6zM829.4 634.4h5.2v2.6h-5.2zM819 624h2.6v2.6h-2.6zM808.6 650h2.6v2.6h-2.6zM819 642.2h5.2v2.6h-5.2zM819 631.8h2.6v2.6h-2.6zM813.8 639.6h5.2v2.6h-5.2zM819 629.2h2.6v2.6h-2.6z" fill="#e8c8ff"/>
<path d="M829.4 600.6h5.2v2.6h-5.2zM842.4 613.6h2.6v2.6h-2.6zM826.8 634.4h2.6v2.6h-2.6zM839.8 613.6h2.6v2.6h-2.6zM847.6 605.8h2.6v2.6h-2.6zM839.8 629.2h2.6v2.6h-2.6zM819 603.2h5.2v2.6h-5.2zM852.8 631.8h2.6v2.6h-2.6zM819 647.4h2.6v2.6h-2.6z" fill="#00ffff"/>
<path d="M821.6 561.6h5.2v2.6h-5.2zM824.2 595.4h2.6v2.6h-2.6zM834.6 587.6h2.6v2.6h-2.6zM826.8 598h5.2v2.6h-5.2zM852.8 616.2h2.6v2.6h-2.6zM863.2 603.2h2.6v2.6h-2.6zM832 579.8h2.6v2.6h-2.6zM847.6 585h2.6v2.6h-2.6zM839.8 611h5.2v2.6h-5.2zM824.2 600.6h5.2v2.6h-5.2zM850.2 569.4h2.6v2.6h-2.6zM850.2 587.6h2.6v2.6h-2.6zM852.8 608.4h5.2v2.6h-5.2zM834.6 564.2h2.6v2.6h-2.6zM847.6 587.6h2.6v2.6h-2.6zM855.4 603.2h5.2v2.6h-5.2zM852.8 600.6h5.2v2.6h-5.2zM826.8 600.6h2.6v2.6h-2.6zM824.2 608.4h2.6v2.6h-2.6zM842.4 600.6h2.6v2.6h-2.6zM824.2 621.4h2.6v2.6h-2.6zM824.2 577.2h2.6v2.6h-2.6zM837.2 618.8h2.6v2.6h-2.6zM850.2 616.2h2.6v2.6h-2.6zM816.4 598h5.2v2.6h-5.2zM832 553.8h5.2v2.6h-5.2zM832 572h2.6v2.6h-2.6zM829.4 590.2h5.2v2.6h-5.2zM816.4 569.4h2.6v2.6h-2.6zM850.2 564.2h2.6v2.6h-2.6zM829.4 603.2h2.6v2.6h-2.6zM858 603.2h2.6v2.6h-2.6zM839.8 598h2.6v2.6h-2.6zM837.2 574.6h2.6v2.6h-2.6zM824.2 574.6h2.6v2.6h-2.6zM795.6 590.2h2.6v2.6h-2.6zM824.2 595.4h2.6v2.6h-2.6zM852.8 608.4h2.6v2.6h-2.6zM858 611h5.2v2.6h-5.2zM837.2 598h2.6v2.6h-2.6z" fill="#4a00d8"/>
</g>
<rect x="742.2" y="727.4" width="178.8" height="155.8" fill="#d64fd6" rx="2"/>
<rect x="748.2" y="733.4" width="166.8" height="143.8" fill="#000"/>
<clipPath id="i3"><rect x="748.2" y="733.4" width="166.8" height="143.8"/></clipPath>
<g clip-path="url(#i3)">
<g fill="#0000b8" filter="url(#rough)">
<ellipse cx="831.8" cy="812.5" rx="25.0" ry="27.7"/>
<ellipse cx="847.7" cy="825.7" rx="15.8" ry="15.8"/>
</g>
<path d="M819 834.6h5.2v2.6h-5.2zM858 811.2h5.2v2.6h-5.2zM821.6 829.4h2.6v2.6h-2.6zM855.4 803.4h5.2v2.6h-5.2zM852.8 821.6h2.6v2.6h-2.6zM865.8 798.2h2.6v2.6h-2.6zM806 832h2.6v2.6h-2.6zM800.8 793h2.6v2.6h-2.6zM829.4 842.4h2.6v2.6h-2.6zM811.2 795.6h5.2v2.6h-5.2zM852.8 842.4h2.6v2.6h-2.6zM858 819h2.6v2.6h-2.6zM826.8 782.6h2.6v2.6h-2.6zM795.6 803.4h2.6v2.6h-2.6zM803.4 811.2h2.6v2.6h-2.6zM855.4 837.2h2.6v2.6h-2.6zM806 811.2h2.6v2.6h-2.6zM816.4 790.4h2.6v2.6h-2.6zM798.2 821.6h2.6v2.6h-2.6zM855.4 798.2h2.6v2.6h-2.6zM842.4 832h2.6v2.6h-2.6zM811.2 826.8h2.6v2.6h-2.6zM813.8 785.2h5.2v2.6h-5.2zM811.2 795.6h2.6v2.6h-2.6zM868.4 826.8h2.6v2.6h-2.6zM852.8 808.6h2.6v2.6h-2.6zM850.2 837.2h2.6v2.6h-2.6zM847.6 803.4h5.2v2.6h-5.2zM845 787.8h2.6v2.6h-2.6zM816.4 803.4h2.6v2.6h-2.6zM803.4 806h2.6v2.6h-2.6zM855.4 813.8h2.6v2.6h-2.6zM816.4 829.4h2.6v2.6h-2.6zM847.6 798.2h2.6v2.6h-2.6zM819 824.2h2.6v2.6h-2.6zM819 837.2h2.6v2.6h-2.6zM847.6 837.2h2.6v2.6h-2.6zM845 837.2h2.6v2.6h-2.6zM839.8 826.8h2.6v2.6h-2.6zM806 819h2.6v2.6h-2.6zM808.6 793h5.2v2.6h-5.2zM832 850.2h2.6v2.6h-2.6zM847.6 790.4h2.6v2.6h-2.6zM847.6 785.2h2.6v2.6h-2.6zM868.4 787.8h2.6v2.6h-2.6zM852.8 826.8h2.6v2.6h-2.6zM860.6 795.6h5.2v2.6h-5.2zM834.6 785.2h5.2v2.6h-5.2zM845 808.6h2.6v2.6h-2.6zM868.4 806h5.2v2.6h-5.2zM816.4 772.2h2.6v2.6h-2.6zM811.2 795.6h2.6v2.6h-2.6zM855.4 803.4h5.2v2.6h-5.2zM824.2 785.2h2.6v2.6h-2.6zM800.8 808.6h2.6v2.6h-2.6zM858 803.4h2.6v2.6h-2.6zM803.4 813.8h2.6v2.6h-2.6zM845 785.2h2.6v2.6h-2.6zM855.4 834.6h2.6v2.6h-2.6zM816.4 811.2h5.2v2.6h-5.2zM808.6 816.4h2.6v2.6h-2.6zM850.2 819h2.6v2.6h-2.6zM829.4 839.8h5.2v2.6h-5.2zM847.6 787.8h2.6v2.6h-2.6zM798.2 821.6h2.6v2.6h-2.6zM813.8 845h2.6v2.6h-2.6zM858 790.4h2.6v2.6h-2.6zM798.2 816.4h5.2v2.6h-5.2zM811.2 821.6h2.6v2.6h-2.6zM863.2 821.6h2.6v2.6h-2.6zM821.6 785.2h2.6v2.6h-2.6zM863.2 837.2h5.2v2.6h-5.2zM816.4 832h2.6v2.6h-2.6zM808.6 790.4h2.6v2.6h-2.6zM803.4 816.4h5.2v2.6h-5.2zM829.4 780h2.6v2.6h-2.6zM855.4 837.2h2.6v2.6h-2.6zM800.8 806h5.2v2.6h-5.2zM847.6 832h2.6v2.6h-2.6zM842.4 782.6h5.2v2.6h-5.2zM808.6 793h2.6v2.6h-2.6zM832 800.8h2.6v2.6h-2.6zM808.6 798.2h2.6v2.6h-2.6zM824.2 795.6h2.6v2.6h-2.6zM826.8 793h2.6v2.6h-2.6zM808.6 780h2.6v2.6h-2.6zM806 793h2.6v2.6h-2.6zM832 800.8h2.6v2.6h-2.6zM824.2 819h2.6v2.6h-2.6zM806 793h5.2v2.6h-5.2zM821.6 811.2h5.2v2.6h-5.2zM803.4 803.4h5.2v2.6h-5.2zM811.2 795.6h2.6v2.6h-2.6zM813.8 811.2h2.6v2.6h-2.6zM832 806h2.6v2.6h-2.6zM803.4 800.8h2.6v2.6h-2.6zM819 806h2.6v2.6h-2.6zM819 793h5.2v2.6h-5.2zM816.4 793h2.6v2.6h-2.6zM834.6 790.4h2.6v2.6h-2.6zM876.2 735.8h2.6v2.6h-2.6zM871 746.2h2.6v2.6h-2.6zM871 738.4h2.6v2.6h-2.6zM865.8 738.4h5.2v2.6h-5.2zM868.4 738.4h2.6v2.6h-2.6zM876.2 743.6h5.2v2.6h-5.2z" fill="#ff00ff"/>
<path d="M873.6 800.8h2.6v2.6h-2.6zM845 772.2h2.6v2.6h-2.6zM829.4 767h5.2v2.6h-5.2zM868.4 826.8h2.6v2.6h-2.6zM873.6 813.8h2.6v2.6h-2.6zM863.2 832h5.2v2.6h-5.2zM832 850.2h2.6v2.6h-2.6zM850.2 842.4h5.2v2.6h-5.2zM845 837.2h2.6v2.6h-2.6zM787.8 808.6h2.6v2.6h-2.6zM865.8 787.8h2.6v2.6h-2.6zM816.4 845h2.6v2.6h-2.6zM803.4 816.4h2.6v2.6h-2.6zM860.6 780h2.6v2.6h-2.6zM798.2 811.2h2.6v2.6h-2.6zM821.6 795.6h2.6v2.6h-2.6zM826.8 772.2h2.6v2.6h-2.6zM793 800.8h5.2v2.6h-5.2zM787.8 821.6h5.2v2.6h-5.2zM816.4 774.8h2.6v2.6h-2.6zM876.2 790.4h2.6v2.6h-2.6zM886.6 800.8h2.6v2.6h-2.6zM847.6 839.8h2.6v2.6h-2.6zM806 800.8h2.6v2.6h-2.6zM858 806h2.6v2.6h-2.6zM842.4 782.6h2.6v2.6h-2.6zM834.6 839.8h2.6v2.6h-2.6zM834.6 855.4h2.6v2.6h-2.6zM834.6 860.6h2.6v2.6h-2.6zM863.2 787.8h2.6v2.6h-2.6z" fill="#8a00a0"/>
<path d="M842.4 803.4h2.6v2.6h-2.6zM837.2 811.2h5.2v2.6h-5.2zM813.8 816.4h2.6v2.6h-2.6zM824.2 806h2.6v2.6h-2.6zM829.4 819h2.6v2.6h-2.6zM816.4 811.2h2.6v2.6h-2.6zM826.8 821.6h2.6v2.6h-2.6zM816.4 813.8h5.2v2.6h-5.2zM837.2 819h2.6v2.6h-2.6zM834.6 800.8h2.6v2.6h-2.6zM834.6 821.6h2.6v2.6h-2.6zM839.8 806h2.6v2.6h-2.6zM842.4 819h5.2v2.6h-5.2zM829.4 819h5.2v2.6h-5.2zM816.4 813.8h2.6v2.6h-2.6zM821.6 819h5.2v2.6h-5.2zM824.2 819h2.6v2.6h-2.6zM826.8 795.6h2.6v2.6h-2.6zM819 800.8h2.6v2.6h-2.6zM829.4 808.6h2.6v2.6h-2.6z" fill="#4a00d8"/>
</g>
<text x="949.2" y="435.5" font-size="29" font-weight="bold" font-style="italic" fill="#6bb8c0" textLength="38.8" lengthAdjust="spacingAndGlyphs">fos</text>
<text x="949.2" y="638.5" font-size="29" font-weight="bold" font-style="italic" textLength="90.2" lengthAdjust="spacingAndGlyphs"><tspan fill="#d64fd6">crh/</tspan><tspan fill="#2fc4c4">fos</tspan></text>
<text x="949.2" y="822.5" font-size="29" font-weight="bold" font-style="italic" fill="#d64fd6" textLength="40.3" lengthAdjust="spacingAndGlyphs">crh</text>
</g>
<g id="panel_c">
<rect x="1217.9" y="344.0" width="322.9" height="540.9" fill="#dbe4f0"/>
<rect x="1540.8" y="344.0" width="318.2" height="540.9" fill="#e6e6e6"/>
<line x1="1374.4" y1="349.0" x2="1374.4" y2="884.9" stroke="#231f20" stroke-width="3.4" stroke-dasharray="9.4 9.1" stroke-dashoffset="4.1"/>
<line x1="1540.8" y1="349.0" x2="1540.8" y2="884.9" stroke="#231f20" stroke-width="3.4" stroke-dasharray="9.4 9.1" stroke-dashoffset="4.1"/>
<line x1="1706.7" y1="349.0" x2="1706.7" y2="884.9" stroke="#231f20" stroke-width="3.4" stroke-dasharray="9.4 9.1" stroke-dashoffset="4.1"/>
<rect x="1238.6" y="744.9" width="42.0" height="140.0" fill="#8bc3cf"/>
<rect x="1301.3" y="735.1" width="42.0" height="149.8" fill="#2f7484"/>
<rect x="1405.0" y="644.9" width="42.0" height="240.0" fill="#b37789"/>
<rect x="1467.7" y="633.0" width="42.0" height="251.9" fill="#722a3d"/>
<rect x="1571.4" y="773.2" width="42.0" height="111.7" fill="#8bc3cf"/>
<rect x="1634.0" y="776.4" width="42.0" height="108.5" fill="#2f7484"/>
<rect x="1737.9" y="660.4" width="42.0" height="224.5" fill="#b37789"/>
<rect x="1800.5" y="725.9" width="42.0" height="159.0" fill="#722a3d"/>
<line x1="1259.8" y1="709.8" x2="1322.0" y2="697.5" stroke="#9a9a9a" stroke-width="1.4" />
<line x1="1259.8" y1="730.8" x2="1322.0" y2="725.9" stroke="#9a9a9a" stroke-width="1.4" />
<line x1="1259.8" y1="754.9" x2="1322.0" y2="736.2" stroke="#9a9a9a" stroke-width="1.4" />
<line x1="1259.8" y1="786.6" x2="1322.0" y2="781.3" stroke="#9a9a9a" stroke-width="1.4" />
<circle cx="1259.8" cy="709.8" r="8.2" fill="#000"/>
<circle cx="1322.0" cy="697.5" r="8.2" fill="#000"/>
<circle cx="1259.8" cy="730.8" r="8.2" fill="#000"/>
<circle cx="1322.0" cy="725.9" r="8.2" fill="#000"/>
<circle cx="1259.8" cy="754.9" r="8.2" fill="#000"/>
<circle cx="1322.0" cy="736.2" r="8.2" fill="#000"/>
<circle cx="1259.8" cy="786.6" r="8.2" fill="#000"/>
<circle cx="1322.0" cy="781.3" r="8.2" fill="#000"/>
<line x1="1425.8" y1="636.3" x2="1488.5" y2="574.5" stroke="#9a9a9a" stroke-width="1.4" />
<line x1="1425.8" y1="610.0" x2="1488.5" y2="639.0" stroke="#9a9a9a" stroke-width="1.4" />
<line x1="1425.8" y1="666.3" x2="1488.5" y2="640.0" stroke="#9a9a9a" stroke-width="1.4" />
<line x1="1425.8" y1="669.6" x2="1488.5" y2="680.3" stroke="#9a9a9a" stroke-width="1.4" />
<circle cx="1425.8" cy="636.3" r="8.2" fill="#000"/>
<circle cx="1488.5" cy="574.5" r="8.2" fill="#000"/>
<circle cx="1425.8" cy="610.0" r="8.2" fill="#000"/>
<circle cx="1488.5" cy="639.0" r="8.2" fill="#000"/>
<circle cx="1425.8" cy="666.3" r="8.2" fill="#000"/>
<circle cx="1488.5" cy="640.0" r="8.2" fill="#000"/>
<circle cx="1425.8" cy="669.6" r="8.2" fill="#000"/>
<circle cx="1488.5" cy="680.3" r="8.2" fill="#000"/>
<line x1="1592.2" y1="748.0" x2="1654.9" y2="735.1" stroke="#9a9a9a" stroke-width="1.4" />
<line x1="1592.2" y1="759.2" x2="1654.9" y2="773.2" stroke="#9a9a9a" stroke-width="1.4" />
<line x1="1592.2" y1="774.3" x2="1654.9" y2="780.2" stroke="#9a9a9a" stroke-width="1.4" />
<line x1="1592.2" y1="784.5" x2="1654.9" y2="785.6" stroke="#9a9a9a" stroke-width="1.4" />
<line x1="1592.2" y1="799.0" x2="1654.9" y2="807.6" stroke="#9a9a9a" stroke-width="1.4" />
<circle cx="1592.2" cy="748.0" r="8.2" fill="#000"/>
<circle cx="1654.9" cy="735.1" r="8.2" fill="#000"/>
<circle cx="1592.2" cy="759.2" r="8.2" fill="#000"/>
<circle cx="1654.9" cy="773.2" r="8.2" fill="#000"/>
<circle cx="1592.2" cy="774.3" r="8.2" fill="#000"/>
<circle cx="1654.9" cy="780.2" r="8.2" fill="#000"/>
<circle cx="1592.2" cy="784.5" r="8.2" fill="#000"/>
<circle cx="1654.9" cy="785.6" r="8.2" fill="#000"/>
<circle cx="1592.2" cy="799.0" r="8.2" fill="#000"/>
<circle cx="1654.9" cy="807.6" r="8.2" fill="#000"/>
<line x1="1758.6" y1="558.4" x2="1821.3" y2="660.4" stroke="#666" stroke-width="1.6" />
<line x1="1758.6" y1="626.6" x2="1821.3" y2="690.5" stroke="#666" stroke-width="1.6" />
<line x1="1758.6" y1="642.7" x2="1821.3" y2="707.2" stroke="#666" stroke-width="1.6" />
<line x1="1758.6" y1="669.6" x2="1821.3" y2="710.9" stroke="#666" stroke-width="1.6" />
<line x1="1758.6" y1="731.9" x2="1821.3" y2="793.6" stroke="#666" stroke-width="1.6" />
<line x1="1758.6" y1="732.9" x2="1821.3" y2="795.8" stroke="#666" stroke-width="1.6" />
<circle cx="1758.6" cy="558.4" r="8.2" fill="#000"/>
<circle cx="1821.3" cy="660.4" r="8.2" fill="#000"/>
<circle cx="1758.6" cy="626.6" r="8.2" fill="#000"/>
<circle cx="1821.3" cy="690.5" r="8.2" fill="#000"/>
<circle cx="1758.6" cy="642.7" r="8.2" fill="#000"/>
<circle cx="1821.3" cy="707.2" r="8.2" fill="#000"/>
<circle cx="1758.6" cy="669.6" r="8.2" fill="#000"/>
<circle cx="1821.3" cy="710.9" r="8.2" fill="#000"/>
<circle cx="1758.6" cy="731.9" r="8.2" fill="#000"/>
<circle cx="1821.3" cy="793.6" r="8.2" fill="#000"/>
<circle cx="1758.6" cy="732.9" r="8.2" fill="#000"/>
<circle cx="1821.3" cy="795.8" r="8.2" fill="#000"/>
<line x1="1217.9" y1="347.2" x2="1217.9" y2="885.6" stroke="#000" stroke-width="1.5" />
<line x1="1203.7" y1="884.9" x2="1863.7" y2="884.9" stroke="#000" stroke-width="1.5" />
<line x1="1203.7" y1="884.9" x2="1217.9" y2="884.9" stroke="#000" stroke-width="1.5" />
<text x="1197.0" y="891.9" font-size="19.5" text-anchor="end">0</text>
<line x1="1203.7" y1="777.5" x2="1217.9" y2="777.5" stroke="#000" stroke-width="1.5" />
<text x="1197.0" y="784.5" font-size="19.5" text-anchor="end">20</text>
<line x1="1203.7" y1="670.1" x2="1217.9" y2="670.1" stroke="#000" stroke-width="1.5" />
<text x="1197.0" y="677.1" font-size="19.5" text-anchor="end">40</text>
<line x1="1203.7" y1="562.7" x2="1217.9" y2="562.7" stroke="#000" stroke-width="1.5" />
<text x="1197.0" y="569.7" font-size="19.5" text-anchor="end">60</text>
<line x1="1203.7" y1="455.3" x2="1217.9" y2="455.3" stroke="#000" stroke-width="1.5" />
<text x="1197.0" y="462.3" font-size="19.5" text-anchor="end">80</text>
<line x1="1203.7" y1="347.9" x2="1217.9" y2="347.9" stroke="#000" stroke-width="1.5" />
<text x="1197.0" y="354.9" font-size="19.5" text-anchor="end">100</text>
<line x1="1259.6" y1="884.9" x2="1259.6" y2="898.9" stroke="#000" stroke-width="1.5" />
<text x="1259.6" y="920.0" font-size="19.5" text-anchor="middle">GFP</text>
<line x1="1322.3" y1="884.9" x2="1322.3" y2="898.9" stroke="#000" stroke-width="1.5" />
<text x="1322.3" y="920.0" font-size="19.5" text-anchor="middle">hM4Di</text>
<line x1="1426.0" y1="884.9" x2="1426.0" y2="898.9" stroke="#000" stroke-width="1.5" />
<text x="1426.0" y="920.0" font-size="19.5" text-anchor="middle">GFP</text>
<line x1="1488.7" y1="884.9" x2="1488.7" y2="898.9" stroke="#000" stroke-width="1.5" />
<text x="1488.7" y="920.0" font-size="19.5" text-anchor="middle">hM4Di</text>
<line x1="1592.4" y1="884.9" x2="1592.4" y2="898.9" stroke="#000" stroke-width="1.5" />
<text x="1592.4" y="920.0" font-size="19.5" text-anchor="middle">GFP</text>
<line x1="1655.0" y1="884.9" x2="1655.0" y2="898.9" stroke="#000" stroke-width="1.5" />
<text x="1655.0" y="920.0" font-size="19.5" text-anchor="middle">hM4Di</text>
<line x1="1758.9" y1="884.9" x2="1758.9" y2="898.9" stroke="#000" stroke-width="1.5" />
<text x="1758.9" y="920.0" font-size="19.5" text-anchor="middle">GFP</text>
<line x1="1821.5" y1="884.9" x2="1821.5" y2="898.9" stroke="#000" stroke-width="1.5" />
<text x="1821.5" y="920.0" font-size="19.5" text-anchor="middle">hM4Di</text>
<text x="1144.0" y="617.6" font-size="24.5" text-anchor="middle" transform="rotate(-90 1144.0 617.6)">% of fos+ crh cells</text>
<text x="1298" y="382" font-size="24" font-weight="bold" text-anchor="middle"><tspan fill="#4a7fc1">saline</tspan><tspan fill="#000">/</tspan></text>
<text x="1298.0" y="409.3" font-size="24" text-anchor="middle" font-weight="bold" fill="#2f7484">no stress</text>
<text x="1298.0" y="436.6" font-size="24" text-anchor="middle" font-weight="bold">n = 4</text>
<text x="1451.5" y="382" font-size="24" font-weight="bold" text-anchor="middle"><tspan fill="#4a7fc1">saline</tspan><tspan fill="#000">/</tspan></text>
<text x="1451.5" y="409.3" font-size="24" text-anchor="middle" font-weight="bold" fill="#7b2d42">stress</text>
<text x="1451.5" y="436.6" font-size="24" text-anchor="middle" font-weight="bold">n = 4</text>
<text x="1618.6" y="382" font-size="24" font-weight="bold" text-anchor="middle"><tspan fill="#5a5a5a">CNO</tspan><tspan fill="#000">/</tspan></text>
<text x="1618.6" y="409.3" font-size="24" text-anchor="middle" font-weight="bold" fill="#2f7484">no stress</text>
<text x="1618.6" y="436.6" font-size="24" text-anchor="middle" font-weight="bold">n = 5</text>
<text x="1787.3" y="382" font-size="24" font-weight="bold" text-anchor="middle"><tspan fill="#5a5a5a">CNO</tspan><tspan fill="#000">/</tspan></text>
<text x="1787.3" y="409.3" font-size="24" text-anchor="middle" font-weight="bold" fill="#7b2d42">stress</text>
<text x="1787.3" y="436.6" font-size="24" text-anchor="middle" font-weight="bold">n = 6</text>
<path d="M1761,507.5 V499 H1811 V507.5" fill="none" stroke="#222" stroke-width="1.3"/>
<text x="1787.2" y="509.1" font-size="46" text-anchor="middle" font-weight="bold" letter-spacing="2.5">***</text>
<text x="1129.0" y="379.5" font-size="29" font-weight="bold">c</text>
</g>
<g id="panel_d">
<g transform="translate(-49.50 932.00) scale(0.6980)">
<use href="#brain"/>
<use href="#bnstL" fill="#2f65d9" stroke="#111" stroke-width="0.5"/>
<use href="#bnstL" fill="#2f65d9" stroke="#111" stroke-width="0.5" transform="translate(513.0 0) scale(-1 1)"/>
<use href="#insL" fill="#fbb03b"/>
<use href="#insL" fill="#fbb03b" transform="translate(513.0 0) scale(-1 1)"/>
</g>
<g transform="translate(170.30 930.90) scale(0.6950)">
<rect x="82.2" y="60.4" width="37.4" height="84.6" fill="#fff" fill-opacity="0.45"/>
<line x1="100.9" y1="30.0" x2="100.9" y2="98.5" stroke="#2a2a2a" stroke-width="1.5" stroke-opacity="0.9"/>
<path d="M82.2 98 Q100.9 101 119.6 98 V145 Q100.9 148.4 82.2 145Z" fill="#a9dbb4" fill-opacity="0.8"/>
<ellipse cx="100.9" cy="98" rx="18.7" ry="1.7" fill="#ddd" fill-opacity="0.55" stroke="#555" stroke-width="0.5"/>
<path d="M82.2 60.4 V145 Q100.9 148.4 119.6 145 V60.4" fill="none" stroke="#3a3a3a" stroke-width="0.8"/>
<ellipse cx="100.9" cy="60.4" rx="18.7" ry="2.5" fill="none" stroke="#3a3a3a" stroke-width="0.8"/>
<path d="M83 69.6 L91.5 70.7" stroke="#333" stroke-width="0.7" fill="none"/>
<path d="M83 79.2 L95.5 80.3" stroke="#333" stroke-width="0.7" fill="none"/>
<path d="M83 88.5 L91.5 89.6" stroke="#333" stroke-width="0.7" fill="none"/>
<path d="M83 107.4 L95.5 108.5" stroke="#333" stroke-width="0.7" fill="none"/>
<path d="M83 116.7 L91.5 117.8" stroke="#333" stroke-width="0.7" fill="none"/>
<path d="M83 126.3 L91.5 127.4" stroke="#333" stroke-width="0.7" fill="none"/>
<path d="M83 135.9 L95.5 137.0" stroke="#333" stroke-width="0.7" fill="none"/>
<rect x="81.7" y="24.3" width="38.4" height="8.2" rx="9" ry="4.1" fill="#3a3a3a"/>
<ellipse cx="100.9" cy="27.4" rx="18" ry="2.6" fill="#575757"/>
<rect x="98.1" y="143.5" width="5.6" height="3.2" fill="#333" fill-opacity="0.6"/>
<polygon points="98.3,146.3 103.5,146.3 102.0,212.7 99.8,212.7" fill="#000"/>
</g>
<g transform="translate(-49.50 1164.40) scale(0.6980)">
<use href="#brain"/>
<use href="#bnstL" fill="#2f65d9" stroke="#111" stroke-width="0.5"/>
<use href="#bnstL" fill="#2f65d9" stroke="#111" stroke-width="0.5" transform="translate(513.0 0) scale(-1 1)"/>
<use href="#insL" fill="#fbb03b"/>
<use href="#insL" fill="#8fd4a3" transform="translate(513.0 0) scale(-1 1)"/>
</g>
<defs><linearGradient id="fog" x1="0" y1="0" x2="1" y2="0"><stop offset="0" stop-color="#c9c9c9"/><stop offset="0.35" stop-color="#b5b5b5"/><stop offset="1" stop-color="#6e6e6e"/></linearGradient></defs>
<rect x="233.7" y="1261.0" width="9.1" height="49.5" fill="#d6eef5" fill-opacity="0.75"/>
<rect x="225.6" y="1191.0" width="26.0" height="70.8" fill="url(#fog)" stroke="#555" stroke-width="0.6"/>
<ellipse cx="238.6" cy="1191" rx="13" ry="1.8" fill="#9a9a9a" stroke="#555" stroke-width="0.5"/>
<rect x="234.6" y="1182.3" width="7.7" height="8.6" fill="#000"/>
<text x="9.0" y="991.5" font-size="29" font-weight="bold">d</text>
<text x="0.5" y="1139.8" font-size="13.8" font-weight="bold" fill="#f7941d" textLength="40.5" lengthAdjust="spacingAndGlyphs">Insula</text>
<text x="0.5" y="1152.8" font-size="13.8" font-weight="bold" fill="#2f65d9" textLength="35.0" lengthAdjust="spacingAndGlyphs">BNST</text>
<text x="218.0" y="1152.8" font-size="13.8" font-weight="bold" fill="#a5d6a7" textLength="46.0" lengthAdjust="spacingAndGlyphs">Sensor</text>
<line x1="129.8" y1="1145.6" x2="129.8" y2="1178.0" stroke="#000" stroke-width="1.8" />
<polygon points="129.8,1190.0 119.2,1170.0 129.8,1175.5 140.4,1170.0" fill="#000"/>
<text x="157.2" y="1168.4" font-size="20" textLength="40.5" lengthAdjust="spacingAndGlyphs">4 - 6</text>
<text x="157.2" y="1189.3" font-size="20" textLength="60.0" lengthAdjust="spacingAndGlyphs">weeks</text>
</g>
<g id="panel_efg">
<rect x="329.3" y="957.3" width="496.4" height="430.0" fill="#fff"/>
<line x1="352.2" y1="957.3" x2="352.2" y2="1387.3" stroke="#e0e0e0" stroke-width="1.1" />
<line x1="382.3" y1="957.3" x2="382.3" y2="1387.3" stroke="#e0e0e0" stroke-width="1.1" />
<line x1="412.4" y1="957.3" x2="412.4" y2="1387.3" stroke="#e0e0e0" stroke-width="1.1" />
<line x1="442.5" y1="957.3" x2="442.5" y2="1387.3" stroke="#e0e0e0" stroke-width="1.1" />
<line x1="472.6" y1="957.3" x2="472.6" y2="1387.3" stroke="#e0e0e0" stroke-width="1.1" />
<line x1="502.7" y1="957.3" x2="502.7" y2="1387.3" stroke="#e0e0e0" stroke-width="1.1" />
<line x1="532.8" y1="957.3" x2="532.8" y2="1387.3" stroke="#e0e0e0" stroke-width="1.1" />
<line x1="562.9" y1="957.3" x2="562.9" y2="1387.3" stroke="#e0e0e0" stroke-width="1.1" />
<line x1="593.0" y1="957.3" x2="593.0" y2="1387.3" stroke="#e0e0e0" stroke-width="1.1" />
<line x1="623.1" y1="957.3" x2="623.1" y2="1387.3" stroke="#e0e0e0" stroke-width="1.1" />
<line x1="653.2" y1="957.3" x2="653.2" y2="1387.3" stroke="#e0e0e0" stroke-width="1.1" />
<line x1="683.3" y1="957.3" x2="683.3" y2="1387.3" stroke="#e0e0e0" stroke-width="1.1" />
<line x1="713.4" y1="957.3" x2="713.4" y2="1387.3" stroke="#e0e0e0" stroke-width="1.1" />
<line x1="743.6" y1="957.3" x2="743.6" y2="1387.3" stroke="#e0e0e0" stroke-width="1.1" />
<line x1="773.7" y1="957.3" x2="773.7" y2="1387.3" stroke="#e0e0e0" stroke-width="1.1" />
<line x1="803.8" y1="957.3" x2="803.8" y2="1387.3" stroke="#e0e0e0" stroke-width="1.1" />
<line x1="329.3" y1="1368.0" x2="825.7" y2="1368.0" stroke="#e0e0e0" stroke-width="1.1" />
<line x1="329.3" y1="1319.1" x2="825.7" y2="1319.1" stroke="#e0e0e0" stroke-width="1.1" />
<line x1="329.3" y1="1270.2" x2="825.7" y2="1270.2" stroke="#e0e0e0" stroke-width="1.1" />
<line x1="329.3" y1="1172.4" x2="825.7" y2="1172.4" stroke="#e0e0e0" stroke-width="1.1" />
<line x1="329.3" y1="1123.5" x2="825.7" y2="1123.5" stroke="#e0e0e0" stroke-width="1.1" />
<line x1="329.3" y1="1074.6" x2="825.7" y2="1074.6" stroke="#e0e0e0" stroke-width="1.1" />
<line x1="329.3" y1="1025.7" x2="825.7" y2="1025.7" stroke="#e0e0e0" stroke-width="1.1" />
<line x1="329.3" y1="976.8" x2="825.7" y2="976.8" stroke="#e0e0e0" stroke-width="1.1" />
<line x1="329.3" y1="1221.3" x2="825.7" y2="1221.3" stroke="#111" stroke-width="1.3" />
<line x1="502.7" y1="957.3" x2="502.7" y2="1387.3" stroke="#333" stroke-width="1.3" />
<path d="M352.2 1220l5-.1 5 0 5 .1 5 .3 5.1 .4 5 .3 5 0 5 0 5 0 5 0 5.1 .1 5-.1 5-.9 5-1 5 .4 5.1 2.1 5 1.9 5 1.4 5 .4 5 .2 5-.1 5.1-.6 5-1 5-.9 5-.8 5-.9 5-.7 5.1-.7 5 0 5 2.5 5 13.6 5 12.4 5.1 5.1 5 2 5 2.6 5-1.4 5-6.3 5-7.5 5.1-4.8 5-3.2 5-2.6 5-2.1 5-1.2 5 .9 5.1 2.6 5 2.2 5 .9 5-.3 5-.5 5.1-.5 5-.8 5-1.4 5-1.8 5-1.3 5-.8 5.1-.6 5-.2 5 .2 5 .3 5 .1 5.1-.5 5-1.1 5-1.1 5-.7 5-.3 5 .2 5.1-.1 5-.4 5-.5 5 .1 5 .7 5 .5 5.1-.1 5-.7 5-.8 5-.3 5 .1 5.1 .2 5 .4 5 .5 5 .5 5-.3 5-.6 5.1-.3 5 .1 5 .2 5 .2 5 .4 5.1 .8 5 .8 0 4.4-5-.8-5.1-.8-5-.4-5-.2-5-.2-5-.1-5.1 .3-5 .6-5 .3-5-.5-5-.5-5-.4-5.1-.2-5-.1-5 .3-5 .8-5 .7-5.1 .1-5-.5-5-.7-5-.1-5 .5-5 .4-5.1 .1-5-.2-5 .3-5 .7-5 1.1-5 1.1-5.1 .5-5-.1-5-.3-5-.2-5 .2-5.1 .6-5 .8-5 1.3-5 1.8-5 1.4-5 .8-5.1 .5-5 .5-5 .3-5-.9-5-2.2-5.1-2.6-5-.9-5 1.2-5 2.1-5 2.6-5 3.2-5.1 4.8-5 7.5-5 6.3-5 1.4-5-2.6-5-2-5.1-5.1-5-12.4-5-13.6-5-4.2-5-.1-5.1 .7-5 .7-5 .9-5 .9-5 .9-5 .9-5.1 .6-5 .1-5-.1-5-.5-5-1.4-5-1.9-5.1-2-5-.5-5 1.1-5 .8-5 .1-5.1 0-5-.1-5 0-5 .1-5-.1-5-.3-5.1-.4-5-.3-5-.1-5 .1-5 0z" fill="#fdd66e" fill-opacity="0.75"/>
<path d="M352.2 1212l5 2 5 1.9 5 1.9 5 1.8 5.1 1.7 5 1.4 5 1 5 .8 5 .7 5 .8 5.1 .7 5-.1 5-1.2 5-2.1 5-2 5.1-2.1 5-2 5-1.8 5-1.5 5-1.2 5-.7 5.1 .5 5 2.5 5 4.3 5 6.3 5 8.6 5 7.3 5.1 6.1 5 3.2 5-6.8 5-29.3 5-39.7 5.1-30.2 5-19.9 5-7.1 5 1.4 5 4.9 5 6.7 5.1 6.8 5 6.5 5 5.2 5 3.8 5 2.9 5 2 5.1 .8 5 .2 5-.1 5 .1 5 .2 5.1 .4 5 .8 5 1.6 5 2 5 1.8 5 1.3 5.1 1.1 5 1 5 .9 5 .7 5 .9 5.1 1.2 5 1.4 5 1.3 5 1.1 5 1.1 5 1.2 5.1 1.3 5 1.3 5 1.3 5 1.2 5 1.2 5 1 5.1 1 5 .8 5 .7 5 .6 5 .4 5.1 .4 5 .4 5 .3 5 .3 5 .5 5 .6 5.1 .4 5 .1 5 0 5-.1 5-.3 5.1-.3 5-.4 0 3.4-5 .4-5.1 .4-5 .2-5 .1-5 .1-5-.2-5.1-.4-5-.5-5-.6-5-.3-5-.3-5-.3-5.1-.4-5-.5-5-.6-5-.7-5-.8-5.1-.9-5-1.1-5-1.2-5-1.2-5-1.2-5-1.4-5.1-1.3-5-1.1-5-1.1-5-1.2-5-1.3-5-1.4-5.1-1.2-5-.9-5-.7-5-.9-5-1-5.1-1.1-5-1.3-5-1.8-5-2-5-1.6-5-.8-5.1-.4-5-.2-5-.1-5 .1-5-.1-5.1-.9-5-2-5-2.9-5-3.8-5-5.2-5-6.5-5.1-6.7-5-6.8-5-4.9-5-1.4-5 7.1-5 20-5.1 30.1-5 39.7-5 29.4-5 5.3-5-3.1-5.1-6.1-5-7.3-5-8.6-5-6.4-5-4.2-5-2.6-5.1-.5-5 .7-5 1.3-5 1.4-5 1.8-5 2.1-5.1 2-5 2.1-5 2-5 1.3-5 0-5.1-.7-5-.8-5-.6-5-.8-5-1-5-1.4-5.1-1.7-5-1.8-5-1.9-5-2-5-2z" fill="#d9c2e3" fill-opacity="0.6"/>
<path d="M352.2 1208l5 2.6 5 2.4 5 2.3 5 2.2 5.1 2.1 5 1.7 5 1.3 5 1.2 5 .9 5 .5 5.1-.7 5-2.5 5-4 5-6 5-4.9 5.1-1.9 5-.2 5 .5 5 1.6 5 2.6 5 4.2 5.1 4.2 5 2.8 5 1.9 5 1.5 5 1.5 5 .3 5.1-2.3 5-5.2 5-12.2 5-40.1 5-88.1 5.1-64.4 5-16.9 5 8.9 5 11.6 5 10 5 7.3 5.1 5.8 5 5.3 5 4.2 5 3.1 5 3 5 3 5.1 .8 5-1 5-.9 5 1 5 2.5 5.1 3.6 5 4.9 5 6 5 6.5 5 6.4 5 6.2 5.1 5.5 5 4.9 5 5.2 5 6.1 5 5.9 5.1 4.3 5 2.2 5 1.3 5 1.9 5 2.8 5 3.1 5.1 2.7 5 2.1 5 1.8 5 1.8 5 1.8 5 1.9 5.1 2.1 5 2 5 1.8 5 1.6 5 2.1 5.1 2.4 5 2 5 .7 5 0 5 .3 5 1.3 5.1 1.3 5-.3 5-1.6 5-1 5 1.1 5.1 2.3 5 1.7 0 8.3-5-1.7-5.1-2.3-5-1.1-5 1-5 1.7-5 .2-5.1-1.3-5-1.3-5-.3-5 .1-5-.8-5-2-5.1-2.4-5-2.1-5-1.6-5-1.7-5-2.1-5.1-2.1-5-1.9-5-1.8-5-1.8-5-1.8-5-2.1-5.1-2.7-5-3.1-5-2.8-5-1.8-5-1.4-5-2.2-5.1-4.3-5-5.9-5-6.1-5-5.2-5-4.8-5.1-5.6-5-6.1-5-6.5-5-6.5-5-6-5-4.9-5.1-3.6-5-2.5-5-1-5 .9-5 1-5.1-.8-5-3-5-3-5-3.1-5-4.2-5-5.3-5.1-5.8-5-7.3-5-10-5-11.6-5-8.9-5 16.9-5.1 64.4-5 88.1-5 40.1-5 8.9-5 5.1-5.1 2.4-5-.3-5-1.5-5-1.6-5-1.8-5-2.8-5.1-4.3-5-4.2-5-2.5-5-1.6-5-.5-5 .2-5.1 1.9-5 4.9-5 5.9-5 4.1-5 2.5-5.1 .7-5-.5-5-.9-5-1.2-5-1.4-5-1.6-5.1-2.1-5-2.2-5-2.3-5-2.4-5-2.6z" fill="#9ed8e8" fill-opacity="0.7"/>
<path d="M352.2 1221.3l2.5 0 2.5 0 2.5-.1 2.5 0 2.5 0 2.5 .1 2.5 .1 2.5 .2 2.5 .2 2.6 .2 2.5 .2 2.5 .1 2.5 0 2.5 .1 2.5-.1 2.5 0 2.5 0 2.5 0 2.5 0 2.5 0 2.6 .1 2.5 0 2.5 0 2.5-.1 2.5-.3 2.5-.6 2.5-.5 2.5-.5 2.5 0 2.5 .5 2.5 .9 2.6 1.1 2.5 .9 2.5 1 2.5 .9 2.5 .5 2.5 .3 2.5 .2 2.5 .1 2.5 0 2.5 0 2.5-.1 2.5-.3 2.6-.3 2.5-.5 2.5-.4 2.5-.5 2.5-.5 2.5-.4 2.5-.4 2.5-.5 2.5-.4 2.5-.4 2.5-.3 2.6-.3 2.5-.4 2.5-.2 2.5 .3 2.5 .9 2.5 2.4 2.5 5.2 2.5 8.4 2.5 7.7 2.5 4.7 2.5 3.1 2.6 2 2.5 1.1 2.5 .9 2.5 1.2 2.5 1.4 2.5 .3 2.5-1.7 2.5-2.8 2.5-3.5 2.5-3.9 2.5-3.6 2.6-2.7 2.5-2.1 2.5-1.7 2.5-1.5 2.5-1.4 2.5-1.2 2.5-1.1 2.5-1 2.5-.8 2.5-.4 2.5 .1 2.5 .8 2.6 1.4 2.5 1.2 2.5 1.1 2.5 1.1 2.5 .7 2.5 .2 2.5-.1 2.5-.2 2.5-.3 2.5-.2 2.5-.2 2.6-.3 2.5-.3 2.5-.5 2.5-.6 2.5-.8 2.5-.9 2.5-.9 2.5-.7 2.5-.6 2.5-.4 2.5-.4 2.6-.3 2.5-.3 2.5-.2 2.5 0 2.5 .1 2.5 .1 2.5 .2 2.5 .1 2.5 .1 2.5 0 2.5-.2 2.6-.3 2.5-.5 2.5-.6 2.5-.6 2.5-.5 2.5-.4 2.5-.3 2.5-.2 2.5-.1 2.5 .1 2.5 .1 2.6 0 2.5-.1 2.5-.1 2.5-.3 2.5-.3 2.5-.2 2.5 0 2.5 .1 2.5 .4 2.5 .3 2.5 .3 2.5 .2 2.6 0 2.5-.1 2.5-.3 2.5-.4 2.5-.4 2.5-.4 2.5-.2 2.5-.1 2.5 0 2.5 .1 2.5 .1 2.6 .1 2.5 .2 2.5 .2 2.5 .3 2.5 .2 2.5 .3 2.5 .2 2.5-.1 2.5-.2 2.5-.3 2.5-.3 2.6-.2 2.5-.1 2.5 0 2.5 .1 2.5 .1 2.5 .1 2.5 .1 2.5 .1 2.5 .2 2.5 .2 2.5 .4 2.6 .4 2.5 .4 2.5 .4" fill="none" stroke="#f9a93a" stroke-width="2.2" stroke-linejoin="round"/>
<path d="M352.2 1213l2.5 1 2.5 1 2.5 1 2.5 1 2.5 .9 2.5 1 2.5 .9 2.5 .8 2.5 .9 2.6 .8 2.5 .8 2.5 .6 2.5 .6 2.5 .5 2.5 .4 2.5 .3 2.5 .4 2.5 .3 2.5 .4 2.5 .4 2.6 .4 2.5 .3 2.5 .1 2.5-.1 2.5-.5 2.5-.8 2.5-1 2.5-1 2.5-1.1 2.5-1 2.5-1 2.6-1 2.5-1.1 2.5-1 2.5-.9 2.5-.9 2.5-.7 2.5-.8 2.5-.6 2.5-.6 2.5-.5 2.5-.2 2.5 0 2.6 .5 2.5 1.1 2.5 1.5 2.5 1.8 2.5 2.4 2.5 2.8 2.5 3.5 2.5 4.3 2.5 4.4 2.5 3.8 2.5 3.4 2.6 3.2 2.5 2.9 2.5 2.4 2.5 .8 2.5-1.7 2.5-4.3 2.5-11.5 2.5-17.9 2.5-19.6 2.5-20.1 2.5-17 2.6-13.2 2.5-11.2 2.5-8.7 2.5-5.1 2.5-2 2.5 .2 2.5 1.2 2.5 2.1 2.5 2.8 2.5 3.3 2.5 3.5 2.6 3.3 2.5 3.4 2.5 3.4 2.5 3.1 2.5 2.8 2.5 2.4 2.5 2.1 2.5 1.7 2.5 1.5 2.5 1.4 2.5 1.2 2.5 .8 2.6 .6 2.5 .3 2.5 .1 2.5 0 2.5-.1 2.5 0 2.5 0 2.5 .1 2.5 .1 2.5 .1 2.5 .2 2.6 .2 2.5 .3 2.5 .5 2.5 .7 2.5 .9 2.5 1 2.5 1 2.5 1 2.5 .8 2.5 .7 2.5 .6 2.6 .6 2.5 .5 2.5 .5 2.5 .5 2.5 .5 2.5 .4 2.5 .3 2.5 .4 2.5 .4 2.5 .5 2.5 .6 2.6 .6 2.5 .7 2.5 .7 2.5 .6 2.5 .7 2.5 .6 2.5 .5 2.5 .6 2.5 .6 2.5 .5 2.5 .6 2.6 .6 2.5 .7 2.5 .7 2.5 .6 2.5 .7 2.5 .6 2.5 .6 2.5 .6 2.5 .6 2.5 .6 2.5 .5 2.5 .5 2.6 .5 2.5 .5 2.5 .4 2.5 .4 2.5 .4 2.5 .3 2.5 .3 2.5 .3 2.5 .2 2.5 .2 2.5 .3 2.6 .2 2.5 .1 2.5 .2 2.5 .1 2.5 .2 2.5 .2 2.5 .1 2.5 .3 2.5 .2 2.5 .3 2.5 .3 2.6 .2 2.5 .2 2.5 .1 2.5 0 2.5 .1 2.5-.1 2.5 0 2.5-.1 2.5-.1 2.5-.1 2.5-.2 2.6-.2 2.5-.2 2.5-.2" fill="none" stroke="#7b2d8e" stroke-width="2.2" stroke-linejoin="round"/>
<path d="M352.2 1210.5l2.5 1.3 2.5 1.3 2.5 1.2 2.5 1.2 2.5 1.1 2.5 1.2 2.5 1.1 2.5 1.1 2.5 1.1 2.6 1 2.5 .9 2.5 .7 2.5 .7 2.5 .7 2.5 .6 2.5 .6 2.5 .5 2.5 .4 2.5 .3 2.5 .2 2.6-.2 2.5-.5 2.5-1 2.5-1.5 2.5-1.8 2.5-2.2 2.5-2.9 2.5-3.1 2.5-2.9 2.5-2 2.5-1.2 2.6-.7 2.5-.3 2.5 .1 2.5 .2 2.5 .3 2.5 .7 2.5 .9 2.5 1.1 2.5 1.5 2.5 1.9 2.5 2.2 2.5 2.3 2.6 2 2.5 1.6 2.5 1.2 2.5 1 2.5 .9 2.5 .7 2.5 .8 2.5 .8 2.5 .7 2.5 .4 2.5-.1 2.6-.8 2.5-1.6 2.5-2.2 2.5-2.9 2.5-3.4 2.5-7.2 2.5-13.6 2.5-26.4 2.5-44.4 2.5-43.7 2.5-39.6 2.6-24.8 2.5-12.4 2.5-4.5 2.5 3.4 2.5 5.4 2.5 5.7 2.5 5.9 2.5 5.3 2.5 4.7 2.5 4 2.5 3.3 2.6 3.1 2.5 2.8 2.5 2.7 2.5 2.5 2.5 2.3 2.5 2 2.5 1.6 2.5 1.4 2.5 1.4 2.5 1.6 2.5 1.7 2.5 1.4 2.6 .7 2.5 .1 2.5-.5 2.5-.6 2.5-.6 2.5-.2 2.5 .2 2.5 .8 2.5 1.1 2.5 1.3 2.5 1.7 2.6 2 2.5 2.3 2.5 2.6 2.5 2.9 2.5 3.1 2.5 3.2 2.5 3.2 2.5 3.3 2.5 3.2 2.5 3.1 2.5 3.1 2.6 2.8 2.5 2.7 2.5 2.5 2.5 2.4 2.5 2.4 2.5 2.8 2.5 2.9 2.5 3.1 2.5 3.1 2.5 2.9 2.5 2.4 2.6 1.8 2.5 1.4 2.5 .9 2.5 .6 2.5 .7 2.5 .8 2.5 1.1 2.5 1.3 2.5 1.4 2.5 1.6 2.5 1.5 2.6 1.5 2.5 1.2 2.5 1.1 2.5 1 2.5 1 2.5 .9 2.5 .9 2.5 .9 2.5 .9 2.5 .9 2.5 .9 2.5 1 2.6 1 2.5 1.1 2.5 1 2.5 1 2.5 .9 2.5 .8 2.5 .8 2.5 .9 2.5 .9 2.5 1.1 2.5 1.3 2.6 1.2 2.5 1.1 2.5 .8 2.5 .6 2.5 .2 2.5 0 2.5-.1 2.5 .1 2.5 .2 2.5 .6 2.5 .7 2.6 .8 2.5 .6 2.5 .1 2.5-.4 2.5-.8 2.5-.9 2.5-.7 2.5-.2 2.5 .3 2.5 .8 2.5 1.1 2.6 1.1 2.5 1 2.5 .7" fill="none" stroke="#3eaed1" stroke-width="2.2" stroke-linejoin="round"/>
<rect x="329.3" y="957.3" width="496.4" height="430.0" fill="none" stroke="#333" stroke-width="1.3"/>
<line x1="352.2" y1="1387.3" x2="352.2" y2="1391.3" stroke="#333" stroke-width="1.1" />
<line x1="382.3" y1="1387.3" x2="382.3" y2="1391.3" stroke="#333" stroke-width="1.1" />
<line x1="412.4" y1="1387.3" x2="412.4" y2="1391.3" stroke="#333" stroke-width="1.1" />
<line x1="442.5" y1="1387.3" x2="442.5" y2="1391.3" stroke="#333" stroke-width="1.1" />
<line x1="472.6" y1="1387.3" x2="472.6" y2="1391.3" stroke="#333" stroke-width="1.1" />
<line x1="502.7" y1="1387.3" x2="502.7" y2="1391.3" stroke="#333" stroke-width="1.1" />
<line x1="532.8" y1="1387.3" x2="532.8" y2="1391.3" stroke="#333" stroke-width="1.1" />
<line x1="562.9" y1="1387.3" x2="562.9" y2="1391.3" stroke="#333" stroke-width="1.1" />
<line x1="593.0" y1="1387.3" x2="593.0" y2="1391.3" stroke="#333" stroke-width="1.1" />
<line x1="623.1" y1="1387.3" x2="623.1" y2="1391.3" stroke="#333" stroke-width="1.1" />
<line x1="653.2" y1="1387.3" x2="653.2" y2="1391.3" stroke="#333" stroke-width="1.1" />
<line x1="683.3" y1="1387.3" x2="683.3" y2="1391.3" stroke="#333" stroke-width="1.1" />
<line x1="713.4" y1="1387.3" x2="713.4" y2="1391.3" stroke="#333" stroke-width="1.1" />
<line x1="743.6" y1="1387.3" x2="743.6" y2="1391.3" stroke="#333" stroke-width="1.1" />
<line x1="773.7" y1="1387.3" x2="773.7" y2="1391.3" stroke="#333" stroke-width="1.1" />
<line x1="803.8" y1="1387.3" x2="803.8" y2="1391.3" stroke="#333" stroke-width="1.1" />
<text x="349.2" y="1407.5" font-size="18.3" text-anchor="middle" fill="#1a1a1a">-5</text>
<text x="502.7" y="1407.5" font-size="18.3" text-anchor="middle" fill="#1a1a1a">0</text>
<text x="653.2" y="1407.5" font-size="18.3" text-anchor="middle" fill="#1a1a1a">5</text>
<text x="803.8" y="1407.5" font-size="18.3" text-anchor="middle" fill="#1a1a1a">10</text>
<line x1="325.3" y1="1025.7" x2="329.3" y2="1025.7" stroke="#333" stroke-width="1.1" />
<text x="324.5" y="1032.0" font-size="18.3" text-anchor="end" fill="#1a1a1a">4</text>
<line x1="325.3" y1="1123.5" x2="329.3" y2="1123.5" stroke="#333" stroke-width="1.1" />
<text x="324.5" y="1129.8" font-size="18.3" text-anchor="end" fill="#1a1a1a">2</text>
<line x1="325.3" y1="1221.3" x2="329.3" y2="1221.3" stroke="#333" stroke-width="1.1" />
<text x="324.5" y="1227.6" font-size="18.3" text-anchor="end" fill="#1a1a1a">0</text>
<line x1="325.3" y1="1319.1" x2="329.3" y2="1319.1" stroke="#333" stroke-width="1.1" />
<text x="324.5" y="1325.4" font-size="18.3" text-anchor="end" fill="#1a1a1a">−2</text>
<text x="570.0" y="1420.5" font-size="16.8" text-anchor="middle" fill="#1a1a1a">Time (sec)</text>
<text x="306.0" y="1165.5" font-size="18.5" text-anchor="middle" fill="#1a1a1a" transform="rotate(-90 306.0 1165.5)">Z score</text>
<rect x="635.7" y="977.5" width="147.6" height="98.8" fill="#fff" stroke="#333" stroke-width="1.2"/>
<text x="645.7" y="998.8" font-size="21.5" fill="#1a1a1a">Sensor</text>
<rect x="645.7" y="1005.9" width="18.6" height="18.6" fill="#eadcf0"/>
<line x1="646.2" y1="1015.2" x2="663.8" y2="1015.2" stroke="#7b2d8e" stroke-width="1.6" />
<text x="668.3" y="1021.8" font-size="18.6" fill="#1a1a1a">GCaMP</text>
<rect x="645.7" y="1030.2" width="18.6" height="18.6" fill="#c5e6f0"/>
<line x1="646.2" y1="1039.5" x2="663.8" y2="1039.5" stroke="#3eaed1" stroke-width="1.6" />
<text x="668.3" y="1046.1" font-size="18.6" fill="#1a1a1a">iGluSnFR</text>
<rect x="645.7" y="1054.5" width="18.6" height="18.6" fill="#fde08a"/>
<line x1="646.2" y1="1063.8" x2="663.8" y2="1063.8" stroke="#f9a93a" stroke-width="1.6" />
<text x="668.3" y="1070.4" font-size="18.6" fill="#1a1a1a">iGABASnFR</text>
<text x="294.5" y="989.5" font-size="29" font-weight="bold">e</text>
<rect x="869.3" y="957.3" width="476.4" height="430.0" fill="#fff"/>
<line x1="891.4" y1="957.3" x2="891.4" y2="1387.3" stroke="#e0e0e0" stroke-width="1.1" />
<line x1="920.3" y1="957.3" x2="920.3" y2="1387.3" stroke="#e0e0e0" stroke-width="1.1" />
<line x1="949.2" y1="957.3" x2="949.2" y2="1387.3" stroke="#e0e0e0" stroke-width="1.1" />
<line x1="978.1" y1="957.3" x2="978.1" y2="1387.3" stroke="#e0e0e0" stroke-width="1.1" />
<line x1="1007.0" y1="957.3" x2="1007.0" y2="1387.3" stroke="#e0e0e0" stroke-width="1.1" />
<line x1="1035.9" y1="957.3" x2="1035.9" y2="1387.3" stroke="#e0e0e0" stroke-width="1.1" />
<line x1="1064.8" y1="957.3" x2="1064.8" y2="1387.3" stroke="#e0e0e0" stroke-width="1.1" />
<line x1="1093.7" y1="957.3" x2="1093.7" y2="1387.3" stroke="#e0e0e0" stroke-width="1.1" />
<line x1="1122.6" y1="957.3" x2="1122.6" y2="1387.3" stroke="#e0e0e0" stroke-width="1.1" />
<line x1="1151.5" y1="957.3" x2="1151.5" y2="1387.3" stroke="#e0e0e0" stroke-width="1.1" />
<line x1="1180.4" y1="957.3" x2="1180.4" y2="1387.3" stroke="#e0e0e0" stroke-width="1.1" />
<line x1="1209.3" y1="957.3" x2="1209.3" y2="1387.3" stroke="#e0e0e0" stroke-width="1.1" />
<line x1="1238.2" y1="957.3" x2="1238.2" y2="1387.3" stroke="#e0e0e0" stroke-width="1.1" />
<line x1="1267.1" y1="957.3" x2="1267.1" y2="1387.3" stroke="#e0e0e0" stroke-width="1.1" />
<line x1="1296.0" y1="957.3" x2="1296.0" y2="1387.3" stroke="#e0e0e0" stroke-width="1.1" />
<line x1="1324.9" y1="957.3" x2="1324.9" y2="1387.3" stroke="#e0e0e0" stroke-width="1.1" />
<line x1="869.3" y1="1368.1" x2="1345.7" y2="1368.1" stroke="#e0e0e0" stroke-width="1.1" />
<line x1="869.3" y1="1319.2" x2="1345.7" y2="1319.2" stroke="#e0e0e0" stroke-width="1.1" />
<line x1="869.3" y1="1270.4" x2="1345.7" y2="1270.4" stroke="#e0e0e0" stroke-width="1.1" />
<line x1="869.3" y1="1172.6" x2="1345.7" y2="1172.6" stroke="#e0e0e0" stroke-width="1.1" />
<line x1="869.3" y1="1123.8" x2="1345.7" y2="1123.8" stroke="#e0e0e0" stroke-width="1.1" />
<line x1="869.3" y1="1074.9" x2="1345.7" y2="1074.9" stroke="#e0e0e0" stroke-width="1.1" />
<line x1="869.3" y1="1026.1" x2="1345.7" y2="1026.1" stroke="#e0e0e0" stroke-width="1.1" />
<line x1="869.3" y1="977.2" x2="1345.7" y2="977.2" stroke="#e0e0e0" stroke-width="1.1" />
<line x1="869.3" y1="1221.5" x2="1345.7" y2="1221.5" stroke="#111" stroke-width="1.3" />
<line x1="1035.9" y1="957.3" x2="1035.9" y2="1387.3" stroke="#333" stroke-width="1.3" />
<clipPath id="clipF"><rect x="869.3" y="957.3" width="476.4000000000001" height="430.0"/></clipPath>
<g clip-path="url(#clipF)">
<path d="M891.4 1212.2l5.8 .4 5.8 2.3 5.7 1.6 5.8 1.7 5.8 1.6 5.8-.4 5.8-1.1 5.7 .1 5.8 .2 5.8-1.7 5.8-4.5 5.8-4.3 5.7-2 5.8-.1 5.8 1.9 5.8 2.5 5.8 1.7 5.7 .9 5.8 2.7 5.8 4.4 5.8 .8 5.8-2.5 5.7-.5 5.8-2.2 5.8-15.4 5.8-55.9 5.8-81.1 5.7-73.6 5.8-21.8 5.8-11.2 5.8-4.5 5.8-7.2 5.7-3.3 5.8 7.5 5.8 11.3 5.8 13.3 5.8 15.4 5.7 12.8 5.8 12.2 5.8 11.7 5.8 10.7 5.8 12 5.7 10.8 5.8 7.4 5.8 9.9 5.8 10.5 5.8 4.1 5.7 3.5 5.8 8.4 5.8 3.5 5.8-2.6 5.8 3.9 5.7 7 5.8 2.4 5.8 5.1 5.8 7.9 5.8 3 5.7 1.3 5.8 4.7 5.8 4.7 5.8 2.8 5.8 1.2 5.7-1.2 5.8-.3 5.8 1.4 5.8-1.8 5.8-2.3 5.7 1.2 5.8 2.9 5.8 2.1 5.8 4 5.8 3.5 5.7-1.7 5.8 0 5.8 1.5 0 37-5.8-1.8-5.8 2.1-5.7 .7-5.8-2.7-5.8-3.1-5.8-2.9-5.8-5.5-5.7-2.2-5.8 5.5-5.8 4.9-5.8-2.8-5.8-2.7-5.7 .6-5.8 .2-5.8-1.8-5.8-4.4-5.8-5.7-5.7-3.3-5.8-2.9-5.8-4.6-5.8-2.8-5.8-4.6-5.7-10.4-5.8-5-5.8 3.9-5.8-1-5.8-6.4-5.7-4.4-5.8-7.4-5.8-11.2-5.8-7-5.8-6.4-5.7-13.4-5.8-13.9-5.8-8.9-5.8-8.9-5.8-11.5-5.7-14.6-5.8-18.2-5.8-14-5.8-8.1-5.8-4.9-5.7 .7-5.8 3.2-5.8 5.7-5.8 16.3-5.8 23.3-5.7 63.1-5.8 69.9-5.8 47.8-5.8 11.1-5.8 6.5-5.7 1.2-5.8-1.4-5.8-3.6-5.8-2.3-5.8-.2-5.7-1.8-5.8-3.8-5.8-2.7-5.8-.6-5.8 1.5-5.7 2.9-5.8 3.1-5.8 1.8-5.8 1.5-5.8 2.3-5.7 .9-5.8-.6-5.8-.7-5.8-.6-5.8-.2-5.7-.7-5.8-3-5.8-3.6z" fill="#a5d9ea" fill-opacity="0.55"/>
<path d="M891.4 1210.8l5.8 3.7 5.8 2.1 5.7 1.3 5.8 2.6 5.8 2.1 5.8 .4 5.8 0 5.7-1 5.8-2.2 5.8-2.5 5.8-5.2 5.8-6.8 5.7-4.6 5.8-1.2 5.8 2.8 5.8 4.5 5.8 5.3 5.7 3.8 5.8 1.6 5.8 2.4 5.8 2.6 5.8 1.2 5.7-.5 5.8-5.7 5.8-16 5.8-53.5 5.8-69.6 5.7-34.7 5.8-2.1 5.8 3.7 5.8 4.8 5.8-.5 5.7 .4 5.8 2.1 5.8 3.7 5.8 4.7 5.8 2 5.7-2.1 5.8 5.7 5.8 7.8 5.8 1.6 5.8-.2 5.7 5 5.8 6.8 5.8 4.4 5.8 4.5 5.8 9 5.7 10.8 5.8 7.4 5.8 3.9 5.8 5.6 5.8 7.8 5.7 3.1 5.8-.5 5.8 3.6 5.8 5.2 5.8 3 5.7 2.9 5.8 3.8 5.8 4.4 5.8 4.8 5.8 1 5.7-1.3 5.8 2.7 5.8 2.8 5.8-2.6 5.8-.7 5.7 3.4 5.8 .6 5.8-.4 5.8 1.5 5.8-.9 5.7 0 5.8 4.8 5.8-.1 0 23.7-5.8 .3-5.8-5.2-5.7-1.3-5.8 1.1-5.8-.6-5.8 .8-5.8-1.2-5.7-3.5-5.8 1.6-5.8 3.7-5.8-3.1-5.8-4.5-5.7 0-5.8-.5-5.8-3.1-5.8-3.5-5.8-4.3-5.7-3.7-5.8-3.1-5.8-4.9-5.8-3.8-5.8-.3-5.7-3.2-5.8-6.7-5.8-4.3-5.8-4.2-5.8-9.1-5.7-11.9-5.8-8.2-5.8-2.7-5.8-3.7-5.8-7.9-5.7-6.4-5.8-.1-5.8-.8-5.8-7.3-5.8-5.6-5.7 2.1-5.8-1.4-5.8-4.4-5.8-4.8-5.8-3.9-5.7-1-5.8 2-5.8-2.2-5.8-2.8-5.8 .8-5.7 28.4-5.8 64.4-5.8 49.7-5.8 12.3-5.8 5.9-5.7 .9-5.8-.3-5.8-1.9-5.8-3.1-5.8-3.5-5.7-5-5.8-4.5-5.8-2.9-5.8-1.9-5.8 .6-5.7 3.8-5.8 7.1-5.8 5.9-5.8 2.2-5.8 .8-5.7 0-5.8 .7-5.8 1.3-5.8-1-5.8-3-5.7-2.3-5.8-2.4-5.8-3.8z" fill="#6fa8d2" fill-opacity="0.6"/>
<path d="M891.4 1212.7l5.8 2.2 5.8 2.5 5.7 1.8 5.8 1.5 5.8 2.1 5.8 1.3 5.8-1.1 5.7-1.8 5.8-.5 5.8-1.9 5.8-6.4 5.8-5.5 5.7-1.7 5.8-1 5.8 .4 5.8 2.6 5.8 4.5 5.7 4.6 5.8 3.3 5.8 2.5 5.8 .9 5.8-.1 5.7-.8 5.8-5.1 5.8-14.7 5.8-52.4 5.8-71.1 5.7-23.1 5.8 6.7 5.8 12.5 5.8 13.7 5.8 9.2 5.7 6.4 5.8 7.4 5.8 6.7 5.8 3.1 5.8-.3 5.7-3.2 5.8 3.6 5.8 5.9 5.8 3.2 5.8 4.1 5.7 5.7 5.8 4.6 5.8 2.5 5.8 3 5.8 4.8 5.7 4 5.8 2.2 5.8 3.5 5.8 4.1 5.8 1.7 5.7 1.2 5.8 3.2 5.8 2.9 5.8 1.6 5.8 1.9 5.7 1 5.8-1.8 5.8 0 5.8 4.1 5.8 1.8 5.7-3 5.8-1.1 5.8 2.6 5.8 .4 5.8-.7 5.7 2.8 5.8 1.8 5.8-3.3 5.8-1.2 5.8 4.3 5.7 1.1 5.8-5.2 5.8-3.3 0 16-5.8 3.8-5.8 5.2-5.7-2.2-5.8-3.5-5.8 2.2-5.8 3.4-5.8-2.9-5.7-4.1-5.8 .8-5.8 .8-5.8-1.6-5.8 .8-5.7 2.2-5.8-2.3-5.8-4-5.8 .3-5.8 2.1-5.7-.7-5.8-2.1-5.8-2.1-5.8-3.3-5.8-2.6-5.7-.5-5.8-1.7-5.8-5.1-5.8-4.3-5.8-1.7-5.7-2.9-5.8-4.1-5.8-3.6-5.8-3.3-5.8-5.1-5.7-5.9-5.8-3.7-5.8-2.1-5.8-5.1-5.8-3.9-5.7 1.8-5.8-.9-5.8-2.8-5.8-5.4-5.8-6.5-5.7-6.4-5.8-9.8-5.8-14.2-5.8-13.1-5.8-6.9-5.7 20.6-5.8 69.2-5.8 50.4-5.8 11.5-5.8 4.2-5.7 0-5.8 .1-5.8-.8-5.8-2-5.8-2.4-5.7-3.9-5.8-4.9-5.8-4.1-5.8-1.7-5.8 1.4-5.7 3.3-5.8 6.7-5.8 6.4-5.8 1-5.8-.7-5.7 1-5.8 1.2-5.8 0-5.8-.6-5.8-1.2-5.7-3.1-5.8-4.2-5.8-2.4z" fill="#6fa8d2" fill-opacity="0.5"/>
<path d="M891.4 1212.3l5.8 3.4 5.8 3 5.7 .6 5.8-.2 5.8 1.1 5.8 1.7 5.8 .4 5.7-1.1 5.8-1.4 5.8-1.9 5.8-4.1 5.8-4.2 5.7-2.6 5.8-1.9 5.8 1.2 5.8 4.5 5.8 4.1 5.7 1.5 5.8 1.4 5.8 2.6 5.8 1.2 5.8 0 5.7 .1 5.8-4.6 5.8-15.6 5.8-36 5.8-54.2 5.7-27.8 5.8-6.3 5.8 6.4 5.8 6.8 5.8 3.6 5.7 .5 5.8-.7 5.8 4.5 5.8 5.7 5.8 1 5.7-.8 5.8 .3 5.8-.3 5.8 1.7 5.8 6 5.7 5.3 5.8 2.8 5.8 4.3 5.8 4.7 5.8 1.8 5.7 1.1 5.8 1.7 5.8-.4 5.8 1.1 5.8 5 5.7 3.9 5.8 2.3 5.8 4.4 5.8 4.5 5.8 1.4 5.7 .3 5.8 1.6 5.8 3.4 5.8 4.2 5.8 2.5 5.7 1.3 5.8 2.7 5.8 1.7 5.8-.9 5.8 1.2 5.7 2.8 5.8-1.3 5.8-2.5 5.8 2.8 5.8 4.4 5.7 .9 5.8-.7 5.8-.7 0 23.4-5.8-.3-5.8-2-5.7-2-5.8-2.4-5.8 .6-5.8 1.8-5.8-2.4-5.7-4.2-5.8 .8-5.8 2.5-5.8-1.4-5.8-2.6-5.7-2.1-5.8-3.8-5.8-4.1-5.8-2.5-5.8-2.4-5.7-.8-5.8 .8-5.8-2.5-5.8-6.5-5.8-5.5-5.7-3.7-5.8-2.9-5.8-.2-5.8 .4-5.8-1.9-5.7-2.1-5.8-2.1-5.8-3.4-5.8-4.2-5.8-5.3-5.7-6.1-5.8-2.7-5.8 .9-5.8-1.5-5.8-3.3-5.7 0-5.8 0-5.8-4.2-5.8-3.1-5.8 .4-5.7-2.7-5.8-4.2-5.8-4.9-5.8-5.8-5.8 4.3-5.7 23.8-5.8 52.4-5.8 32.7-5.8 9.9-5.8 3.6-5.7 .9-5.8 1.1-5.8-.5-5.8-2.8-5.8-3.5-5.7-3.5-5.8-2-5.8-.8-5.8-1.5-5.8-1.5-5.7 1.4-5.8 5.8-5.8 5.2-5.8 1.4-5.8 1.2-5.7 1-5.8-.4-5.8-.3-5.8-.7-5.8-2.3-5.7-2.9-5.8-1-5.8 0z" fill="#8cc9e2" fill-opacity="0.5"/>
<path d="M891.4 1210.9l5.8 3.4 5.8 3.4 5.7 2.3 5.8 1.6 5.8 1.3 5.8 .2 5.8-.6 5.7-.6 5.8-.5 5.8-2.4 5.8-6.9 5.8-7 5.7-3.6 5.8-1.3 5.8 2.2 5.8 4.3 5.8 5.3 5.7 4.7 5.8 2.8 5.8 2 5.8 1.2 5.8 .5 5.7-1.1 5.8-5.6 5.8-14.1 5.8-38.9 5.8-51.1 5.7-11.6 5.8 4 5.8 6.5 5.8 7.6 5.8 6 5.7 5.9 5.8 3.6 5.8 1.3 5.8 3.8 5.8 4.6 5.7 .5 5.8-2 5.8 .6 5.8 2.4 5.8 .9 5.7-.2 5.8 2.1 5.8 4.1 5.8 2.6 5.8 1.1 5.7 2.5 5.8 3.5 5.8 3 5.8 2.5 5.8 .6 5.7-.3 5.8 2.2 5.8 2.6 5.8-1.3 5.8-1.3 5.7 2.8 5.8 1.9 5.8-1.1 5.8 1.2 5.8 3.4 5.7 1 5.8 1 5.8 3.5 5.8 1.4 5.8-2.4 5.7-1.4 5.8 1.2 5.8 1.1 5.8-.6 5.8-1 5.7 .5 5.8 2.3 5.8 2.6 0 18.8-5.8-2.4-5.8-2.6-5.7-1.6-5.8 .9-5.8 1.5-5.8-.2-5.8-1.1-5.7 1-5.8 1.7-5.8-2-5.8-3.3-5.8-.1-5.7-.3-5.8-3.7-5.8-2.4-5.8 .6-5.8-1-5.7-1.5-5.8 1.2-5.8-.1-5.8-3.3-5.8-1.5-5.7 1-5.8-.8-5.8-2.4-5.8-2.7-5.8-3.9-5.7-3.3-5.8-1.1-5.8-1.7-5.8-3.9-5.8-2.9-5.7 .3-5.8 .4-5.8-2.4-5.8-2.4-5.8 1.1-5.7 1-5.8-3.2-5.8-4.4-5.8-2.3-5.8-3.3-5.7-5.8-5.8-6.6-5.8-7.4-5.8-5.3-5.8-3.8-5.7 6.5-5.8 47-5.8 37.2-5.8 12.3-5.8 4.6-5.7-.6-5.8-.3-5.8-.3-5.8-1.9-5.8-3.1-5.7-4.2-5.8-4.9-5.8-5.3-5.8-2.9-5.8 2-5.7 4.5-5.8 6.4-5.8 6.1-5.8 3.1-5.8 1.6-5.7 .2-5.8-.8-5.8-.5-5.8-.4-5.8-1-5.7-2.3-5.8-3.7-5.8-3.6z" fill="#8cc9e2" fill-opacity="0.5"/>
<path d="M891.4 1215.6l5.8 1.1 5.8 1 5.7 1.6 5.8 1 5.8-.2 5.8-.2 5.8 .8 5.7 .5 5.8-.8 5.8-1.7 5.8-2.9 5.8-3.2 5.7-2.8 5.8-1.3 5.8 2 5.8 3.3 5.8 1.8 5.7 1.1 5.8 1.9 5.8 2.1 5.8 .6 5.8 .1 5.7 0 5.8-4.4 5.8-14.6 5.8-37.1 5.8-47.4 5.7-10.6 5.8-.5 5.8 3.7 5.8 7.7 5.8 5.8 5.7 2.6 5.8 .5 5.8 .9 5.8 1.9 5.8 2.7 5.7 2.5 5.8 1 5.8-2.6 5.8-4.8 5.8-1.3 5.7 3.2 5.8 4.4 5.8 2.5 5.8 1.2 5.8 1.9 5.7 3.5 5.8 3.4 5.8 1.7 5.8 1 5.8 2.3 5.7 3.3 5.8 2.3 5.8 .4 5.8-.4 5.8 .8 5.7 2.1 5.8 2.1 5.8 1.9 5.8 2.6 5.8 3.5 5.7 2.6 5.8 .6 5.8-.2 5.8 .7 5.8 1.6 5.7 1.7 5.8 1.4 5.8 1.4 5.8 .6 5.8-1.9 5.7-2.8 5.8-.8 5.8 1.1 0 18.5-5.8-1-5.8 .5-5.7 3.1-5.8 2.3-5.8-.3-5.8-1.8-5.8-1.9-5.7-1.9-5.8-2-5.8-.8-5.8 1.2-5.8 .7-5.7-2.7-5.8-5.2-5.8-3.7-5.8-.9-5.8-.8-5.7-2.4-5.8-2.1-5.8 .4-5.8 .9-5.8-1.6-5.7-4-5.8-3.3-5.8-1.6-5.8-1.6-5.8-2.7-5.7-2.4-5.8-1.4-5.8-2-5.8-3.7-5.8-4.6-5.7-2.7-5.8 1.5-5.8 4.8-5.8 3.3-5.8-.4-5.7-3.1-5.8-3.9-5.8-2.3-5.8-.1-5.8-.1-5.7-2.7-5.8-5.3-5.8-7.3-5.8-4.4-5.8-.7-5.7 7.5-5.8 45.2-5.8 34-5.8 10.1-5.8 4.3-5.7 1.1-5.8 .5-5.8-1.3-5.8-2.9-5.8-2.4-5.7-1.2-5.8-1.3-5.8-1.7-5.8-1-5.8-.2-5.7 .6-5.8 3.5-5.8 4.6-5.8 1.9-5.8-.3-5.7-.2-5.8 .6-5.8 .1-5.8-1.5-5.8-1.8-5.7-.7-5.8-.2-5.8-1z" fill="#9ad3e6" fill-opacity="0.5"/>
<path d="M891.4 1216.2l5.8 .1 5.8 1.5 5.7 1.7 5.8 .3 5.8 0 5.8 .9 5.8 .8 5.7-.8 5.8-1.1 5.8-.5 5.8-2.2 5.8-3.4 5.7-2 5.8 .4 5.8 1.8 5.8 .7 5.8 .3 5.7 2 5.8 3.2 5.8 1.5 5.8-.5 5.8 .1 5.7 .6 5.8-4.5 5.8-14.4 5.8-26.4 5.8-37.2 5.7-7.8 5.8 2.8 5.8 3.6 5.8 1.2 5.8-3.7 5.7-3.2 5.8 3.3 5.8 5 5.8-1.5 5.8-1 5.7-.6 5.8-2.9 5.8-3 5.8-1.4 5.8-.8 5.7-1.3 5.8 1 5.8 5.8 5.8 7.9 5.8 5.3 5.7 3 5.8 2.3 5.8 1.2 5.8 1.2 5.8 3.8 5.7 5.4 5.8 3.6 5.8 1.7 5.8 1.5 5.8 .9 5.7 .3 5.8 1.7 5.8 3.2 5.8 .8 5.8-2.4 5.7-1.2 5.8 2.2 5.8 2.8 5.8 1.2 5.8 1.1 5.7 1.8 5.8 .2 5.8-1.8 5.8-.1 5.8 3.6 5.7 3.6 5.8-.1 5.8-1.6 0 16.5-5.8 .7-5.8 0-5.7-2.7-5.8-2.6-5.8-.1-5.8 .1-5.8-1.4-5.7-1.1-5.8 .5-5.8-.4-5.8-3.2-5.8-3-5.7 .5-5.8 2.2-5.8-.1-5.8-2.3-5.8-2-5.7-1.1-5.8-1.2-5.8-1-5.8-1.4-5.8-3.8-5.7-5.1-5.8-3.4-5.8-1.4-5.8-2-5.8-2.9-5.7-3-5.8-4.9-5.8-7-5.8-4.7-5.8-1.2-5.7-.1-5.8-.3-5.8 1.8-5.8 3.9-5.8 3-5.7 .3-5.8 1-5.8 1.9-5.8-4.7-5.8-3.1-5.7 2.8-5.8 2.5-5.8-2-5.8-2.9-5.8-1.1-5.7 5.6-5.8 33.6-5.8 22.7-5.8 11.2-5.8 4.5-5.7-.4-5.8 .3-5.8 .8-5.8-1.8-5.8-3.5-5.7-1.9-5.8-.2-5.8-1.1-5.8-1.4-5.8 .4-5.7 2.2-5.8 2.3-5.8 .9-5.8 .6-5.8 2.1-5.7 1.9-5.8-.1-5.8-1.4-5.8-1.4-5.8-1.4-5.7-1.1-5.8-.1-5.8 .3z" fill="#a8dfe6" fill-opacity="0.5"/>
<path d="M891.4 1215.1l5.8 1.5 5.8 1.6 5.7 1 5.8 .2 5.8 1.1 5.8 1.7 5.8 0 5.7-2.2 5.8-1 5.8 .3 5.8-2.6 5.8-4.4 5.7-2.3 5.8 .1 5.8 1.4 5.8 1.7 5.8 1.8 5.7 1.8 5.8 2 5.8 2.3 5.8 .8 5.8-.8 5.7-.4 5.8-3.5 5.8-13.5 5.8-21.7 5.8-35.9 5.7-7 5.8 2.6 5.8 4.2 5.8 6.2 5.8 5.7 5.7 1.1 5.8-.9 5.8 1.9 5.8 1.9 5.8-1.6 5.7-.8 5.8 1.3 5.8-1.2 5.8-3.4 5.8 .7 5.7 5.3 5.8 4 5.8 .4 5.8 .3 5.8 3.1 5.7 5 5.8 2.5 5.8-1.9 5.8-1.5 5.8 2.8 5.7 4.2 5.8 2.1 5.8 1.5 5.8 1.5 5.8 .3 5.7 .8 5.8 2.2 5.8 .2 5.8-2.4 5.8 .5 5.7 4 5.8 1.4 5.8-1 5.8 .8 5.8 .4 5.7-2.6 5.8-.4 5.8 4.1 5.8 2.2 5.8-1.8 5.7-.3 5.8 1.5 5.8-.8 0 16.6-5.8 .1-5.8-1.8-5.7 .5-5.8 2.4-5.8-2.1-5.8-4.3-5.8 .3-5.7 2.1-5.8-.6-5.8 .1-5.8 1.4-5.8-2.4-5.7-3.9-5.8 .6-5.8 1.9-5.8-2.1-5.8-1.8-5.7 1.7-5.8 0-5.8-3.5-5.8-2.6-5.8-1.3-5.7-3-5.8-2.6-5.8 .8-5.8 1.2-5.8-2.1-5.7-4.2-5.8-3.4-5.8-1.2-5.8-.4-5.8-3-5.7-4.9-5.8-1.1-5.8 2.9-5.8 .6-5.8-1.4-5.7 1.8-5.8 2.6-5.8-2.5-5.8-3.1-5.8 .6-5.7-.3-5.8-5-5.8-6.2-5.8-5-5.8-2.9-5.7 5-5.8 33.3-5.8 17.6-5.8 10.3-5.8 4.9-5.7 1.3-5.8-.5-5.8-1.6-5.8-1.4-5.8-1.8-5.7-2.6-5.8-1.8-5.8-.5-5.8-1.3-5.8-.9-5.7 1.4-5.8 4.3-5.8 3.6-5.8 1.1-5.8 .6-5.7 .1-5.8-.1-5.8 .1-5.8-.7-5.8-1.8-5.7-1.2-5.8-.3-5.8-1.2z" fill="#b4e4e6" fill-opacity="0.5"/>
<path d="M891.4 1214.2l5.8 2.2 5.8 2.2 5.7 1.6 5.8 1 5.8 .9 5.8 .5 5.8-.3 5.7-.4 5.8 .2 5.8-1.7 5.8-6.4 5.8-6.3 5.7-2.1 5.8 0 5.8 1.4 5.8 2.6 5.8 3.8 5.7 3.9 5.8 2.5 5.8 2 5.8 1.2 5.8-.1 5.7-1 5.8-4.7 5.8-13.3 5.8-19.4 5.8-34.4 5.7-7.3 5.8 13.9 5.8 20.9 5.8 13.5 5.8 10 5.7 5.1 5.8 1.5 5.8 1.3 5.8 .9 5.8-3 5.7-3.5 5.8-.4 5.8-.3 5.8-2.4 5.8-1 5.7 3 5.8 2.7 5.8 .1 5.8 1.4 5.8 4 5.7 2.4 5.8-.5 5.8 .1 5.8 1.5 5.8-1.1 5.7-3.4 5.8-.8 5.8 2.5 5.8 1.5 5.8-.7 5.7-.9 5.8-.9 5.8-1.6 5.8-.7 5.8 1.4 5.7 1 5.8-.8 5.8-.7 5.8 1.3 5.8 1.5 5.7 .8 5.8 1.1 5.8 1.1 5.8-.8 5.8-2 5.7-1.1 5.8 .4 5.8 .8 0 12.1-5.8-.2-5.8-.1-5.7 .1-5.8 1.5-5.8 .9-5.8-.2-5.8-.6-5.7-1.4-5.8-2.4-5.8-.7-5.8 1.5-5.8 .5-5.7-2.1-5.8-1.4-5.8 1.6-5.8 1.9-5.8 .8-5.7 .9-5.8 .2-5.8-2.3-5.8-2.2-5.8 2.1-5.7 3.5-5.8 0-5.8-1.8-5.8 .6-5.8 1-5.7-3.1-5.8-4.5-5.8-1.1-5.8 .5-5.8-2.3-5.7-3.2-5.8 0-5.8 2-5.8 1.2-5.8 1.3-5.7 2.8-5.8 2.1-5.8-.2-5.8-.3-5.8-2.2-5.7-6.5-5.8-9.6-5.8-12.3-5.8-20.7-5.8-14.4-5.7 4.9-5.8 32.3-5.8 17.1-5.8 11.4-5.8 5-5.7 .9-5.8 0-5.8-1-5.8-1.9-5.8-2.9-5.7-3.9-5.8-3.6-5.8-2.9-5.8-1.7-5.8 .9-5.7 3-5.8 5.3-5.8 4.8-5.8 2.1-5.8 1.5-5.7 .7-5.8-.9-5.8-1.1-5.8-.2-5.8-.5-5.7-1.9-5.8-2.7-5.8-2.5z" fill="#9ad3e6" fill-opacity="0.5"/>
<path d="M891.4 1216.1l5.8 1 5.8 1.5 5.7 1.8 5.8 1.2 5.8 .5 5.8 .8 5.8 1.2 5.7 .7 5.8-.3 5.8-1.1 5.8-1.2 5.8-1.3 5.7-1.6 5.8-1.8 5.8-1.3 5.8-1.3 5.8-1.5 5.7-1.1 5.8 1.2 5.8 4.5 5.8 9 5.8 9.3 5.7 8 5.8 1.2 5.8-13 5.8-26.6 5.8-44.4 5.7-30.9 5.8-10.2 5.8 .2 5.8 3.6 5.8 7.4 5.7 6.3 5.8 5.4 5.8 4.9 5.8 3.5 5.8 1.9 5.7 .6 5.8-1.1 5.8 .6 5.8 3.8 5.8 5 5.7 4.3 5.8 3.1 5.8 2.4 5.8 1.7 5.8 1.7 5.7 1.6 5.8 1.6 5.8 1.7 5.8 1.8 5.8 1.7 5.7 1.5 5.8 1.8 5.8 1.9 5.8 1.8 5.8 2.1 5.7 2.6 5.8 1.9 5.8 .4 5.8 .3 5.8 1.3 5.7 .9 5.8-.5 5.8-.6 5.8 .6 5.8 .4 5.7-.3 5.8 .1 5.8 .8 5.8 .3 5.8-.4 5.7-.3 5.8 .3 5.8 .5 0 10.7-5.8-.2-5.8 0-5.7 0-5.8 .4-5.8 .4-5.8-.8-5.8-1.1-5.7 0-5.8 .7-5.8 .1-5.8-.4-5.8-.2-5.7-.3-5.8-.5-5.8-.8-5.8-1.4-5.8-1.4-5.7-1.5-5.8-2.2-5.8-2.8-5.8-2.1-5.8-1.2-5.7-1.4-5.8-2.1-5.8-1.8-5.8-1.2-5.8-1.4-5.7-1.7-5.8-1.9-5.8-2.1-5.8-2.7-5.8-3-5.7-3.8-5.8-4.7-5.8-4.1-5.8-.6-5.8 1.6-5.7-.5-5.8-3-5.8-4.1-5.8-4.3-5.8-4.6-5.7-6.4-5.8-7.8-5.8-3.2-5.8 .3-5.8 9.9-5.7 28-5.8 42.1-5.8 25.1-5.8 11.7-5.8-1-5.7-8.1-5.8-9.3-5.8-8.7-5.8-4.5-5.8-1.9-5.7 .4-5.8 1.6-5.8 2.1-5.8 1.9-5.8 1.5-5.7 1.3-5.8 1.7-5.8 1.6-5.8 .2-5.8-.6-5.7-.4-5.8-.3-5.8-.5-5.8-1-5.8-1.2-5.7-1.2-5.8-1.6-5.8-1.8z" fill="#d3b0df" fill-opacity="0.4"/>
<path d="M891.4 1216.3l5.8 1.5 5.8 1.2 5.7 1 5.8 1.2 5.8 1.3 5.8 1 5.8 .6 5.7 .4 5.8 0 5.8-.9 5.8-1.5 5.8-1.2 5.7-1 5.8-1.7 5.8-1.8 5.8-1.9 5.8-1.6 5.7-.7 5.8 1.8 5.8 4.7 5.8 8 5.8 8 5.7 6.9 5.8 1.2 5.8-11.7 5.8-23.8 5.8-39 5.7-27.2 5.8-8.4 5.8-.8 5.8 2.1 5.8 6.9 5.7 6.8 5.8 5.2 5.8 5.1 5.8 4.9 5.8 3.7 5.7 1.2 5.8-.2 5.8 .6 5.8 2 5.8 2.5 5.7 2.8 5.8 2.2 5.8 1 5.8 .5 5.8 1.1 5.7 1.5 5.8 1.3 5.8 1.3 5.8 1.9 5.8 1.9 5.7 .7 5.8 .2 5.8 .9 5.8 1.5 5.8 1.4 5.7 1.3 5.8 1.9 5.8 1.6 5.8 .2 5.8-.5 5.7 .1 5.8 .6 5.8 .3 5.8 .1 5.8 .4 5.7 .5 5.8 0 5.8 0 5.8 .2 5.8 0 5.7-.4 5.8-.1 5.8 .7 0 10.2-5.8-.2-5.8-.1-5.7-.2-5.8-.1-5.8 .2-5.8 .1-5.8-.2-5.7-.3-5.8-.2-5.8-.2-5.8-.4-5.8-.3-5.7-.1-5.8-.3-5.8-.8-5.8-1.1-5.8-.9-5.7-1-5.8-1.4-5.8-1.8-5.8-1.6-5.8-1.1-5.7-.7-5.8-.6-5.8-1-5.8-1.5-5.8-2-5.7-1.9-5.8-1.3-5.8-.6-5.8-.6-5.8-1.5-5.7-2.8-5.8-3.3-5.8-2.2-5.8-.2-5.8 .6-5.7-1.4-5.8-3.7-5.8-4.9-5.8-5.4-5.8-5.6-5.7-6.5-5.8-6.2-5.8-2.1-5.8 .4-5.8 8.2-5.7 25.7-5.8 37.3-5.8 21.8-5.8 10.1-5.8-1-5.7-7.2-5.8-8.2-5.8-7.6-5.8-4-5.8-2-5.7 .1-5.8 1.4-5.8 1.8-5.8 1.6-5.8 1.8-5.7 2-5.8 1.8-5.8 1.1-5.8 0-5.8-.4-5.7-.4-5.8-.6-5.8-.5-5.8-.5-5.8-1-5.7-1.7-5.8-1.9-5.8-1.5z" fill="#d3b0df" fill-opacity="0.4"/>
<path d="M891.4 1216.1l5.8 1 5.8 1.2 5.7 1.3 5.8 1.7 5.8 1.6 5.8 .7 5.8 .1 5.7-.1 5.8 .3 5.8-.2 5.8-1.1 5.8-1.5 5.7-1.8 5.8-1.8 5.8-1.4 5.8-1.6 5.8-1.9 5.7-1 5.8 2.1 5.8 5 5.8 8 5.8 7.9 5.7 6.9 5.8 1 5.8-12 5.8-21.6 5.8-30.2 5.7-21.4 5.8-5.5 5.8-1 5.8 0 5.8 2.9 5.7 4.9 5.8 3.8 5.8 3.1 5.8 2.7 5.8 1.8 5.7 .1 5.8-.8 5.8-.2 5.8 1.7 5.8 2.6 5.7 1.8 5.8 .7 5.8 .9 5.8 .7 5.8 .6 5.7 .9 5.8 1.6 5.8 1.8 5.8 1.8 5.8 1.1 5.7-.2 5.8 .4 5.8 1.7 5.8 1.4 5.8 .5 5.7 1.1 5.8 1 5.8 0 5.8 .4 5.8 1.2 5.7 .3 5.8-.2 5.8 .7 5.8 .8 5.8-.1 5.7-.3 5.8 .2 5.8 .2 5.8 .4 5.8 .5 5.7 .1 5.8 .1 5.8 .2 0 11.5-5.8 0-5.8 .3-5.7 0-5.8-.1-5.8-.3-5.8-.7-5.8-.5-5.7 .2-5.8 .5-5.8-.7-5.8-.7-5.8 .2-5.7-.4-5.8-1.2-5.8-.3-5.8 .1-5.8-1.3-5.7-1.5-5.8-.5-5.8-.5-5.8-1.1-5.8-.9-5.7-1-5.8-1.5-5.8-.9-5.8-.6-5.8-1.7-5.7-2.1-5.8-1.2-5.8-.2-5.8 0-5.8-.6-5.7-2.4-5.8-3-5.8-1.5-5.8 .7-5.8 .8-5.7-.4-5.8-2.1-5.8-2.6-5.8-2.9-5.8-3.4-5.7-4.8-5.8-3.4-5.8-.5-5.8 .9-5.8 6-5.7 19.9-5.8 28.1-5.8 19.2-5.8 9.7-5.8-1.1-5.7-7.2-5.8-8.1-5.8-7.5-5.8-4.1-5.8-1.8-5.7 .1-5.8 1.1-5.8 1.5-5.8 2.1-5.8 2.2-5.7 1.3-5.8 1.3-5.8 1.6-5.8 1-5.8-.5-5.7-1.2-5.8-.9-5.8-.4-5.8-.2-5.8-.8-5.7-1.5-5.8-2.1-5.8-2z" fill="#d3b0df" fill-opacity="0.4"/>
<path d="M891.4 1216.4l5.8 1.2 5.8 1 5.7 1.4 5.8 1.5 5.8 1 5.8 .6 5.8 .8 5.7 .9 5.8 .2 5.8-.9 5.8-1.7 5.8-1.8 5.7-1.5 5.8-1.3 5.8-1.5 5.8-1.8 5.8-1.4 5.7-.1 5.8 1.7 5.8 3.5 5.8 6.9 5.8 7.8 5.7 6.6 5.8 .7 5.8-10.7 5.8-19.3 5.8-28.8 5.7-21 5.8-5.7 5.8-.7 5.8 .5 5.8 2.9 5.7 5.3 5.8 4.5 5.8 3.2 5.8 3.1 5.8 4.4 5.7 1.3 5.8-1.5 5.8-.2 5.8 2.4 5.8 2.8 5.7 1.3 5.8-.2 5.8-.4 5.8 .6 5.8 1.1 5.7 .3 5.8 .6 5.8 1.9 5.8 2.1 5.8 1.1 5.7 .9 5.8 1.4 5.8 1.7 5.8 1.9 5.8 1.5 5.7 1 5.8 1.4 5.8 1.7 5.8 .8 5.8-.1 5.7-.1 5.8-.2 5.8 0 5.8 .5 5.8 .6 5.7 0 5.8 .3 5.8 .7 5.8-.3 5.8-.9 5.7 0 5.8 .6 5.8 .1 0 9.6-5.8 .7-5.8 0-5.7-.8-5.8-.1-5.8 .7-5.8 .7-5.8-.1-5.7-1-5.8-.9-5.8 .1-5.8 .2-5.8-.6-5.7-.3-5.8 .5-5.8-.2-5.8-1.6-5.8-1.4-5.7-1.2-5.8-1.8-5.8-1.8-5.8-1.6-5.8-1.4-5.7-1.3-5.8-1.1-5.8-1.5-5.8-1.4-5.8-1-5.7-1.2-5.8-1-5.8 .2-5.8 .5-5.8-.5-5.7-1.7-5.8-1.9-5.8-1.7-5.8-.5-5.8 .4-5.7-.9-5.8-3.6-5.8-3.2-5.8-3.8-5.8-4.4-5.7-4.5-5.8-3-5.8-.9-5.8 .5-5.8 5.7-5.7 19-5.8 27.3-5.8 18.2-5.8 8.9-5.8-1.2-5.7-6.3-5.8-7.1-5.8-7.3-5.8-4.8-5.8-1.8-5.7 1.2-5.8 1.8-5.8 1.3-5.8 1.2-5.8 2-5.7 1.9-5.8 1.2-5.8 1-5.8 .7-5.8 .1-5.7-.4-5.8-.7-5.8-.8-5.8-1-5.8-1-5.7-1.2-5.8-1.8-5.8-1.9z" fill="#d3b0df" fill-opacity="0.4"/>
<path d="M891.4 1215.9l5.8 1.6 5.8 1.6 5.7 1.5 5.8 1.1 5.8 .5 5.8 .7 5.8 1.2 5.7 .6 5.8-.3 5.8-.9 5.8-.9 5.8-1.3 5.7-1.7 5.8-1.8 5.8-1.5 5.8-1.7 5.8-1.7 5.7-.7 5.8 1.9 5.8 4.4 5.8 7.3 5.8 7.5 5.7 6.2 5.8 .6 5.8-10.4 5.8-19 5.8-26.9 5.7-19.3 5.8-4.7 5.8-.8 5.8-.2 5.8 2.5 5.7 3.8 5.8 2.5 5.8 1.9 5.8 2.3 5.8 1.6 5.7-.4 5.8-1 5.8 .4 5.8 1.8 5.8 2.4 5.7 2.4 5.8 1.2 5.8 .1 5.8 .3 5.8 1.4 5.7 1.5 5.8 1.1 5.8 .9 5.8 1.1 5.8 1.5 5.7 1.8 5.8 1.7 5.8 1.1 5.8 1.3 5.8 1.8 5.7 1.6 5.8 1 5.8 .8 5.8 .7 5.8 .4 5.7 .5 5.8 .4 5.8-.1 5.8-.1 5.8 .4 5.7 .2 5.8-.3 5.8 .1 5.8 .6 5.8 .2 5.7-.2 5.8 .4 5.8 .7 0 9.7-5.8-.5-5.8-.2-5.7 .6-5.8-.6-5.8 0-5.8 .3-5.8-.7-5.7-1-5.8 .4-5.8 .7-5.8-.7-5.8-.7-5.7 .5-5.8 .2-5.8-1.3-5.8-1.3-5.8-.9-5.7-1.7-5.8-2.3-5.8-1-5.8-.5-5.8-1.6-5.7-2-5.8-1.1-5.8-1.2-5.8-1.8-5.8-1.4-5.7-.8-5.8-.9-5.8-.9-5.8-.3-5.8-.6-5.7-2.1-5.8-2.9-5.8-2.2-5.8-.1-5.8 1.2-5.7 .2-5.8-1.8-5.8-2.2-5.8-1.7-5.8-2.3-5.7-3.7-5.8-2.7-5.8-.3-5.8 .9-5.8 5.2-5.7 17.5-5.8 24.9-5.8 17.3-5.8 9.1-5.8-.9-5.7-6.5-5.8-7.5-5.8-6.9-5.8-4.1-5.8-2-5.7 .4-5.8 1.4-5.8 1.6-5.8 1.9-5.8 2-5.7 1.4-5.8 1.4-5.8 1.4-5.8 .8-5.8-.4-5.7-1-5.8-.5-5.8-.4-5.8-1-5.8-1.2-5.7-1-5.8-1.3-5.8-1.9z" fill="#d3b0df" fill-opacity="0.4"/>
<path d="M891.4 1216l5.8 1.4 5.8 1.6 5.7 1.4 5.8 1.2 5.8 .8 5.8 .5 5.8 .8 5.7 1.1 5.8 .3 5.8-1.4 5.8-1.7 5.8-1.1 5.7-1.2 5.8-1.8 5.8-1.6 5.8-1.6 5.8-1.8 5.7-.7 5.8 2.2 5.8 4.3 5.8 6 5.8 6.6 5.7 5.8 5.8 .7 5.8-9.6 5.8-16.9 5.8-24.5 5.7-17.7 5.8-4.8 5.8-.1 5.8 .3 5.8 3 5.7 4.6 5.8 3.3 5.8 2.5 5.8 3.3 5.8 3.5 5.7 .3 5.8-.8 5.8 .7 5.8 1.5 5.8 1 5.7 .8 5.8 .9 5.8 .4 5.8 .2 5.8 .4 5.7 .9 5.8 1 5.8 1 5.8 1.3 5.8 1.6 5.7 .8 5.8 .3 5.8 1.1 5.8 1.9 5.8 1.4 5.7 1.1 5.8 1.6 5.8 1.3 5.8 .5 5.8 .6 5.7 .1 5.8-.8 5.8-.4 5.8 .5 5.8 .1 5.7 .1 5.8 .8 5.8 .4 5.8-.7 5.8-.1 5.7 .6 5.8 .3 5.8-.2 0 9.9-5.8 .2-5.8 .2-5.7 0-5.8-.5-5.8-.2-5.8-.1-5.8-.2-5.7 .1-5.8-.2-5.8-.4-5.8 .1-5.8 .3-5.7-.1-5.8-.1-5.8-.2-5.8-1.5-5.8-1.7-5.7-1.1-5.8-1.5-5.8-1.9-5.8-1-5.8-.5-5.7-1.1-5.8-1.1-5.8-.7-5.8-1.1-5.8-1.7-5.7-1.3-5.8-.5-5.8 .4-5.8 .3-5.8-.8-5.7-1.8-5.8-1.5-5.8-.7-5.8-.1-5.8 0-5.7-1-5.8-2.7-5.8-2.7-5.8-2.6-5.8-3.6-5.7-4.9-5.8-3.3-5.8-.4-5.8 .8-5.8 5.3-5.7 15.6-5.8 22.4-5.8 15.2-5.8 7.8-5.8-.8-5.7-5.5-5.8-6.3-5.8-6.3-5.8-4.4-5.8-1.8-5.7 .7-5.8 1.3-5.8 1.4-5.8 1.8-5.8 1.8-5.7 1.5-5.8 1.9-5.8 1.4-5.8-.1-5.8-.4-5.7 .2-5.8-.2-5.8-1.5-5.8-1.2-5.8-.6-5.7-1.2-5.8-1.8-5.8-1.6z" fill="#d3b0df" fill-opacity="0.4"/>
<path d="M891.4 1215.9l5.8 2.1 5.8 1.8 5.7 .6 5.8 .6 5.8 1.2 5.8 1.4 5.8 .5 5.7 .2 5.8 .3 5.8-.2 5.8-1.6 5.8-1.8 5.7-1.4 5.8-1.6 5.8-1.8 5.8-1.7 5.8-1.1 5.7-.5 5.8 1.2 5.8 4 5.8 7.1 5.8 6.8 5.7 4.8 5.8 .6 5.8-8.5 5.8-16.3 5.8-23.6 5.7-16.5 5.8-3.8 5.8-.1 5.8-.4 5.8 1.7 5.7 3.4 5.8 2.5 5.8 1.4 5.8 1.6 5.8 2 5.7 .3 5.8-1.1 5.8 .2 5.8 2.1 5.8 2 5.7 1 5.8 .6 5.8 .5 5.8 .5 5.8 .8 5.7 1 5.8 1.4 5.8 1.3 5.8 .8 5.8 1.1 5.7 1.5 5.8 .8 5.8-.1 5.8 1.1 5.8 2.1 5.7 1.1 5.8 .1 5.8 1 5.8 1.6 5.8 .2 5.7-1 5.8 .3 5.8 1.6 5.8 .6 5.8-1.2 5.7-.5 5.8 .8 5.8 .4 5.8-.5 5.8 0 5.7 .5 5.8 .2 5.8 .1 0 10-5.8-.8-5.8-.8-5.7 .3-5.8 .1-5.8-.3-5.8-.3-5.8 .3-5.7 .5-5.8-.3-5.8-.7-5.8 0-5.8 .1-5.7-.7-5.8-.9-5.8 0-5.8-.1-5.8-1.4-5.7-2.1-5.8-1-5.8-.2-5.8-.8-5.8-1.5-5.7-.7-5.8-.6-5.8-1.6-5.8-1.6-5.8-.5-5.7-1-5.8-1.7-5.8-.5-5.8 .6-5.8-.5-5.7-2.4-5.8-2.1-5.8-.6-5.8-.1-5.8-.4-5.7-.4-5.8-.6-5.8-1.4-5.8-2.7-5.8-2.7-5.7-2.1-5.8-1.7-5.8-.8-5.8 .1-5.8 5-5.7 15-5.8 20.7-5.8 14.8-5.8 8.3-5.8-.4-5.7-6.2-5.8-7-5.8-5.8-5.8-3.7-5.8-2.3-5.7 .1-5.8 1.9-5.8 2-5.8 1.2-5.8 1.5-5.7 1.9-5.8 1.7-5.8 1-5.8 .8-5.8 .2-5.7-.8-5.8-1.4-5.8-.6-5.8-.2-5.8-1.2-5.7-2-5.8-1.3-5.8-.7z" fill="#d3b0df" fill-opacity="0.4"/>
<path d="M891.4 1216.1l5.8 1.8 5.8 1.5 5.7 1.3 5.8 1.1 5.8 .6 5.8 .5 5.8 .9 5.7 1.1 5.8 .3 5.8-1.2 5.8-1.7 5.8-1.2 5.7-.9 5.8-1.9 5.8-2.3 5.8-1.8 5.8-1.1 5.7-.4 5.8 2 5.8 4.4 5.8 5.5 5.8 5.1 5.7 4.6 5.8 1 5.8-7.9 5.8-14.5 5.8-20.1 5.7-13.8 5.8-4.4 5.8 .8 5.8 3.2 5.8 5.6 5.7 6 5.8 5.1 5.8 2.1 5.8 1.2 5.8 1.7 5.7 0 5.8-2.2 5.8-1 5.8 1 5.8 1.1 5.7 .7 5.8 .5 5.8 .8 5.8 1 5.8 0 5.7-.3 5.8 .9 5.8 1.3 5.8-.3 5.8-.8 5.7 .4 5.8 .8 5.8 0 5.8-.4 5.8 0 5.7 .3 5.8 .3 5.8 0 5.8 0 5.8 .5 5.7 .6 5.8-.1 5.8-.4 5.8 .5 5.8 .8 5.7-.2 5.8-.5 5.8 .5 5.8 .7 5.8-.2 5.7-.4 5.8 .4 5.8 0 0 8.9-5.8-.1-5.8-.6-5.7 .5-5.8 .3-5.8-.6-5.8-.3-5.8 .3-5.7-.1-5.8-.6-5.8-.1-5.8 .2-5.8-.6-5.7-.8-5.8 .2-5.8 .7-5.8-.1-5.8-.9-5.7-.6-5.8-.1-5.8 .3-5.8 .4-5.8-.2-5.7-.3-5.8 .2-5.8-.2-5.8-1-5.8-.3-5.7 .2-5.8-.7-5.8-1.1-5.8-.4-5.8-.1-5.7-.6-5.8-1.2-5.8-1.2-5.8 .4-5.8 2.1-5.7 .4-5.8-1-5.8-1.2-5.8-2.7-5.8-5.2-5.7-5.7-5.8-5.6-5.8-3.7-5.8-.9-5.8 5.1-5.7 12.7-5.8 18.2-5.8 12.7-5.8 6.7-5.8-.6-5.7-4.7-5.8-5.6-5.8-5.7-5.8-4.2-5.8-1.6-5.7 .8-5.8 1.2-5.8 1.3-5.8 1.4-5.8 1.7-5.7 2-5.8 2-5.8 1.3-5.8 .2-5.8-.3-5.7-.4-5.8-.5-5.8-1.1-5.8-1.1-5.8-1-5.7-1-5.8-1.3-5.8-1.6z" fill="#d3b0df" fill-opacity="0.4"/>
<path d="M891.4 1216.3l5.8 1.9 5.8 1.3 5.7 1 5.8 .9 5.8 .8 5.8 .9 5.8 1 5.7 .8 5.8 0 5.8-.8 5.8-1.2 5.8-1.5 5.7-1.9 5.8-1.9 5.8-1.5 5.8-1.4 5.8-1.5 5.7-.4 5.8 2.1 5.8 3.9 5.8 4.6 5.8 4.7 5.7 4.1 5.8 .6 5.8-6.8 5.8-12.3 5.8-17.3 5.7-11.9 5.8-3.8 5.8 .6 5.8 2.9 5.8 4.7 5.7 4.4 5.8 3.9 5.8 2.8 5.8 1.5 5.8 .5 5.7-.4 5.8-1.2 5.8-.3 5.8 .8 5.8 1.4 5.7 1.7 5.8 1.3 5.8 .6 5.8 .8 5.8 1 5.7 .2 5.8-.3 5.8 .7 5.8 1 5.8-.3 5.7-.8 5.8-.2 5.8-.1 5.8-.3 5.8 .3 5.7 .6 5.8 .1 5.8-.1 5.8 .4 5.8 .4 5.7 0 5.8 .1 5.8 .1 5.8-.3 5.8-.2 5.7 .4 5.8 .6 5.8 .1 5.8-.2 5.8 0 5.7 .3 5.8 0 5.8-.3 0 9-5.8 .4-5.8-.3-5.7 0-5.8-.1-5.8-.4-5.8-.5-5.8 .1-5.7 .3-5.8 .1-5.8-.2-5.8-.2-5.8-.1-5.7-.1-5.8-.3-5.8-.2-5.8-.1-5.8-.3-5.7-.3-5.8 .1-5.8 .1-5.8-.1-5.8 0-5.7 .5-5.8 .3-5.8-.2-5.8-.3-5.8-.4-5.7-.6-5.8-.7-5.8-.5-5.8-.7-5.8-1.4-5.7-1.7-5.8-1.6-5.8-.8-5.8 .7-5.8 1.3-5.7 0-5.8-.7-5.8-1.3-5.8-2.7-5.8-3.8-5.7-4-5.8-4.9-5.8-3.6-5.8-.8-5.8 4.4-5.7 10.9-5.8 15.5-5.8 10.6-5.8 5.6-5.8-.5-5.7-4-5.8-4.7-5.8-4.9-5.8-4.4-5.8-1.9-5.7 1-5.8 1.6-5.8 1.3-5.8 1.5-5.8 1.7-5.7 1.5-5.8 1.6-5.8 1.8-5.8 .7-5.8-.6-5.7-.7-5.8-.6-5.8-.6-5.8-1-5.8-1.1-5.7-1.3-5.8-1.5-5.8-1.4z" fill="#d3b0df" fill-opacity="0.4"/>
<path d="M891.4 1216.3l5.8 1.5 5.8 1.3 5.7 1.3 5.8 1.2 5.8 .6 5.8 .7 5.8 .8 5.7 .7 5.8 .4 5.8-.5 5.8-1.5 5.8-2 5.7-1.6 5.8-1.4 5.8-1.4 5.8-1.9 5.8-1.8 5.7-.3 5.8 2.1 5.8 4.4 5.8 7.6 5.8 8 5.7 6.9 5.8 1.3 5.8-11.3 5.8-22.1 5.8-33.3 5.7-23.4 5.8-6.7 5.8-.3 5.8 2.3 5.8 7.8 5.7 8.5 5.8 6.4 5.8 5.7 5.8 5.1 5.8 4.2 5.7 1.8 5.8-.3 5.8 .1 5.8 1.6 5.8 2.2 5.7 2 5.8 1.6 5.8 1.3 5.8 .7 5.8 .3 5.7 .5 5.8 .8 5.8 1.2 5.8 1.1 5.8 .3 5.7-.1 5.8 .6 5.8 1 5.8 .9 5.8 1 5.7 1.1 5.8 .5 5.8 .3 5.8 .9 5.8 .7 5.7-.2 5.8-.5 5.8 0 5.8 .4 5.8 .3 5.7 .1 5.8 .1 5.8 .2 5.8-.2 5.8-.2 5.7 .1 5.8 .3 5.8 .2 0 10.2-5.8 .2-5.8-.3-5.7-.6-5.8 .2-5.8 .2-5.8 0-5.8-.1-5.7-.4-5.8-.3-5.8 .2-5.8 .4-5.8-.3-5.7-.7-5.8-.3-5.8 .2-5.8 0-5.8-1.1-5.7-1.9-5.8-1.3-5.8-.3-5.8 .1-5.8-.5-5.7-1-5.8-1.2-5.8-.7-5.8-.1-5.8-.4-5.7-1-5.8-.9-5.8-1-5.8-1.1-5.8-1.1-5.7-1.8-5.8-2.5-5.8-1.8-5.8 .3-5.8 .3-5.7-2.4-5.8-4.5-5.8-4.5-5.8-5.1-5.8-6.5-5.7-8.9-5.8-8.3-5.8-2.3-5.8 .8-5.8 7.4-5.7 21.3-5.8 30.6-5.8 20.2-5.8 10.6-5.8-.6-5.7-7.5-5.8-8.7-5.8-7.9-5.8-4-5.8-1.5-5.7 .7-5.8 1.2-5.8 1.2-5.8 1.6-5.8 2.2-5.7 1.8-5.8 1.3-5.8 1.2-5.8 .6-5.8 0-5.7-.5-5.8-.8-5.8-.9-5.8-1.1-5.8-.9-5.7-1.1-5.8-1.4-5.8-1.7z" fill="#d3b0df" fill-opacity="0.4"/>
<path d="M891.4 1221.2l5.8 .1 5.8-.1 5.7 .3 5.8 .4 5.8-.1 5.8 .2 5.8 .6 5.7 .1 5.8-.7 5.8-.1 5.8 .5 5.8-.2 5.7-.6 5.8-.1 5.8 0 5.8-1.4 5.8-2.5 5.7 0 5.8 1.6 5.8 .6 5.8-.9 5.8-1.3 5.7-2.7 5.8-.3 5.8 6.8 5.8 33.9 5.8 23.6 5.7 5.1 5.8-2.3 5.8-2.6 5.8-1.5 5.8 .1 5.7 1 5.8 2 5.8 1.4 5.8-.4 5.8-1.2 5.7-.5 5.8-.7 5.8-4.2 5.8-6.7 5.8-5.2 5.7-4.7 5.8-4.8 5.8-5.5 5.8-4.9 5.8-2.8 5.7-2.3 5.8-2.8 5.8-2 5.8-.7 5.8-.4 5.7-.4 5.8-.2 5.8-.3 5.8-.1 5.8 0 5.7-.6 5.8-.7 5.8 .2 5.8 0 5.8-.5 5.7 0 5.8 0 5.8-.8 5.8-.1 5.8 .2 5.7-.7 5.8-.7 5.8 .4 5.8 0 5.8-.9 5.7 .4 5.8 2.2 5.8 2.5 0 8.5-5.8-1.8-5.8-1.5-5.7-.5-5.8-.2-5.8 .2-5.8 .3-5.8 .3-5.7 .4-5.8 .3-5.8 .4-5.8 0-5.8 0-5.7 .7-5.8 .8-5.8-.5-5.8-.5-5.8 .7-5.7 .7-5.8-.1-5.8 .1-5.8 .5-5.8 .5-5.7 .5-5.8 .1-5.8 .4-5.8 2.1-5.8 2.7-5.7 2.2-5.8 3.1-5.8 5.3-5.8 5.2-5.8 4.3-5.7 5-5.8 5.8-5.8 6.5-5.8 3.7-5.8 .8-5.7 .6-5.8 .9-5.8 .4-5.8-1.2-5.8-1.7-5.7-.9-5.8-.1-5.8 1.2-5.8 2.5-5.8 2.2-5.7-6.8-5.8-25-5.8-34.8-5.8-8.2-5.8-.5-5.7 2.5-5.8 2.1-5.8 1.1-5.8-1.4-5.8-1.6-5.7 .7-5.8 2.1-5.8 .6-5.8 .7-5.8 .9-5.7 0-5.8-.3-5.8 .3-5.8 .3-5.8-.5-5.7-.4-5.8 .4-5.8 .2-5.8-.5-5.8-.4-5.7 .1-5.8-.1-5.8-.6z" fill="#fdeaa8" fill-opacity="0.7"/>
<path d="M891.4 1221.8l5.8-.1 5.8 .1 5.7 .3 5.8 .2 5.8 0 5.8 0 5.8 .3 5.7 .3 5.8 0 5.8-.2 5.8 0 5.8 .2 5.7 .1 5.8-.1 5.8-.1 5.8-.2 5.8-.7 5.7-.6 5.8-.4 5.8-.5 5.8-.5 5.8-.7 5.7-1.4 5.8-.1 5.8 4.8 5.8 6.6 5.8 7.5 5.7 4.1 5.8 3.1 5.8 .5 5.8-3.4 5.8-4.4 5.7-4.1 5.8-2.8 5.8-1.7 5.8-1 5.8-.1 5.7 .8 5.8 .7 5.8 .4 5.8 .4 5.8 .3 5.7-.4 5.8-.4 5.8-.1 5.8-.2 5.8-.4 5.7-.4 5.8-.8 5.8-1 5.8-.3 5.8-.1 5.7-.1 5.8 .1 5.8-.3 5.8-.7 5.8-.5 5.7 .3 5.8-.1 5.8-.2 5.8 0 5.8-.2 5.7-.4 5.8 .2 5.8 .5 5.8 0 5.8-.1 5.7-.2 5.8-.3 5.8 .2 5.8 .8 5.8 .3 5.7 0 5.8 .3 5.8 .1 0 4.7-5.8 0-5.8 0-5.7-.1-5.8-.4-5.8-.6-5.8-.3-5.8 .1-5.7 0-5.8 .2-5.8 .3-5.8-.3-5.8-.4-5.7 .2-5.8 .2-5.8 .1-5.8 .3-5.8-.1-5.7-.3-5.8 .4-5.8 .9-5.8 .2-5.8 0-5.7 .3-5.8 .2-5.8 .2-5.8 .5-5.8 .8-5.7 .6-5.8 .7-5.8 0-5.8-.1-5.8 .6-5.7 .6-5.8-.4-5.8-.7-5.8-.3-5.8-.6-5.7-.8-5.8-.2-5.8 1.1-5.8 2.1-5.8 2.9-5.7 3.9-5.8 4.2-5.8 3.4-5.8-.5-5.8-3.1-5.7-4.9-5.8-8-5.8-7.1-5.8-5.5-5.8 .1-5.7 1.3-5.8 .7-5.8 .5-5.8 .5-5.8 .3-5.7 .6-5.8 .8-5.8 .4-5.8 .1-5.8-.1-5.7-.1-5.8-.1-5.8 .1-5.8-.2-5.8-.2-5.7 .1-5.8 0-5.8-.1-5.8-.3-5.8-.1-5.7-.1-5.8-.3-5.8-.2z" fill="#fdd890" fill-opacity="0.5"/>
<path d="M891.4 1221.6l5.8 .2 5.8 .3 5.7 .1 5.8-.1 5.8 0 5.8 .4 5.8 .3 5.7 0 5.8-.1 5.8 0 5.8 0 5.8 .1 5.7 0 5.8-.3 5.8-.5 5.8-.9 5.8-1.4 5.7-.1 5.8 .6 5.8 .2 5.8-.8 5.8-1.2 5.7-2.1 5.8 .1 5.8 6.1 5.8 3.4 5.8 5.5 5.7 3.4 5.8 2.3 5.8-1.1 5.8-4.1 5.8-3.1 5.7-3.3 5.8-2.6 5.8-1 5.8-.8 5.8-.7 5.7 .5 5.8 .7 5.8-.3 5.8-.3 5.8 .6 5.7 .4 5.8 0 5.8 .3 5.8 0 5.8-.8 5.7-.2 5.8 .2 5.8-.1 5.8-.4 5.8-.2 5.7 .2 5.8 .4 5.8 .3 5.8-.2 5.8-.4 5.7-.2 5.8-.1 5.8 .1 5.8 .5 5.8 .2 5.7-.2 5.8 .5 5.8 .6 5.8-.2 5.8-.2 5.7 .1 5.8 0 5.8 0 5.8 1 5.8 .8 5.7 .3 5.8 1 5.8 1.4 0 5.1-5.8-1.5-5.8-1.1-5.7-.4-5.8-.7-5.8-1-5.8 0-5.8 0-5.7-.2-5.8 .3-5.8 .4-5.8-.5-5.8-.8-5.7-.2-5.8 0-5.8-.2-5.8 .1-5.8-.1-5.7 0-5.8 .3-5.8 .2-5.8-.1-5.8-.2-5.7-.3-5.8-.1-5.8 .3-5.8 .4-5.8 0-5.7 .3-5.8 .4-5.8-.1-5.8-.3-5.8 .1-5.7-.2-5.8-.5-5.8 .2-5.8 .1-5.8-.8-5.7-.3-5.8 .8-5.8 .6-5.8 1-5.8 2.7-5.7 3.4-5.8 3-5.8 4-5.8 1.2-5.8-2.2-5.7-4.2-5.8-6.2-5.8-4.1-5.8-6.8-5.8 0-5.7 2.2-5.8 1.3-5.8 .7-5.8-.5-5.8-.6-5.7 .5-5.8 1.4-5.8 .8-5.8 .3-5.8 .2-5.7 .1-5.8 .1-5.8 .1-5.8 0-5.8-.2-5.7-.2-5.8 0-5.8-.1-5.8-.1-5.8-.2-5.7-.3-5.8-.2-5.8 .1z" fill="#fdd890" fill-opacity="0.5"/>
<path d="M891.4 1221.4l5.8 .1 5.8 .3 5.7 .4 5.8 .3 5.8 0 5.8-.1 5.8 .1 5.7 .2 5.8 .3 5.8-.1 5.8-.3 5.8-.2 5.7-.2 5.8-.3 5.8-.8 5.8-1.8 5.8-2.4 5.7 0 5.8 2.1 5.8 1.5 5.8-1 5.8-2.1 5.7-3.4 5.8 .2 5.8 8.3 5.8 2.3 5.8 4.5 5.7 .6 5.8-.1 5.8-.9 5.8-3.1 5.8-3.9 5.7-3.4 5.8-2.5 5.8-.5 5.8 1 5.8 .9 5.7 .8 5.8 1 5.8 .6 5.8 0 5.8 .2 5.7 .5 5.8 .1 5.8-.5 5.8-.5 5.8 .1 5.7 .3 5.8-.4 5.8-.8 5.8-.3 5.8 .6 5.7 .5 5.8 0 5.8-.2 5.8 0 5.8 .1 5.7-.5 5.8-.5 5.8 0 5.8 .5 5.8 .2 5.7-.4 5.8-.2 5.8 .6 5.8 .8 5.8 .2 5.7-.2 5.8 0 5.8 .5 5.8 .4 5.8 0 5.7-.1 5.8 .1 5.8 .3 0 4.9-5.8-.5-5.8-.1-5.7 .2-5.8 0-5.8-.4-5.8-.4-5.8 0-5.7 .2-5.8-.2-5.8-.8-5.8-.6-5.8 0-5.7 .4-5.8 0-5.8-.3-5.8 .1-5.8 .2-5.7 .1-5.8 0-5.8 .3-5.8 .5-5.8-.1-5.7-.8-5.8-.6-5.8 .3-5.8 .8-5.8 .5-5.7-.2-5.8-.1-5.8 .3-5.8 .5-5.8 0-5.7-.3-5.8-.4-5.8-.4-5.8-.4-5.8-.5-5.7-.7-5.8-1.3-5.8-1.4-5.8 .6-5.8 2.8-5.7 3.5-5.8 3.9-5.8 3.1-5.8 .9-5.8-.1-5.7-1.5-5.8-5-5.8-2.6-5.8-8.9-5.8-.4-5.7 3.2-5.8 2.2-5.8 1-5.8-1.6-5.8-2.1-5.7 .2-5.8 2.6-5.8 1.6-5.8 .6-5.8 .3-5.7 .3-5.8 .3-5.8 .2-5.8 0-5.8 0-5.7-.2-5.8-.2-5.8-.1-5.8-.2-5.8-.1-5.7-.1-5.8-.1-5.8-.2z" fill="#fdd890" fill-opacity="0.5"/>
<path d="M891.4 1221.7l5.8 .1 5.8 .1 5.7 .2 5.8 .1 5.8 .1 5.8 0 5.8 .3 5.7 .2 5.8-.1 5.8 .1 5.8 .2 5.8 .2 5.7 0 5.8-.2 5.8 0 5.8 .3 5.8 .3 5.7-.6 5.8-1.5 5.8-1.3 5.8-.4 5.8-.2 5.7-.8 5.8 0 5.8 3.7 5.8 .3 5.8 2.7 5.7 .6 5.8-.4 5.8-2.2 5.8-2.9 5.8-2.6 5.7-1.4 5.8-.1 5.8 .6 5.8 1.1 5.8 .9 5.7 .1 5.8-.5 5.8-.3 5.8 .5 5.8 .1 5.7-.3 5.8 .3 5.8 .7 5.8 .1 5.8 .2 5.7 .3 5.8 .1 5.8-.2 5.8-.1 5.8 0 5.7 0 5.8 .4 5.8 .1 5.8-.5 5.8-.3 5.7 .2 5.8 0 5.8-.3 5.8 0 5.8 .4 5.7 .4 5.8 .2 5.8-.1 5.8 0 5.8 .5 5.7 .4 5.8-.1 5.8-.2 5.8 .4 5.8 .6 5.7 .1 5.8 0 5.8 .2 0 4.7-5.8 .1-5.8 .1-5.7-.4-5.8-.5-5.8-.2-5.8 0-5.8-.1-5.7-.5-5.8-.3-5.8 .2-5.8 .1-5.8-.2-5.7-.5-5.8-.5-5.8 .1-5.8 .4-5.8 0-5.7-.4-5.8 .1-5.8 .5-5.8 .3-5.8 0-5.7-.1-5.8-.5-5.8-.2-5.8 .4-5.8 .2-5.7-.4-5.8-.3-5.8-.1-5.8-.4-5.8-.3-5.7 .2-5.8-.2-5.8-.6-5.8 .1-5.8 .7-5.7 0-5.8-.8-5.8-1.2-5.8-.7-5.8 .2-5.7 1.6-5.8 2.6-5.8 2.5-5.8 2-5.8 .7-5.7-1-5.8-3.4-5.8-1.2-5.8-4.4-5.8 .2-5.7 .9-5.8 .1-5.8 .3-5.8 1.2-5.8 1.4-5.7 .6-5.8 0-5.8 0-5.8 0-5.8-.2-5.7-.2-5.8-.2-5.8-.1-5.8 .1-5.8 0-5.7-.1-5.8-.3-5.8-.1-5.8 0-5.8-.2-5.7-.1-5.8-.3-5.8-.3z" fill="#fdeaa8" fill-opacity="0.5"/>
<path d="M891.4 1216.1l2.9 1.1 2.9 1.6 2.9 1.4 2.9 .9 2.9 .4 2.8 .2 2.9 .3 2.9 .6 2.9 .8 2.9 .5 2.9 0 2.9-.2 2.9-.2 2.9 0 2.9 .1 2.8-.1 2.9-.3 2.9-.6 2.9-.8 2.9-1 2.9-1.3 2.9-1.7 2.9-1.9 2.9-1.7 2.9-1.6 2.8-1.3 2.9-.9 2.9-.2 2.9 .5 2.9 1.1 2.9 1.4 2.9 1.3 2.9 1.3 2.9 1.2 2.9 .9 2.8 .7 2.9 .8 2.9 1.2 2.9 1.6 2.9 1.6 2.9 1.2 2.9 .6 2.9-.2 2.9-.5 2.9-.5 2.8-.5 2.9-1.2 2.9-3.4 2.9-5.4 2.9-7.5 2.9-18.6 2.9-32.5 2.9-36.6 2.9-38.9 2.9-40.2 2.8-28.6 2.9-13.3 2.9-9.4 2.9-9.9 2.9-3.9 2.9-2.7 2.9-2.7 2.9-2.7 2.9-2.5 2.8-1.4 2.9-.1 2.9 1.7 2.9 4.6 2.9 4.5 2.9 5 2.9 6.2 2.9 7.6 2.9 8.6 2.9 8.5 2.9 7.2 2.8 6.2 2.9 5.7 2.9 5.6 2.9 5.4 2.9 5.1 2.9 4.8 2.9 5.1 2.9 6 2.9 6.8 2.9 6.7 2.8 5.6 2.9 4.1 2.9 3.4 2.9 3.6 2.9 4.7 2.9 5.4 2.9 5.1 2.9 3.6 2.9 2 2.9 1.6 2.8 2.4 2.9 3.3 2.9 3.6 2.9 2.3 2.9 0 2.9-1.5 2.9-1 2.9 1.2 2.9 3.6 2.9 4.6 2.8 3.8 2.9 2.2 2.9 1.1 2.9 1.4 2.9 2.5 2.9 3 2.9 2.9 2.9 1.8 2.9 1 2.8 1 2.9 1.8 2.9 2.6 2.9 2.7 2.9 2.5 2.9 1.8 2.9 1.3 2.9 1.1 2.9 .7 2.9 .2 2.9-.3 2.8-.7 2.9-.1 2.9 .8 2.9 1.3 2.9 .8 2.9-.9 2.9-2.4 2.9-2.6 2.9-1.5 2.9 .3 2.8 1.6 2.9 2.1 2.9 2.7 2.9 2.1 2.9 .4 2.9 1.1 2.9 2.1 2.9 2.1 2.9 1 2.9-.6 2.8-1.2 2.9-.6 2.9 .8 2.9 1.3 2.9 .5" fill="none" stroke="#4fb3d6" stroke-width="1.5" stroke-linejoin="round"/>
<path d="M891.4 1214.3l2.9 2 2.9 1.8 2.9 1.3 2.9 .8 2.9 .6 2.8 .8 2.9 1.2 2.9 1.3 2.9 1 2.9 .4 2.9-.1 2.9-.2 2.9-.2 2.9 .1 2.9 0 2.8-.2 2.9-.6 2.9-.8 2.9-.9 2.9-1.4 2.9-2.3 2.9-3.3 2.9-3.9 2.9-3.3 2.9-2.6 2.8-1.9 2.9-1 2.9 0 2.9 .8 2.9 1.5 2.9 1.9 2.9 2 2.9 2.5 2.9 2.8 2.9 2.6 2.8 2 2.9 1.4 2.9 1.2 2.9 1.3 2.9 1.3 2.9 1.1 2.9 .7 2.9 .4 2.9 .1 2.9-.2 2.8-.7 2.9-1.6 2.9-4 2.9-6 2.9-7.7 2.9-16.3 2.9-34.9 2.9-38.3 2.9-28.6 2.9-20.9 2.8-10.8 2.9-1 2.9-.9 2.9-.6 2.9 3.4 2.9 2.7 2.9 .8 2.9-.6 2.9-.5 2.8 .2 2.9 1 2.9 1.3 2.9 1.9 2.9 2.3 2.9 2 2.9 1.8 2.9 2.6 2.9 2 2.9-.7 2.9-2 2.8-.3 2.9 2 2.9 3.7 2.9 4.3 2.9 3.4 2.9 1.5 2.9-.1 2.9-.4 2.9 .6 2.9 2.2 2.8 3.4 2.9 3.8 2.9 3.4 2.9 2.3 2.9 1.6 2.9 1.4 2.9 2.2 2.9 3.6 2.9 5.1 2.9 5.9 2.8 5.6 2.9 4.7 2.9 3.5 2.9 2.4 2.9 1.5 2.9 1.9 2.9 2.9 2.9 3.7 2.9 3.6 2.9 2.3 2.8 .8 2.9 0 2.9 .2 2.9 1.4 2.9 2.4 2.9 2.8 2.9 2.3 2.9 1.7 2.9 1.2 2.8 1.4 2.9 1.7 2.9 1.9 2.9 1.9 2.9 1.9 2.9 2.1 2.9 2.2 2.9 1.9 2.9 1 2.9 0 2.9-.5 2.8 .1 2.9 1.3 2.9 2.3 2.9 2.1 2.9 .6 2.9-1.2 2.9-2.1 2.9-1.6 2.9 .2 2.9 1.5 2.8 1.9 2.9 1 2.9 0 2.9-.4 2.9 0 2.9 .7 2.9 .6 2.9-.1 2.9-.8 2.9-.3 2.8 1 2.9 2.6 2.9 2.8 2.9 1.1 2.9-1.5" fill="none" stroke="#1a66a8" stroke-width="1.5" stroke-linejoin="round"/>
<path d="M891.4 1214.4l2.9 1 2.9 1.5 2.9 1.7 2.9 1.6 2.9 1.4 2.8 .9 2.9 .6 2.9 .5 2.9 .5 2.9 .7 2.9 .5 2.9 .2 2.9-.3 2.9-.5 2.9-.7 2.8-.4 2.9-.1 2.9 .1 2.9-.3 2.9-1.4 2.9-2.9 2.9-3.8 2.9-3.6 2.9-2.6 2.9-1.4 2.8-1 2.9-.6 2.9-.3 2.9 .3 2.9 .9 2.9 1.6 2.9 1.8 2.9 2.2 2.9 2.3 2.9 2.2 2.8 1.8 2.9 1.4 2.9 1.3 2.9 1.3 2.9 1 2.9 .8 2.9 .4 2.9 .1 2.9 0 2.9 0 2.8-.4 2.9-1.2 2.9-3.6 2.9-5.6 2.9-7.7 2.9-16.4 2.9-35.1 2.9-38.7 2.9-31.5 2.9-15.2 2.8-6.5 2.9 1 2.9 6 2.9 6.3 2.9 6.7 2.9 7.2 2.9 6.7 2.9 5.3 2.9 3.9 2.8 3.2 2.9 3 2.9 3.3 2.9 3.6 2.9 3.5 2.9 2.7 2.9 2 2.9 1.2 2.9 1 2.9-.5 2.9-1.7 2.8-.9 2.9 .9 2.9 2.7 2.9 2.9 2.9 2.4 2.9 1.4 2.9 1.1 2.9 1.7 2.9 2.3 2.9 3 2.8 3.1 2.9 2.8 2.9 2.2 2.9 1.5 2.9 1.3 2.9 1.3 2.9 1.8 2.9 2.2 2.9 2.2 2.9 2 2.8 1.4 2.9 1 2.9 1.1 2.9 1.6 2.9 2.3 2.9 2.5 2.9 2.2 2.9 1.2 2.9 .5 2.9 .2 2.8 .6 2.9 1.1 2.9 1.7 2.9 1.7 2.9 1.4 2.9 1 2.9 .9 2.9 1 2.9 1 2.8 .8 2.9 0 2.9-.8 2.9-1.2 2.9-.6 2.9 .6 2.9 1.8 2.9 2.4 2.9 1.7 2.9 .3 2.9-1.1 2.8-1.7 2.9-1.1 2.9 .1 2.9 .9 2.9 1.1 2.9 .4 2.9-.5 2.9-.6 2.9 .1 2.9 1.3 2.8 2.2 2.9 1.9 2.9 .4 2.9-1.3 2.9-2.2 2.9-1.8 2.9-.1 2.9 1.6 2.9 2.3 2.9 1.5 2.8-.2 2.9-2.1 2.9-2.8 2.9-2.1 2.9-.8" fill="none" stroke="#0f5a9a" stroke-width="1.5" stroke-linejoin="round"/>
<path d="M891.4 1216l2.9 .9 2.9 1.1 2.9 .9 2.9 1 2.9 .8 2.8 1 2.9 .8 2.9 .8 2.9 .5 2.9 .3 2.9 .2 2.9 .3 2.9 .2 2.9 .1 2.9-.3 2.8-.6 2.9-.7 2.9-.8 2.9-.7 2.9-1 2.9-1.8 2.9-2.4 2.9-2.6 2.9-2 2.9-1.5 2.8-.9 2.9-.5 2.9 0 2.9 .5 2.9 1 2.9 1.3 2.9 1.2 2.9 1.4 2.9 1.4 2.9 1.5 2.8 1.3 2.9 1.5 2.9 1.5 2.9 1.4 2.9 1.1 2.9 .4 2.9 0 2.9-.2 2.9-.2 2.9-.1 2.8-.1 2.9-1.1 2.9-3.3 2.9-5.3 2.9-7.5 2.9-14.6 2.9-19.4 2.9-26.6 2.9-26.7 2.9-18.4 2.8-7.9 2.9-3.6 2.9-1.5 2.9 2.7 2.9 3.9 2.9 3.5 2.9 2.3 2.9 1.8 2.9 1.7 2.8 1.4 2.9 .3 2.9-.4 2.9-.2 2.9 1.2 2.9 2.3 2.9 2.7 2.9 2.3 2.9 1.1 2.9 0 2.9-.3 2.8 .1 2.9 .6 2.9 .8 2.9 .4 2.9 0 2.9-.1 2.9 .6 2.9 1.6 2.9 2.4 2.9 2.9 2.8 2.7 2.9 2.4 2.9 2.2 2.9 2.3 2.9 2.4 2.9 2.1 2.9 1.6 2.9 1 2.9 .7 2.9 .8 2.8 1 2.9 1 2.9 .6 2.9-.3 2.9-.6 2.9-.1 2.9 1 2.9 2.1 2.9 2.4 2.9 2.1 2.8 1.8 2.9 1.6 2.9 2.1 2.9 2.7 2.9 2.8 2.9 2.3 2.9 1.2 2.9 0 2.9-.3 2.8-.1 2.9 .5 2.9 1.1 2.9 1.5 2.9 1.5 2.9 1.8 2.9 1.9 2.9 2.1 2.9 1.8 2.9 1.3 2.9 .9 2.8 .9 2.9 1 2.9 1.1 2.9 1 2.9 .2 2.9-.5 2.9-.8 2.9-.1 2.9 .8 2.9 1.7 2.8 1.7 2.9 .7 2.9-.3 2.9-1.1 2.9-.9 2.9 0 2.9 .9 2.9 1.5 2.9 1.6 2.9 1.1 2.8 .8 2.9 .4 2.9 .1 2.9-.2 2.9-.6" fill="none" stroke="#2f8ec2" stroke-width="1.5" stroke-linejoin="round"/>
<path d="M891.4 1213.6l2.9 1.6 2.9 1.9 2.9 1.8 2.9 1.6 2.9 1.2 2.8 1 2.9 .7 2.9 .7 2.9 .5 2.9 .5 2.9 .2 2.9 .1 2.9 .1 2.9 0 2.9-.1 2.8-.3 2.9-.4 2.9-.6 2.9-1.1 2.9-1.9 2.9-2.9 2.9-3.7 2.9-3.6 2.9-2.9 2.9-2.1 2.8-1.8 2.9-1.2 2.9-.5 2.9 .7 2.9 1.8 2.9 2.4 2.9 2.5 2.9 2.6 2.9 2.5 2.9 2.4 2.8 1.8 2.9 1.5 2.9 1.3 2.9 1.2 2.9 1 2.9 .6 2.9 .4 2.9 .2 2.9 .1 2.9 0 2.8-.4 2.9-1.4 2.9-3.7 2.9-5.6 2.9-7.5 2.9-14.2 2.9-23.9 2.9-30.6 2.9-18.6 2.9-6.4 2.8-2.5 2.9 1.6 2.9 2.5 2.9 1.8 2.9 3.9 2.9 3.8 2.9 3.5 2.9 3.3 2.9 3.2 2.8 3.2 2.9 2.9 2.9 2.2 2.9 1.1 2.9 .7 2.9 .8 2.9 1.7 2.9 2.4 2.9 2.4 2.9 1.7 2.9 .3 2.8-.5 2.9-1 2.9-.6 2.9 .4 2.9 1.2 2.9 1.4 2.9 1.1 2.9 .4 2.9-.3 2.9-.5 2.8 0 2.9 .8 2.9 1.7 2.9 2.2 2.9 2 2.9 1.5 2.9 .7 2.9 .4 2.9 .6 2.9 1.3 2.8 1.7 2.9 2 2.9 1.8 2.9 1.5 2.9 1.3 2.9 1.1 2.9 1.1 2.9 .6 2.9 .1 2.9-.3 2.8-.1 2.9 .5 2.9 1.4 2.9 1.7 2.9 1.2 2.9 .1 2.9-.8 2.9-1 2.9-.3 2.8 .8 2.9 1.4 2.9 1.1 2.9 .3 2.9-.4 2.9-.4 2.9 .4 2.9 1.4 2.9 2 2.9 1.6 2.9 .6 2.8-.1 2.9-.1 2.9 .6 2.9 1.6 2.9 2 2.9 1.4 2.9 .4 2.9-.8 2.9-1.3 2.9-1 2.8-.4 2.9 .4 2.9 .7 2.9 .5 2.9 .1 2.9-.3 2.9-.6 2.9-.5 2.9-.3 2.9 .3 2.8 .8 2.9 1.3 2.9 1.4 2.9 1.4 2.9 1" fill="none" stroke="#2a82bd" stroke-width="1.5" stroke-linejoin="round"/>
<path d="M891.4 1218.2l2.9 .5 2.9 .4 2.9 .4 2.9 .5 2.9 .6 2.8 .8 2.9 .7 2.9 .6 2.9 .4 2.9 .2 2.9 .1 2.9-.1 2.9 0 2.9 0 2.9-.1 2.8 0 2.9-.1 2.9-.2 2.9-.4 2.9-1 2.9-1.5 2.9-2 2.9-1.9 2.9-1.5 2.9-1 2.8-.8 2.9-.5 2.9 0 2.9 .4 2.9 .9 2.9 1.1 2.9 1 2.9 .9 2.9 .8 2.9 .8 2.8 .7 2.9 1.1 2.9 1.3 2.9 1.3 2.9 1 2.9 .6 2.9 .3 2.9 0 2.9-.2 2.9-.2 2.8-.4 2.9-1.3 2.9-3.3 2.9-5 2.9-7.3 2.9-12.5 2.9-22.8 2.9-29.9 2.9-16.3 2.9-6.1 2.8-3 2.9-1.2 2.9 1.3 2.9 .7 2.9 3.4 2.9 3.9 2.9 3.5 2.9 2.9 2.9 2.4 2.8 1.6 2.9 .9 2.9 .4 2.9 .2 2.9 .2 2.9 .5 2.9 .9 2.9 1.2 2.9 1.6 2.9 1.7 2.9 1.6 2.8 1.2 2.9 .6 2.9-.1 2.9-1.1 2.9-2.1 2.9-2.6 2.9-2.2 2.9-1.2 2.9 .1 2.9 1.2 2.8 2 2.9 2.3 2.9 2.2 2.9 1.7 2.9 1.3 2.9 .9 2.9 .6 2.9 .6 2.9 .8 2.9 1.3 2.8 1.5 2.9 1.7 2.9 1.5 2.9 1.1 2.9 .8 2.9 .7 2.9 .8 2.9 1.2 2.9 1.5 2.9 1.8 2.8 1.7 2.9 1.3 2.9 .7 2.9 0 2.9-.4 2.9-.3 2.9-.1 2.9 .4 2.9 1 2.8 1.2 2.9 1.1 2.9 1 2.9 .7 2.9 .6 2.9 .8 2.9 1.3 2.9 1.8 2.9 2.2 2.9 2.1 2.9 1.7 2.8 .9 2.9 .1 2.9-.4 2.9-.5 2.9-.3 2.9 .3 2.9 .7 2.9 1 2.9 1.1 2.9 1 2.8 .8 2.9 .8 2.9 .8 2.9 .8 2.9 .7 2.9 .5 2.9-.2 2.9-.8 2.9-1.4 2.9-1.6 2.8-1.3 2.9-.7 2.9 0 2.9 .4 2.9 .5" fill="none" stroke="#3aa0cc" stroke-width="1.5" stroke-linejoin="round"/>
<path d="M891.4 1218.9l2.9-.1 2.9 0 2.9 .3 2.9 .6 2.9 .8 2.8 .8 2.9 .5 2.9 .4 2.9 .4 2.9 .4 2.9 .4 2.9 .4 2.9 .3 2.9-.2 2.9-.6 2.8-.8 2.9-.9 2.9-.5 2.9-.1 2.9-.1 2.9-.5 2.9-1 2.9-1.4 2.9-1.4 2.9-1.2 2.8-1 2.9-.4 2.9 .2 2.9 .6 2.9 .9 2.9 .6 2.9 .3 2.9 .2 2.9 .3 2.9 .7 2.8 1.2 2.9 1.6 2.9 1.7 2.9 1.2 2.9 .4 2.9-.2 2.9-.4 2.9-.3 2.9 .1 2.9 .4 2.8 .2 2.9-.9 2.9-3.3 2.9-5.3 2.9-7.5 2.9-8.1 2.9-16.7 2.9-23.1 2.9-12.6 2.9-4.8 2.8-1.9 2.9 .1 2.9 1.9 2.9 1.3 2.9 2 2.9 1.6 2.9 .3 2.9-.9 2.9-1.9 2.8-2.1 2.9-1.1 2.9 .5 2.9 2.5 2.9 3.3 2.9 1.3 2.9-.6 2.9-1 2.9-.8 2.9-.3 2.9-.1 2.8-.4 2.9-1.1 2.9-1.7 2.9-1.7 2.9-1.5 2.9-1 2.9-.4 2.9-.2 2.9-.1 2.9-.3 2.8-.4 2.9 0 2.9 .9 2.9 2 2.9 3 2.9 3.7 2.9 3.6 2.9 3 2.9 2.3 2.9 1.8 2.8 1.5 2.9 1.5 2.9 1.2 2.9 1 2.9 .6 2.9 .5 2.9 .8 2.9 1.4 2.9 2.1 2.9 2.5 2.8 2.5 2.9 2.1 2.9 1.5 2.9 1 2.9 .8 2.9 .6 2.9 .7 2.9 .6 2.9 .4 2.8 .3 2.9 .4 2.9 .7 2.9 1.1 2.9 1.5 2.9 1.3 2.9 .7 2.9-.2 2.9-1 2.9-1.2 2.9-.8 2.8 0 2.9 1 2.9 1.5 2.9 1.5 2.9 1.2 2.9 .5 2.9 .1 2.9 .1 2.9 .4 2.9 .8 2.8 .9 2.9 .8 2.9 .2 2.9-.3 2.9-.6 2.9-.4 2.9 .3 2.9 1.1 2.9 1.7 2.9 1.9 2.8 1.3 2.9 .4 2.9-.5 2.9-.8 2.9-.5" fill="none" stroke="#5bbccf" stroke-width="1.5" stroke-linejoin="round"/>
<path d="M891.4 1217.7l2.9 .8 2.9 .8 2.9 .6 2.9 .4 2.9 .4 2.8 .3 2.9 .5 2.9 .5 2.9 .7 2.9 .6 2.9 .5 2.9 .3 2.9 .1 2.9-.3 2.9-.5 2.8-.6 2.9-.4 2.9-.2 2.9-.2 2.9-.4 2.9-1.3 2.9-1.9 2.9-2.3 2.9-1.8 2.9-1.2 2.8-.6 2.9 0 2.9 .4 2.9 .6 2.9 .7 2.9 .6 2.9 .5 2.9 .7 2.9 .9 2.9 1.1 2.8 1.2 2.9 1.1 2.9 1.2 2.9 1 2.9 .8 2.9 .5 2.9 .3 2.9 .1 2.9-.2 2.9-.2 2.8-.4 2.9-1.2 2.9-3.2 2.9-4.8 2.9-7.3 2.9-4.6 2.9-14.8 2.9-22.2 2.9-12.2 2.9-4.5 2.8-1.7 2.9 .4 2.9 2.3 2.9 2.3 2.9 2.3 2.9 2.9 2.9 3.3 2.9 3.1 2.9 2.2 2.8 1.1 2.9-.2 2.9-.6 2.9-.2 2.9 .9 2.9 1.6 2.9 1.6 2.9 .5 2.9-.6 2.9-1.5 2.9-1.2 2.8-.2 2.9 .7 2.9 .8 2.9 .2 2.9-.9 2.9-1.7 2.9-1.5 2.9-.4 2.9 1.1 2.9 2.3 2.8 2.8 2.9 2.3 2.9 1.3 2.9 .3 2.9 0 2.9 0 2.9 .7 2.9 1.4 2.9 2 2.9 2.5 2.8 2.2 2.9 1.6 2.9 .5 2.9-.4 2.9-1.1 2.9-1 2.9-.2 2.9 .9 2.9 1.7 2.9 2.1 2.8 1.7 2.9 1.1 2.9 .8 2.9 .7 2.9 1.1 2.9 1.3 2.9 1.1 2.9 .5 2.9-.2 2.8-.4 2.9 0 2.9 .6 2.9 1.1 2.9 .9 2.9 .3 2.9-.7 2.9-1 2.9-.6 2.9 .4 2.9 1.6 2.8 2 2.9 1.5 2.9 .5 2.9-.4 2.9-.6 2.9-.1 2.9 .3 2.9 .5 2.9 0 2.9-.9 2.8-1.3 2.9-.8 2.9 .5 2.9 1.7 2.9 2.3 2.9 1.7 2.9 .5 2.9-.8 2.9-1.3 2.9-.7 2.8 .3 2.9 1 2.9 .9 2.9 .1 2.9-.9" fill="none" stroke="#6cc5c9" stroke-width="1.5" stroke-linejoin="round"/>
<path d="M891.4 1215.7l2.9 1.2 2.9 1.3 2.9 1.3 2.9 1.1 2.9 1 2.8 .7 2.9 .6 2.9 .3 2.9 .3 2.9 .3 2.9 .3 2.9 .3 2.9 .2 2.9 0 2.9-.2 2.8-.2 2.9-.3 2.9-.3 2.9-.6 2.9-1.4 2.9-2.4 2.9-3.2 2.9-3.2 2.9-2.4 2.9-1.6 2.8-1 2.9-.6 2.9-.1 2.9 .5 2.9 1 2.9 1.4 2.9 1.5 2.9 1.8 2.9 2.1 2.9 2 2.8 1.7 2.9 1.5 2.9 1.3 2.9 1.1 2.9 .9 2.9 .6 2.9 .4 2.9 0 2.9-.1 2.9-.3 2.8-.6 2.9-1.4 2.9-3.4 2.9-5.2 2.9-7.2 2.9-4.8 2.9-13.4 2.9-20.2 2.9-13 2.9-5.9 2.8-.4 2.9 5.3 2.9 8.7 2.9 11.3 2.9 9.6 2.9 7 2.9 6 2.9 5.2 2.9 4.5 2.8 3.5 2.9 2.3 2.9 1.3 2.9 .7 2.9 .4 2.9 .5 2.9 .4 2.9-.1 2.9-1 2.9-1.7 2.9-1.8 2.8-1.2 2.9-.6 2.9-.2 2.9-.1 2.9-.6 2.9-1.1 2.9-1.2 2.9-.6 2.9 .3 2.9 1.2 2.8 1.8 2.9 1.6 2.9 .7 2.9 0 2.9-.1 2.9 .2 2.9 1.1 2.9 2 2.9 2.2 2.9 1.8 2.8 1 2.9-.1 2.9-.5 2.9-.5 2.9 .2 2.9 .7 2.9 .8 2.9 .1 2.9-.7 2.9-1.6 2.8-1.7 2.9-1.3 2.9-.2 2.9 .8 2.9 1.4 2.9 1.3 2.9 .8 2.9 .1 2.9-.4 2.8-.5 2.9-.5 2.9-.5 2.9-.6 2.9-.8 2.9-.9 2.9-.7 2.9-.3 2.9 .4 2.9 .9 2.9 .9 2.8 .6 2.9 .1 2.9-.6 2.9-.6 2.9-.4 2.9 .1 2.9 .7 2.9 1 2.9 .9 2.9 .7 2.8 .5 2.9 .4 2.9 .4 2.9 .4 2.9 .2 2.9-.1 2.9-.6 2.9-.8 2.9-.9 2.9-.6 2.8-.2 2.9 .2 2.9 .3 2.9 .3 2.9 .1" fill="none" stroke="#3aa0cc" stroke-width="1.5" stroke-linejoin="round"/>
<path d="M891.4 1217.9l2.9 .7 2.9 .7 2.9 .8 2.9 .7 2.9 .8 2.8 .6 2.9 .6 2.9 .4 2.9 .4 2.9 .3 2.9 .3 2.9 .5 2.9 .4 2.9 .5 2.9 .3 2.8 .3 2.9 .1 2.9 .1 2.9-.2 2.9-.4 2.9-.6 2.9-.8 2.9-.9 2.9-.8 2.9-.8 2.8-.9 2.9-.8 2.9-.8 2.9-.8 2.9-.7 2.9-.8 2.9-.8 2.9-.8 2.9-.7 2.9-.5 2.8-.1 2.9 .4 2.9 1.2 2.9 1.8 2.9 2.6 2.9 3.7 2.9 5 2.9 4.9 2.9 4.3 2.9 4.1 2.8 3.8 2.9 2.6 2.9-1.4 2.9-4.9 2.9-7.4 2.9-7.5 2.9-18.2 2.9-21.2 2.9-21.9 2.9-19 2.8-10.5 2.9-6.5 2.9-3.5 2.9-.2 2.9 0 2.9 1 2.9 2.3 2.9 3.5 2.9 3.9 2.8 3.5 2.9 3 2.9 2.6 2.9 2.5 2.9 2.4 2.9 2.3 2.9 2 2.9 1.8 2.9 1.5 2.9 1 2.9 .7 2.8-.1 2.9-.7 2.9-.8 2.9-.3 2.9 .7 2.9 1.6 2.9 2.3 2.9 2.5 2.9 2.5 2.9 2.2 2.8 1.8 2.9 1.6 2.9 1.5 2.9 1.4 2.9 1.3 2.9 1.1 2.9 .9 2.9 .9 2.9 .8 2.9 .8 2.8 .7 2.9 .8 2.9 .7 2.9 .7 2.9 .7 2.9 .9 2.9 .9 2.9 1 2.9 .9 2.9 .9 2.8 .7 2.9 .8 2.9 .8 2.9 .9 2.9 1 2.9 1.1 2.9 1.1 2.9 1.1 2.9 1.1 2.8 1.1 2.9 1 2.9 .9 2.9 .7 2.9 .4 2.9 .4 2.9 .3 2.9 .4 2.9 .5 2.9 .5 2.9 .3 2.8 .2 2.9-.1 2.9-.2 2.9-.1 2.9 .1 2.9 .1 2.9 .2 2.9 0 2.9-.2 2.9-.1 2.8-.1 2.9 .2 2.9 .5 2.9 .5 2.9 .4 2.9 .1 2.9-.2 2.9-.4 2.9-.2 2.9-.1 2.8 .1 2.9 .2 2.9 .1 2.9 .1 2.9 .2" fill="none" stroke="#8e3a9e" stroke-width="1.7" stroke-linejoin="round"/>
<path d="M891.4 1217.9l2.9 .7 2.9 .8 2.9 .7 2.9 .8 2.9 .6 2.8 .7 2.9 .5 2.9 .5 2.9 .4 2.9 .3 2.9 .4 2.9 .4 2.9 .4 2.9 .4 2.9 .4 2.8 .3 2.9 .1 2.9 .1 2.9-.2 2.9-.5 2.9-.6 2.9-.8 2.9-.8 2.9-.8 2.9-.8 2.8-.8 2.9-.9 2.9-.8 2.9-.8 2.9-.7 2.9-.8 2.9-.8 2.9-.8 2.9-.8 2.9-.5 2.8 0 2.9 .6 2.9 1.2 2.9 1.9 2.9 2.5 2.9 3.2 2.9 4.4 2.9 4.3 2.9 3.9 2.9 3.8 2.8 3.4 2.9 2.3 2.9-1.2 2.9-4.3 2.9-6.6 2.9-6.8 2.9-16 2.9-18.7 2.9-19.4 2.9-16.8 2.8-9.6 2.9-5.6 2.9-2.9 2.9-.4 2.9-.3 2.9 .5 2.9 1.7 2.9 2.9 2.9 3.6 2.8 3.6 2.9 3.1 2.9 2.7 2.9 2.7 2.9 2.8 2.9 2.7 2.9 2.5 2.9 2.3 2.9 2.1 2.9 1.5 2.9 .9 2.8 .3 2.9-.1 2.9-.2 2.9 0 2.9 .4 2.9 .9 2.9 1.2 2.9 1.4 2.9 1.4 2.9 1.5 2.8 1.4 2.9 1 2.9 .7 2.9 .6 2.9 .3 2.9 .3 2.9 .4 2.9 .6 2.9 .7 2.9 .9 2.8 .8 2.9 .7 2.9 .7 2.9 .6 2.9 .6 2.9 .7 2.9 .8 2.9 .7 2.9 .6 2.9 .5 2.8 .4 2.9 .4 2.9 .4 2.9 .7 2.9 .7 2.9 .7 2.9 .7 2.9 .6 2.9 .6 2.8 .5 2.9 .5 2.9 .7 2.9 .8 2.9 .8 2.9 .6 2.9 .4 2.9 .2 2.9 .1 2.9 0 2.9 0 2.8 .1 2.9 .1 2.9 .2 2.9 .1 2.9 .1 2.9 .1 2.9 .1 2.9 .1 2.9 .2 2.9 .2 2.8 .1 2.9 .1 2.9 .1 2.9 0 2.9 0 2.9 .1 2.9 0 2.9 0 2.9 0 2.9-.1 2.8 0 2.9 0 2.9 .1 2.9 .2 2.9 .2" fill="none" stroke="#a863b8" stroke-width="1.7" stroke-linejoin="round"/>
<path d="M891.4 1217.8l2.9 .8 2.9 .8 2.9 .8 2.9 .7 2.9 .6 2.8 .5 2.9 .5 2.9 .6 2.9 .5 2.9 .5 2.9 .4 2.9 .3 2.9 .4 2.9 .3 2.9 .3 2.8 .3 2.9 .3 2.9 0 2.9-.2 2.9-.5 2.9-.7 2.9-.8 2.9-.7 2.9-.7 2.9-.7 2.8-.8 2.9-1 2.9-.9 2.9-.9 2.9-.7 2.9-.8 2.9-.8 2.9-.8 2.9-.7 2.9-.5 2.8-.1 2.9 .6 2.9 1.2 2.9 2 2.9 2.5 2.9 3.3 2.9 4.4 2.9 4.4 2.9 3.8 2.9 3.8 2.8 3.4 2.9 2.3 2.9-1.2 2.9-4.4 2.9-6.6 2.9-7.7 2.9-12.8 2.9-14.3 2.9-14.9 2.9-12.9 2.8-7.8 2.9-3.9 2.9-1.7 2.9-.7 2.9-.2 2.9-.1 2.9 .4 2.9 1.2 2.9 2 2.8 2.4 2.9 2.3 2.9 1.9 2.9 1.6 2.9 1.5 2.9 1.5 2.9 1.5 2.9 1.2 2.9 1.2 2.9 .8 2.9 .3 2.8 0 2.9-.4 2.9-.5 2.9-.4 2.9 0 2.9 .5 2.9 1.1 2.9 1.4 2.9 1.4 2.9 1.2 2.8 .8 2.9 .5 2.9 .2 2.9 .3 2.9 .2 2.9 .3 2.9 .2 2.9 .4 2.9 .5 2.9 .7 2.8 .8 2.9 .8 2.9 .7 2.9 .6 2.9 .6 2.9 .7 2.9 .8 2.9 .7 2.9 .6 2.9 .3 2.8 .2 2.9 .1 2.9 .5 2.9 .6 2.9 .7 2.9 .5 2.9 .3 2.9 .2 2.9 .3 2.8 .7 2.9 .8 2.9 .7 2.9 .5 2.9 .1 2.9-.2 2.9 0 2.9 .3 2.9 .6 2.9 .6 2.9 .3 2.8 0 2.9-.1 2.9-.1 2.9 .2 2.9 .5 2.9 .5 2.9 .2 2.9 0 2.9-.2 2.9-.2 2.8 0 2.9 .2 2.9 .2 2.9 .2 2.9 .2 2.9 .1 2.9 .2 2.9 .1 2.9 .1 2.9 0 2.8 0 2.9 0 2.9 .1 2.9 .2 2.9 .2" fill="none" stroke="#7b2d8e" stroke-width="1.7" stroke-linejoin="round"/>
<path d="M891.4 1217.8l2.9 .8 2.9 .8 2.9 .7 2.9 .7 2.9 .7 2.8 .6 2.9 .6 2.9 .5 2.9 .4 2.9 .4 2.9 .4 2.9 .3 2.9 .4 2.9 .4 2.9 .4 2.8 .3 2.9 .2 2.9 0 2.9-.2 2.9-.5 2.9-.6 2.9-.7 2.9-.8 2.9-.8 2.9-.8 2.8-.9 2.9-.9 2.9-.9 2.9-.8 2.9-.7 2.9-.8 2.9-.8 2.9-.7 2.9-.7 2.9-.4 2.8-.1 2.9 .5 2.9 1.2 2.9 1.8 2.9 2.4 2.9 3.1 2.9 4.1 2.9 3.9 2.9 3.5 2.9 3.2 2.8 3 2.9 2 2.9-1.1 2.9-3.8 2.9-5.9 2.9-6.7 2.9-12.1 2.9-13.7 2.9-14.3 2.9-12.4 2.8-7.5 2.9-3.8 2.9-1.7 2.9-.7 2.9-.1 2.9 .1 2.9 .5 2.9 1.1 2.9 1.9 2.8 2.4 2.9 2.5 2.9 2.4 2.9 1.9 2.9 1.8 2.9 1.6 2.9 1.7 2.9 1.7 2.9 2.1 2.9 2.1 2.9 .9 2.8 0 2.9-.5 2.9-.5 2.9-.2 2.9 .4 2.9 .9 2.9 1.2 2.9 1.2 2.9 1 2.9 .9 2.8 .6 2.9 .2 2.9 0 2.9-.1 2.9-.2 2.9 0 2.9 .2 2.9 .4 2.9 .6 2.9 .4 2.8 .3 2.9 .3 2.9 .5 2.9 .7 2.9 .9 2.9 1 2.9 .7 2.9 .6 2.9 .6 2.9 .5 2.8 .6 2.9 .8 2.9 .8 2.9 .8 2.9 .8 2.9 .9 2.9 .9 2.9 .9 2.9 .7 2.8 .6 2.9 .5 2.9 .6 2.9 .7 2.9 .8 2.9 .7 2.9 .5 2.9 .2 2.9-.1 2.9-.1 2.9 0 2.8 .1 2.9 .1 2.9 .1 2.9 0 2.9 0 2.9 .1 2.9 .2 2.9 .2 2.9 .2 2.9 .2 2.8 .2 2.9 .1 2.9 .2 2.9 .1 2.9-.1 2.9-.2 2.9-.4 2.9-.2 2.9-.1 2.9 .2 2.8 .4 2.9 .2 2.9 .1 2.9-.1 2.9-.1" fill="none" stroke="#b47cc4" stroke-width="1.7" stroke-linejoin="round"/>
<path d="M891.4 1217.7l2.9 .9 2.9 .8 2.9 .8 2.9 .7 2.9 .6 2.8 .6 2.9 .5 2.9 .5 2.9 .5 2.9 .3 2.9 .4 2.9 .4 2.9 .4 2.9 .5 2.9 .4 2.8 .3 2.9 .1 2.9 0 2.9-.3 2.9-.5 2.9-.6 2.9-.8 2.9-.7 2.9-.7 2.9-.7 2.8-.8 2.9-.9 2.9-1 2.9-.8 2.9-.8 2.9-.8 2.9-.8 2.9-.8 2.9-.7 2.9-.5 2.8 0 2.9 .5 2.9 1.3 2.9 1.9 2.9 2.3 2.9 3.1 2.9 4 2.9 4 2.9 3.5 2.9 3.4 2.8 2.9 2.9 2.1 2.9-1.2 2.9-3.9 2.9-5.8 2.9-6.9 2.9-11.4 2.9-12.6 2.9-13.3 2.9-11.5 2.8-6.8 2.9-3.4 2.9-1.6 2.9-.5 2.9-.3 2.9-.3 2.9 .3 2.9 1 2.9 1.6 2.8 2 2.9 1.8 2.9 1.3 2.9 .9 2.9 .9 2.9 1 2.9 1.1 2.9 1.2 2.9 1 2.9 .7 2.9 0 2.8-.3 2.9-.6 2.9-.4 2.9-.1 2.9 .4 2.9 .7 2.9 1.1 2.9 1.3 2.9 1.4 2.9 1.3 2.8 1 2.9 .6 2.9 .2 2.9 0 2.9 .1 2.9 .2 2.9 .4 2.9 .7 2.9 .7 2.9 .6 2.8 .6 2.9 .5 2.9 .7 2.9 .7 2.9 .7 2.9 .6 2.9 .6 2.9 .5 2.9 .6 2.9 .7 2.8 1 2.9 .9 2.9 .7 2.9 .6 2.9 .3 2.9 .5 2.9 .7 2.9 1 2.9 1.2 2.8 1.1 2.9 .8 2.9 .5 2.9 .4 2.9 .4 2.9 .4 2.9 .5 2.9 .4 2.9 .2 2.9 0 2.9-.1 2.8-.1 2.9 .2 2.9 .3 2.9 .3 2.9 .2 2.9 0 2.9-.1 2.9-.1 2.9 0 2.9 .2 2.8 .3 2.9 .2 2.9 .1 2.9 0 2.9-.1 2.9 0 2.9 .1 2.9 .1 2.9 0 2.9 0 2.8 0 2.9 .1 2.9 .2 2.9 .2 2.9 .1" fill="none" stroke="#9a4aaa" stroke-width="1.7" stroke-linejoin="round"/>
<path d="M891.4 1217.8l2.9 .7 2.9 .7 2.9 .8 2.9 .8 2.9 .8 2.8 .6 2.9 .5 2.9 .4 2.9 .4 2.9 .5 2.9 .4 2.9 .5 2.9 .4 2.9 .3 2.9 .3 2.8 .2 2.9 .2 2.9 0 2.9-.1 2.9-.4 2.9-.7 2.9-.8 2.9-.9 2.9-.8 2.9-.7 2.8-.8 2.9-.8 2.9-.9 2.9-.8 2.9-.7 2.9-.7 2.9-.9 2.9-.8 2.9-.7 2.9-.6 2.8 0 2.9 .6 2.9 1.3 2.9 1.9 2.9 2.3 2.9 2.7 2.9 3.5 2.9 3.4 2.9 3.1 2.9 3 2.8 2.6 2.9 1.8 2.9-1 2.9-3.4 2.9-5.2 2.9-5.8 2.9-10.2 2.9-11.5 2.9-12.1 2.9-10.6 2.8-6.2 2.9-3.3 2.9-1.6 2.9-.4 2.9-.1 2.9-.1 2.9 .5 2.9 1.2 2.9 2.1 2.8 2.5 2.9 2.3 2.9 1.8 2.9 1.4 2.9 1.2 2.9 1.3 2.9 1.5 2.9 1.6 2.9 1.8 2.9 1.3 2.9 .6 2.8-.1 2.9-.2 2.9-.1 2.9 .2 2.9 .4 2.9 .5 2.9 .5 2.9 .5 2.9 .6 2.9 .7 2.8 .7 2.9 .5 2.9 .3 2.9 .1 2.9-.1 2.9-.1 2.9 0 2.9 .2 2.9 .4 2.9 .5 2.8 .7 2.9 .6 2.9 .7 2.9 .5 2.9 .5 2.9 .4 2.9 .6 2.9 .6 2.9 .6 2.9 .6 2.8 .4 2.9 .2 2.9 .3 2.9 .4 2.9 .7 2.9 .9 2.9 .9 2.9 .9 2.9 .6 2.8 .5 2.9 .6 2.9 .8 2.9 .8 2.9 .7 2.9 .5 2.9 .3 2.9 .2 2.9 .2 2.9 .2 2.9 .1 2.8 0 2.9-.2 2.9-.3 2.9-.2 2.9 .1 2.9 .1 2.9 .2 2.9 0 2.9-.1 2.9 0 2.8 .1 2.9 .3 2.9 .4 2.9 .2 2.9 0 2.9-.2 2.9-.1 2.9 0 2.9 .3 2.9 .2 2.8 .2 2.9-.1 2.9-.1 2.9-.2 2.9 0" fill="none" stroke="#8a3a9a" stroke-width="1.7" stroke-linejoin="round"/>
<path d="M891.4 1218l2.9 .7 2.9 .7 2.9 .7 2.9 .7 2.9 .6 2.8 .6 2.9 .6 2.9 .5 2.9 .4 2.9 .4 2.9 .4 2.9 .4 2.9 .4 2.9 .5 2.9 .3 2.8 .3 2.9 .2 2.9 0 2.9-.3 2.9-.4 2.9-.6 2.9-.8 2.9-.7 2.9-.8 2.9-.8 2.8-.9 2.9-.8 2.9-.9 2.9-.8 2.9-.7 2.9-.8 2.9-.8 2.9-.9 2.9-.7 2.9-.4 2.8-.1 2.9 .6 2.9 1.2 2.9 1.8 2.9 2.3 2.9 2.8 2.9 3.6 2.9 3.6 2.9 3 2.9 3 2.8 2.6 2.9 1.7 2.9-1 2.9-3.3 2.9-5.1 2.9-6.1 2.9-9.7 2.9-10.8 2.9-11.3 2.9-9.8 2.8-5.7 2.9-3 2.9-1.4 2.9-.3 2.9-.1 2.9-.1 2.9 .3 2.9 .8 2.9 1.2 2.8 1.4 2.9 1.4 2.9 1.1 2.9 1.1 2.9 1.1 2.9 1 2.9 1 2.9 .8 2.9 .8 2.9 .5 2.9 .2 2.8-.1 2.9-.3 2.9-.1 2.9 .1 2.9 .3 2.9 .6 2.9 .8 2.9 .8 2.9 .9 2.9 1 2.8 .8 2.9 .6 2.9 .2 2.9 0 2.9-.1 2.9 0 2.9 .2 2.9 .6 2.9 .8 2.9 .7 2.8 .5 2.9 .5 2.9 .4 2.9 .5 2.9 .7 2.9 .6 2.9 .7 2.9 .6 2.9 .5 2.9 .5 2.8 .5 2.9 .4 2.9 .4 2.9 .3 2.9 .3 2.9 .3 2.9 .5 2.9 .7 2.9 .7 2.8 .8 2.9 .6 2.9 .5 2.9 .4 2.9 .4 2.9 .4 2.9 .4 2.9 .3 2.9 .2 2.9 .1 2.9 0 2.8 0 2.9 0 2.9 .2 2.9 .4 2.9 .3 2.9 .3 2.9 .1 2.9 0 2.9-.3 2.9-.2 2.8-.1 2.9 .1 2.9 .1 2.9 .1 2.9 .1 2.9 0 2.9-.1 2.9 .1 2.9 .1 2.9 .1 2.8 .1 2.9 0 2.9 .1 2.9 .1 2.9 .3" fill="none" stroke="#a45bb4" stroke-width="1.7" stroke-linejoin="round"/>
<path d="M891.4 1217.8l2.9 .8 2.9 .8 2.9 .7 2.9 .7 2.9 .7 2.8 .6 2.9 .6 2.9 .5 2.9 .4 2.9 .4 2.9 .3 2.9 .4 2.9 .4 2.9 .4 2.9 .4 2.8 .4 2.9 .2 2.9 0 2.9-.2 2.9-.5 2.9-.8 2.9-.8 2.9-.8 2.9-.8 2.9-.6 2.8-.8 2.9-.8 2.9-1 2.9-.9 2.9-.8 2.9-.7 2.9-.8 2.9-.7 2.9-.6 2.9-.6 2.8-.1 2.9 .5 2.9 1.3 2.9 2 2.9 2.4 2.9 2.6 2.9 3 2.9 2.9 2.9 2.5 2.9 2.4 2.8 2.3 2.9 1.6 2.9-.8 2.9-2.9 2.9-4.5 2.9-5.2 2.9-8.4 2.9-9.4 2.9-9.8 2.9-8.5 2.8-4.7 2.9-3.1 2.9-1.7 2.9 .1 2.9 .7 2.9 1.4 2.9 2.2 2.9 2.7 2.9 2.9 2.8 3 2.9 2.9 2.9 2.8 2.9 2.3 2.9 1.4 2.9 .9 2.9 .6 2.9 .6 2.9 .7 2.9 .6 2.9 .3 2.8-.5 2.9-1 2.9-1 2.9-.6 2.9 0 2.9 .5 2.9 .6 2.9 .6 2.9 .4 2.9 .3 2.8 .2 2.9 .2 2.9 .2 2.9 .3 2.9 .4 2.9 .5 2.9 .5 2.9 .3 2.9 0 2.9-.1 2.8 0 2.9 .2 2.9 .4 2.9 .6 2.9 .5 2.9 .1 2.9-.2 2.9-.3 2.9-.2 2.9 .1 2.8 .2 2.9 .3 2.9 .1 2.9 0 2.9-.2 2.9-.1 2.9-.1 2.9 .1 2.9 .1 2.8 .2 2.9 .2 2.9 .3 2.9 .2 2.9 .1 2.9-.1 2.9-.2 2.9-.2 2.9 0 2.9 .1 2.9 .4 2.8 .4 2.9 .3 2.9 0 2.9-.1 2.9-.1 2.9 0 2.9 .3 2.9 .3 2.9 .3 2.9 .1 2.8-.2 2.9-.2 2.9-.2 2.9 .1 2.9 .3 2.9 .3 2.9 .3 2.9 0 2.9-.2 2.9-.2 2.8-.1 2.9 .1 2.9 .2 2.9 .2 2.9-.1" fill="none" stroke="#7b2d8e" stroke-width="1.7" stroke-linejoin="round"/>
<path d="M891.4 1217.9l2.9 .8 2.9 .7 2.9 .8 2.9 .7 2.9 .7 2.8 .5 2.9 .6 2.9 .4 2.9 .4 2.9 .4 2.9 .3 2.9 .5 2.9 .4 2.9 .4 2.9 .4 2.8 .3 2.9 .2 2.9 0 2.9-.1 2.9-.5 2.9-.6 2.9-.8 2.9-.9 2.9-.8 2.9-.7 2.8-.8 2.9-.9 2.9-.9 2.9-.9 2.9-.7 2.9-.8 2.9-.8 2.9-.8 2.9-.7 2.9-.5 2.8-.1 2.9 .6 2.9 1.5 2.9 2 2.9 2.1 2.9 2.3 2.9 2.6 2.9 2.4 2.9 2.2 2.9 2.1 2.8 1.9 2.9 1.3 2.9-.7 2.9-2.5 2.9-3.7 2.9-4.4 2.9-7.2 2.9-8 2.9-8.4 2.9-7.3 2.8-4 2.9-2.6 2.9-1.5 2.9 .1 2.9 .6 2.9 1.2 2.9 2.1 2.9 2.5 2.9 2.4 2.8 2.1 2.9 1.9 2.9 1.9 2.9 1.9 2.9 1.5 2.9 1.3 2.9 .9 2.9 .6 2.9 .3 2.9 .2 2.9 .1 2.8-.3 2.9-.5 2.9-.7 2.9-.4 2.9-.1 2.9 .2 2.9 .6 2.9 .7 2.9 .8 2.9 .9 2.8 .9 2.9 .7 2.9 .5 2.9 .4 2.9 .3 2.9 .3 2.9 .4 2.9 .5 2.9 .3 2.9 .3 2.8 .1 2.9 0 2.9 0 2.9 .2 2.9 .4 2.9 .3 2.9 .2 2.9-.1 2.9-.2 2.9-.3 2.8-.2 2.9 0 2.9 0 2.9-.1 2.9-.1 2.9-.1 2.9-.2 2.9 0 2.9 .2 2.8 .2 2.9 .1 2.9 .1 2.9 .1 2.9 .1 2.9 .1 2.9 .1 2.9 .2 2.9 .2 2.9 .1 2.9 0 2.8 .1 2.9 .1 2.9 .1 2.9 .1 2.9 0 2.9-.1 2.9-.1 2.9-.1 2.9-.1 2.9 0 2.8 .1 2.9 .1 2.9 .1 2.9 .1 2.9 .2 2.9 .2 2.9 .1 2.9 .1 2.9 0 2.9 0 2.8 0 2.9 0 2.9 0 2.9-.1 2.9-.2" fill="none" stroke="#8e3a9e" stroke-width="1.7" stroke-linejoin="round"/>
<path d="M891.4 1217.8l2.9 .8 2.9 .8 2.9 .7 2.9 .7 2.9 .7 2.8 .6 2.9 .6 2.9 .4 2.9 .5 2.9 .4 2.9 .4 2.9 .4 2.9 .4 2.9 .3 2.9 .3 2.8 .3 2.9 .1 2.9 .1 2.9-.1 2.9-.4 2.9-.6 2.9-.8 2.9-.8 2.9-.9 2.9-.8 2.8-.8 2.9-.9 2.9-.9 2.9-.8 2.9-.7 2.9-.8 2.9-.8 2.9-.7 2.9-.7 2.9-.5 2.8-.1 2.9 .5 2.9 1.2 2.9 1.9 2.9 2.4 2.9 3.4 2.9 4.5 2.9 4.4 2.9 3.9 2.9 3.8 2.8 3.3 2.9 2.3 2.9-1.3 2.9-4.4 2.9-6.6 2.9-7.4 2.9-13.7 2.9-15.6 2.9-16.4 2.9-14.1 2.8-8.1 2.9-4.7 2.9-2.4 2.9-.5 2.9-.1 2.9 .5 2.9 1.8 2.9 3.6 2.9 4.5 2.8 4.6 2.9 4.1 2.9 3.3 2.9 3.1 2.9 2.8 2.9 2.6 2.9 2.4 2.9 2.4 2.9 2.4 2.9 2 2.9 1.4 2.8 .7 2.9 .1 2.9-.3 2.9-.3 2.9 .1 2.9 .6 2.9 .9 2.9 1.2 2.9 1.2 2.9 1.1 2.8 .8 2.9 .7 2.9 .7 2.9 .6 2.9 .7 2.9 .5 2.9 .4 2.9 .4 2.9 .2 2.9 .3 2.8 .2 2.9 .3 2.9 .3 2.9 .4 2.9 .4 2.9 .5 2.9 .4 2.9 .4 2.9 .4 2.9 .3 2.8 .2 2.9 .2 2.9 .2 2.9 .2 2.9 .2 2.9 .3 2.9 .3 2.9 .6 2.9 .7 2.8 .8 2.9 .7 2.9 .5 2.9 .2 2.9 .1 2.9 0 2.9 .2 2.9 .2 2.9 .3 2.9 .2 2.9 .2 2.8 .1 2.9 0 2.9 0 2.9-.1 2.9-.1 2.9-.1 2.9 0 2.9 .1 2.9 .2 2.9 .2 2.8 .1 2.9 .1 2.9 .1 2.9 0 2.9 .1 2.9-.1 2.9-.1 2.9-.1 2.9-.1 2.9 .1 2.8 .1 2.9 .3 2.9 .1 2.9 .1 2.9 0" fill="none" stroke="#93489f" stroke-width="1.7" stroke-linejoin="round"/>
<path d="M891.4 1222.7l2.9 .1 2.9 .1 2.9 0 2.9 .1 2.9 .1 2.8 .1 2.9 .1 2.9 0 2.9 .1 2.9 0 2.9 .1 2.9 .2 2.9 .1 2.9 0 2.9 .1 2.8 0 2.9 0 2.9 0 2.9 .1 2.9 0 2.9-.1 2.9-.1 2.9-.1 2.9-.1 2.9 0 2.8-.1 2.9-.2 2.9-.2 2.9-.2 2.9-.3 2.9-.4 2.9-.7 2.9-1 2.9-.9 2.9-.5 2.8 .1 2.9 .6 2.9 .8 2.9 .7 2.9 .3 2.9-.2 2.9-.6 2.9-.8 2.9-.9 2.9-1.3 2.8-1.6 2.9-.9 2.9 1.1 2.9 2.6 2.9 5 2.9 12.2 2.9 22 2.9 13.9 2.9 10.4 2.9 5.2 2.8 .9 2.9-.7 2.9-1.5 2.9-1.3 2.9-1.3 2.9-.8 2.9-.6 2.9-.1 2.9 .2 2.8 .3 2.9 .6 2.9 .8 2.9 1 2.9 .9 2.9 .4 2.9 0 2.9-.4 2.9-.5 2.9-.4 2.9-.3 2.8-.1 2.9-.2 2.9-.7 2.9-1.5 2.9-2.5 2.9-3.3 2.9-3.3 2.9-2.9 2.9-2.6 2.9-2.5 2.8-2.4 2.9-2.3 2.9-2.3 2.9-2.5 2.9-2.8 2.9-2.7 2.9-2.3 2.9-1.8 2.9-1.3 2.9-1.1 2.8-1.1 2.9-1.2 2.9-1.4 2.9-1.2 2.9-.9 2.9-.4 2.9-.2 2.9-.1 2.9-.1 2.9-.3 2.8-.2 2.9-.2 2.9-.3 2.9-.2 2.9-.2 2.9-.1 2.9 .1 2.9 .1 2.9 0 2.8-.2 2.9-.3 2.9-.5 2.9-.2 2.9 0 2.9 .2 2.9 .2 2.9 0 2.9-.3 2.9-.3 2.9-.2 2.8-.2 2.9 0 2.9-.1 2.9-.2 2.9-.1 2.9-.1 2.9 0 2.9 0 2.9-.1 2.9-.3 2.8-.4 2.9-.3 2.9 0 2.9 .1 2.9 .1 2.9 0 2.9-.3 2.9-.4 2.9-.1 2.9 .2 2.8 .5 2.9 .7 2.9 .9 2.9 1 2.9 1.1" fill="none" stroke="#fdd870" stroke-width="2.3" stroke-linejoin="round"/>
<path d="M891.4 1222.7l2.9 .1 2.9 0 2.9 .1 2.9 .1 2.9 .2 2.8 .1 2.9 0 2.9 0 2.9 .1 2.9 0 2.9 .1 2.9 0 2.9 .1 2.9 .1 2.9 0 2.8 .1 2.9 .1 2.9 0 2.9 0 2.9 0 2.9 0 2.9 .1 2.9 0 2.9 .1 2.9 0 2.8 0 2.9 0 2.9-.1 2.9 0 2.9 0 2.9-.1 2.9-.2 2.9-.4 2.9-.4 2.9-.3 2.8-.2 2.9-.2 2.9-.2 2.9-.2 2.9-.3 2.9-.2 2.9-.3 2.9-.3 2.9-.3 2.9-.7 2.8-.8 2.9-.5 2.9 .4 2.9 1.4 2.9 3.7 2.9 3.2 2.9 3.7 2.9 4.3 2.9 3.5 2.9 2.4 2.8 2 2.9 1.7 2.9 1.5 2.9 .9 2.9-.3 2.9-1.5 2.9-1.9 2.9-2.1 2.9-2.2 2.8-2.2 2.9-1.9 2.9-1.6 2.9-1.3 2.9-1 2.9-.9 2.9-.7 2.9-.4 2.9-.1 2.9 .2 2.9 .5 2.8 .4 2.9 .3 2.9 .3 2.9 .2 2.9 .2 2.9 .2 2.9 .3 2.9 .2 2.9 .1 2.9-.1 2.8-.3 2.9-.3 2.9-.3 2.9 0 2.9 0 2.9 0 2.9-.2 2.9-.2 2.9-.2 2.9-.2 2.8-.3 2.9-.3 2.9-.4 2.9-.5 2.9-.3 2.9-.2 2.9-.1 2.9 0 2.9-.1 2.9-.2 2.8-.1 2.9 0 2.9 0 2.9 0 2.9-.2 2.9-.3 2.9-.5 2.9-.3 2.9-.1 2.8 .1 2.9 .2 2.9 .1 2.9 0 2.9-.2 2.9-.1 2.9-.1 2.9 0 2.9-.1 2.9-.1 2.9-.2 2.8-.1 2.9 0 2.9 .3 2.9 .2 2.9 .2 2.9-.1 2.9-.1 2.9-.1 2.9 0 2.9 0 2.8-.1 2.9 0 2.9-.1 2.9 0 2.9 .2 2.9 .3 2.9 .4 2.9 .2 2.9 .1 2.9 0 2.8 0 2.9 0 2.9 .1 2.9 .1 2.9 .1" fill="none" stroke="#f9a93a" stroke-width="2.3" stroke-linejoin="round"/>
<path d="M891.4 1222.7l2.9 0 2.9 .1 2.9 .1 2.9 .2 2.9 .1 2.8 .1 2.9 0 2.9 0 2.9 0 2.9 .1 2.9 .1 2.9 .1 2.9 .1 2.9 .1 2.9 0 2.8 0 2.9 .1 2.9 0 2.9 0 2.9 0 2.9-.1 2.9 0 2.9 0 2.9 0 2.9 0 2.8 0 2.9-.1 2.9-.1 2.9-.2 2.9-.2 2.9-.4 2.9-.5 2.9-.7 2.9-.7 2.9-.3 2.8 0 2.9 .3 2.9 .3 2.9 .3 2.9 0 2.9-.2 2.9-.5 2.9-.6 2.9-.6 2.9-1 2.8-1.3 2.9-.7 2.9 .8 2.9 2.1 2.9 4.4 2.9 1.4 2.9 2.4 2.9 3.1 2.9 2.7 2.9 2.1 2.8 1.7 2.9 1.4 2.9 .8 2.9 .2 2.9-1.3 2.9-2 2.9-2 2.9-1.7 2.9-1.4 2.8-1.6 2.9-1.7 2.9-1.5 2.9-1.2 2.9-.6 2.9-.4 2.9-.3 2.9-.4 2.9-.4 2.9-.3 2.9 0 2.8 .4 2.9 .4 2.9 .3 2.9 0 2.9-.2 2.9-.3 2.9 0 2.9 .2 2.9 .3 2.9 .3 2.8 0 2.9 0 2.9 .1 2.9 .1 2.9 .2 2.9 .1 2.9-.1 2.9-.3 2.9-.3 2.9-.2 2.8 0 2.9 0 2.9 .1 2.9-.1 2.9-.2 2.9-.2 2.9-.2 2.9 0 2.9 0 2.9 .1 2.8 .1 2.9 .2 2.9 .1 2.9 .2 2.9 0 2.9 0 2.9-.2 2.9-.1 2.9-.2 2.8 0 2.9-.1 2.9 0 2.9-.1 2.9 0 2.9 .1 2.9 .2 2.9 .1 2.9 .1 2.9 0 2.9 0 2.8 .1 2.9 .3 2.9 .4 2.9 .3 2.9 .2 2.9-.1 2.9-.3 2.9-.2 2.9 0 2.9 .1 2.8 .1 2.9 0 2.9-.1 2.9-.1 2.9 .2 2.9 .4 2.9 .5 2.9 .5 2.9 .3 2.9 .2 2.8 .1 2.9 .4 2.9 .7 2.9 .8 2.9 .6" fill="none" stroke="#fbb040" stroke-width="2.3" stroke-linejoin="round"/>
<path d="M891.4 1222.7l2.9 .1 2.9 0 2.9 0 2.9 .1 2.9 .1 2.8 .2 2.9 .1 2.9 .1 2.9 .1 2.9 .1 2.9 0 2.9 0 2.9 0 2.9 .1 2.9 .1 2.8 .1 2.9 .1 2.9 .1 2.9-.1 2.9 0 2.9-.2 2.9-.1 2.9-.1 2.9-.1 2.9-.1 2.8-.1 2.9-.1 2.9-.2 2.9-.3 2.9-.4 2.9-.7 2.9-1 2.9-1.4 2.9-1.2 2.9-.5 2.8 .4 2.9 .9 2.9 1.2 2.9 1 2.9 .6 2.9-.2 2.9-.7 2.9-1 2.9-1.2 2.9-1.5 2.8-1.9 2.9-1 2.9 1.3 2.9 3.2 2.9 5.4 2.9 .7 2.9 1.7 2.9 2.8 2.9 2.1 2.9 .8 2.8 .2 2.9 0 2.9 .1 2.9-.4 2.9-.6 2.9-1.3 2.9-1.8 2.9-2.1 2.9-1.9 2.8-1.7 2.9-1.7 2.9-1.5 2.9-1.1 2.9-.5 2.9 0 2.9 .5 2.9 .7 2.9 .6 2.9 .5 2.9 .3 2.8 .4 2.9 .4 2.9 .3 2.9 .3 2.9 .2 2.9 .1 2.9 .1 2.9 .2 2.9 .2 2.9 .2 2.8 .2 2.9 .1 2.9-.1 2.9-.2 2.9-.3 2.9-.2 2.9-.2 2.9 0 2.9 .1 2.9 .2 2.8 0 2.9-.1 2.9-.3 2.9-.4 2.9-.4 2.9-.3 2.9 0 2.9 .3 2.9 .3 2.9 .4 2.8 .3 2.9 0 2.9-.1 2.9-.1 2.9-.2 2.9-.1 2.9 0 2.9 0 2.9 .1 2.8-.1 2.9-.2 2.9-.2 2.9-.2 2.9-.1 2.9 .1 2.9 .1 2.9 .2 2.9 .1 2.9 0 2.9-.2 2.8-.1 2.9-.2 2.9 .1 2.9 .2 2.9 .4 2.9 .4 2.9 .3 2.9 .2 2.9 .1 2.9-.2 2.8-.1 2.9 0 2.9 0 2.9 .2 2.9 .3 2.9 .2 2.9 .2 2.9 .1 2.9-.1 2.9 0 2.8 0 2.9 0 2.9 .1 2.9 .1 2.9 .2" fill="none" stroke="#fdc04e" stroke-width="2.3" stroke-linejoin="round"/>
<path d="M891.4 1222.6l2.9 .1 2.9 .1 2.9 .2 2.9 .1 2.9 .1 2.8 .1 2.9 0 2.9 .1 2.9 0 2.9 0 2.9 0 2.9 .1 2.9 .1 2.9 .1 2.9 .1 2.8 .1 2.9-.1 2.9 0 2.9 0 2.9 0 2.9 .1 2.9 .1 2.9 .2 2.9 .1 2.9 0 2.8 .1 2.9 0 2.9 0 2.9-.1 2.9 0 2.9 0 2.9 .1 2.9 .1 2.9 0 2.9-.2 2.8-.4 2.9-.6 2.9-.7 2.9-.7 2.9-.6 2.9-.2 2.9-.1 2.9 0 2.9-.2 2.9-.3 2.8-.5 2.9-.3 2.9 .2 2.9 .9 2.9 3.1 2.9-.2 2.9 .9 2.9 1.7 2.9 1.4 2.9 .6 2.8 .2 2.9-.1 2.9-.4 2.9-1.2 2.9-.9 2.9-1.3 2.9-1.4 2.9-1.4 2.9-1.2 2.8-.9 2.9-.6 2.9-.3 2.9 .1 2.9 .2 2.9 .4 2.9 .6 2.9 .5 2.9 .6 2.9 .3 2.9 .2 2.8-.1 2.9-.3 2.9-.3 2.9-.2 2.9 .1 2.9 .2 2.9 .3 2.9 .2 2.9-.1 2.9-.1 2.8-.2 2.9 .1 2.9 .2 2.9 .3 2.9 .3 2.9 .1 2.9 0 2.9 0 2.9 .1 2.9 .3 2.8 .2 2.9 .1 2.9-.1 2.9-.1 2.9-.2 2.9 0 2.9 .1 2.9 .1 2.9 .1 2.9 0 2.8 0 2.9 0 2.9 .1 2.9 0 2.9-.1 2.9-.2 2.9-.2 2.9-.2 2.9 0 2.8 .2 2.9 .2 2.9 0 2.9-.1 2.9-.2 2.9-.2 2.9 0 2.9 0 2.9 .2 2.9 .3 2.9 .2 2.8 .2 2.9 .1 2.9 .1 2.9-.1 2.9-.1 2.9 0 2.9 0 2.9 .1 2.9 .3 2.9 .3 2.8 .2 2.9 .1 2.9-.1 2.9-.1 2.9 0 2.9 .1 2.9 .2 2.9 .3 2.9 .2 2.9 .1 2.8 .1 2.9 0 2.9 0 2.9 0 2.9 .1" fill="none" stroke="#fdd870" stroke-width="2.3" stroke-linejoin="round"/>
</g>
<rect x="869.3" y="957.3" width="476.4" height="430.0" fill="none" stroke="#333" stroke-width="1.3"/>
<line x1="891.4" y1="1387.3" x2="891.4" y2="1391.3" stroke="#333" stroke-width="1.1" />
<line x1="920.3" y1="1387.3" x2="920.3" y2="1391.3" stroke="#333" stroke-width="1.1" />
<line x1="949.2" y1="1387.3" x2="949.2" y2="1391.3" stroke="#333" stroke-width="1.1" />
<line x1="978.1" y1="1387.3" x2="978.1" y2="1391.3" stroke="#333" stroke-width="1.1" />
<line x1="1007.0" y1="1387.3" x2="1007.0" y2="1391.3" stroke="#333" stroke-width="1.1" />
<line x1="1035.9" y1="1387.3" x2="1035.9" y2="1391.3" stroke="#333" stroke-width="1.1" />
<line x1="1064.8" y1="1387.3" x2="1064.8" y2="1391.3" stroke="#333" stroke-width="1.1" />
<line x1="1093.7" y1="1387.3" x2="1093.7" y2="1391.3" stroke="#333" stroke-width="1.1" />
<line x1="1122.6" y1="1387.3" x2="1122.6" y2="1391.3" stroke="#333" stroke-width="1.1" />
<line x1="1151.5" y1="1387.3" x2="1151.5" y2="1391.3" stroke="#333" stroke-width="1.1" />
<line x1="1180.4" y1="1387.3" x2="1180.4" y2="1391.3" stroke="#333" stroke-width="1.1" />
<line x1="1209.3" y1="1387.3" x2="1209.3" y2="1391.3" stroke="#333" stroke-width="1.1" />
<line x1="1238.2" y1="1387.3" x2="1238.2" y2="1391.3" stroke="#333" stroke-width="1.1" />
<line x1="1267.1" y1="1387.3" x2="1267.1" y2="1391.3" stroke="#333" stroke-width="1.1" />
<line x1="1296.0" y1="1387.3" x2="1296.0" y2="1391.3" stroke="#333" stroke-width="1.1" />
<line x1="1324.9" y1="1387.3" x2="1324.9" y2="1391.3" stroke="#333" stroke-width="1.1" />
<text x="888.4" y="1407.5" font-size="18.3" text-anchor="middle" fill="#1a1a1a">-5</text>
<text x="1035.9" y="1407.5" font-size="18.3" text-anchor="middle" fill="#1a1a1a">0</text>
<text x="1180.4" y="1407.5" font-size="18.3" text-anchor="middle" fill="#1a1a1a">5</text>
<text x="1324.9" y="1407.5" font-size="18.3" text-anchor="middle" fill="#1a1a1a">10</text>
<line x1="865.3" y1="1026.1" x2="869.3" y2="1026.1" stroke="#333" stroke-width="1.1" />
<text x="864.5" y="1032.4" font-size="18.3" text-anchor="end" fill="#1a1a1a">8</text>
<line x1="865.3" y1="1123.8" x2="869.3" y2="1123.8" stroke="#333" stroke-width="1.1" />
<text x="864.5" y="1130.1" font-size="18.3" text-anchor="end" fill="#1a1a1a">4</text>
<line x1="865.3" y1="1221.5" x2="869.3" y2="1221.5" stroke="#333" stroke-width="1.1" />
<text x="864.5" y="1227.8" font-size="18.3" text-anchor="end" fill="#1a1a1a">0</text>
<line x1="865.3" y1="1319.2" x2="869.3" y2="1319.2" stroke="#333" stroke-width="1.1" />
<text x="864.5" y="1325.5" font-size="18.3" text-anchor="end" fill="#1a1a1a">−4</text>
<text x="1111.7" y="1418.5" font-size="19.2" text-anchor="middle" fill="#1a1a1a">Time (sec)</text>
<text x="847.0" y="1163.5" font-size="18.5" text-anchor="middle" fill="#1a1a1a" transform="rotate(-90 847.0 1163.5)">Z score</text>
<rect x="1181.7" y="977.5" width="147.6" height="98.8" fill="#fff" stroke="#333" stroke-width="1.2"/>
<text x="1191.7" y="998.8" font-size="21.5" fill="#1a1a1a">Sensor</text>
<rect x="1191.7" y="1005.9" width="18.6" height="18.6" fill="#eadcf0"/>
<line x1="1192.2" y1="1015.2" x2="1209.8" y2="1015.2" stroke="#7b2d8e" stroke-width="1.6" />
<text x="1214.3" y="1021.8" font-size="18.6" fill="#1a1a1a">GCaMP</text>
<rect x="1191.7" y="1030.2" width="18.6" height="18.6" fill="#c5e6f0"/>
<line x1="1192.2" y1="1039.5" x2="1209.8" y2="1039.5" stroke="#3eaed1" stroke-width="1.6" />
<text x="1214.3" y="1046.1" font-size="18.6" fill="#1a1a1a">iGluSnFR</text>
<rect x="1191.7" y="1054.5" width="18.6" height="18.6" fill="#fde08a"/>
<line x1="1192.2" y1="1063.8" x2="1209.8" y2="1063.8" stroke="#f9a93a" stroke-width="1.6" />
<text x="1214.3" y="1070.4" font-size="18.6" fill="#1a1a1a">iGABASnFR</text>
<text x="841.0" y="988.0" font-size="29" font-weight="bold">f</text>
<rect x="1415.6" y="957.3" width="475.9" height="429.4" fill="#fff"/>
<line x1="1490.5" y1="957.3" x2="1490.5" y2="1386.7" stroke="#f0f0f0" stroke-width="0.9" />
<line x1="1599.0" y1="957.3" x2="1599.0" y2="1386.7" stroke="#f0f0f0" stroke-width="0.9" />
<line x1="1707.4" y1="957.3" x2="1707.4" y2="1386.7" stroke="#f0f0f0" stroke-width="0.9" />
<line x1="1815.9" y1="957.3" x2="1815.9" y2="1386.7" stroke="#f0f0f0" stroke-width="0.9" />
<line x1="1415.6" y1="1345.8" x2="1891.5" y2="1345.8" stroke="#f0f0f0" stroke-width="0.9" />
<line x1="1415.6" y1="1258.9" x2="1891.5" y2="1258.9" stroke="#f0f0f0" stroke-width="0.9" />
<line x1="1415.6" y1="1172.1" x2="1891.5" y2="1172.1" stroke="#f0f0f0" stroke-width="0.9" />
<line x1="1415.6" y1="1085.2" x2="1891.5" y2="1085.2" stroke="#f0f0f0" stroke-width="0.9" />
<line x1="1415.6" y1="998.4" x2="1891.5" y2="998.4" stroke="#f0f0f0" stroke-width="0.9" />
<line x1="1436.3" y1="957.3" x2="1436.3" y2="1386.7" stroke="#e4e4e4" stroke-width="1.3" />
<line x1="1544.8" y1="957.3" x2="1544.8" y2="1386.7" stroke="#e4e4e4" stroke-width="1.3" />
<line x1="1653.2" y1="957.3" x2="1653.2" y2="1386.7" stroke="#e4e4e4" stroke-width="1.3" />
<line x1="1761.7" y1="957.3" x2="1761.7" y2="1386.7" stroke="#e4e4e4" stroke-width="1.3" />
<line x1="1870.1" y1="957.3" x2="1870.1" y2="1386.7" stroke="#e4e4e4" stroke-width="1.3" />
<line x1="1415.6" y1="1302.4" x2="1891.5" y2="1302.4" stroke="#e4e4e4" stroke-width="1.3" />
<line x1="1415.6" y1="1215.5" x2="1891.5" y2="1215.5" stroke="#e4e4e4" stroke-width="1.3" />
<line x1="1415.6" y1="1128.6" x2="1891.5" y2="1128.6" stroke="#e4e4e4" stroke-width="1.3" />
<line x1="1415.6" y1="1041.8" x2="1891.5" y2="1041.8" stroke="#e4e4e4" stroke-width="1.3" />
<polyline points="1436.3,1041.8 1544.8,1022.2 1653.2,1050.5 1761.7,987.5" fill="none" stroke="#000" stroke-width="1.5" />
<polyline points="1436.3,1054.8 1544.8,1075.7 1653.2,1201.6 1761.7,1207.7 1870.1,1166.9" fill="none" stroke="#000" stroke-width="1.5" />
<polyline points="1443.9,1301.1 1550.2,1355.3 1656.5,1311.9 1763.8,1231.1 1870.1,1188.1" fill="none" stroke="#000" stroke-width="1.5" />
<polygon points="1436.3,1032.2 1446.3,1049.2 1426.3,1049.2" fill="#6baed6"/>
<polygon points="1544.8,1012.6 1554.8,1029.6 1534.8,1029.6" fill="#4292c6"/>
<polygon points="1653.2,1040.9 1663.2,1057.9 1643.2,1057.9" fill="#2171b5"/>
<polygon points="1761.7,977.9 1771.7,994.9 1751.7,994.9" fill="#084f9c"/>
<circle cx="1436.3" cy="1054.8" r="7" fill="#9270bd"/>
<circle cx="1544.8" cy="1075.7" r="7" fill="#8e50b0"/>
<circle cx="1653.2" cy="1201.6" r="6.2" fill="#fff" stroke="#8e2a9e" stroke-width="1.8"/>
<circle cx="1761.7" cy="1207.7" r="6.2" fill="#fff" stroke="#8e2a9e" stroke-width="1.8"/>
<circle cx="1870.1" cy="1166.9" r="7" fill="#470a4d"/>
<rect x="1437.2" y="1294.4" width="13.4" height="13.4" fill="#fdc14b"/>
<rect x="1543.5" y="1348.6" width="13.4" height="13.4" fill="#fcb245"/>
<rect x="1649.8" y="1305.2" width="13.4" height="13.4" fill="#fbaa40"/>
<rect x="1757.6" y="1224.9" width="12.4" height="12.4" fill="#fff" stroke="#f9a03a" stroke-width="2"/>
<rect x="1863.4" y="1181.4" width="13.4" height="13.4" fill="#f9a03a"/>
<rect x="1415.6" y="957.3" width="475.9" height="429.4" fill="none" stroke="#333" stroke-width="1.3"/>
<line x1="1436.3" y1="1386.7" x2="1436.3" y2="1390.7" stroke="#333" stroke-width="1.1" />
<text x="1436.3" y="1405.5" font-size="13.5" text-anchor="middle" fill="#4d4d4d">1</text>
<line x1="1544.8" y1="1386.7" x2="1544.8" y2="1390.7" stroke="#333" stroke-width="1.1" />
<text x="1544.8" y="1405.5" font-size="13.5" text-anchor="middle" fill="#4d4d4d">2</text>
<line x1="1653.2" y1="1386.7" x2="1653.2" y2="1390.7" stroke="#333" stroke-width="1.1" />
<text x="1653.2" y="1405.5" font-size="13.5" text-anchor="middle" fill="#4d4d4d">3</text>
<line x1="1761.7" y1="1386.7" x2="1761.7" y2="1390.7" stroke="#333" stroke-width="1.1" />
<text x="1761.7" y="1405.5" font-size="13.5" text-anchor="middle" fill="#4d4d4d">4</text>
<line x1="1870.1" y1="1386.7" x2="1870.1" y2="1390.7" stroke="#333" stroke-width="1.1" />
<text x="1870.1" y="1405.5" font-size="13.5" text-anchor="middle" fill="#4d4d4d">5</text>
<line x1="1411.6" y1="1041.8" x2="1415.6" y2="1041.8" stroke="#333" stroke-width="1.1" />
<text x="1408.6" y="1046.6" font-size="13.5" text-anchor="end" fill="#4d4d4d">0.4</text>
<line x1="1411.6" y1="1128.6" x2="1415.6" y2="1128.6" stroke="#333" stroke-width="1.1" />
<text x="1408.6" y="1133.4" font-size="13.5" text-anchor="end" fill="#4d4d4d">0.2</text>
<line x1="1411.6" y1="1215.5" x2="1415.6" y2="1215.5" stroke="#333" stroke-width="1.1" />
<text x="1408.6" y="1220.3" font-size="13.5" text-anchor="end" fill="#4d4d4d">0.0</text>
<line x1="1411.6" y1="1302.4" x2="1415.6" y2="1302.4" stroke="#333" stroke-width="1.1" />
<text x="1408.6" y="1307.2" font-size="13.5" text-anchor="end" fill="#4d4d4d">−0.2</text>
<text x="1653.5" y="1424.3" font-size="16.2" text-anchor="middle">Day</text>
<text x="1371.5" y="1171.5" font-size="17" text-anchor="middle" transform="rotate(-90 1371.5 1171.5)">Correlation coefficient</text>
<rect x="1436.0" y="1123.5" width="141.8" height="152.2" fill="#fff" stroke="#333" stroke-width="1.1"/>
<text x="1445.2" y="1143.9" font-size="22" fill="#1a1a1a">Sensor</text>
<circle cx="1452.4" cy="1158.3" r="7.3" fill="#9a5fc0"/>
<text x="1467.0" y="1164.8" font-size="18.7" fill="#1a1a1a">GCaMP</text>
<polygon points="1452.4,1176.0 1459.0,1188.0 1445.8,1188.0" fill="#3eaed1"/>
<text x="1467.0" y="1188.8" font-size="18.7" fill="#1a1a1a">iGluSnFR</text>
<rect x="1445.7" y="1199.5" width="13.2" height="13.2" fill="#f9a93a"/>
<text x="1467.0" y="1212.6" font-size="18.7" fill="#1a1a1a">iGABASnFR</text>
<line x1="1440.0" y1="1221.6" x2="1572.0" y2="1221.6" stroke="#bdbdbd" stroke-width="1" stroke-dasharray="5 3.5"/>
<circle cx="1452.4" cy="1236.4" r="7.3" fill="#000"/>
<text x="1467.0" y="1242.6" font-size="18.7" fill="#1a1a1a">p &lt; 0.05</text>
<circle cx="1452.4" cy="1260.0" r="6.6" fill="#fff" stroke="#000" stroke-width="1.5"/>
<text x="1467.0" y="1266.2" font-size="18.7" fill="#1a1a1a">p &gt;= 0.05</text>
<text x="1379.5" y="991.0" font-size="29" font-weight="bold">g</text>
</g>
<g id="panel_hij">
<rect x="99.8" y="1456.7" width="423.1" height="394.0" fill="#fff"/>
<line x1="153.8" y1="1456.7" x2="153.8" y2="1850.7" stroke="#f0f0f0" stroke-width="1.0" />
<line x1="241.2" y1="1456.7" x2="241.2" y2="1850.7" stroke="#f0f0f0" stroke-width="1.0" />
<line x1="328.8" y1="1456.7" x2="328.8" y2="1850.7" stroke="#f0f0f0" stroke-width="1.0" />
<line x1="416.2" y1="1456.7" x2="416.2" y2="1850.7" stroke="#f0f0f0" stroke-width="1.0" />
<line x1="503.8" y1="1456.7" x2="503.8" y2="1850.7" stroke="#f0f0f0" stroke-width="1.0" />
<line x1="99.8" y1="1825.8" x2="522.9" y2="1825.8" stroke="#f0f0f0" stroke-width="1.0" />
<line x1="99.8" y1="1748.4" x2="522.9" y2="1748.4" stroke="#f0f0f0" stroke-width="1.0" />
<line x1="99.8" y1="1671.1" x2="522.9" y2="1671.1" stroke="#f0f0f0" stroke-width="1.0" />
<line x1="99.8" y1="1593.8" x2="522.9" y2="1593.8" stroke="#f0f0f0" stroke-width="1.0" />
<line x1="99.8" y1="1516.5" x2="522.9" y2="1516.5" stroke="#f0f0f0" stroke-width="1.0" />
<line x1="110.0" y1="1456.7" x2="110.0" y2="1850.7" stroke="#e8e8e8" stroke-width="1.5" />
<line x1="197.5" y1="1456.7" x2="197.5" y2="1850.7" stroke="#e8e8e8" stroke-width="1.5" />
<line x1="285.0" y1="1456.7" x2="285.0" y2="1850.7" stroke="#e8e8e8" stroke-width="1.5" />
<line x1="372.5" y1="1456.7" x2="372.5" y2="1850.7" stroke="#e8e8e8" stroke-width="1.5" />
<line x1="460.0" y1="1456.7" x2="460.0" y2="1850.7" stroke="#e8e8e8" stroke-width="1.5" />
<line x1="99.8" y1="1787.1" x2="522.9" y2="1787.1" stroke="#e8e8e8" stroke-width="1.5" />
<line x1="99.8" y1="1709.8" x2="522.9" y2="1709.8" stroke="#e8e8e8" stroke-width="1.5" />
<line x1="99.8" y1="1632.5" x2="522.9" y2="1632.5" stroke="#e8e8e8" stroke-width="1.5" />
<line x1="99.8" y1="1555.2" x2="522.9" y2="1555.2" stroke="#e8e8e8" stroke-width="1.5" />
<line x1="99.8" y1="1477.9" x2="522.9" y2="1477.9" stroke="#e8e8e8" stroke-width="1.5" />
<polygon points="118.8,1801.2 150.8,1775.4 182.9,1749.4 215.0,1723.4 247.1,1697.1 279.2,1670.6 311.2,1643.8 343.3,1616.7 375.4,1589.2 407.5,1561.3 439.6,1532.8 471.7,1503.9 503.8,1474.4 503.8,1536.9 471.7,1559.3 439.6,1582.3 407.5,1605.9 375.4,1629.9 343.3,1654.4 311.2,1679.3 279.2,1704.5 247.1,1730.0 215.0,1755.7 182.9,1781.5 150.8,1807.5 118.8,1833.5" fill="#b7a9d6" fill-opacity="0.6"/>
<polygon points="118.8,1801.2 150.8,1783.3 182.9,1765.3 215.0,1747.3 247.1,1729.2 279.2,1711.0 311.2,1692.7 343.3,1674.3 375.4,1655.6 407.5,1636.7 439.6,1617.5 471.7,1598.0 503.8,1578.1 503.8,1621.7 471.7,1637.2 439.6,1653.0 407.5,1669.0 375.4,1685.4 343.3,1702.0 311.2,1718.8 279.2,1735.8 247.1,1753.0 215.0,1770.3 182.9,1787.8 150.8,1805.3 118.8,1822.8" fill="#c79bd4" fill-opacity="0.6"/>
<polygon points="118.8,1742.3 150.8,1742.6 182.9,1742.5 215.0,1742.1 247.1,1741.2 279.2,1739.8 311.2,1737.9 343.3,1735.4 375.4,1732.3 407.5,1728.6 439.6,1724.1 471.7,1718.9 503.8,1712.9 503.8,1771.0 471.7,1769.3 439.6,1768.3 407.5,1767.8 375.4,1767.9 343.3,1768.4 311.2,1769.3 279.2,1770.6 247.1,1772.2 215.0,1774.1 182.9,1776.2 150.8,1778.4 118.8,1780.8" fill="#bd7fc2" fill-opacity="0.6"/>
<polygon points="118.8,1742.3 150.8,1741.4 182.9,1740.4 215.0,1739.4 247.1,1738.2 279.2,1736.8 311.2,1735.1 343.3,1733.0 375.4,1730.5 407.5,1727.5 439.6,1724.0 471.7,1719.8 503.8,1714.8 503.8,1768.6 471.7,1765.7 439.6,1763.5 407.5,1762.0 375.4,1761.1 343.3,1760.8 311.2,1760.9 279.2,1761.4 247.1,1762.3 215.0,1763.4 182.9,1764.8 150.8,1766.3 118.8,1767.9" fill="#bd7fc2" fill-opacity="0.6"/>
<polygon points="118.8,1774.9 150.8,1768.0 182.9,1761.2 215.0,1754.3 247.1,1747.3 279.2,1740.2 311.2,1732.9 343.3,1725.5 375.4,1717.7 407.5,1709.7 439.6,1701.3 471.7,1692.6 503.8,1683.4 503.8,1732.5 471.7,1735.4 439.6,1738.8 407.5,1742.8 375.4,1747.3 343.3,1752.1 311.2,1757.2 279.2,1762.6 247.1,1768.2 215.0,1773.8 182.9,1779.5 150.8,1785.1 118.8,1790.6" fill="#966a92" fill-opacity="0.7"/>
<line x1="118.8" y1="1818.1" x2="503.8" y2="1505.4" stroke="#8a74c0" stroke-width="2.0" />
<line x1="118.8" y1="1810.3" x2="503.8" y2="1599.7" stroke="#a55bc0" stroke-width="2.0" stroke-dasharray="3.7 3.1"/>
<line x1="118.8" y1="1767.1" x2="503.8" y2="1747.0" stroke="#8e2a9e" stroke-width="2.0" stroke-dasharray="8 4"/>
<line x1="118.8" y1="1753.7" x2="503.8" y2="1740.7" stroke="#7a1a8a" stroke-width="2.0" stroke-dasharray="11 6"/>
<line x1="118.8" y1="1783.6" x2="503.8" y2="1705.0" stroke="#4a0a4f" stroke-width="2.1" stroke-dasharray="1.6 6"/>
<rect x="99.8" y="1456.7" width="423.1" height="394.0" fill="none" stroke="#333" stroke-width="1.3"/>
<line x1="110.0" y1="1850.7" x2="110.0" y2="1854.7" stroke="#333" stroke-width="1.1" />
<text x="110.0" y="1871.0" font-size="15.7" text-anchor="middle" fill="#4d4d4d">0</text>
<line x1="197.5" y1="1850.7" x2="197.5" y2="1854.7" stroke="#333" stroke-width="1.1" />
<text x="197.5" y="1871.0" font-size="15.7" text-anchor="middle" fill="#4d4d4d">1</text>
<line x1="285.0" y1="1850.7" x2="285.0" y2="1854.7" stroke="#333" stroke-width="1.1" />
<text x="285.0" y="1871.0" font-size="15.7" text-anchor="middle" fill="#4d4d4d">2</text>
<line x1="372.5" y1="1850.7" x2="372.5" y2="1854.7" stroke="#333" stroke-width="1.1" />
<text x="372.5" y="1871.0" font-size="15.7" text-anchor="middle" fill="#4d4d4d">3</text>
<line x1="460.0" y1="1850.7" x2="460.0" y2="1854.7" stroke="#333" stroke-width="1.1" />
<text x="460.0" y="1871.0" font-size="15.7" text-anchor="middle" fill="#4d4d4d">4</text>
<line x1="95.8" y1="1787.1" x2="99.8" y2="1787.1" stroke="#333" stroke-width="1.1" />
<text x="91.0" y="1792.7" font-size="15.7" text-anchor="end" fill="#4d4d4d">0</text>
<line x1="95.8" y1="1709.8" x2="99.8" y2="1709.8" stroke="#333" stroke-width="1.1" />
<text x="91.0" y="1715.4" font-size="15.7" text-anchor="end" fill="#4d4d4d">250</text>
<line x1="95.8" y1="1632.5" x2="99.8" y2="1632.5" stroke="#333" stroke-width="1.1" />
<text x="91.0" y="1638.1" font-size="15.7" text-anchor="end" fill="#4d4d4d">500</text>
<line x1="95.8" y1="1555.2" x2="99.8" y2="1555.2" stroke="#333" stroke-width="1.1" />
<text x="91.0" y="1560.8" font-size="15.7" text-anchor="end" fill="#4d4d4d">750</text>
<line x1="95.8" y1="1477.9" x2="99.8" y2="1477.9" stroke="#333" stroke-width="1.1" />
<text x="91.0" y="1483.5" font-size="15.7" text-anchor="end" fill="#4d4d4d">1000</text>
<text x="311.1" y="1893.0" font-size="19.2" text-anchor="middle">Bout Length (sec)</text>
<text x="47.0" y="1654.0" font-size="19.2" text-anchor="middle" transform="rotate(-90 47.0 1654.0)">AUC (a.u.)</text>
<text x="552.0" y="1517.5" font-size="19.2">Date</text>
<rect x="552.0" y="1529.0" width="55.3" height="55.6" fill="#cfc8e3"/>
<line x1="557.5" y1="1556.7" x2="601.8" y2="1556.7" stroke="#8a74c0" stroke-width="2.0" />
<text x="617.0" y="1562.5" font-size="15.7">1</text>
<rect x="552.0" y="1584.3" width="55.3" height="55.6" fill="#d8bce0"/>
<line x1="557.5" y1="1612.0" x2="601.8" y2="1612.0" stroke="#a55bc0" stroke-width="2.0" stroke-dasharray="3.7 3.1"/>
<text x="617.0" y="1617.8" font-size="15.7">2</text>
<rect x="552.0" y="1639.6" width="55.3" height="55.6" fill="#d4a9d4"/>
<line x1="557.5" y1="1667.2" x2="601.8" y2="1667.2" stroke="#8e2a9e" stroke-width="2.0" stroke-dasharray="8 4"/>
<text x="617.0" y="1673.0" font-size="15.7">3</text>
<rect x="552.0" y="1694.9" width="55.3" height="55.6" fill="#d0a0cf"/>
<line x1="557.5" y1="1722.6" x2="601.8" y2="1722.6" stroke="#7a1a8a" stroke-width="2.0" stroke-dasharray="11 6"/>
<text x="617.0" y="1728.4" font-size="15.7">4</text>
<rect x="552.0" y="1750.2" width="55.3" height="55.6" fill="#b996b5"/>
<line x1="557.5" y1="1777.9" x2="601.8" y2="1777.9" stroke="#4a0a4f" stroke-width="2.1" stroke-dasharray="1.6 6"/>
<text x="617.0" y="1783.7" font-size="15.7">5</text>
<text x="25.0" y="1489.0" font-size="29" font-weight="bold">h</text>
<rect x="732.7" y="1456.7" width="423.1" height="394.0" fill="#fff"/>
<line x1="791.5" y1="1456.7" x2="791.5" y2="1850.7" stroke="#f0f0f0" stroke-width="1.0" />
<line x1="890.2" y1="1456.7" x2="890.2" y2="1850.7" stroke="#f0f0f0" stroke-width="1.0" />
<line x1="988.9" y1="1456.7" x2="988.9" y2="1850.7" stroke="#f0f0f0" stroke-width="1.0" />
<line x1="1087.6" y1="1456.7" x2="1087.6" y2="1850.7" stroke="#f0f0f0" stroke-width="1.0" />
<line x1="732.7" y1="1491.8" x2="1155.8" y2="1491.8" stroke="#f0f0f0" stroke-width="1.0" />
<line x1="732.7" y1="1584.2" x2="1155.8" y2="1584.2" stroke="#f0f0f0" stroke-width="1.0" />
<line x1="732.7" y1="1676.5" x2="1155.8" y2="1676.5" stroke="#f0f0f0" stroke-width="1.0" />
<line x1="732.7" y1="1768.8" x2="1155.8" y2="1768.8" stroke="#f0f0f0" stroke-width="1.0" />
<line x1="742.1" y1="1456.7" x2="742.1" y2="1850.7" stroke="#e8e8e8" stroke-width="1.5" />
<line x1="840.8" y1="1456.7" x2="840.8" y2="1850.7" stroke="#e8e8e8" stroke-width="1.5" />
<line x1="939.5" y1="1456.7" x2="939.5" y2="1850.7" stroke="#e8e8e8" stroke-width="1.5" />
<line x1="1038.3" y1="1456.7" x2="1038.3" y2="1850.7" stroke="#e8e8e8" stroke-width="1.5" />
<line x1="1137.0" y1="1456.7" x2="1137.0" y2="1850.7" stroke="#e8e8e8" stroke-width="1.5" />
<line x1="732.7" y1="1538.0" x2="1155.8" y2="1538.0" stroke="#e8e8e8" stroke-width="1.5" />
<line x1="732.7" y1="1630.3" x2="1155.8" y2="1630.3" stroke="#e8e8e8" stroke-width="1.5" />
<line x1="732.7" y1="1722.7" x2="1155.8" y2="1722.7" stroke="#e8e8e8" stroke-width="1.5" />
<line x1="732.7" y1="1815.0" x2="1155.8" y2="1815.0" stroke="#e8e8e8" stroke-width="1.5" />
<polygon points="752.0,1488.9 784.1,1502.8 816.1,1516.1 848.2,1528.8 880.3,1541.0 912.4,1552.7 944.5,1563.9 976.6,1574.7 1008.6,1585.2 1040.7,1595.4 1072.8,1605.3 1104.9,1614.9 1137.0,1624.4 1137.0,1665.7 1104.9,1653.7 1072.8,1642.1 1040.7,1630.8 1008.6,1619.8 976.6,1609.2 944.5,1599.0 912.4,1589.2 880.3,1579.9 848.2,1571.1 816.1,1562.7 784.1,1555.0 752.0,1547.8" fill="#fdd88a" fill-opacity="0.6"/>
<polygon points="752.0,1488.9 784.1,1511.3 816.1,1533.7 848.2,1555.8 880.3,1577.6 912.4,1599.1 944.5,1620.0 976.6,1640.2 1008.6,1659.8 1040.7,1678.5 1072.8,1696.3 1104.9,1713.0 1137.0,1728.5 1137.0,1832.6 1104.9,1803.5 1072.8,1775.7 1040.7,1748.9 1008.6,1723.2 976.6,1698.3 944.5,1674.3 912.4,1650.9 880.3,1628.1 848.2,1605.7 816.1,1583.6 784.1,1561.7 752.0,1540.0" fill="#fdd08a" fill-opacity="0.6"/>
<polygon points="752.0,1536.0 784.1,1548.9 816.1,1561.8 848.2,1574.5 880.3,1587.1 912.4,1599.3 944.5,1611.0 976.6,1622.2 1008.6,1632.7 1040.7,1642.4 1072.8,1651.2 1104.9,1659.0 1137.0,1665.7 1137.0,1759.2 1104.9,1739.8 1072.8,1721.6 1040.7,1704.3 1008.6,1688.0 976.6,1672.4 944.5,1657.5 912.4,1643.1 880.3,1629.1 848.2,1615.5 816.1,1602.1 784.1,1588.7 752.0,1575.3" fill="#fdc080" fill-opacity="0.6"/>
<polygon points="752.0,1559.6 784.1,1560.9 816.1,1562.2 848.2,1563.4 880.3,1564.2 912.4,1564.7 944.5,1564.6 976.6,1564.0 1008.6,1562.5 1040.7,1560.3 1072.8,1557.0 1104.9,1552.6 1137.0,1547.0 1137.0,1624.4 1104.9,1617.5 1072.8,1611.7 1040.7,1607.1 1008.6,1603.4 976.6,1600.6 944.5,1598.5 912.4,1597.0 880.3,1596.0 848.2,1595.5 816.1,1595.2 784.1,1595.0 752.0,1595.0" fill="#fdb98a" fill-opacity="0.6"/>
<polygon points="752.0,1545.9 784.1,1541.0 816.1,1536.2 848.2,1531.3 880.3,1526.4 912.4,1521.3 944.5,1515.9 976.6,1510.2 1008.6,1504.1 1040.7,1497.5 1072.8,1490.3 1104.9,1482.5 1137.0,1474.0 1137.0,1532.9 1104.9,1533.2 1072.8,1534.3 1040.7,1535.9 1008.6,1538.2 976.6,1540.9 944.5,1544.1 912.4,1547.6 880.3,1551.4 848.2,1555.3 816.1,1559.4 784.1,1563.4 752.0,1567.5" fill="#f9b090" fill-opacity="0.65"/>
<line x1="752.0" y1="1518.4" x2="1137.0" y2="1643.3" stroke="#fdb93c" stroke-width="2.0" />
<line x1="752.0" y1="1513.6" x2="1137.0" y2="1778.8" stroke="#fcae3c" stroke-width="2.0" stroke-dasharray="3.7 3.1"/>
<line x1="752.0" y1="1556.5" x2="1137.0" y2="1712.8" stroke="#fb9a3a" stroke-width="2.0" stroke-dasharray="8 4"/>
<line x1="752.0" y1="1577.3" x2="1137.0" y2="1585.9" stroke="#fa8e3a" stroke-width="2.0" stroke-dasharray="11 6"/>
<line x1="752.0" y1="1556.5" x2="1137.0" y2="1503.4" stroke="#f5793a" stroke-width="2.1" stroke-dasharray="1.6 6"/>
<rect x="732.7" y="1456.7" width="423.1" height="394.0" fill="none" stroke="#333" stroke-width="1.3"/>
<line x1="742.1" y1="1850.7" x2="742.1" y2="1854.7" stroke="#333" stroke-width="1.1" />
<text x="742.1" y="1871.0" font-size="15.7" text-anchor="middle" fill="#4d4d4d">0</text>
<line x1="840.8" y1="1850.7" x2="840.8" y2="1854.7" stroke="#333" stroke-width="1.1" />
<text x="840.8" y="1871.0" font-size="15.7" text-anchor="middle" fill="#4d4d4d">1</text>
<line x1="939.5" y1="1850.7" x2="939.5" y2="1854.7" stroke="#333" stroke-width="1.1" />
<text x="939.5" y="1871.0" font-size="15.7" text-anchor="middle" fill="#4d4d4d">2</text>
<line x1="1038.3" y1="1850.7" x2="1038.3" y2="1854.7" stroke="#333" stroke-width="1.1" />
<text x="1038.3" y="1871.0" font-size="15.7" text-anchor="middle" fill="#4d4d4d">3</text>
<line x1="1137.0" y1="1850.7" x2="1137.0" y2="1854.7" stroke="#333" stroke-width="1.1" />
<text x="1137.0" y="1871.0" font-size="15.7" text-anchor="middle" fill="#4d4d4d">4</text>
<line x1="728.7" y1="1538.0" x2="732.7" y2="1538.0" stroke="#333" stroke-width="1.1" />
<text x="723.9" y="1543.6" font-size="15.7" text-anchor="end" fill="#4d4d4d">0</text>
<line x1="728.7" y1="1630.3" x2="732.7" y2="1630.3" stroke="#333" stroke-width="1.1" />
<text x="723.9" y="1635.9" font-size="15.7" text-anchor="end" fill="#4d4d4d">−100</text>
<line x1="728.7" y1="1722.7" x2="732.7" y2="1722.7" stroke="#333" stroke-width="1.1" />
<text x="723.9" y="1728.3" font-size="15.7" text-anchor="end" fill="#4d4d4d">−200</text>
<line x1="728.7" y1="1815.0" x2="732.7" y2="1815.0" stroke="#333" stroke-width="1.1" />
<text x="723.9" y="1820.6" font-size="15.7" text-anchor="end" fill="#4d4d4d">−300</text>
<text x="944.5" y="1893.0" font-size="19.2" text-anchor="middle">Bout Length (sec)</text>
<text x="679.0" y="1654.0" font-size="19.2" text-anchor="middle" transform="rotate(-90 679.0 1654.0)">AUC (a.u.)</text>
<text x="1184.9" y="1517.5" font-size="19.2">Date</text>
<rect x="1184.9" y="1529.0" width="55.3" height="55.6" fill="#fde6b4"/>
<line x1="1190.4" y1="1556.7" x2="1234.7" y2="1556.7" stroke="#fdb93c" stroke-width="2.0" />
<text x="1249.9" y="1562.5" font-size="15.7">1</text>
<rect x="1184.9" y="1584.3" width="55.3" height="55.6" fill="#fde0b4"/>
<line x1="1190.4" y1="1612.0" x2="1234.7" y2="1612.0" stroke="#fcae3c" stroke-width="2.0" stroke-dasharray="3.7 3.1"/>
<text x="1249.9" y="1617.8" font-size="15.7">2</text>
<rect x="1184.9" y="1639.6" width="55.3" height="55.6" fill="#fdd8b2"/>
<line x1="1190.4" y1="1667.2" x2="1234.7" y2="1667.2" stroke="#fb9a3a" stroke-width="2.0" stroke-dasharray="8 4"/>
<text x="1249.9" y="1673.0" font-size="15.7">3</text>
<rect x="1184.9" y="1694.9" width="55.3" height="55.6" fill="#fdd3b4"/>
<line x1="1190.4" y1="1722.6" x2="1234.7" y2="1722.6" stroke="#fa8e3a" stroke-width="2.0" stroke-dasharray="11 6"/>
<text x="1249.9" y="1728.4" font-size="15.7">4</text>
<rect x="1184.9" y="1750.2" width="55.3" height="55.6" fill="#fccdb8"/>
<line x1="1190.4" y1="1777.9" x2="1234.7" y2="1777.9" stroke="#f5793a" stroke-width="2.1" stroke-dasharray="1.6 6"/>
<text x="1249.9" y="1783.7" font-size="15.7">5</text>
<text x="669.5" y="1489.5" font-size="29" font-weight="bold">i</text>
<rect x="1364.2" y="1457.2" width="423.0" height="393.9" fill="#fff"/>
<line x1="1413.2" y1="1457.2" x2="1413.2" y2="1851.1" stroke="#f0f0f0" stroke-width="1.0" />
<line x1="1488.7" y1="1457.2" x2="1488.7" y2="1851.1" stroke="#f0f0f0" stroke-width="1.0" />
<line x1="1564.2" y1="1457.2" x2="1564.2" y2="1851.1" stroke="#f0f0f0" stroke-width="1.0" />
<line x1="1639.8" y1="1457.2" x2="1639.8" y2="1851.1" stroke="#f0f0f0" stroke-width="1.0" />
<line x1="1715.3" y1="1457.2" x2="1715.3" y2="1851.1" stroke="#f0f0f0" stroke-width="1.0" />
<line x1="1364.2" y1="1747.9" x2="1787.2" y2="1747.9" stroke="#f0f0f0" stroke-width="1.0" />
<line x1="1364.2" y1="1612.0" x2="1787.2" y2="1612.0" stroke="#f0f0f0" stroke-width="1.0" />
<line x1="1364.2" y1="1476.2" x2="1787.2" y2="1476.2" stroke="#f0f0f0" stroke-width="1.0" />
<line x1="1375.4" y1="1457.2" x2="1375.4" y2="1851.1" stroke="#e8e8e8" stroke-width="1.5" />
<line x1="1450.9" y1="1457.2" x2="1450.9" y2="1851.1" stroke="#e8e8e8" stroke-width="1.5" />
<line x1="1526.5" y1="1457.2" x2="1526.5" y2="1851.1" stroke="#e8e8e8" stroke-width="1.5" />
<line x1="1602.0" y1="1457.2" x2="1602.0" y2="1851.1" stroke="#e8e8e8" stroke-width="1.5" />
<line x1="1677.6" y1="1457.2" x2="1677.6" y2="1851.1" stroke="#e8e8e8" stroke-width="1.5" />
<line x1="1753.1" y1="1457.2" x2="1753.1" y2="1851.1" stroke="#e8e8e8" stroke-width="1.5" />
<line x1="1364.2" y1="1815.8" x2="1787.2" y2="1815.8" stroke="#e8e8e8" stroke-width="1.5" />
<line x1="1364.2" y1="1680.0" x2="1787.2" y2="1680.0" stroke="#e8e8e8" stroke-width="1.5" />
<line x1="1364.2" y1="1544.1" x2="1787.2" y2="1544.1" stroke="#e8e8e8" stroke-width="1.5" />
<polygon points="1383.0,1792.9 1415.1,1773.9 1447.2,1754.6 1479.3,1735.0 1511.4,1715.2 1543.5,1695.0 1575.6,1674.4 1607.7,1653.5 1639.8,1632.2 1671.9,1610.5 1704.0,1588.3 1736.1,1565.7 1768.2,1542.6 1768.2,1598.9 1736.1,1615.7 1704.0,1633.1 1671.9,1651.1 1639.8,1669.7 1607.7,1688.8 1575.6,1708.4 1543.5,1728.4 1511.4,1748.8 1479.3,1769.6 1447.2,1790.7 1415.1,1812.1 1383.0,1833.7" fill="#a9d0e8" fill-opacity="0.65"/>
<polygon points="1383.0,1787.1 1415.1,1762.8 1447.2,1738.3 1479.3,1713.7 1511.4,1688.9 1543.5,1663.8 1575.6,1638.3 1607.7,1612.4 1639.8,1586.1 1671.9,1559.2 1704.0,1531.7 1736.1,1503.5 1768.2,1474.7 1768.2,1538.7 1736.1,1559.2 1704.0,1580.5 1671.9,1602.4 1639.8,1625.0 1607.7,1648.1 1575.6,1671.6 1543.5,1695.5 1511.4,1719.7 1479.3,1744.2 1447.2,1768.8 1415.1,1793.5 1383.0,1818.1" fill="#8fbfe0" fill-opacity="0.65"/>
<polygon points="1383.0,1798.7 1415.1,1782.9 1447.2,1767.1 1479.3,1751.2 1511.4,1735.1 1543.5,1719.0 1575.6,1702.6 1607.7,1685.9 1639.8,1669.0 1671.9,1651.6 1704.0,1633.9 1736.1,1615.7 1768.2,1596.9 1768.2,1639.6 1736.1,1652.7 1704.0,1666.2 1671.9,1680.2 1639.8,1694.6 1607.7,1709.3 1575.6,1724.3 1543.5,1739.6 1511.4,1755.1 1479.3,1770.7 1447.2,1786.5 1415.1,1802.3 1383.0,1818.1" fill="#85aed6" fill-opacity="0.65"/>
<polygon points="1383.0,1796.8 1415.1,1774.3 1447.2,1751.8 1479.3,1729.2 1511.4,1706.5 1543.5,1683.5 1575.6,1660.4 1607.7,1636.9 1639.8,1613.1 1671.9,1588.9 1704.0,1564.3 1736.1,1539.1 1768.2,1513.5 1768.2,1558.1 1736.1,1578.3 1704.0,1599.0 1671.9,1620.1 1639.8,1641.5 1607.7,1663.4 1575.6,1685.5 1543.5,1707.9 1511.4,1730.7 1479.3,1753.7 1447.2,1776.9 1415.1,1800.3 1383.0,1823.9" fill="#6f98c8" fill-opacity="0.7"/>
<line x1="1383.0" y1="1812.3" x2="1768.2" y2="1567.8" stroke="#6baed6" stroke-width="2.0" />
<line x1="1383.0" y1="1804.5" x2="1768.2" y2="1506.9" stroke="#4a98c9" stroke-width="2.0" stroke-dasharray="3.7 3.1"/>
<line x1="1383.0" y1="1808.4" x2="1768.2" y2="1619.0" stroke="#3d82c4" stroke-width="2.0" stroke-dasharray="8 4"/>
<line x1="1383.0" y1="1808.4" x2="1768.2" y2="1536.8" stroke="#1d5fa5" stroke-width="2.1" stroke-dasharray="11 6"/>
<rect x="1364.2" y="1457.2" width="423.0" height="393.9" fill="none" stroke="#333" stroke-width="1.3"/>
<line x1="1375.4" y1="1851.1" x2="1375.4" y2="1855.1" stroke="#333" stroke-width="1.1" />
<text x="1375.4" y="1871.4" font-size="15.7" text-anchor="middle" fill="#4d4d4d">0</text>
<line x1="1450.9" y1="1851.1" x2="1450.9" y2="1855.1" stroke="#333" stroke-width="1.1" />
<text x="1450.9" y="1871.4" font-size="15.7" text-anchor="middle" fill="#4d4d4d">1</text>
<line x1="1526.5" y1="1851.1" x2="1526.5" y2="1855.1" stroke="#333" stroke-width="1.1" />
<text x="1526.5" y="1871.4" font-size="15.7" text-anchor="middle" fill="#4d4d4d">2</text>
<line x1="1602.0" y1="1851.1" x2="1602.0" y2="1855.1" stroke="#333" stroke-width="1.1" />
<text x="1602.0" y="1871.4" font-size="15.7" text-anchor="middle" fill="#4d4d4d">3</text>
<line x1="1677.6" y1="1851.1" x2="1677.6" y2="1855.1" stroke="#333" stroke-width="1.1" />
<text x="1677.6" y="1871.4" font-size="15.7" text-anchor="middle" fill="#4d4d4d">4</text>
<line x1="1753.1" y1="1851.1" x2="1753.1" y2="1855.1" stroke="#333" stroke-width="1.1" />
<text x="1753.1" y="1871.4" font-size="15.7" text-anchor="middle" fill="#4d4d4d">5</text>
<line x1="1360.2" y1="1815.8" x2="1364.2" y2="1815.8" stroke="#333" stroke-width="1.1" />
<text x="1355.4" y="1821.4" font-size="15.7" text-anchor="end" fill="#4d4d4d">0</text>
<line x1="1360.2" y1="1680.0" x2="1364.2" y2="1680.0" stroke="#333" stroke-width="1.1" />
<text x="1355.4" y="1685.5" font-size="15.7" text-anchor="end" fill="#4d4d4d">500</text>
<line x1="1360.2" y1="1544.1" x2="1364.2" y2="1544.1" stroke="#333" stroke-width="1.1" />
<text x="1355.4" y="1549.7" font-size="15.7" text-anchor="end" fill="#4d4d4d">1000</text>
<text x="1575.5" y="1893.5" font-size="19.2" text-anchor="middle">Bout Length (sec)</text>
<text x="1310.5" y="1654.0" font-size="19.2" text-anchor="middle" transform="rotate(-90 1310.5 1654.0)">AUC (a.u.)</text>
<text x="1816.3" y="1545.4" font-size="19.2">Date</text>
<rect x="1816.3" y="1556.9" width="55.3" height="55.6" fill="#c8e0f0"/>
<line x1="1821.8" y1="1584.6" x2="1866.1" y2="1584.6" stroke="#6baed6" stroke-width="2.0" />
<text x="1881.3" y="1590.4" font-size="15.7">1</text>
<rect x="1816.3" y="1612.2" width="55.3" height="55.6" fill="#b9d4e8"/>
<line x1="1821.8" y1="1639.9" x2="1866.1" y2="1639.9" stroke="#4a98c9" stroke-width="2.0" stroke-dasharray="3.7 3.1"/>
<text x="1881.3" y="1645.7" font-size="15.7">2</text>
<rect x="1816.3" y="1667.5" width="55.3" height="55.6" fill="#b0c9e2"/>
<line x1="1821.8" y1="1695.2" x2="1866.1" y2="1695.2" stroke="#3d82c4" stroke-width="2.0" stroke-dasharray="8 4"/>
<text x="1881.3" y="1701.0" font-size="15.7">3</text>
<rect x="1816.3" y="1722.8" width="55.3" height="55.6" fill="#a1b9da"/>
<line x1="1821.8" y1="1750.5" x2="1866.1" y2="1750.5" stroke="#1d5fa5" stroke-width="2.1" stroke-dasharray="11 6"/>
<text x="1881.3" y="1756.3" font-size="15.7">4</text>
<text x="1301.0" y="1478.5" font-size="29" font-weight="bold">j</text>
</g>
<g id="panel_klm">
<rect x="118.2" y="1927.8" width="492.2" height="504.7" fill="#fff"/>
<rect x="139.8" y="2322.9" width="68.4" height="87.4" fill="#6b8fc5"/>
<rect x="215.9" y="2315.2" width="68.4" height="95.1" fill="#6b8fc5"/>
<rect x="292.0" y="2313.6" width="68.4" height="96.7" fill="#6b8fc5"/>
<rect x="368.1" y="2297.8" width="68.4" height="112.5" fill="#6b8fc5"/>
<rect x="444.0" y="2223.7" width="68.4" height="186.6" fill="#fdb896"/>
<rect x="520.0" y="2287.3" width="68.4" height="123.0" fill="#6b8fc5"/>
<line x1="118.2" y1="2322.9" x2="610.4" y2="2322.9" stroke="#000" stroke-width="1.4" stroke-dasharray="7.5 4.5"/>
<line x1="118.2" y1="2410.3" x2="610.4" y2="2410.3" stroke="#000" stroke-width="1.4" />
<path d="M238.7,2303.4 H261.5 M250.1,2303.4 V2327.7 M238.7,2327.7 H261.5" fill="none" stroke="#000" stroke-width="1.4"/>
<path d="M314.8,2299.4 H337.6 M326.2,2299.4 V2327.7 M314.8,2327.7 H337.6" fill="none" stroke="#000" stroke-width="1.4"/>
<path d="M390.9,2286.4 H413.7 M402.3,2286.4 V2309.9 M390.9,2309.9 H413.7" fill="none" stroke="#000" stroke-width="1.4"/>
<path d="M466.8,2183.2 H489.6 M478.2,2183.2 V2264.6 M466.8,2264.6 H489.6" fill="none" stroke="#000" stroke-width="1.4"/>
<path d="M542.8,2279.1 H565.6 M554.2,2279.1 V2295.7 M542.8,2295.7 H565.6" fill="none" stroke="#000" stroke-width="1.4"/>
<circle cx="166.8" cy="2322.9" r="3.9" fill="#000"/>
<circle cx="170.4" cy="2322.9" r="3.9" fill="#000"/>
<circle cx="174.0" cy="2322.9" r="3.9" fill="#000"/>
<circle cx="177.7" cy="2322.9" r="3.9" fill="#000"/>
<circle cx="187.4" cy="2322.9" r="3.9" fill="#000"/>
<circle cx="243.7" cy="2264.6" r="3.9" fill="#000"/>
<circle cx="262.3" cy="2259.7" r="3.9" fill="#000"/>
<circle cx="250.1" cy="2292.9" r="3.9" fill="#000"/>
<circle cx="260.7" cy="2313.1" r="3.9" fill="#000"/>
<circle cx="242.0" cy="2335.8" r="3.9" fill="#000"/>
<circle cx="263.5" cy="2334.2" r="3.9" fill="#000"/>
<circle cx="263.1" cy="2339.9" r="3.9" fill="#000"/>
<circle cx="238.8" cy="2345.9" r="3.9" fill="#000"/>
<circle cx="250.5" cy="2352.0" r="3.9" fill="#000"/>
<circle cx="317.7" cy="2241.1" r="3.9" fill="#000"/>
<circle cx="322.6" cy="2281.2" r="3.9" fill="#000"/>
<circle cx="338.0" cy="2285.6" r="3.9" fill="#000"/>
<circle cx="314.1" cy="2303.8" r="3.9" fill="#000"/>
<circle cx="332.7" cy="2322.5" r="3.9" fill="#000"/>
<circle cx="322.2" cy="2328.1" r="3.9" fill="#000"/>
<circle cx="326.2" cy="2341.1" r="3.9" fill="#000"/>
<circle cx="333.1" cy="2342.3" r="3.9" fill="#000"/>
<circle cx="336.4" cy="2375.9" r="3.9" fill="#000"/>
<circle cx="413.7" cy="2243.1" r="3.9" fill="#000"/>
<circle cx="407.2" cy="2258.5" r="3.9" fill="#000"/>
<circle cx="393.4" cy="2277.1" r="3.9" fill="#000"/>
<circle cx="414.5" cy="2284.8" r="3.9" fill="#000"/>
<circle cx="395.9" cy="2315.2" r="3.9" fill="#000"/>
<circle cx="392.2" cy="2316.8" r="3.9" fill="#000"/>
<circle cx="408.8" cy="2320.4" r="3.9" fill="#000"/>
<circle cx="416.9" cy="2323.7" r="3.9" fill="#000"/>
<circle cx="391.4" cy="2341.9" r="3.9" fill="#000"/>
<circle cx="492.6" cy="1950.1" r="3.9" fill="#000"/>
<circle cx="489.8" cy="2153.3" r="3.9" fill="#000"/>
<circle cx="465.1" cy="2220.0" r="3.9" fill="#000"/>
<circle cx="489.8" cy="2225.3" r="3.9" fill="#000"/>
<circle cx="484.1" cy="2254.5" r="3.9" fill="#000"/>
<circle cx="480.9" cy="2291.7" r="3.9" fill="#000"/>
<circle cx="476.4" cy="2293.7" r="3.9" fill="#000"/>
<circle cx="485.7" cy="2303.4" r="3.9" fill="#000"/>
<circle cx="488.5" cy="2321.2" r="3.9" fill="#000"/>
<circle cx="539.1" cy="2264.6" r="3.9" fill="#000"/>
<circle cx="557.8" cy="2267.4" r="3.9" fill="#000"/>
<circle cx="562.6" cy="2267.4" r="3.9" fill="#000"/>
<circle cx="565.4" cy="2270.6" r="3.9" fill="#000"/>
<circle cx="545.2" cy="2276.3" r="3.9" fill="#000"/>
<circle cx="549.7" cy="2298.6" r="3.9" fill="#000"/>
<circle cx="559.0" cy="2297.4" r="3.9" fill="#000"/>
<circle cx="554.1" cy="2317.6" r="3.9" fill="#000"/>
<circle cx="554.5" cy="2326.5" r="3.9" fill="#000"/>
<rect x="118.2" y="1927.8" width="492.2" height="504.7" fill="none" stroke="#1a1a1a" stroke-width="1.3"/>
<line x1="174.0" y1="2432.5" x2="174.0" y2="2437.5" stroke="#1a1a1a" stroke-width="1.3" />
<text x="174.0" y="2455.0" font-size="16.7" text-anchor="middle">1</text>
<line x1="250.1" y1="2432.5" x2="250.1" y2="2437.5" stroke="#1a1a1a" stroke-width="1.3" />
<text x="250.1" y="2455.0" font-size="16.7" text-anchor="middle">2</text>
<line x1="326.2" y1="2432.5" x2="326.2" y2="2437.5" stroke="#1a1a1a" stroke-width="1.3" />
<text x="326.2" y="2455.0" font-size="16.7" text-anchor="middle">3</text>
<line x1="402.3" y1="2432.5" x2="402.3" y2="2437.5" stroke="#1a1a1a" stroke-width="1.3" />
<text x="402.3" y="2455.0" font-size="16.7" text-anchor="middle">4</text>
<line x1="478.2" y1="2432.5" x2="478.2" y2="2437.5" stroke="#1a1a1a" stroke-width="1.3" />
<text x="478.2" y="2455.0" font-size="16.7" text-anchor="middle">5</text>
<line x1="554.2" y1="2432.5" x2="554.2" y2="2437.5" stroke="#1a1a1a" stroke-width="1.3" />
<text x="554.2" y="2455.0" font-size="16.7" text-anchor="middle">6</text>
<line x1="113.2" y1="2410.3" x2="118.2" y2="2410.3" stroke="#1a1a1a" stroke-width="1.3" />
<text x="107.9" y="2416.5" font-size="17.2" text-anchor="end">0</text>
<line x1="113.2" y1="2235.4" x2="118.2" y2="2235.4" stroke="#1a1a1a" stroke-width="1.3" />
<text x="107.9" y="2241.6" font-size="17.2" text-anchor="end">200</text>
<line x1="113.2" y1="2060.6" x2="118.2" y2="2060.6" stroke="#1a1a1a" stroke-width="1.3" />
<text x="107.9" y="2066.8" font-size="17.2" text-anchor="end">400</text>
<text x="362.3" y="2471.0" font-size="19.2" text-anchor="middle">Day</text>
<text x="54.5" y="2200.6" font-size="19.4" text-anchor="middle" transform="rotate(-90 54.5 2200.6)">Percent of Day 1 GCaMP transient numnber</text>
<rect x="126.3" y="1933.5" width="172.0" height="76.1" fill="#fff" stroke="#1a1a1a" stroke-width="1.5"/>
<text x="134.9" y="1954.7" font-size="17.444">Treatment</text>
<rect x="130.4" y="1963.3" width="17.2" height="16.9" fill="#6b8fc5"/>
<rect x="130.4" y="1982.4" width="17.2" height="16.9" fill="#fdb896"/>
<text x="157.1" y="1977.3" font-size="14.014000000000001">Saline</text>
<text x="157.1" y="1996.1" font-size="14.014000000000001">Rimonabant (2mg/kg)</text>
<text x="25.5" y="1959.7" font-size="29" font-weight="bold">k</text>
<rect x="835.7" y="1928.6" width="380.4" height="503.0" fill="#fff"/>
<rect x="868.5" y="2260.8" width="132.6" height="148.6" fill="#6b8fc5"/>
<rect x="1050.4" y="2171.0" width="132.6" height="238.4" fill="#fdb896"/>
<line x1="835.7" y1="2409.4" x2="1216.1" y2="2409.4" stroke="#000" stroke-width="1.4" />
<line x1="934.4" y1="2146.8" x2="1116.7" y2="2052.9" stroke="#555" stroke-width="0.9" />
<line x1="932.4" y1="2167.5" x2="1114.3" y2="2162.7" stroke="#555" stroke-width="0.9" />
<line x1="938.2" y1="2178.6" x2="1114.0" y2="2127.8" stroke="#555" stroke-width="0.9" />
<line x1="934.4" y1="2235.6" x2="1118.1" y2="2178.9" stroke="#555" stroke-width="0.9" />
<line x1="938.9" y1="2265.9" x2="1120.5" y2="2103.0" stroke="#555" stroke-width="0.9" />
<line x1="936.2" y1="2301.1" x2="1120.9" y2="2215.9" stroke="#555" stroke-width="0.9" />
<line x1="935.8" y1="2337.4" x2="1115.7" y2="2204.5" stroke="#555" stroke-width="0.9" />
<line x1="933.7" y1="2340.2" x2="1115.0" y2="2241.8" stroke="#555" stroke-width="0.9" />
<line x1="937.5" y1="2378.5" x2="1118.1" y2="2252.5" stroke="#555" stroke-width="0.9" />
<path d="M927.9,2231.1 H941.3 M934.6,2231.1 V2290.4 M927.9,2290.4 H941.3" fill="none" stroke="#000" stroke-width="1.5"/>
<path d="M1110.2,2147.5 H1123.6 M1116.9,2147.5 V2194.1 M1110.2,2194.1 H1123.6" fill="none" stroke="#000" stroke-width="1.5"/>
<circle cx="934.4" cy="2146.8" r="5.2" fill="#000"/>
<circle cx="932.4" cy="2167.5" r="5.2" fill="#000"/>
<circle cx="938.2" cy="2178.6" r="5.2" fill="#000"/>
<circle cx="934.4" cy="2235.6" r="5.2" fill="#000"/>
<circle cx="938.9" cy="2265.9" r="5.2" fill="#000"/>
<circle cx="936.2" cy="2301.1" r="5.2" fill="#000"/>
<circle cx="935.8" cy="2337.4" r="5.2" fill="#000"/>
<circle cx="933.7" cy="2340.2" r="5.2" fill="#000"/>
<circle cx="937.5" cy="2378.5" r="5.2" fill="#000"/>
<circle cx="1116.7" cy="2052.9" r="5.2" fill="#000"/>
<circle cx="1114.3" cy="2162.7" r="5.2" fill="#000"/>
<circle cx="1114.0" cy="2127.8" r="5.2" fill="#000"/>
<circle cx="1118.1" cy="2178.9" r="5.2" fill="#000"/>
<circle cx="1120.5" cy="2103.0" r="5.2" fill="#000"/>
<circle cx="1120.9" cy="2215.9" r="5.2" fill="#000"/>
<circle cx="1115.7" cy="2204.5" r="5.2" fill="#000"/>
<circle cx="1115.0" cy="2241.8" r="5.2" fill="#000"/>
<circle cx="1118.1" cy="2252.5" r="5.2" fill="#000"/>
<rect x="835.7" y="1928.6" width="380.4" height="503.0" fill="none" stroke="#1a1a1a" stroke-width="1.3"/>
<line x1="934.8" y1="2431.6" x2="934.8" y2="2436.6" stroke="#1a1a1a" stroke-width="1.3" />
<text x="934.8" y="2455.5" font-size="17" text-anchor="middle">1</text>
<line x1="1117.1" y1="2431.6" x2="1117.1" y2="2436.6" stroke="#1a1a1a" stroke-width="1.3" />
<text x="1117.1" y="2455.5" font-size="17" text-anchor="middle">5</text>
<line x1="830.7" y1="2409.4" x2="835.7" y2="2409.4" stroke="#1a1a1a" stroke-width="1.3" />
<text x="826.2" y="2415.7" font-size="17.6" text-anchor="end">0.000</text>
<line x1="830.7" y1="2313.8" x2="835.7" y2="2313.8" stroke="#1a1a1a" stroke-width="1.3" />
<text x="826.2" y="2320.1" font-size="17.6" text-anchor="end">0.025</text>
<line x1="830.7" y1="2218.1" x2="835.7" y2="2218.1" stroke="#1a1a1a" stroke-width="1.3" />
<text x="826.2" y="2224.4" font-size="17.6" text-anchor="end">0.050</text>
<line x1="830.7" y1="2122.5" x2="835.7" y2="2122.5" stroke="#1a1a1a" stroke-width="1.3" />
<text x="826.2" y="2128.8" font-size="17.6" text-anchor="end">0.075</text>
<line x1="830.7" y1="2026.9" x2="835.7" y2="2026.9" stroke="#1a1a1a" stroke-width="1.3" />
<text x="826.2" y="2033.2" font-size="17.6" text-anchor="end">0.100</text>
<line x1="830.7" y1="1931.3" x2="835.7" y2="1931.3" stroke="#1a1a1a" stroke-width="1.3" />
<text x="826.2" y="1937.6" font-size="17.6" text-anchor="end">0.125</text>
<text x="1023.5" y="2471.3" font-size="19.2" text-anchor="middle">Day</text>
<text x="752.5" y="2195.0" font-size="19.2" text-anchor="middle" transform="rotate(-90 752.5 2195.0)">Frequency Day 1 vs. Day 5 (Hz)</text>
<path d="M921.7,2041.9 V2036.7 H1117.4 V2041.9" fill="none" stroke="#000" stroke-width="1.5"/>
<text x="1020.4" y="2039.8" font-size="37" text-anchor="middle" font-weight="bold" fill="#1a1a1a" letter-spacing="1.2">***</text>
<rect x="844.0" y="1932.4" width="174.3" height="77.7" fill="#fff" stroke="#1a1a1a" stroke-width="1.5"/>
<text x="852.8" y="1954.0" font-size="17.8">Treatment</text>
<rect x="848.2" y="1962.8" width="17.6" height="17.2" fill="#6b8fc5"/>
<rect x="848.2" y="1982.3" width="17.6" height="17.2" fill="#fdb896"/>
<text x="875.4" y="1977.1" font-size="14.3">Saline</text>
<text x="875.4" y="1996.3" font-size="14.3">Rimonabant (2mg/kg)</text>
<text x="713.5" y="1960.0" font-size="29" font-weight="bold">l</text>
<rect x="1466.7" y="1927.3" width="381.4" height="504.3" fill="#fff"/>
<rect x="1499.8" y="2226.9" width="132.9" height="182.5" fill="#6b8fc5"/>
<rect x="1682.8" y="2170.3" width="132.2" height="239.1" fill="#fdb896"/>
<line x1="1466.7" y1="2409.4" x2="1848.1" y2="2409.4" stroke="#000" stroke-width="1.4" />
<line x1="1562.6" y1="2031.9" x2="1746.3" y2="2051.9" stroke="#555" stroke-width="0.9" />
<line x1="1562.6" y1="2145.1" x2="1747.0" y2="2176.5" stroke="#555" stroke-width="0.9" />
<line x1="1565.4" y1="2157.2" x2="1746.3" y2="2125.1" stroke="#555" stroke-width="0.9" />
<line x1="1563.0" y1="2168.9" x2="1747.0" y2="2163.7" stroke="#555" stroke-width="0.9" />
<line x1="1568.5" y1="2260.4" x2="1746.0" y2="2105.1" stroke="#555" stroke-width="0.9" />
<line x1="1565.4" y1="2272.8" x2="1746.3" y2="2252.1" stroke="#555" stroke-width="0.9" />
<line x1="1564.4" y1="2321.9" x2="1746.3" y2="2201.0" stroke="#555" stroke-width="0.9" />
<line x1="1565.1" y1="2332.6" x2="1750.8" y2="2217.9" stroke="#555" stroke-width="0.9" />
<line x1="1564.0" y1="2356.4" x2="1749.8" y2="2242.8" stroke="#555" stroke-width="0.9" />
<path d="M1538.8,2188.3 H1593.4 M1566.1,2188.3 V2265.2 M1538.8,2265.2 H1593.4" fill="none" stroke="#000" stroke-width="1.5"/>
<path d="M1721.4,2146.8 H1776.0 M1748.7,2146.8 V2193.8 M1721.4,2193.8 H1776.0" fill="none" stroke="#000" stroke-width="1.5"/>
<circle cx="1562.6" cy="2031.9" r="5.2" fill="#000"/>
<circle cx="1562.6" cy="2145.1" r="5.2" fill="#000"/>
<circle cx="1565.4" cy="2157.2" r="5.2" fill="#000"/>
<circle cx="1563.0" cy="2168.9" r="5.2" fill="#000"/>
<circle cx="1568.5" cy="2260.4" r="5.2" fill="#000"/>
<circle cx="1565.4" cy="2272.8" r="5.2" fill="#000"/>
<circle cx="1564.4" cy="2321.9" r="5.2" fill="#000"/>
<circle cx="1565.1" cy="2332.6" r="5.2" fill="#000"/>
<circle cx="1564.0" cy="2356.4" r="5.2" fill="#000"/>
<circle cx="1746.3" cy="2051.9" r="5.2" fill="#000"/>
<circle cx="1747.0" cy="2176.5" r="5.2" fill="#000"/>
<circle cx="1746.3" cy="2125.1" r="5.2" fill="#000"/>
<circle cx="1747.0" cy="2163.7" r="5.2" fill="#000"/>
<circle cx="1746.0" cy="2105.1" r="5.2" fill="#000"/>
<circle cx="1746.3" cy="2252.1" r="5.2" fill="#000"/>
<circle cx="1746.3" cy="2201.0" r="5.2" fill="#000"/>
<circle cx="1750.8" cy="2217.9" r="5.2" fill="#000"/>
<circle cx="1749.8" cy="2242.8" r="5.2" fill="#000"/>
<rect x="1466.7" y="1927.3" width="381.4" height="504.3" fill="none" stroke="#1a1a1a" stroke-width="1.3"/>
<line x1="1566.1" y1="2431.6" x2="1566.1" y2="2436.6" stroke="#1a1a1a" stroke-width="1.3" />
<text x="1566.1" y="2455.5" font-size="17" text-anchor="middle">4</text>
<line x1="1748.7" y1="2431.6" x2="1748.7" y2="2436.6" stroke="#1a1a1a" stroke-width="1.3" />
<text x="1748.7" y="2455.5" font-size="17" text-anchor="middle">5</text>
<line x1="1461.7" y1="2409.4" x2="1466.7" y2="2409.4" stroke="#1a1a1a" stroke-width="1.3" />
<text x="1457.2" y="2415.7" font-size="17.6" text-anchor="end">0.000</text>
<line x1="1461.7" y1="2313.8" x2="1466.7" y2="2313.8" stroke="#1a1a1a" stroke-width="1.3" />
<text x="1457.2" y="2320.1" font-size="17.6" text-anchor="end">0.025</text>
<line x1="1461.7" y1="2218.1" x2="1466.7" y2="2218.1" stroke="#1a1a1a" stroke-width="1.3" />
<text x="1457.2" y="2224.4" font-size="17.6" text-anchor="end">0.050</text>
<line x1="1461.7" y1="2122.5" x2="1466.7" y2="2122.5" stroke="#1a1a1a" stroke-width="1.3" />
<text x="1457.2" y="2128.8" font-size="17.6" text-anchor="end">0.075</text>
<line x1="1461.7" y1="2026.9" x2="1466.7" y2="2026.9" stroke="#1a1a1a" stroke-width="1.3" />
<text x="1457.2" y="2033.2" font-size="17.6" text-anchor="end">0.100</text>
<line x1="1461.7" y1="1931.3" x2="1466.7" y2="1931.3" stroke="#1a1a1a" stroke-width="1.3" />
<text x="1457.2" y="1937.6" font-size="17.6" text-anchor="end">0.125</text>
<text x="1655.0" y="2471.3" font-size="19.2" text-anchor="middle">Day</text>
<text x="1382.5" y="2195.0" font-size="19.2" text-anchor="middle" transform="rotate(-90 1382.5 2195.0)">Frequency Day 4 vs. Day 5 (Hz)</text>
<path d="M1562.6,2021.2 V2016.0 H1747.0 V2021.2" fill="none" stroke="#000" stroke-width="1.5"/>
<text x="1664.1" y="2015.3" font-size="37" text-anchor="middle" font-weight="bold" fill="#1a1a1a" letter-spacing="1.2">*</text>
<rect x="1470.8" y="1931.0" width="174.7" height="77.7" fill="#fff" stroke="#1a1a1a" stroke-width="1.5"/>
<text x="1479.6" y="1952.6" font-size="17.8">Treatment</text>
<rect x="1475.0" y="1961.4" width="17.6" height="17.2" fill="#6b8fc5"/>
<rect x="1475.0" y="1980.9" width="17.6" height="17.2" fill="#fdb896"/>
<text x="1502.2" y="1975.7" font-size="14.3">Saline</text>
<text x="1502.2" y="1994.9" font-size="14.3">Rimonabant (2mg/kg)</text>
<text x="1340.5" y="1948.5" font-size="29" font-weight="bold">m</text>
</g>
</svg>
</body></html>
